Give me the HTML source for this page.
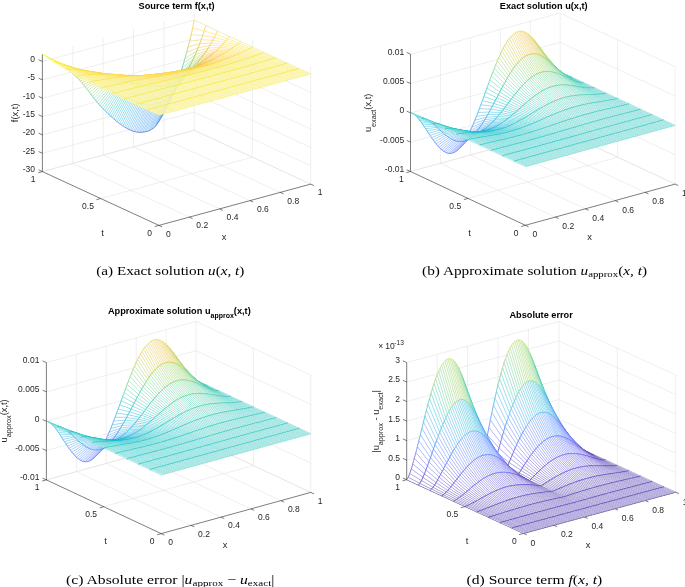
<!DOCTYPE html>
<html><head><meta charset="utf-8"><style>
html,body{margin:0;padding:0;background:#fff;width:685px;height:587px;overflow:hidden}
svg{display:block;will-change:transform}
.g{stroke:#dfdfdf;stroke-width:.5;fill:none}
.a{stroke:#262626;stroke-width:.6;fill:none}
text{font-family:"Liberation Sans",sans-serif;fill:#262626}
.t{font-size:8.5px}
.ti{font-size:9.2px;font-weight:bold;fill:#000}
.sub{font-size:6.5px}
.tsub{font-size:7px}
.l{font-size:9.35px}
.lsub{font-size:7.2px}
.sup{font-size:6.6px}
.cap{font-family:"Liberation Serif",serif;font-size:13px;fill:#000}
.it{font-style:italic}
.csub{font-size:9.2px}
path[class^=c]{fill:#fff;stroke-width:3}
path[class^=e]{fill:none;stroke-width:4.5}
.c0,.e0{stroke:#3e26a8}
.c1,.e1{stroke:#402ab4}
.c2,.e2{stroke:#422ec0}
.c3,.e3{stroke:#4332cb}
.c4,.e4{stroke:#4537d5}
.c5,.e5{stroke:#463cde}
.c6,.e6{stroke:#4741e5}
.c7,.e7{stroke:#4747eb}
.c8,.e8{stroke:#484df0}
.c9,.e9{stroke:#4852f4}
.c10,.e10{stroke:#4758f8}
.c11,.e11{stroke:#465efb}
.c12,.e12{stroke:#4563fd}
.c13,.e13{stroke:#4269fe}
.c14,.e14{stroke:#3e6fff}
.c15,.e15{stroke:#3875fe}
.c16,.e16{stroke:#327cfc}
.c17,.e17{stroke:#2f81fa}
.c18,.e18{stroke:#2e87f7}
.c19,.e19{stroke:#2d8cf3}
.c20,.e20{stroke:#2b91ef}
.c21,.e21{stroke:#2797eb}
.c22,.e22{stroke:#259be8}
.c23,.e23{stroke:#23a0e5}
.c24,.e24{stroke:#20a5e3}
.c25,.e25{stroke:#1ca9df}
.c26,.e26{stroke:#18addb}
.c27,.e27{stroke:#12b1d6}
.c28,.e28{stroke:#08b5d0}
.c29,.e29{stroke:#01b8ca}
.c30,.e30{stroke:#02bac3}
.c31,.e31{stroke:#0bbdbd}
.c32,.e32{stroke:#19bfb6}
.c33,.e33{stroke:#24c1ae}
.c34,.e34{stroke:#2cc4a7}
.c35,.e35{stroke:#31c69f}
.c36,.e36{stroke:#37c897}
.c37,.e37{stroke:#3fca8e}
.c38,.e38{stroke:#4acb84}
.c39,.e39{stroke:#57cc7a}
.c40,.e40{stroke:#64cd6f}
.c41,.e41{stroke:#72cd64}
.c42,.e42{stroke:#81cc59}
.c43,.e43{stroke:#8fcb4e}
.c44,.e44{stroke:#9dc943}
.c45,.e45{stroke:#abc739}
.c46,.e46{stroke:#b9c431}
.c47,.e47{stroke:#c5c22a}
.c48,.e48{stroke:#d1bf27}
.c49,.e49{stroke:#dcbd29}
.c50,.e50{stroke:#e6bb2d}
.c51,.e51{stroke:#f0ba36}
.c52,.e52{stroke:#f8ba3d}
.c53,.e53{stroke:#febe3c}
.c54,.e54{stroke:#fec338}
.c55,.e55{stroke:#fec934}
.c56,.e56{stroke:#fccf30}
.c57,.e57{stroke:#fad62d}
.c58,.e58{stroke:#f7dc2a}
.c59,.e59{stroke:#f5e327}
.c60,.e60{stroke:#f5e924}
.c61,.e61{stroke:#f6ef20}
.c62,.e62{stroke:#f7f51b}
.c63,.e63{stroke:#f9fb15}
</style></head><body>
<svg width="685" height="587" viewBox="0 0 685 587">
<path class="g" d="M189.3 217.1L72.8 163.4"/>
<path class="g" d="M219.6 208.9L103.2 155.1"/>
<path class="g" d="M250 200.6L133.5 146.8"/>
<path class="g" d="M280.3 192.4L163.9 138.6"/>
<path class="g" d="M310.7 184.1L194.2 130.3"/>
<path class="g" d="M100.7 198.5L252.4 157.2"/>
<path class="g" d="M42.4 171.6L194.2 130.3"/>
<path class="g" d="M72.8 163.4L72.8 45.9"/>
<path class="g" d="M103.2 155.1L103.2 37.7"/>
<path class="g" d="M133.5 146.8L133.5 29.4"/>
<path class="g" d="M163.9 138.6L163.9 21.2"/>
<path class="g" d="M194.2 130.3L194.2 12.9"/>
<path class="g" d="M42.4 171.6L194.2 130.3"/>
<path class="g" d="M194.2 130.3L310.7 184.1"/>
<path class="g" d="M42.4 153.3L194.2 112"/>
<path class="g" d="M194.2 112L310.7 165.8"/>
<path class="g" d="M42.4 134.9L194.2 93.6"/>
<path class="g" d="M194.2 93.6L310.7 147.4"/>
<path class="g" d="M42.4 116.6L194.2 75.3"/>
<path class="g" d="M194.2 75.3L310.7 129.1"/>
<path class="g" d="M42.4 98.2L194.2 56.9"/>
<path class="g" d="M194.2 56.9L310.7 110.7"/>
<path class="g" d="M42.4 79.9L194.2 38.6"/>
<path class="g" d="M194.2 38.6L310.7 92.4"/>
<path class="g" d="M42.4 61.5L194.2 20.2"/>
<path class="g" d="M194.2 20.2L310.7 74"/>
<path class="g" d="M310.7 184.1L310.7 66.7"/>
<path class="g" d="M252.4 157.2L252.4 39.8"/>
<path class="a" d="M158.9 225.4L310.7 184.1"/>
<path class="a" d="M158.9 225.4L42.4 171.6"/>
<path class="a" d="M42.4 171.6L42.4 54.2"/>
<path class="a" d="M158.9 225.4L162.2 226.9"/>
<path class="a" d="M189.3 217.1L192.5 218.7"/>
<path class="a" d="M219.6 208.9L222.9 210.4"/>
<path class="a" d="M250 200.6L253.2 202.1"/>
<path class="a" d="M280.3 192.4L283.6 193.9"/>
<path class="a" d="M310.7 184.1L313.9 185.6"/>
<path class="a" d="M158.9 225.4L154.7 226.6"/>
<path class="a" d="M100.7 198.5L96.4 199.7"/>
<path class="a" d="M42.4 171.6L38.2 172.8"/>
<path class="a" d="M42.4 171.6L38.6 169.8"/>
<path class="a" d="M42.4 153.3L38.6 151.5"/>
<path class="a" d="M42.4 134.9L38.6 133.1"/>
<path class="a" d="M42.4 116.6L38.6 114.8"/>
<path class="a" d="M42.4 98.2L38.6 96.4"/>
<path class="a" d="M42.4 79.9L38.6 78.1"/>
<path class="a" d="M42.4 61.5L38.6 59.7"/>
<g transform="scale(.1)"><path class=c21 d="M1664 993l15-13l-116 271l-15 19z"/>
<path class=e1 d="M1548 1270l15-19"/>
<path class=c21 d="M1679 980l15-16l-116 266l-15 21z"/>
<path class=e2 d="M1563 1251l15-21"/>
<path class=c21 d="M1649 1003l15-10l-116 277l-16 13z"/>
<path class=e0 d="M1532 1283l16-13"/>
<path class=c22 d="M1694 964l16-17l-117 259l-15 24z"/>
<path class=e3 d="M1578 1230l15-24"/>
<path class=c23 d="M1710 947l15-17l-117 252l-15 24z"/>
<path class=e4 d="M1593 1206l15-24"/>
<path class=c20 d="M1634 1011l15-8l-117 280l-15 9z"/>
<path class=e0 d="M1517 1292l15-9"/>
<path class=c24 d="M1725 930l15-18l-117 244l-15 26z"/>
<path class=e5 d="M1608 1182l15-26"/>
<path class=c20 d="M1618 1018l16-7l-117 281l-15 9z"/>
<path class=e0 d="M1502 1301l15-9"/>
<path class=c25 d="M1740 912l15-20l-116 235l-16 29z"/>
<path class=e7 d="M1623 1156l16-29"/>
<path class=c20 d="M1603 1025l15-7l-116 283l-15 8z"/>
<path class=e0 d="M1487 1309l15-8"/>
<path class=c26 d="M1755 892l15-22l-116 227l-15 30z"/>
<path class=e8 d="M1639 1127l15-30"/>
<path class=c20 d="M1588 1029l15-4l-116 284l-15 5z"/>
<path class=e0 d="M1472 1314l15-5"/>
<path class=c27 d="M1770 870l15-23l-116 217l-15 33z"/>
<path class=e10 d="M1654 1097l15-33"/>
<path class=c20 d="M1573 1033l15-4l-116 285l-16 3z"/>
<path class=e0 d="M1456 1317l16-3"/>
<path class=c28 d="M1785 847l16-23l-117 207l-15 33z"/>
<path class=e11 d="M1669 1064l15-33"/>
<path class=c29 d="M1801 824l15-24l-117 196l-15 35z"/>
<path class=e13 d="M1684 1031l15-35"/>
<path class=c20 d="M1558 1036l15-3l-117 284l-15 3z"/>
<path class=e0 d="M1441 1320l15-3"/>
<path class=c30 d="M1816 800l15-24l-117 186l-15 34z"/>
<path class=e15 d="M1699 996l15-34"/>
<path class=c20 d="M1543 1039l15-3l-117 284l-15 2z"/>
<path class=e0 d="M1426 1322l15-2"/>
<path class=c31 d="M1831 776l15-25l-116 175l-16 36z"/>
<path class=e17 d="M1714 962l16-36"/>
<path class=c20 d="M1527 1041l16-2l-117 283l-15 1z"/>
<path class=e0 d="M1411 1323l15-1"/>
<path class=c33 d="M1846 751l15-26l-116 164l-15 37z"/>
<path class=e19 d="M1730 926l15-37"/>
<path class=c20 d="M1512 1043l15-2l-116 282l-15 0z"/>
<path class=e0 d="M1396 1323l15 0"/>
<path class=c34 d="M1861 725l15-26l-116 152l-15 38z"/>
<path class=e21 d="M1745 889l15-38"/>
<path class=c21 d="M1497 1043l15 0l-116 280l-15-1z"/>
<path class=e0 d="M1381 1322l15 1"/>
<path class=c35 d="M1876 699l16-28l-117 140l-15 40z"/>
<path class=e23 d="M1760 851l15-40"/>
<path class=c21 d="M1482 1043l15 0l-116 279l-16-2z"/>
<path class=e1 d="M1365 1320l16 2"/>
<path class=c37 d="M1892 671l15-28l-117 127l-15 41z"/>
<path class=e25 d="M1775 811l15-41"/>
<path class=c21 d="M1467 1043l15 0l-117 277l-15-3z"/>
<path class=e1 d="M1350 1317l15 3"/>
<path class=c38 d="M1907 643l15-30l-116 113l-16 44z"/>
<path class=e27 d="M1790 770l16-44"/>
<path class=c21 d="M1452 1042l15 1l-117 274l-15-4z"/>
<path class=e2 d="M1335 1313l15 4"/>
<path class=c40 d="M1922 613l15-31l-116 99l-15 45z"/>
<path class=e30 d="M1806 726l15-45"/>
<path class=c22 d="M1436 1039l16 3l-117 271l-15-5z"/>
<path class=e2 d="M1320 1308l15 5"/>
<path class=c41 d="M1937 582l15-34l-116 84l-15 49z"/>
<path class=e32 d="M1821 681l15-49"/>
<path class=c22 d="M1421 1037l15 2l-116 269l-15-7z"/>
<path class=e3 d="M1305 1301l15 7"/>
<path class=c23 d="M1406 1033l15 4l-116 264l-15-7z"/>
<path class=e4 d="M1290 1294l15 7"/>
<path class=c43 d="M1952 548l16-36l-117 68l-15 52z"/>
<path class=e35 d="M1836 632l15-52"/>
<path class=c23 d="M1391 1030l15 3l-116 261l-16-8z"/>
<path class=e4 d="M1274 1286l16 8"/>
<path class=c45 d="M1968 512l15-37l-117 50l-15 55z"/>
<path class=e38 d="M1851 580l15-55"/>
<path class=c24 d="M1376 1025l15 5l-117 256l-15-9z"/>
<path class=e5 d="M1259 1277l15 9"/>
<path class=c47 d="M1983 475l15-39l-117 32l-15 57z"/>
<path class=e41 d="M1866 525l15-57"/>
<path class=c24 d="M1360 1021l16 4l-117 252l-15-8z"/>
<path class=e6 d="M1244 1269l15 8"/>
<path class=c25 d="M1345 1016l15 5l-116 248l-15-10z"/>
<path class=e7 d="M1229 1259l15 10"/>
<path class=c49 d="M1998 436l15-40l-116 14l-16 58z"/>
<path class=e44 d="M1881 468l16-58"/>
<path class=c25 d="M1330 1011l15 5l-116 243l-15-10z"/>
<path class=e8 d="M1214 1249l15 10"/>
<path class=c51 d="M2013 396l15-42l-116-7l-15 63z"/>
<path class=e47 d="M1897 410l15-63"/>
<path class=c26 d="M1315 1006l15 5l-116 238l-16-10z"/>
<path class=e9 d="M1198 1239l16 10"/>
<path class=c27 d="M1300 999l15 7l-117 233l-15-12z"/>
<path class=e10 d="M1183 1227l15 12"/>
<path class=c54 d="M2028 354l15-46l-116-28l-15 67z"/>
<path class=e51 d="M1912 347l15-67"/>
<path class=c27 d="M1285 993l15 6l-117 228l-15-12z"/>
<path class=e11 d="M1168 1215l15 12"/>
<path class=c37 d="M1841 765l15-13l-116 160l-15 18z"/>
<path class=e24 d="M1725 930l15-18"/>
<path class=c38 d="M1856 752l15-14l-116 154l-15 20z"/>
<path class=e25 d="M1740 912l15-20"/>
<path class=c37 d="M1826 777l15-12l-116 165l-15 17z"/>
<path class=e23 d="M1710 947l15-17"/>
<path class=c38 d="M1871 738l16-15l-117 147l-15 22z"/>
<path class=e26 d="M1755 892l15-22"/>
<path class=c36 d="M1811 789l15-12l-116 170l-16 17z"/>
<path class=e22 d="M1694 964l16-17"/>
<path class=c39 d="M1887 723l15-16l-117 140l-15 23z"/>
<path class=e27 d="M1770 870l15-23"/>
<path class=c36 d="M1796 801l15-12l-117 175l-15 16z"/>
<path class=e21 d="M1679 980l15-16"/>
<path class=c40 d="M1902 707l15-16l-116 133l-16 23z"/>
<path class=e28 d="M1785 847l16-23"/>
<path class=c35 d="M1780 810l16-9l-117 179l-15 13z"/>
<path class=e21 d="M1664 993l15-13"/>
<path class=c40 d="M1917 691l15-17l-116 126l-15 24z"/>
<path class=e29 d="M1801 824l15-24"/>
<path class=c41 d="M1932 674l15-16l-116 118l-15 24z"/>
<path class=e30 d="M1816 800l15-24"/>
<path class=c35 d="M1765 818l15-8l-116 183l-15 10z"/>
<path class=e21 d="M1649 1003l15-10"/>
<path class=c56 d="M2043 308l16-52l-117-54l-15 78z"/>
<path class=e55 d="M1927 280l15-78"/>
<path class=c42 d="M1947 658l16-17l-117 110l-15 25z"/>
<path class=e31 d="M1831 776l15-25"/>
<path class=c28 d="M1269 986l16 7l-117 222l-15-13z"/>
<path class=e12 d="M1153 1202l15 13"/>
<path class=c43 d="M1963 641l15-18l-117 102l-15 26z"/>
<path class=e33 d="M1846 751l15-26"/>
<path class=c35 d="M1750 825l15-7l-116 185l-15 8z"/>
<path class=e20 d="M1634 1011l15-8"/>
<path class=c43 d="M1978 623l15-18l-117 94l-15 26z"/>
<path class=e34 d="M1861 725l15-26"/>
<path class=c35 d="M1735 831l15-6l-116 186l-16 7z"/>
<path class=e20 d="M1618 1018l16-7"/>
<path class=c44 d="M1993 605l15-19l-116 85l-16 28z"/>
<path class=e35 d="M1876 699l16-28"/>
<path class=c45 d="M2008 586l15-19l-116 76l-15 28z"/>
<path class=e37 d="M1892 671l15-28"/>
<path class=c35 d="M1720 836l15-5l-117 187l-15 7z"/>
<path class=e20 d="M1603 1025l15-7"/>
<path class=c29 d="M1254 979l15 7l-116 216l-15-13z"/>
<path class=e13 d="M1138 1189l15 13"/>
<path class=c46 d="M2023 567l15-20l-116 66l-15 30z"/>
<path class=e38 d="M1907 643l15-30"/>
<path class=c35 d="M1705 841l15-5l-117 189l-15 4z"/>
<path class=e20 d="M1588 1029l15-4"/>
<path class=c47 d="M2038 547l16-21l-117 56l-15 31z"/>
<path class=e40 d="M1922 613l15-31"/>
<path class=c35 d="M1689 845l16-4l-117 188l-15 4z"/>
<path class=e20 d="M1573 1033l15-4"/>
<path class=c48 d="M2054 526l15-23l-117 45l-15 34z"/>
<path class=e41 d="M1937 582l15-34"/>
<path class=c29 d="M1239 971l15 8l-116 210l-15-14z"/>
<path class=e14 d="M1123 1175l15 14"/>
<path class=c35 d="M1674 848l15-3l-116 188l-15 3z"/>
<path class=e20 d="M1558 1036l15-3"/>
<path class=c49 d="M2069 503l15-24l-116 33l-16 36z"/>
<path class=e43 d="M1952 548l16-36"/>
<path class=c35 d="M1659 851l15-3l-116 188l-15 3z"/>
<path class=e20 d="M1543 1039l15-3"/>
<path class=c50 d="M2084 479l15-25l-116 21l-15 37z"/>
<path class=e45 d="M1968 512l15-37"/>
<path class=c30 d="M1224 964l15 7l-116 204l-16-13z"/>
<path class=e15 d="M1107 1162l16 13"/>
<path class=c35 d="M1644 854l15-3l-116 188l-16 2z"/>
<path class=e20 d="M1527 1041l16-2"/>
<path class=c52 d="M2099 454l15-25l-116 7l-15 39z"/>
<path class=e47 d="M1983 475l15-39"/>
<path class=c35 d="M1629 857l15-3l-117 187l-15 2z"/>
<path class=e20 d="M1512 1043l15-2"/>
<path class=c53 d="M2114 429l16-27l-117-6l-15 40z"/>
<path class=e49 d="M1998 436l15-40"/>
<path class=c31 d="M1209 956l15 8l-117 198l-15-14z"/>
<path class=e16 d="M1092 1148l15 14"/>
<path class=c35 d="M1613 859l16-2l-117 186l-15 0z"/>
<path class=e21 d="M1497 1043l15 0"/>
<path class=c54 d="M2130 402l15-28l-117-20l-15 42z"/>
<path class=e51 d="M2013 396l15-42"/>
<path class=c35 d="M1598 860l15-1l-116 184l-15 0z"/>
<path class=e21 d="M1482 1043l15 0"/>
<path class=c31 d="M1193 948l16 8l-117 192l-15-14z"/>
<path class=e17 d="M1077 1134l15 14"/>
<path class=c56 d="M2145 374l15-30l-117-36l-15 46z"/>
<path class=e54 d="M2028 354l15-46"/>
<path class=c35 d="M1583 861l15-1l-116 183l-15 0z"/>
<path class=e21 d="M1467 1043l15 0"/>
<path class=c32 d="M1178 940l15 8l-116 186l-15-15z"/>
<path class=e18 d="M1062 1119l15 15"/>
<path class=c36 d="M1568 862l15-1l-116 182l-15-1z"/>
<path class=e21 d="M1452 1042l15 1"/>
<path class=c57 d="M2160 344l15-34l-116-54l-16 52z"/>
<path class=e56 d="M2043 308l16-52"/>
<path class=c36 d="M1553 863l15-1l-116 180l-16-3z"/>
<path class=e22 d="M1436 1039l16 3"/>
<path class=c33 d="M1163 932l15 8l-116 179l-15-15z"/>
<path class=e19 d="M1047 1104l15 15"/>
<path class=c36 d="M1538 862l15 1l-117 176l-15-2z"/>
<path class=e22 d="M1421 1037l15 2"/>
<path class=c36 d="M1522 862l16 0l-117 175l-15-4z"/>
<path class=e23 d="M1406 1033l15 4"/>
<path class=c34 d="M1148 923l15 9l-116 172l-15-15z"/>
<path class=e20 d="M1032 1089l15 15"/>
<path class=c37 d="M1507 861l15 1l-116 171l-15-3z"/>
<path class=e23 d="M1391 1030l15 3"/>
<path class=c34 d="M1133 914l15 9l-116 166l-16-16z"/>
<path class=e22 d="M1016 1073l16 16"/>
<path class=c37 d="M1492 860l15 1l-116 169l-15-5z"/>
<path class=e24 d="M1376 1025l15 5"/>
<path class=c37 d="M1477 859l15 1l-116 165l-16-4z"/>
<path class=e24 d="M1360 1021l16 4"/>
<path class=c35 d="M1118 905l15 9l-117 159l-15-17z"/>
<path class=e23 d="M1001 1056l15 17"/>
<path class=c38 d="M1462 857l15 2l-117 162l-15-5z"/>
<path class=e25 d="M1345 1016l15 5"/>
<path class=c51 d="M2125 544l15-13l-117 36l-15 19z"/>
<path class=e45 d="M2008 586l15-19"/>
<path class=c51 d="M2140 531l15-13l-117 29l-15 20z"/>
<path class=e46 d="M2023 567l15-20"/>
<path class=c50 d="M2109 557l16-13l-117 42l-15 19z"/>
<path class=e44 d="M1993 605l15-19"/>
<path class=c52 d="M2155 518l15-14l-116 22l-16 21z"/>
<path class=e47 d="M2038 547l16-21"/>
<path class=c50 d="M2094 569l15-12l-116 48l-15 18z"/>
<path class=e43 d="M1978 623l15-18"/>
<path class=c53 d="M2170 504l15-15l-116 14l-15 23z"/>
<path class=e48 d="M2054 526l15-23"/>
<path class=c49 d="M2079 581l15-12l-116 54l-15 18z"/>
<path class=e43 d="M1963 641l15-18"/>
<path class=c53 d="M2185 489l15-16l-116 6l-15 24z"/>
<path class=e49 d="M2069 503l15-24"/>
<path class=c49 d="M2064 593l15-12l-116 60l-16 17z"/>
<path class=e42 d="M1947 658l16-17"/>
<path class=c48 d="M2049 605l15-12l-117 65l-15 16z"/>
<path class=e41 d="M1932 674l15-16"/>
<path class=c54 d="M2200 473l16-16l-117-3l-15 25z"/>
<path class=e50 d="M2084 479l15-25"/>
<path class=c48 d="M2033 616l16-11l-117 69l-15 17z"/>
<path class=e40 d="M1917 691l15-17"/>
<path class=c36 d="M1102 895l16 10l-117 151l-15-16z"/>
<path class=e24 d="M986 1040l15 16"/>
<path class=c48 d="M2018 627l15-11l-116 75l-15 16z"/>
<path class=e40 d="M1902 707l15-16"/>
<path class=c55 d="M2216 457l15-17l-117-11l-15 25z"/>
<path class=e52 d="M2099 454l15-25"/>
<path class=c47 d="M2003 638l15-11l-116 80l-15 16z"/>
<path class=e39 d="M1887 723l15-16"/>
<path class=c38 d="M1447 856l15 1l-117 159l-15-5z"/>
<path class=e25 d="M1330 1011l15 5"/>
<path class=c55 d="M2231 440l15-17l-116-21l-16 27z"/>
<path class=e53 d="M2114 429l16-27"/>
<path class=c47 d="M1988 649l15-11l-116 85l-16 15z"/>
<path class=e38 d="M1871 738l16-15"/>
<path class=c46 d="M1973 659l15-10l-117 89l-15 14z"/>
<path class=e38 d="M1856 752l15-14"/>
<path class=c56 d="M2246 423l15-18l-116-31l-15 28z"/>
<path class=e54 d="M2130 402l15-28"/>
<path class=c46 d="M1958 668l15-9l-117 93l-15 13z"/>
<path class=e37 d="M1841 765l15-13"/>
<path class=c57 d="M2261 405l15-19l-116-42l-15 30z"/>
<path class=e56 d="M2145 374l15-30"/>
<path class=c46 d="M1942 677l16-9l-117 97l-15 12z"/>
<path class=e37 d="M1826 777l15-12"/>
<path class=c38 d="M1431 854l16 2l-117 155l-15-5z"/>
<path class=e26 d="M1315 1006l15 5"/>
<path class=c46 d="M1927 686l15-9l-116 100l-15 12z"/>
<path class=e36 d="M1811 789l15-12"/>
<path class=c58 d="M2276 386l15-22l-116-54l-15 34z"/>
<path class=e57 d="M2160 344l15-34"/>
<path class=c37 d="M1087 885l15 10l-116 145l-15-18z"/>
<path class=e25 d="M971 1022l15 18"/>
<path class=c45 d="M1912 694l15-8l-116 103l-15 12z"/>
<path class=e36 d="M1796 801l15-12"/>
<path class=c45 d="M1897 702l15-8l-116 107l-16 9z"/>
<path class=e35 d="M1780 810l16-9"/>
<path class=c39 d="M1416 851l15 3l-116 152l-15-7z"/>
<path class=e27 d="M1300 999l15 7"/>
<path class=c45 d="M1882 708l15-6l-117 108l-15 8z"/>
<path class=e35 d="M1765 818l15-8"/>
<path class=c45 d="M1867 713l15-5l-117 110l-15 7z"/>
<path class=e35 d="M1750 825l15-7"/>
<path class=c38 d="M1072 874l15 11l-116 137l-15-19z"/>
<path class=e27 d="M956 1003l15 19"/>
<path class=c39 d="M1401 849l15 2l-116 148l-15-6z"/>
<path class=e27 d="M1285 993l15 6"/>
<path class=c45 d="M1851 719l16-6l-117 112l-15 6z"/>
<path class=e35 d="M1735 831l15-6"/>
<path class=c45 d="M1836 723l15-4l-116 112l-15 5z"/>
<path class=e35 d="M1720 836l15-5"/>
<path class=c40 d="M1386 846l15 3l-116 144l-16-7z"/>
<path class=e28 d="M1269 986l16 7"/>
<path class=c39 d="M1057 863l15 11l-116 129l-16-19z"/>
<path class=e28 d="M940 984l16 19"/>
<path class=c45 d="M1821 728l15-5l-116 113l-15 5z"/>
<path class=e35 d="M1705 841l15-5"/>
<path class=c45 d="M1806 732l15-4l-116 113l-16 4z"/>
<path class=e35 d="M1689 845l16-4"/>
<path class=c40 d="M1371 843l15 3l-117 140l-15-7z"/>
<path class=e29 d="M1254 979l15 7"/>
<path class=c45 d="M1791 736l15-4l-117 113l-15 3z"/>
<path class=e35 d="M1674 848l15-3"/>
<path class=c40 d="M1042 852l15 11l-117 121l-15-19z"/>
<path class=e30 d="M925 965l15 19"/>
<path class=c45 d="M1775 739l16-3l-117 112l-15 3z"/>
<path class=e35 d="M1659 851l15-3"/>
<path class=c40 d="M1355 840l16 3l-117 136l-15-8z"/>
<path class=e29 d="M1239 971l15 8"/>
<path class=c45 d="M1760 743l15-4l-116 112l-15 3z"/>
<path class=e35 d="M1644 854l15-3"/>
<path class=c41 d="M1340 837l15 3l-116 131l-15-7z"/>
<path class=e30 d="M1224 964l15 7"/>
<path class=c41 d="M1027 840l15 12l-117 113l-15-20z"/>
<path class=e31 d="M910 945l15 20"/>
<path class=c45 d="M1745 746l15-3l-116 111l-15 3z"/>
<path class=e35 d="M1629 857l15-3"/>
<path class=c45 d="M1730 749l15-3l-116 111l-16 2z"/>
<path class=e35 d="M1613 859l16-2"/>
<path class=c41 d="M1325 834l15 3l-116 127l-15-8z"/>
<path class=e31 d="M1209 956l15 8"/>
<path class=c45 d="M1715 751l15-2l-117 110l-15 1z"/>
<path class=e35 d="M1598 860l15-1"/>
<path class=c42 d="M1011 828l16 12l-117 105l-15-20z"/>
<path class=e33 d="M895 925l15 20"/>
<path class=c58 d="M2378 444l15-13l-117-45l-15 19z"/>
<path class=e57 d="M2261 405l15-19"/>
<path class=c58 d="M2393 431l15-13l-117-54l-15 22z"/>
<path class=e58 d="M2276 386l15-22"/>
<path class=c58 d="M2362 455l16-11l-117-39l-15 18z"/>
<path class=e56 d="M2246 423l15-18"/>
<path class=c42 d="M1310 830l15 4l-116 122l-16-8z"/>
<path class=e31 d="M1193 948l16 8"/>
<path class=c57 d="M2347 466l15-11l-116-32l-15 17z"/>
<path class=e55 d="M2231 440l15-17"/>
<path class=c45 d="M1700 754l15-3l-117 109l-15 1z"/>
<path class=e35 d="M1583 861l15-1"/>
<path class=c57 d="M2332 477l15-11l-116-26l-15 17z"/>
<path class=e55 d="M2216 457l15-17"/>
<path class=c56 d="M2317 488l15-11l-116-20l-16 16z"/>
<path class=e54 d="M2200 473l16-16"/>
<path class=c56 d="M2302 498l15-10l-117-15l-15 16z"/>
<path class=e53 d="M2185 489l15-16"/>
<path class=c56 d="M2287 508l15-10l-117-9l-15 15z"/>
<path class=e53 d="M2170 504l15-15"/>
<path class=c55 d="M2271 518l16-10l-117-4l-15 14z"/>
<path class=e52 d="M2155 518l15-14"/>
<path class=c45 d="M1684 756l16-2l-117 107l-15 1z"/>
<path class=e36 d="M1568 862l15-1"/>
<path class=c42 d="M1295 827l15 3l-117 118l-15-8z"/>
<path class=e32 d="M1178 940l15 8"/>
<path class=c55 d="M2256 527l15-9l-116 0l-15 13z"/>
<path class=e51 d="M2140 531l15-13"/>
<path class=c43 d="M996 816l15 12l-116 97l-15-20z"/>
<path class=e34 d="M880 905l15 20"/>
<path class=c55 d="M2241 536l15-9l-116 4l-15 13z"/>
<path class=e51 d="M2125 544l15-13"/>
<path class=c45 d="M1669 758l15-2l-116 106l-15 1z"/>
<path class=e36 d="M1553 863l15-1"/>
<path class=c54 d="M2226 545l15-9l-116 8l-16 13z"/>
<path class=e50 d="M2109 557l16-13"/>
<path class=c54 d="M2211 553l15-8l-117 12l-15 12z"/>
<path class=e50 d="M2094 569l15-12"/>
<path class=c43 d="M1280 823l15 4l-117 113l-15-8z"/>
<path class=e33 d="M1163 932l15 8"/>
<path class=c54 d="M2195 562l16-9l-117 16l-15 12z"/>
<path class=e49 d="M2079 581l15-12"/>
<path class=c46 d="M1654 759l15-1l-116 105l-15-1z"/>
<path class=e36 d="M1538 862l15 1"/>
<path class=c54 d="M2180 570l15-8l-116 19l-15 12z"/>
<path class=e49 d="M2064 593l15-12"/>
<path class=c44 d="M981 805l15 11l-116 89l-15-20z"/>
<path class=e35 d="M865 885l15 20"/>
<path class=c53 d="M2165 578l15-8l-116 23l-15 12z"/>
<path class=e48 d="M2049 605l15-12"/>
<path class=c46 d="M1639 761l15-2l-116 103l-16 0z"/>
<path class=e36 d="M1522 862l16 0"/>
<path class=c53 d="M2150 586l15-8l-116 27l-16 11z"/>
<path class=e48 d="M2033 616l16-11"/>
<path class=c43 d="M1264 819l16 4l-117 109l-15-9z"/>
<path class=e34 d="M1148 923l15 9"/>
<path class=c53 d="M2135 594l15-8l-117 30l-15 11z"/>
<path class=e48 d="M2018 627l15-11"/>
<path class=c53 d="M2120 602l15-8l-117 33l-15 11z"/>
<path class=e47 d="M2003 638l15-11"/>
<path class=c46 d="M1624 762l15-1l-117 101l-15-1z"/>
<path class=e37 d="M1507 861l15 1"/>
<path class=c52 d="M2104 609l16-7l-117 36l-15 11z"/>
<path class=e47 d="M1988 649l15-11"/>
<path class=c45 d="M966 793l15 12l-116 80l-16-20z"/>
<path class=e37 d="M849 865l16 20"/>
<path class=c44 d="M1249 815l15 4l-116 104l-15-9z"/>
<path class=e34 d="M1133 914l15 9"/>
<path class=c52 d="M2089 617l15-8l-116 40l-15 10z"/>
<path class=e46 d="M1973 659l15-10"/>
<path class=c46 d="M1609 763l15-1l-117 99l-15-1z"/>
<path class=e37 d="M1492 860l15 1"/>
<path class=c52 d="M2074 624l15-7l-116 42l-15 9z"/>
<path class=e46 d="M1958 668l15-9"/>
<path class=c52 d="M2059 630l15-6l-116 44l-16 9z"/>
<path class=e46 d="M1942 677l16-9"/>
<path class=c44 d="M1234 811l15 4l-116 99l-15-9z"/>
<path class=e35 d="M1118 905l15 9"/>
<path class=c46 d="M1593 764l16-1l-117 97l-15-1z"/>
<path class=e37 d="M1477 859l15 1"/>
<path class=c45 d="M951 782l15 11l-117 72l-15-19z"/>
<path class=e38 d="M834 846l15 19"/>
<path class=c52 d="M2044 637l15-7l-117 47l-15 9z"/>
<path class=e46 d="M1927 686l15-9"/>
<path class=c52 d="M2029 643l15-6l-117 49l-15 8z"/>
<path class=e45 d="M1912 694l15-8"/>
<path class=c47 d="M1578 765l15-1l-116 95l-15-2z"/>
<path class=e38 d="M1462 857l15 2"/>
<path class=c45 d="M1219 806l15 5l-116 94l-16-10z"/>
<path class=e36 d="M1102 895l16 10"/>
<path class=c52 d="M2013 649l16-6l-117 51l-15 8z"/>
<path class=e45 d="M1897 702l15-8"/>
<path class=c47 d="M1563 766l15-1l-116 92l-15-1z"/>
<path class=e38 d="M1447 856l15 1"/>
<path class=c51 d="M1998 655l15-6l-116 53l-15 6z"/>
<path class=e45 d="M1882 708l15-6"/>
<path class=c46 d="M935 772l16 10l-117 64l-15-18z"/>
<path class=e40 d="M819 828l15 18"/>
<path class=c51 d="M1983 659l15-4l-116 53l-15 5z"/>
<path class=e45 d="M1867 713l15-5"/>
<path class=c45 d="M1204 802l15 4l-117 89l-15-10z"/>
<path class=e37 d="M1087 885l15 10"/>
<path class=c59 d="M2509 480l15-9l-116-53l-15 13z"/>
<path class=e58 d="M2393 431l15-13"/>
<path class=c47 d="M1548 766l15 0l-116 90l-16-2z"/>
<path class=e38 d="M1431 854l16 2"/>
<path class=c59 d="M2494 488l15-8l-116-49l-15 13z"/>
<path class=e58 d="M2378 444l15-13"/>
<path class=c51 d="M1968 664l15-5l-116 54l-16 6z"/>
<path class=e45 d="M1851 719l16-6"/>
<path class=c58 d="M2479 496l15-8l-116-44l-16 11z"/>
<path class=e58 d="M2362 455l16-11"/>
<path class=c47 d="M920 761l15 11l-116 56l-15-18z"/>
<path class=e41 d="M804 810l15 18"/>
<path class=c47 d="M1533 767l15-1l-117 88l-15-3z"/>
<path class=e39 d="M1416 851l15 3"/>
<path class=c58 d="M2464 503l15-7l-117-41l-15 11z"/>
<path class=e57 d="M2347 466l15-11"/>
<path class=c51 d="M1953 669l15-5l-117 55l-15 4z"/>
<path class=e45 d="M1836 723l15-4"/>
<path class=c46 d="M1189 797l15 5l-117 83l-15-11z"/>
<path class=e38 d="M1072 874l15 11"/>
<path class=c58 d="M2449 511l15-8l-117-37l-15 11z"/>
<path class=e57 d="M2332 477l15-11"/>
<path class=c51 d="M1937 673l16-4l-117 54l-15 5z"/>
<path class=e45 d="M1821 728l15-5"/>
<path class=c58 d="M2433 518l16-7l-117-34l-15 11z"/>
<path class=e56 d="M2317 488l15-11"/>
<path class=c47 d="M1517 767l16 0l-117 84l-15-2z"/>
<path class=e39 d="M1401 849l15 2"/>
<path class=c58 d="M2418 525l15-7l-116-30l-15 10z"/>
<path class=e56 d="M2302 498l15-10"/>
<path class=c51 d="M1922 677l15-4l-116 55l-15 4z"/>
<path class=e45 d="M1806 732l15-4"/>
<path class=c46 d="M1173 791l16 6l-117 77l-15-11z"/>
<path class=e39 d="M1057 863l15 11"/>
<path class=c48 d="M905 752l15 9l-116 49l-15-17z"/>
<path class=e42 d="M789 793l15 17"/>
<path class=c57 d="M2403 532l15-7l-116-27l-15 10z"/>
<path class=e56 d="M2287 508l15-10"/>
<path class=c48 d="M1502 767l15 0l-116 82l-15-3z"/>
<path class=e40 d="M1386 846l15 3"/>
<path class=c51 d="M1907 681l15-4l-116 55l-15 4z"/>
<path class=e45 d="M1791 736l15-4"/>
<path class=c57 d="M2388 539l15-7l-116-24l-16 10z"/>
<path class=e55 d="M2271 518l16-10"/>
<path class=c57 d="M2373 546l15-7l-117-21l-15 9z"/>
<path class=e55 d="M2256 527l15-9"/>
<path class=c51 d="M1892 685l15-4l-116 55l-16 3z"/>
<path class=e45 d="M1775 739l16-3"/>
<path class=c47 d="M1158 786l15 5l-116 72l-15-11z"/>
<path class=e40 d="M1042 852l15 11"/>
<path class=c48 d="M1487 767l15 0l-116 79l-15-3z"/>
<path class=e40 d="M1371 843l15 3"/>
<path class=c57 d="M2357 552l16-6l-117-19l-15 9z"/>
<path class=e55 d="M2241 536l15-9"/>
<path class=c49 d="M890 743l15 9l-116 41l-15-16z"/>
<path class=e43 d="M774 777l15 16"/>
<path class=c51 d="M1877 689l15-4l-117 54l-15 4z"/>
<path class=e45 d="M1760 743l15-4"/>
<path class=c57 d="M2342 558l15-6l-116-16l-15 9z"/>
<path class=e54 d="M2226 545l15-9"/>
<path class=c48 d="M1472 767l15 0l-116 76l-16-3z"/>
<path class=e40 d="M1355 840l16 3"/>
<path class=c57 d="M2327 565l15-7l-116-13l-15 8z"/>
<path class=e54 d="M2211 553l15-8"/>
<path class=c51 d="M1862 692l15-3l-117 54l-15 3z"/>
<path class=e45 d="M1745 746l15-3"/>
<path class=c48 d="M1143 780l15 6l-116 66l-15-12z"/>
<path class=e41 d="M1027 840l15 12"/>
<path class=c57 d="M2312 571l15-6l-116-12l-16 9z"/>
<path class=e54 d="M2195 562l16-9"/>
<path class=c50 d="M875 735l15 8l-116 34l-16-14z"/>
<path class=e45 d="M758 763l16 14"/>
<path class=c48 d="M1457 767l15 0l-117 73l-15-3z"/>
<path class=e41 d="M1340 837l15 3"/>
<path class=c51 d="M1846 696l16-4l-117 54l-15 3z"/>
<path class=e45 d="M1730 749l15-3"/>
<path class=c56 d="M2297 577l15-6l-117-9l-15 8z"/>
<path class=e54 d="M2180 570l15-8"/>
<path class=c56 d="M2282 583l15-6l-117-7l-15 8z"/>
<path class=e53 d="M2165 578l15-8"/>
<path class=c48 d="M1128 774l15 6l-116 60l-16-12z"/>
<path class=e42 d="M1011 828l16 12"/>
<path class=c52 d="M1831 699l15-3l-116 53l-15 2z"/>
<path class=e45 d="M1715 751l15-2"/>
<path class=c49 d="M1442 767l15 0l-117 70l-15-3z"/>
<path class=e41 d="M1325 834l15 3"/>
<path class=c56 d="M2266 589l16-6l-117-5l-15 8z"/>
<path class=e53 d="M2150 586l15-8"/>
<path class=c50 d="M860 727l15 8l-117 28l-15-14z"/>
<path class=e46 d="M743 749l15 14"/>
<path class=c52 d="M1816 702l15-3l-116 52l-15 3z"/>
<path class=e45 d="M1700 754l15-3"/>
<path class=c56 d="M2251 595l15-6l-116-3l-15 8z"/>
<path class=e53 d="M2135 594l15-8"/>
<path class=c49 d="M1426 766l16 1l-117 67l-15-4z"/>
<path class=e42 d="M1310 830l15 4"/>
<path class=c49 d="M1113 768l15 6l-117 54l-15-12z"/>
<path class=e43 d="M996 816l15 12"/>
<path class=c56 d="M2236 601l15-6l-116-1l-15 8z"/>
<path class=e53 d="M2120 602l15-8"/>
<path class=c52 d="M1801 705l15-3l-116 52l-16 2z"/>
<path class=e45 d="M1684 756l16-2"/>
<path class=c56 d="M2221 607l15-6l-116 1l-16 7z"/>
<path class=e52 d="M2104 609l16-7"/>
<path class=c51 d="M844 720l16 7l-117 22l-15-13z"/>
<path class=e47 d="M728 736l15 13"/>
<path class=c59 d="M2626 531l15-6l-117-54l-15 9z"/>
<path class=e59 d="M2509 480l15-9"/>
<path class=c49 d="M1411 766l15 0l-116 64l-15-3z"/>
<path class=e42 d="M1295 827l15 3"/>
<path class=c52 d="M1786 708l15-3l-117 51l-15 2z"/>
<path class=e45 d="M1669 758l15-2"/>
<path class=c56 d="M2206 612l15-5l-117 2l-15 8z"/>
<path class=e52 d="M2089 617l15-8"/>
<path class=c49 d="M1097 763l16 5l-117 48l-15-11z"/>
<path class=e44 d="M981 805l15 11"/>
<path class=c59 d="M2611 537l15-6l-117-51l-15 8z"/>
<path class=e59 d="M2494 488l15-8"/>
<path class=c52 d="M1771 711l15-3l-117 50l-15 1z"/>
<path class=e46 d="M1654 759l15-1"/>
<path class=c56 d="M2191 618l15-6l-117 5l-15 7z"/>
<path class=e52 d="M2074 624l15-7"/>
<path class=c49 d="M1396 765l15 1l-116 61l-15-4z"/>
<path class=e43 d="M1280 823l15 4"/>
<path class=c59 d="M2595 543l16-6l-117-49l-15 8z"/>
<path class=e58 d="M2479 496l15-8"/>
<path class=c52 d="M829 713l15 7l-116 16l-15-12z"/>
<path class=e48 d="M713 724l15 12"/>
<path class=c56 d="M2175 623l16-5l-117 6l-15 6z"/>
<path class=e52 d="M2059 630l15-6"/>
<path class=c52 d="M1755 714l16-3l-117 48l-15 2z"/>
<path class=e46 d="M1639 761l15-2"/>
<path class=c59 d="M2580 548l15-5l-116-47l-15 7z"/>
<path class=e58 d="M2464 503l15-7"/>
<path class=c50 d="M1082 757l15 6l-116 42l-15-12z"/>
<path class=e45 d="M966 793l15 12"/>
<path class=c56 d="M2160 628l15-5l-116 7l-15 7z"/>
<path class=e52 d="M2044 637l15-7"/>
<path class=c50 d="M1381 765l15 0l-116 58l-16-4z"/>
<path class=e43 d="M1264 819l16 4"/>
<path class=c59 d="M2565 554l15-6l-116-45l-15 8z"/>
<path class=e58 d="M2449 511l15-8"/>
<path class=c52 d="M1740 716l15-2l-116 47l-15 1z"/>
<path class=e46 d="M1624 762l15-1"/>
<path class=c55 d="M2145 634l15-6l-116 9l-15 6z"/>
<path class=e52 d="M2029 643l15-6"/>
<path class=c59 d="M2550 559l15-5l-116-43l-16 7z"/>
<path class=e58 d="M2433 518l16-7"/>
<path class=c52 d="M814 707l15 6l-116 11l-15-12z"/>
<path class=e49 d="M698 712l15 12"/>
<path class=c50 d="M1366 764l15 1l-117 54l-15-4z"/>
<path class=e44 d="M1249 815l15 4"/>
<path class=c52 d="M1725 719l15-3l-116 46l-15 1z"/>
<path class=e46 d="M1609 763l15-1"/>
<path class=c55 d="M2130 639l15-5l-116 9l-16 6z"/>
<path class=e52 d="M2013 649l16-6"/>
<path class=c51 d="M1067 752l15 5l-116 36l-15-11z"/>
<path class=e45 d="M951 782l15 11"/>
<path class=c58 d="M2535 564l15-5l-117-41l-15 7z"/>
<path class=e58 d="M2418 525l15-7"/>
<path class=c55 d="M2115 643l15-4l-117 10l-15 6z"/>
<path class=e51 d="M1998 655l15-6"/>
<path class=c58 d="M2519 570l16-6l-117-39l-15 7z"/>
<path class=e57 d="M2403 532l15-7"/>
<path class=c52 d="M1710 721l15-2l-116 44l-16 1z"/>
<path class=e46 d="M1593 764l16-1"/>
<path class=c53 d="M799 701l15 6l-116 5l-16-11z"/>
<path class=e50 d="M682 701l16 11"/>
<path class=c50 d="M1351 763l15 1l-117 51l-15-4z"/>
<path class=e44 d="M1234 811l15 4"/>
<path class=c58 d="M2504 575l15-5l-116-38l-15 7z"/>
<path class=e57 d="M2388 539l15-7"/>
<path class=c55 d="M2099 648l16-5l-117 12l-15 4z"/>
<path class=e51 d="M1983 659l15-4"/>
<path class=c51 d="M1052 746l15 6l-116 30l-16-10z"/>
<path class=e46 d="M935 772l16 10"/>
<path class=c52 d="M1695 723l15-2l-117 43l-15 1z"/>
<path class=e47 d="M1578 765l15-1"/>
<path class=c58 d="M2489 580l15-5l-116-36l-15 7z"/>
<path class=e57 d="M2373 546l15-7"/>
<path class=c55 d="M2084 652l15-4l-116 11l-15 5z"/>
<path class=e51 d="M1968 664l15-5"/>
<path class=c51 d="M1335 762l16 1l-117 48l-15-5z"/>
<path class=e45 d="M1219 806l15 5"/>
<path class=c53 d="M784 695l15 6l-117 0l-15-11z"/>
<path class=e51 d="M667 690l15 11"/>
<path class=c58 d="M2474 585l15-5l-116-34l-16 6z"/>
<path class=e57 d="M2357 552l16-6"/>
<path class=c52 d="M1679 726l16-3l-117 42l-15 1z"/>
<path class=e47 d="M1563 766l15-1"/>
<path class=c55 d="M2069 657l15-5l-116 12l-15 5z"/>
<path class=e51 d="M1953 669l15-5"/>
<path class=c52 d="M1037 742l15 4l-117 26l-15-11z"/>
<path class=e47 d="M920 761l15 11"/>
<path class=c58 d="M2459 590l15-5l-117-33l-15 6z"/>
<path class=e57 d="M2342 558l15-6"/>
<path class=c51 d="M1320 761l15 1l-116 44l-15-4z"/>
<path class=e45 d="M1204 802l15 4"/>
<path class=c55 d="M2054 661l15-4l-116 12l-16 4z"/>
<path class=e51 d="M1937 673l16-4"/>
<path class=c53 d="M1664 728l15-2l-116 40l-15 0z"/>
<path class=e47 d="M1548 766l15 0"/>
<path class=c58 d="M2444 595l15-5l-117-32l-15 7z"/>
<path class=e57 d="M2327 565l15-7"/>
<path class=c54 d="M769 690l15 5l-117-5l-15-11z"/>
<path class=e51 d="M652 679l15 11"/>
<path class=c55 d="M2039 665l15-4l-117 12l-15 4z"/>
<path class=e51 d="M1922 677l15-4"/>
<path class=c52 d="M1022 737l15 5l-117 19l-15-9z"/>
<path class=e48 d="M905 752l15 9"/>
<path class=c53 d="M1649 730l15-2l-116 38l-15 1z"/>
<path class=e47 d="M1533 767l15-1"/>
<path class=c51 d="M1305 760l15 1l-116 41l-15-5z"/>
<path class=e46 d="M1189 797l15 5"/>
<path class=c58 d="M2428 600l16-5l-117-30l-15 6z"/>
<path class=e57 d="M2312 571l15-6"/>
<path class=c55 d="M2024 669l15-4l-117 12l-15 4z"/>
<path class=e51 d="M1907 681l15-4"/>
<path class=c58 d="M2413 605l15-5l-116-29l-15 6z"/>
<path class=e56 d="M2297 577l15-6"/>
<path class=c53 d="M1634 732l15-2l-116 37l-16 0z"/>
<path class=e47 d="M1517 767l16 0"/>
<path class=c55 d="M753 684l16 6l-117-11l-15-10z"/>
<path class=e52 d="M637 669l15 10"/>
<path class=c52 d="M1290 759l15 1l-116 37l-16-6z"/>
<path class=e46 d="M1173 791l16 6"/>
<path class=c55 d="M2008 673l16-4l-117 12l-15 4z"/>
<path class=e51 d="M1892 685l15-4"/>
<path class=c53 d="M1006 733l16 4l-117 15l-15-9z"/>
<path class=e49 d="M890 743l15 9"/>
<path class=c58 d="M2398 610l15-5l-116-28l-15 6z"/>
<path class=e56 d="M2282 583l15-6"/>
<path class=c59 d="M2742 584l15-5l-116-54l-15 6z"/>
<path class=e59 d="M2626 531l15-6"/>
<path class=c53 d="M1619 734l15-2l-117 35l-15 0z"/>
<path class=e48 d="M1502 767l15 0"/>
<path class=c58 d="M2383 615l15-5l-116-27l-16 6z"/>
<path class=e56 d="M2266 589l16-6"/>
<path class=c55 d="M1993 677l15-4l-116 12l-15 4z"/>
<path class=e51 d="M1877 689l15-4"/>
<path class=c52 d="M1275 757l15 2l-117 32l-15-5z"/>
<path class=e47 d="M1158 786l15 5"/>
<path class=c55 d="M738 679l15 5l-116-15l-15-10z"/>
<path class=e53 d="M622 659l15 10"/>
<path class=c59 d="M2727 588l15-4l-116-53l-15 6z"/>
<path class=e59 d="M2611 537l15-6"/>
<path class=c53 d="M991 730l15 3l-116 10l-15-8z"/>
<path class=e50 d="M875 735l15 8"/>
<path class=c58 d="M2368 620l15-5l-117-26l-15 6z"/>
<path class=e56 d="M2251 595l15-6"/>
<path class=c53 d="M1604 736l15-2l-117 33l-15 0z"/>
<path class=e48 d="M1487 767l15 0"/>
<path class=c55 d="M1978 681l15-4l-116 12l-15 3z"/>
<path class=e51 d="M1862 692l15-3"/>
<path class=c59 d="M2712 593l15-5l-116-51l-16 6z"/>
<path class=e59 d="M2595 543l16-6"/>
<path class=c58 d="M2353 624l15-4l-117-25l-15 6z"/>
<path class=e56 d="M2236 601l15-6"/>
<path class=c55 d="M1963 685l15-4l-116 11l-16 4z"/>
<path class=e51 d="M1846 696l16-4"/>
<path class=c52 d="M1259 755l16 2l-117 29l-15-6z"/>
<path class=e48 d="M1143 780l15 6"/>
<path class=c53 d="M1588 738l16-2l-117 31l-15 0z"/>
<path class=e48 d="M1472 767l15 0"/>
<path class=c59 d="M2697 597l15-4l-117-50l-15 5z"/>
<path class=e59 d="M2580 548l15-5"/>
<path class=c56 d="M723 674l15 5l-116-20l-15-10z"/>
<path class=e54 d="M607 649l15 10"/>
<path class=c54 d="M976 727l15 3l-116 5l-15-8z"/>
<path class=e50 d="M860 727l15 8"/>
<path class=c58 d="M2337 629l16-5l-117-23l-15 6z"/>
<path class=e56 d="M2221 607l15-6"/>
<path class=c55 d="M1948 688l15-3l-117 11l-15 3z"/>
<path class=e52 d="M1831 699l15-3"/>
<path class=c59 d="M2681 602l16-5l-117-49l-15 6z"/>
<path class=e59 d="M2565 554l15-6"/>
<path class=c53 d="M1573 740l15-2l-116 29l-15 0z"/>
<path class=e48 d="M1457 767l15 0"/>
<path class=c58 d="M2322 634l15-5l-116-22l-15 5z"/>
<path class=e56 d="M2206 612l15-5"/>
<path class=c53 d="M1244 754l15 1l-116 25l-15-6z"/>
<path class=e48 d="M1128 774l15 6"/>
<path class=c55 d="M1933 692l15-4l-117 11l-15 3z"/>
<path class=e52 d="M1816 702l15-3"/>
<path class=c59 d="M2666 607l15-5l-116-48l-15 5z"/>
<path class=e59 d="M2550 559l15-5"/>
<path class=c54 d="M961 724l15 3l-116 0l-16-7z"/>
<path class=e51 d="M844 720l16 7"/>
<path class=c56 d="M708 669l15 5l-116-25l-16-10z"/>
<path class=e55 d="M591 639l16 10"/>
<path class=c58 d="M2307 639l15-5l-116-22l-15 6z"/>
<path class=e56 d="M2191 618l15-6"/>
<path class=c53 d="M1558 741l15-1l-116 27l-15 0z"/>
<path class=e49 d="M1442 767l15 0"/>
<path class=c59 d="M2651 611l15-4l-116-48l-15 5z"/>
<path class=e58 d="M2535 564l15-5"/>
<path class=c55 d="M1917 696l16-4l-117 10l-15 3z"/>
<path class=e52 d="M1801 705l15-3"/>
<path class=c53 d="M1229 752l15 2l-116 20l-15-6z"/>
<path class=e49 d="M1113 768l15 6"/>
<path class=c58 d="M2292 643l15-4l-116-21l-16 5z"/>
<path class=e56 d="M2175 623l16-5"/>
<path class=c54 d="M1543 743l15-2l-116 26l-16-1z"/>
<path class=e49 d="M1426 766l16 1"/>
<path class=c59 d="M2636 616l15-5l-116-47l-16 6z"/>
<path class=e58 d="M2519 570l16-6"/>
<path class=c54 d="M946 721l15 3l-117-4l-15-7z"/>
<path class=e52 d="M829 713l15 7"/>
<path class=c56 d="M1902 699l15-3l-116 9l-15 3z"/>
<path class=e52 d="M1786 708l15-3"/>
<path class=c57 d="M693 664l15 5l-117-30l-15-10z"/>
<path class=e56 d="M576 629l15 10"/>
<path class=c58 d="M2277 648l15-5l-117-20l-15 5z"/>
<path class=e56 d="M2160 628l15-5"/>
<path class=c53 d="M1214 750l15 2l-116 16l-16-5z"/>
<path class=e49 d="M1097 763l16 5"/>
<path class=c59 d="M2621 620l15-4l-117-46l-15 5z"/>
<path class=e58 d="M2504 575l15-5"/>
<path class=c58 d="M2261 653l16-5l-117-20l-15 6z"/>
<path class=e55 d="M2145 634l15-6"/>
<path class=c54 d="M1528 745l15-2l-117 23l-15 0z"/>
<path class=e49 d="M1411 766l15 0"/>
<path class=c56 d="M1887 703l15-4l-116 9l-15 3z"/>
<path class=e52 d="M1771 711l15-3"/>
<path class=c55 d="M931 719l15 2l-117-8l-15-6z"/>
<path class=e52 d="M814 707l15 6"/>
<path class=c59 d="M2606 624l15-4l-117-45l-15 5z"/>
<path class=e58 d="M2489 580l15-5"/>
<path class=c58 d="M2246 657l15-4l-116-19l-15 5z"/>
<path class=e55 d="M2130 639l15-5"/>
<path class=c57 d="M677 659l16 5l-117-35l-15-10z"/>
<path class=e57 d="M561 619l15 10"/>
<path class=c56 d="M1872 706l15-3l-116 8l-16 3z"/>
<path class=e52 d="M1755 714l16-3"/>
<path class=c54 d="M1513 746l15-1l-117 21l-15-1z"/>
<path class=e49 d="M1396 765l15 1"/>
<path class=c54 d="M1199 749l15 1l-117 13l-15-6z"/>
<path class=e50 d="M1082 757l15 6"/>
<path class=c59 d="M2590 629l16-5l-117-44l-15 5z"/>
<path class=e58 d="M2474 585l15-5"/>
<path class=c58 d="M2231 661l15-4l-116-18l-15 4z"/>
<path class=e55 d="M2115 643l15-4"/>
<path class=c55 d="M915 716l16 3l-117-12l-15-6z"/>
<path class=e53 d="M799 701l15 6"/>
<path class=c56 d="M1857 709l15-3l-117 8l-15 2z"/>
<path class=e52 d="M1740 716l15-2"/>
<path class=c59 d="M2575 633l15-4l-116-44l-15 5z"/>
<path class=e58 d="M2459 590l15-5"/>
<path class=c54 d="M1497 748l16-2l-117 19l-15 0z"/>
<path class=e50 d="M1381 765l15 0"/>
<path class=c58 d="M662 654l15 5l-116-40l-15-9z"/>
<path class=e57 d="M546 610l15 9"/>
<path class=c58 d="M2216 666l15-5l-116-18l-16 5z"/>
<path class=e55 d="M2099 648l16-5"/>
<path class=c54 d="M1184 747l15 2l-117 8l-15-5z"/>
<path class=e51 d="M1067 752l15 5"/>
<path class=c56 d="M1841 713l16-4l-117 7l-15 3z"/>
<path class=e52 d="M1725 719l15-3"/>
<path class=c59 d="M2560 638l15-5l-116-43l-15 5z"/>
<path class=e58 d="M2444 595l15-5"/>
<path class=c56 d="M900 714l15 2l-116-15l-15-6z"/>
<path class=e53 d="M784 695l15 6"/>
<path class=c58 d="M2201 670l15-4l-117-18l-15 4z"/>
<path class=e55 d="M2084 652l15-4"/>
<path class=c54 d="M1482 750l15-2l-116 17l-15-1z"/>
<path class=e50 d="M1366 764l15 1"/>
<path class=c56 d="M1826 716l15-3l-116 6l-15 2z"/>
<path class=e52 d="M1710 721l15-2"/>
<path class=c59 d="M2545 642l15-4l-116-43l-16 5z"/>
<path class=e58 d="M2428 600l16-5"/>
<path class=c54 d="M1168 746l16 1l-117 5l-15-6z"/>
<path class=e51 d="M1052 746l15 6"/>
<path class=c58 d="M647 649l15 5l-116-44l-15-10z"/>
<path class=e58 d="M531 600l15 10"/>
<path class=c58 d="M2186 674l15-4l-117-18l-15 5z"/>
<path class=e55 d="M2069 657l15-5"/>
<path class=c54 d="M1467 751l15-1l-116 14l-15-1z"/>
<path class=e50 d="M1351 763l15 1"/>
<path class=c59 d="M2859 637l15-4l-117-54l-15 5z"/>
<path class=e59 d="M2742 584l15-5"/>
<path class=c59 d="M2530 647l15-5l-117-42l-15 5z"/>
<path class=e58 d="M2413 605l15-5"/>
<path class=c56 d="M885 712l15 2l-116-19l-15-5z"/>
<path class=e54 d="M769 690l15 5"/>
<path class=c56 d="M1811 719l15-3l-116 5l-15 2z"/>
<path class=e52 d="M1695 723l15-2"/>
<path class=c58 d="M2170 678l16-4l-117-17l-15 4z"/>
<path class=e55 d="M2054 661l15-4"/>
<path class=c55 d="M1153 745l15 1l-116 0l-15-4z"/>
<path class=e52 d="M1037 742l15 4"/>
<path class=c59 d="M2843 641l16-4l-117-53l-15 4z"/>
<path class=e59 d="M2727 588l15-4"/>
<path class=c59 d="M2514 651l16-4l-117-42l-15 5z"/>
<path class=e58 d="M2398 610l15-5"/>
<path class=c55 d="M1452 752l15-1l-116 12l-16-1z"/>
<path class=e51 d="M1335 762l16 1"/>
<path class=c56 d="M1796 723l15-4l-116 4l-16 3z"/>
<path class=e52 d="M1679 726l16-3"/>
<path class=c59 d="M632 645l15 4l-116-49l-15-9z"/>
<path class=e59 d="M516 591l15 9"/>
<path class=c58 d="M2155 682l15-4l-116-17l-15 4z"/>
<path class=e55 d="M2039 665l15-4"/>
<path class=c56 d="M870 711l15 1l-116-22l-16-6z"/>
<path class=e55 d="M753 684l16 6"/>
<path class=c59 d="M2828 645l15-4l-116-53l-15 5z"/>
<path class=e59 d="M2712 593l15-5"/>
<path class=c59 d="M2499 655l15-4l-116-41l-15 5z"/>
<path class=e58 d="M2383 615l15-5"/>
<path class=c55 d="M1138 744l15 1l-116-3l-15-5z"/>
<path class=e52 d="M1022 737l15 5"/>
<path class=c56 d="M1781 726l15-3l-117 3l-15 2z"/>
<path class=e53 d="M1664 728l15-2"/>
<path class=c55 d="M1437 754l15-2l-117 10l-15-1z"/>
<path class=e51 d="M1320 761l15 1"/>
<path class=c58 d="M2140 686l15-4l-116-17l-15 4z"/>
<path class=e55 d="M2024 669l15-4"/>
<path class=c59 d="M2813 650l15-5l-116-52l-15 4z"/>
<path class=e59 d="M2697 597l15-4"/>
<path class=c59 d="M2484 660l15-5l-116-40l-15 5z"/>
<path class=e58 d="M2368 620l15-5"/>
<path class=c60 d="M617 640l15 5l-116-54l-16-8z"/>
<path class=e60 d="M500 583l16 8"/>
<path class=c57 d="M855 709l15 2l-117-27l-15-5z"/>
<path class=e55 d="M738 679l15 5"/>
<path class=c58 d="M2125 691l15-5l-116-17l-16 4z"/>
<path class=e55 d="M2008 673l16-4"/>
<path class=c56 d="M1766 729l15-3l-117 2l-15 2z"/>
<path class=e53 d="M1649 730l15-2"/>
<path class=c55 d="M1421 755l16-1l-117 7l-15-1z"/>
<path class=e51 d="M1305 760l15 1"/>
<path class=c55 d="M1123 743l15 1l-116-7l-16-4z"/>
<path class=e53 d="M1006 733l16 4"/>
<path class=c59 d="M2469 664l15-4l-116-40l-15 4z"/>
<path class=e58 d="M2353 624l15-4"/>
<path class=c59 d="M2798 654l15-4l-116-53l-16 5z"/>
<path class=e59 d="M2681 602l16-5"/>
<path class=c58 d="M2110 695l15-4l-117-18l-15 4z"/>
<path class=e55 d="M1993 677l15-4"/>
<path class=c56 d="M1750 732l16-3l-117 1l-15 2z"/>
<path class=e53 d="M1634 732l15-2"/>
<path class=c59 d="M2454 668l15-4l-116-40l-16 5z"/>
<path class=e58 d="M2337 629l16-5"/>
<path class=c59 d="M2783 658l15-4l-117-52l-15 5z"/>
<path class=e59 d="M2666 607l15-5"/>
<path class=c57 d="M839 707l16 2l-117-30l-15-5z"/>
<path class=e56 d="M723 674l15 5"/>
<path class=c60 d="M602 636l15 4l-117-57l-15-9z"/>
<path class=e61 d="M485 574l15 9"/>
<path class=c55 d="M1406 756l15-1l-116 5l-15-1z"/>
<path class=e52 d="M1290 759l15 1"/>
<path class=c56 d="M1108 743l15 0l-117-10l-15-3z"/>
<path class=e53 d="M991 730l15 3"/>
<path class=c58 d="M2094 699l16-4l-117-18l-15 4z"/>
<path class=e55 d="M1978 681l15-4"/>
<path class=c56 d="M1735 735l15-3l-116 0l-15 2z"/>
<path class=e53 d="M1619 734l15-2"/>
<path class=c59 d="M2439 673l15-5l-117-39l-15 5z"/>
<path class=e58 d="M2322 634l15-5"/>
<path class=c59 d="M2768 662l15-4l-117-51l-15 4z"/>
<path class=e59 d="M2651 611l15-4"/>
<path class=c55 d="M1391 757l15-1l-116 3l-15-2z"/>
<path class=e52 d="M1275 757l15 2"/>
<path class=c58 d="M2079 703l15-4l-116-18l-15 4z"/>
<path class=e55 d="M1963 685l15-4"/>
<path class=c57 d="M824 706l15 1l-116-33l-15-5z"/>
<path class=e56 d="M708 669l15 5"/>
<path class=c59 d="M2423 677l16-4l-117-39l-15 5z"/>
<path class=e58 d="M2307 639l15-5"/>
<path class=c56 d="M1093 743l15 0l-117-13l-15-3z"/>
<path class=e54 d="M976 727l15 3"/>
<path class=c59 d="M2752 666l16-4l-117-51l-15 5z"/>
<path class=e59 d="M2636 616l15-5"/>
<path class=c61 d="M586 632l16 4l-117-62l-15-8z"/>
<path class=e61 d="M470 566l15 8"/>
<path class=c56 d="M1720 738l15-3l-116-1l-15 2z"/>
<path class=e53 d="M1604 736l15-2"/>
<path class=c58 d="M2064 707l15-4l-116-18l-15 3z"/>
<path class=e55 d="M1948 688l15-3"/>
<path class=c59 d="M2408 681l15-4l-116-38l-15 4z"/>
<path class=e58 d="M2292 643l15-4"/>
<path class=c55 d="M1376 758l15-1l-116 0l-16-2z"/>
<path class=e52 d="M1259 755l16 2"/>
<path class=c59 d="M2737 671l15-5l-116-50l-15 4z"/>
<path class=e59 d="M2621 620l15-4"/>
<path class=c56 d="M1705 741l15-3l-116-2l-16 2z"/>
<path class=e53 d="M1588 738l16-2"/>
<path class=c58 d="M809 704l15 2l-116-37l-15-5z"/>
<path class=e57 d="M693 664l15 5"/>
<path class=c56 d="M1077 743l16 0l-117-16l-15-3z"/>
<path class=e54 d="M961 724l15 3"/>
<path class=c58 d="M2049 711l15-4l-116-19l-15 4z"/>
<path class=e55 d="M1933 692l15-4"/>
<path class=c61 d="M571 628l15 4l-116-66l-15-9z"/>
<path class=e62 d="M455 557l15 9"/>
<path class=c59 d="M2393 686l15-5l-116-38l-15 5z"/>
<path class=e58 d="M2277 648l15-5"/>
<path class=c59 d="M2722 675l15-4l-116-51l-15 4z"/>
<path class=e59 d="M2606 624l15-4"/>
<path class=c56 d="M1690 744l15-3l-117-3l-15 2z"/>
<path class=e53 d="M1573 740l15-2"/>
<path class=c56 d="M1361 759l15-1l-117-3l-15-1z"/>
<path class=e53 d="M1244 754l15 1"/>
<path class=c58 d="M2034 714l15-3l-116-19l-16 4z"/>
<path class=e55 d="M1917 696l16-4"/>
<path class=c59 d="M2378 690l15-4l-116-38l-16 5z"/>
<path class=e58 d="M2261 653l16-5"/>
<path class=c56 d="M1062 743l15 0l-116-19l-15-3z"/>
<path class=e54 d="M946 721l15 3"/>
<path class=c58 d="M794 702l15 2l-116-40l-16-5z"/>
<path class=e57 d="M677 659l16 5"/>
<path class=c59 d="M2707 679l15-4l-116-51l-16 5z"/>
<path class=e59 d="M2590 629l16-5"/>
<path class=c56 d="M1675 747l15-3l-117-4l-15 1z"/>
<path class=e53 d="M1558 741l15-1"/>
<path class=c62 d="M556 624l15 4l-116-71l-15-8z"/>
<path class=e63 d="M440 549l15 8"/>
<path class=c56 d="M1346 760l15-1l-117-5l-15-2z"/>
<path class=e53 d="M1229 752l15 2"/>
<path class=c58 d="M2019 718l15-4l-117-18l-15 3z"/>
<path class=e56 d="M1902 699l15-3"/>
<path class=c59 d="M2363 694l15-4l-117-37l-15 4z"/>
<path class=e58 d="M2246 657l15-4"/>
<path class=c59 d="M2692 683l15-4l-117-50l-15 4z"/>
<path class=e59 d="M2575 633l15-4"/>
<path class=c57 d="M1047 743l15 0l-116-22l-15-2z"/>
<path class=e55 d="M931 719l15 2"/>
<path class=c58 d="M779 701l15 1l-117-43l-15-5z"/>
<path class=e58 d="M662 654l15 5"/>
<path class=c56 d="M1659 750l16-3l-117-6l-15 2z"/>
<path class=e54 d="M1543 743l15-2"/>
<path class=c58 d="M2003 722l16-4l-117-19l-15 4z"/>
<path class=e56 d="M1887 703l15-4"/>
<path class=c59 d="M2348 698l15-4l-117-37l-15 4z"/>
<path class=e58 d="M2231 661l15-4"/>
<path class=c59 d="M2676 687l16-4l-117-50l-15 5z"/>
<path class=e59 d="M2560 638l15-5"/>
<path class=c56 d="M1330 761l16-1l-117-8l-15-2z"/>
<path class=e53 d="M1214 750l15 2"/>
<path class=c62 d="M541 621l15 3l-116-75l-16-7z"/>
<path class=e63 d="M424 542l16 7"/>
<path class=c57 d="M1032 744l15-1l-116-24l-16-3z"/>
<path class=e55 d="M915 716l16 3"/>
<path class=c56 d="M1644 753l15-3l-116-7l-15 2z"/>
<path class=e54 d="M1528 745l15-2"/>
<path class=c59 d="M2332 702l16-4l-117-37l-15 5z"/>
<path class=e58 d="M2216 666l15-5"/>
<path class=c58 d="M1988 726l15-4l-116-19l-15 3z"/>
<path class=e56 d="M1872 706l15-3"/>
<path class=c59 d="M2661 692l15-5l-116-49l-15 4z"/>
<path class=e59 d="M2545 642l15-4"/>
<path class=c59 d="M764 700l15 1l-117-47l-15-5z"/>
<path class=e58 d="M647 649l15 5"/>
<path class=c59 d="M2975 691l15-4l-116-54l-15 4z"/>
<path class=e59 d="M2859 637l15-4"/>
<path class=c56 d="M1315 762l15-1l-116-11l-15-1z"/>
<path class=e54 d="M1199 749l15 1"/>
<path class=c59 d="M2317 707l15-5l-116-36l-15 4z"/>
<path class=e58 d="M2201 670l15-4"/>
<path class=c58 d="M1973 730l15-4l-116-20l-15 3z"/>
<path class=e56 d="M1857 709l15-3"/>
<path class=c57 d="M1629 756l15-3l-116-8l-15 1z"/>
<path class=e54 d="M1513 746l15-1"/>
<path class=c59 d="M2646 696l15-4l-116-50l-15 5z"/>
<path class=e59 d="M2530 647l15-5"/>
<path class=c57 d="M1017 744l15 0l-117-28l-15-2z"/>
<path class=e56 d="M900 714l15 2"/>
<path class=c59 d="M2960 695l15-4l-116-54l-16 4z"/>
<path class=e59 d="M2843 641l16-4"/>
<path class=c59 d="M748 698l16 2l-117-51l-15-4z"/>
<path class=e59 d="M632 645l15 4"/>
<path class=c56 d="M1300 763l15-1l-116-13l-15-2z"/>
<path class=e54 d="M1184 747l15 2"/>
<path class=c59 d="M2302 711l15-4l-116-37l-15 4z"/>
<path class=e58 d="M2186 674l15-4"/>
<path class=c59 d="M2631 700l15-4l-116-49l-16 4z"/>
<path class=e59 d="M2514 651l16-4"/>
<path class=c58 d="M1958 734l15-4l-116-21l-16 4z"/>
<path class=e56 d="M1841 713l16-4"/>
<path class=c57 d="M1614 759l15-3l-116-10l-16 2z"/>
<path class=e54 d="M1497 748l16-2"/>
<path class=c59 d="M2945 699l15-4l-117-54l-15 4z"/>
<path class=e59 d="M2828 645l15-4"/>
<path class=c57 d="M1001 745l16-1l-117-30l-15-2z"/>
<path class=e56 d="M885 712l15 2"/>
<path class=c59 d="M2287 715l15-4l-116-37l-16 4z"/>
<path class=e58 d="M2170 678l16-4"/>
<path class=c59 d="M2616 704l15-4l-117-49l-15 4z"/>
<path class=e59 d="M2499 655l15-4"/>
<path class=c58 d="M1943 737l15-3l-117-21l-15 3z"/>
<path class=e56 d="M1826 716l15-3"/>
<path class=c57 d="M1285 764l15-1l-116-16l-16-1z"/>
<path class=e54 d="M1168 746l16 1"/>
<path class=c59 d="M2930 703l15-4l-117-54l-15 5z"/>
<path class=e59 d="M2813 650l15-5"/>
<path class=c57 d="M1599 762l15-3l-117-11l-15 2z"/>
<path class=e54 d="M1482 750l15-2"/>
<path class=c59 d="M733 697l15 1l-116-53l-15-5z"/>
<path class=e60 d="M617 640l15 5"/>
<path class=c59 d="M2272 719l15-4l-117-37l-15 4z"/>
<path class=e58 d="M2155 682l15-4"/>
<path class=c59 d="M2601 708l15-4l-117-49l-15 5z"/>
<path class=e59 d="M2484 660l15-5"/>
<path class=c57 d="M986 745l15 0l-116-33l-15-1z"/>
<path class=e56 d="M870 711l15 1"/>
<path class=c58 d="M1928 741l15-4l-117-21l-15 3z"/>
<path class=e56 d="M1811 719l15-3"/>
<path class=c59 d="M2914 707l16-4l-117-53l-15 4z"/>
<path class=e59 d="M2798 654l15-4"/>
<path class=c57 d="M1583 765l16-3l-117-12l-15 1z"/>
<path class=e54 d="M1467 751l15-1"/>
<path class=c57 d="M1270 766l15-2l-117-18l-15-1z"/>
<path class=e55 d="M1153 745l15 1"/>
<path class=c60 d="M718 696l15 1l-116-57l-15-4z"/>
<path class=e60 d="M602 636l15 4"/>
<path class=c59 d="M2256 723l16-4l-117-37l-15 4z"/>
<path class=e58 d="M2140 686l15-4"/>
<path class=c59 d="M2585 712l16-4l-117-48l-15 4z"/>
<path class=e59 d="M2469 664l15-4"/>
<path class=c58 d="M1912 745l16-4l-117-22l-15 4z"/>
<path class=e56 d="M1796 723l15-4"/>
<path class=c59 d="M2899 711l15-4l-116-53l-15 4z"/>
<path class=e59 d="M2783 658l15-4"/>
<path class=c58 d="M971 746l15-1l-116-34l-15-2z"/>
<path class=e57 d="M855 709l15 2"/>
<path class=c57 d="M1568 767l15-2l-116-14l-15 1z"/>
<path class=e55 d="M1452 752l15-1"/>
<path class=c57 d="M1255 767l15-1l-117-21l-15-1z"/>
<path class=e55 d="M1138 744l15 1"/>
<path class=c59 d="M2241 727l15-4l-116-37l-15 5z"/>
<path class=e58 d="M2125 691l15-5"/>
<path class=c59 d="M2570 717l15-5l-116-48l-15 4z"/>
<path class=e59 d="M2454 668l15-4"/>
<path class=c58 d="M1897 749l15-4l-116-22l-15 3z"/>
<path class=e56 d="M1781 726l15-3"/>
<path class=c59 d="M2884 715l15-4l-116-53l-15 4z"/>
<path class=e59 d="M2768 662l15-4"/>
<path class=c60 d="M703 695l15 1l-116-60l-16-4z"/>
<path class=e61 d="M586 632l16 4"/>
<path class=c58 d="M956 747l15-1l-116-37l-16-2z"/>
<path class=e57 d="M839 707l16 2"/>
<path class=c57 d="M1553 770l15-3l-116-15l-15 2z"/>
<path class=e55 d="M1437 754l15-2"/>
<path class=c59 d="M2226 731l15-4l-116-36l-15 4z"/>
<path class=e58 d="M2110 695l15-4"/>
<path class=c59 d="M2555 721l15-4l-116-49l-15 5z"/>
<path class=e59 d="M2439 673l15-5"/>
<path class=c57 d="M1239 769l16-2l-117-23l-15-1z"/>
<path class=e55 d="M1123 743l15 1"/>
<path class=c58 d="M1882 752l15-3l-116-23l-15 3z"/>
<path class=e56 d="M1766 729l15-3"/>
<path class=c59 d="M2869 720l15-5l-116-53l-16 4z"/>
<path class=e59 d="M2752 666l16-4"/>
<path class=c59 d="M2211 735l15-4l-116-36l-16 4z"/>
<path class=e58 d="M2094 699l16-4"/>
<path class=c59 d="M2540 725l15-4l-116-48l-16 4z"/>
<path class=e59 d="M2423 677l16-4"/>
<path class=c60 d="M688 694l15 1l-117-63l-15-4z"/>
<path class=e61 d="M571 628l15 4"/>
<path class=c57 d="M1538 773l15-3l-116-16l-16 1z"/>
<path class=e55 d="M1421 755l16-1"/>
<path class=c58 d="M941 748l15-1l-117-40l-15-1z"/>
<path class=e57 d="M824 706l15 1"/>
<path class=c59 d="M2854 724l15-4l-117-54l-15 5z"/>
<path class=e59 d="M2737 671l15-5"/>
<path class=c58 d="M1867 756l15-4l-116-23l-16 3z"/>
<path class=e56 d="M1750 732l16-3"/>
<path class=c57 d="M1224 770l15-1l-116-26l-15 0z"/>
<path class=e56 d="M1108 743l15 0"/>
<path class=c59 d="M2525 729l15-4l-117-48l-15 4z"/>
<path class=e59 d="M2408 681l15-4"/>
<path class=c59 d="M2196 739l15-4l-117-36l-15 4z"/>
<path class=e58 d="M2079 703l15-4"/>
<path class=c57 d="M1523 776l15-3l-117-18l-15 1z"/>
<path class=e55 d="M1406 756l15-1"/>
<path class=c59 d="M2838 728l16-4l-117-53l-15 4z"/>
<path class=e59 d="M2722 675l15-4"/>
<path class=c58 d="M1852 760l15-4l-117-24l-15 3z"/>
<path class=e56 d="M1735 735l15-3"/>
<path class=c61 d="M673 693l15 1l-117-66l-15-4z"/>
<path class=e62 d="M556 624l15 4"/>
<path class=c58 d="M926 748l15 0l-117-42l-15-2z"/>
<path class=e58 d="M809 704l15 2"/>
<path class=c57 d="M1209 772l15-2l-116-27l-15 0z"/>
<path class=e56 d="M1093 743l15 0"/>
<path class=c59 d="M2510 733l15-4l-117-48l-15 5z"/>
<path class=e59 d="M2393 686l15-5"/>
<path class=c59 d="M2181 744l15-5l-117-36l-15 4z"/>
<path class=e58 d="M2064 707l15-4"/>
<path class=c59 d="M2823 732l15-4l-116-53l-15 4z"/>
<path class=e59 d="M2707 679l15-4"/>
<path class=c57 d="M1508 778l15-2l-117-20l-15 1z"/>
<path class=e55 d="M1391 757l15-1"/>
<path class=c58 d="M1836 764l16-4l-117-25l-15 3z"/>
<path class=e56 d="M1720 738l15-3"/>
<path class=c58 d="M910 749l16-1l-117-44l-15-2z"/>
<path class=e58 d="M794 702l15 2"/>
<path class=c59 d="M2494 737l16-4l-117-47l-15 4z"/>
<path class=e59 d="M2378 690l15-4"/>
<path class=c59 d="M2165 748l16-4l-117-37l-15 4z"/>
<path class=e58 d="M2049 711l15-4"/>
<path class=c57 d="M1194 774l15-2l-116-29l-16 0z"/>
<path class=e56 d="M1077 743l16 0"/>
<path class=c61 d="M657 693l16 0l-117-69l-15-3z"/>
<path class=e62 d="M541 621l15 3"/>
<path class=c59 d="M2808 736l15-4l-116-53l-15 4z"/>
<path class=e59 d="M2692 683l15-4"/>
<path class=c57 d="M1492 781l16-3l-117-21l-15 1z"/>
<path class=e55 d="M1376 758l15-1"/>
<path class=c58 d="M1821 767l15-3l-116-26l-15 3z"/>
<path class=e56 d="M1705 741l15-3"/>
<path class=c59 d="M2479 742l15-5l-116-47l-15 4z"/>
<path class=e59 d="M2363 694l15-4"/>
<path class=c59 d="M2150 752l15-4l-116-37l-15 3z"/>
<path class=e58 d="M2034 714l15-3"/>
<path class=c59 d="M895 750l15-1l-116-47l-15-1z"/>
<path class=e58 d="M779 701l15 1"/>
<path class=c58 d="M1179 776l15-2l-117-31l-15 0z"/>
<path class=e56 d="M1062 743l15 0"/>
<path class=c59 d="M2793 740l15-4l-116-53l-16 4z"/>
<path class=e59 d="M2676 687l16-4"/>
<path class=c58 d="M1806 771l15-4l-116-26l-15 3z"/>
<path class=e56 d="M1690 744l15-3"/>
<path class=c57 d="M1477 784l15-3l-116-23l-15 1z"/>
<path class=e56 d="M1361 759l15-1"/>
<path class=c59 d="M2464 746l15-4l-116-48l-15 4z"/>
<path class=e59 d="M2348 698l15-4"/>
<path class=c59 d="M2135 756l15-4l-116-38l-15 4z"/>
<path class=e58 d="M2019 718l15-4"/>
<path class=c59 d="M2778 744l15-4l-117-53l-15 5z"/>
<path class=e59 d="M2661 692l15-5"/>
<path class=c59 d="M3092 744l15-4l-117-53l-15 4z"/>
<path class=e59 d="M2975 691l15-4"/>
<path class=c58 d="M1163 778l16-2l-117-33l-15 0z"/>
<path class=e57 d="M1047 743l15 0"/>
<path class=c59 d="M880 751l15-1l-116-49l-15-1z"/>
<path class=e59 d="M764 700l15 1"/>
<path class=c58 d="M1791 775l15-4l-116-27l-15 3z"/>
<path class=e56 d="M1675 747l15-3"/>
<path class=c57 d="M1462 786l15-2l-116-25l-15 1z"/>
<path class=e56 d="M1346 760l15-1"/>
<path class=c59 d="M2449 750l15-4l-116-48l-16 4z"/>
<path class=e59 d="M2332 702l16-4"/>
<path class=c59 d="M2120 760l15-4l-116-38l-16 4z"/>
<path class=e58 d="M2003 722l16-4"/>
<path class=c59 d="M2763 749l15-5l-117-52l-15 4z"/>
<path class=e59 d="M2646 696l15-4"/>
<path class=c59 d="M3076 749l16-5l-117-53l-15 4z"/>
<path class=e59 d="M2960 695l15-4"/>
<path class=c58 d="M1776 778l15-3l-116-28l-16 3z"/>
<path class=e56 d="M1659 750l16-3"/>
<path class=c58 d="M1148 780l15-2l-116-35l-15 1z"/>
<path class=e57 d="M1032 744l15-1"/>
<path class=c59 d="M2434 754l15-4l-117-48l-15 5z"/>
<path class=e59 d="M2317 707l15-5"/>
<path class=c59 d="M865 752l15-1l-116-51l-16-2z"/>
<path class=e59 d="M748 698l16 2"/>
<path class=c59 d="M2105 764l15-4l-117-38l-15 4z"/>
<path class=e58 d="M1988 726l15-4"/>
<path class=c58 d="M1447 789l15-3l-116-26l-16 1z"/>
<path class=e56 d="M1330 761l16-1"/>
<path class=c59 d="M2747 753l16-4l-117-53l-15 4z"/>
<path class=e59 d="M2631 700l15-4"/>
<path class=c59 d="M3061 753l15-4l-116-54l-15 4z"/>
<path class=e59 d="M2945 699l15-4"/>
<path class=c58 d="M1761 782l15-4l-117-28l-15 3z"/>
<path class=e56 d="M1644 753l15-3"/>
<path class=c59 d="M2418 758l16-4l-117-47l-15 4z"/>
<path class=e59 d="M2302 711l15-4"/>
<path class=c58 d="M1133 783l15-3l-116-36l-15 0z"/>
<path class=e57 d="M1017 744l15 0"/>
<path class=c59 d="M2090 768l15-4l-117-38l-15 4z"/>
<path class=e58 d="M1973 730l15-4"/>
<path class=c58 d="M1432 791l15-2l-117-28l-15 1z"/>
<path class=e56 d="M1315 762l15-1"/>
<path class=c59 d="M2732 757l15-4l-116-53l-15 4z"/>
<path class=e59 d="M2616 704l15-4"/>
<path class=c59 d="M850 753l15-1l-117-54l-15-1z"/>
<path class=e59 d="M733 697l15 1"/>
<path class=c59 d="M3046 757l15-4l-116-54l-15 4z"/>
<path class=e59 d="M2930 703l15-4"/>
<path class=c58 d="M1745 786l16-4l-117-29l-15 3z"/>
<path class=e57 d="M1629 756l15-3"/>
<path class=c59 d="M2403 762l15-4l-116-47l-15 4z"/>
<path class=e59 d="M2287 715l15-4"/>
<path class=c59 d="M2074 772l16-4l-117-38l-15 4z"/>
<path class=e58 d="M1958 734l15-4"/>
<path class=c58 d="M1118 785l15-2l-116-39l-16 1z"/>
<path class=e57 d="M1001 745l16-1"/>
<path class=c59 d="M2717 761l15-4l-116-53l-15 4z"/>
<path class=e59 d="M2601 708l15-4"/>
<path class=c59 d="M3031 761l15-4l-116-54l-16 4z"/>
<path class=e59 d="M2914 707l16-4"/>
<path class=c58 d="M1416 794l16-3l-117-29l-15 1z"/>
<path class=e56 d="M1300 763l15-1"/>
<path class=c59 d="M835 754l15-1l-117-56l-15-1z"/>
<path class=e60 d="M718 696l15 1"/>
<path class=c59 d="M2388 766l15-4l-116-47l-15 4z"/>
<path class=e59 d="M2272 719l15-4"/>
<path class=c58 d="M1730 789l15-3l-116-30l-15 3z"/>
<path class=e57 d="M1614 759l15-3"/>
<path class=c59 d="M2059 776l15-4l-116-38l-15 3z"/>
<path class=e58 d="M1943 737l15-3"/>
<path class=c59 d="M2702 765l15-4l-116-53l-16 4z"/>
<path class=e59 d="M2585 712l16-4"/>
<path class=c59 d="M3016 765l15-4l-117-54l-15 4z"/>
<path class=e59 d="M2899 711l15-4"/>
<path class=c58 d="M1103 787l15-2l-117-40l-15 0z"/>
<path class=e57 d="M986 745l15 0"/>
<path class=c58 d="M1401 797l15-3l-116-31l-15 1z"/>
<path class=e57 d="M1285 764l15-1"/>
<path class=c59 d="M2373 771l15-5l-116-47l-16 4z"/>
<path class=e59 d="M2256 723l16-4"/>
<path class=c60 d="M819 755l16-1l-117-58l-15-1z"/>
<path class=e60 d="M703 695l15 1"/>
<path class=c58 d="M1715 793l15-4l-116-30l-15 3z"/>
<path class=e57 d="M1599 762l15-3"/>
<path class=c59 d="M2044 780l15-4l-116-39l-15 4z"/>
<path class=e58 d="M1928 741l15-4"/>
<path class=c59 d="M2687 769l15-4l-117-53l-15 5z"/>
<path class=e59 d="M2570 717l15-5"/>
<path class=c59 d="M3000 769l16-4l-117-54l-15 4z"/>
<path class=e59 d="M2884 715l15-4"/>
<path class=c58 d="M1088 789l15-2l-117-42l-15 1z"/>
<path class=e58 d="M971 746l15-1"/>
<path class=c58 d="M1386 800l15-3l-116-33l-15 2z"/>
<path class=e57 d="M1270 766l15-2"/>
<path class=c59 d="M2358 775l15-4l-117-48l-15 4z"/>
<path class=e59 d="M2241 727l15-4"/>
<path class=c58 d="M1700 796l15-3l-116-31l-16 3z"/>
<path class=e57 d="M1583 765l16-3"/>
<path class=c59 d="M2029 784l15-4l-116-39l-16 4z"/>
<path class=e58 d="M1912 745l16-4"/>
<path class=c59 d="M2672 773l15-4l-117-52l-15 4z"/>
<path class=e59 d="M2555 721l15-4"/>
<path class=c60 d="M804 756l15-1l-116-60l-15-1z"/>
<path class=e60 d="M688 694l15 1"/>
<path class=c59 d="M2985 773l15-4l-116-54l-15 5z"/>
<path class=e59 d="M2869 720l15-5"/>
<path class=c58 d="M1072 792l16-3l-117-43l-15 1z"/>
<path class=e58 d="M956 747l15-1"/>
<path class=c59 d="M2343 779l15-4l-117-48l-15 4z"/>
<path class=e59 d="M2226 731l15-4"/>
<path class=c58 d="M1371 802l15-2l-116-34l-15 1z"/>
<path class=e57 d="M1255 767l15-1"/>
<path class=c59 d="M2014 788l15-4l-117-39l-15 4z"/>
<path class=e58 d="M1897 749l15-4"/>
<path class=c58 d="M1685 800l15-4l-117-31l-15 2z"/>
<path class=e57 d="M1568 767l15-2"/>
<path class=c59 d="M2656 777l16-4l-117-52l-15 4z"/>
<path class=e59 d="M2540 725l15-4"/>
<path class=c59 d="M2970 777l15-4l-116-53l-15 4z"/>
<path class=e59 d="M2854 724l15-4"/>
<path class=c60 d="M789 758l15-2l-116-62l-15-1z"/>
<path class=e61 d="M673 693l15 1"/>
<path class=c59 d="M2327 783l16-4l-117-48l-15 4z"/>
<path class=e59 d="M2211 735l15-4"/>
<path class=c59 d="M1057 794l15-2l-116-45l-15 1z"/>
<path class=e58 d="M941 748l15-1"/>
<path class=c58 d="M1356 805l15-3l-116-35l-16 2z"/>
<path class=e57 d="M1239 769l16-2"/>
<path class=c59 d="M1998 792l16-4l-117-39l-15 3z"/>
<path class=e58 d="M1882 752l15-3"/>
<path class=c58 d="M1670 804l15-4l-117-33l-15 3z"/>
<path class=e57 d="M1553 770l15-3"/>
<path class=c59 d="M2641 782l15-5l-116-52l-15 4z"/>
<path class=e59 d="M2525 729l15-4"/>
<path class=c59 d="M2955 782l15-5l-116-53l-16 4z"/>
<path class=e59 d="M2838 728l16-4"/>
<path class=c60 d="M774 759l15-1l-116-65l-16 0z"/>
<path class=e61 d="M657 693l16 0"/>
<path class=c59 d="M2312 787l15-4l-116-48l-15 4z"/>
<path class=e59 d="M2196 739l15-4"/>
<path class=c59 d="M1983 796l15-4l-116-40l-15 4z"/>
<path class=e58 d="M1867 756l15-4"/>
<path class=c59 d="M1042 796l15-2l-116-46l-15 0z"/>
<path class=e58 d="M926 748l15 0"/>
<path class=c59 d="M2626 786l15-4l-116-53l-15 4z"/>
<path class=e59 d="M2510 733l15-4"/>
<path class=c58 d="M1341 808l15-3l-117-36l-15 1z"/>
<path class=e57 d="M1224 770l15-1"/>
<path class=c58 d="M1654 807l16-3l-117-34l-15 3z"/>
<path class=e57 d="M1538 773l15-3"/>
<path class=c59 d="M2940 786l15-4l-117-54l-15 4z"/>
<path class=e59 d="M2823 732l15-4"/>
<path class=c59 d="M2297 791l15-4l-116-48l-15 5z"/>
<path class=e59 d="M2181 744l15-5"/>
<path class=c59 d="M1968 800l15-4l-116-40l-15 4z"/>
<path class=e58 d="M1852 760l15-4"/>
<path class=c59 d="M2611 790l15-4l-116-53l-16 4z"/>
<path class=e59 d="M2494 737l16-4"/>
<path class=c59 d="M2925 790l15-4l-117-54l-15 4z"/>
<path class=e59 d="M2808 736l15-4"/>
<path class=c58 d="M1639 811l15-4l-116-34l-15 3z"/>
<path class=e57 d="M1523 776l15-3"/>
<path class=c58 d="M1325 811l16-3l-117-38l-15 2z"/>
<path class=e57 d="M1209 772l15-2"/>
<path class=c59 d="M1027 799l15-3l-116-48l-16 1z"/>
<path class=e58 d="M910 749l16-1"/>
<path class=c59 d="M2282 795l15-4l-116-47l-16 4z"/>
<path class=e59 d="M2165 748l16-4"/>
<path class=c59 d="M1953 804l15-4l-116-40l-16 4z"/>
<path class=e58 d="M1836 764l16-4"/>
<path class=c59 d="M2596 794l15-4l-117-53l-15 5z"/>
<path class=e59 d="M2479 742l15-5"/>
<path class=c59 d="M2909 794l16-4l-117-54l-15 4z"/>
<path class=e59 d="M2793 740l15-4"/>
<path class=c58 d="M1624 814l15-3l-116-35l-15 2z"/>
<path class=e57 d="M1508 778l15-2"/>
<path class=c58 d="M1310 814l15-3l-116-39l-15 2z"/>
<path class=e57 d="M1194 774l15-2"/>
<path class=c59 d="M1012 801l15-2l-117-50l-15 1z"/>
<path class=e59 d="M895 750l15-1"/>
<path class=c59 d="M2267 799l15-4l-117-47l-15 4z"/>
<path class=e59 d="M2150 752l15-4"/>
<path class=c59 d="M1938 808l15-4l-117-40l-15 3z"/>
<path class=e58 d="M1821 767l15-3"/>
<path class=c59 d="M2580 798l16-4l-117-52l-15 4z"/>
<path class=e59 d="M2464 746l15-4"/>
<path class=c59 d="M2894 798l15-4l-116-54l-15 4z"/>
<path class=e59 d="M2778 744l15-4"/>
<path class=c58 d="M1609 818l15-4l-116-36l-16 3z"/>
<path class=e57 d="M1492 781l16-3"/>
<path class=c58 d="M1295 817l15-3l-116-40l-15 2z"/>
<path class=e58 d="M1179 776l15-2"/>
<path class=c59 d="M997 803l15-2l-117-51l-15 1z"/>
<path class=e59 d="M880 751l15-1"/>
<path class=c59 d="M2252 803l15-4l-117-47l-15 4z"/>
<path class=e59 d="M2135 756l15-4"/>
<path class=c59 d="M1923 812l15-4l-117-41l-15 4z"/>
<path class=e58 d="M1806 771l15-4"/>
<path class=c59 d="M2565 802l15-4l-116-52l-15 4z"/>
<path class=e59 d="M2449 750l15-4"/>
<path class=c59 d="M2879 802l15-4l-116-54l-15 5z"/>
<path class=e59 d="M2763 749l15-5"/>
<path class=c58 d="M1594 821l15-3l-117-37l-15 3z"/>
<path class=e57 d="M1477 784l15-3"/>
<path class=c58 d="M1280 821l15-4l-116-41l-16 2z"/>
<path class=e58 d="M1163 778l16-2"/>
<path class=c59 d="M2236 808l16-5l-117-47l-15 4z"/>
<path class=e59 d="M2120 760l15-4"/>
<path class=c59 d="M981 806l16-3l-117-52l-15 1z"/>
<path class=e59 d="M865 752l15-1"/>
<path class=c59 d="M2550 806l15-4l-116-52l-15 4z"/>
<path class=e59 d="M2434 754l15-4"/>
<path class=c59 d="M1907 816l16-4l-117-41l-15 4z"/>
<path class=e58 d="M1791 775l15-4"/>
<path class=c59 d="M2864 806l15-4l-116-53l-16 4z"/>
<path class=e59 d="M2747 753l16-4"/>
<path class=c58 d="M1578 825l16-4l-117-37l-15 2z"/>
<path class=e57 d="M1462 786l15-2"/>
<path class=c58 d="M1265 824l15-3l-117-43l-15 2z"/>
<path class=e58 d="M1148 780l15-2"/>
<path class=c59 d="M2221 812l15-4l-116-48l-15 4z"/>
<path class=e59 d="M2105 764l15-4"/>
<path class=c59 d="M966 808l15-2l-116-54l-15 1z"/>
<path class=e59 d="M850 753l15-1"/>
<path class=c59 d="M2535 810l15-4l-116-52l-16 4z"/>
<path class=e59 d="M2418 758l16-4"/>
<path class=c59 d="M1892 820l15-4l-116-41l-15 3z"/>
<path class=e58 d="M1776 778l15-3"/>
<path class=c59 d="M2849 810l15-4l-117-53l-15 4z"/>
<path class=e59 d="M2732 757l15-4"/>
<path class=c58 d="M1563 828l15-3l-116-39l-15 3z"/>
<path class=e58 d="M1447 789l15-3"/>
<path class=c59 d="M2206 816l15-4l-116-48l-15 4z"/>
<path class=e59 d="M2090 768l15-4"/>
<path class=c59 d="M1250 827l15-3l-117-44l-15 3z"/>
<path class=e58 d="M1133 783l15-3"/>
<path class=c59 d="M2520 815l15-5l-117-52l-15 4z"/>
<path class=e59 d="M2403 762l15-4"/>
<path class=c59 d="M1877 824l15-4l-116-42l-15 4z"/>
<path class=e58 d="M1761 782l15-4"/>
<path class=c59 d="M2834 815l15-5l-117-53l-15 4z"/>
<path class=e59 d="M2717 761l15-4"/>
<path class=c59 d="M951 811l15-3l-116-55l-15 1z"/>
<path class=e59 d="M835 754l15-1"/>
<path class=c58 d="M1548 832l15-4l-116-39l-15 2z"/>
<path class=e58 d="M1432 791l15-2"/>
<path class=c59 d="M2191 820l15-4l-116-48l-16 4z"/>
<path class=e59 d="M2074 772l16-4"/>
<path class=c59 d="M1234 830l16-3l-117-44l-15 2z"/>
<path class=e58 d="M1118 785l15-2"/>
<path class=c59 d="M2505 819l15-4l-117-53l-15 4z"/>
<path class=e59 d="M2388 766l15-4"/>
<path class=c59 d="M1862 828l15-4l-116-42l-16 4z"/>
<path class=e58 d="M1745 786l16-4"/>
<path class=c59 d="M2818 819l16-4l-117-54l-15 4z"/>
<path class=e59 d="M2702 765l15-4"/>
<path class=c59 d="M936 813l15-2l-116-57l-16 1z"/>
<path class=e60 d="M819 755l16-1"/>
<path class=c59 d="M2176 824l15-4l-117-48l-15 4z"/>
<path class=e59 d="M2059 776l15-4"/>
<path class=c59 d="M1533 835l15-3l-116-41l-16 3z"/>
<path class=e58 d="M1416 794l16-3"/>
<path class=c59 d="M2489 823l16-4l-117-53l-15 5z"/>
<path class=e59 d="M2373 771l15-5"/>
<path class=c59 d="M1219 833l15-3l-116-45l-15 2z"/>
<path class=e58 d="M1103 787l15-2"/>
<path class=c59 d="M2803 823l15-4l-116-54l-15 4z"/>
<path class=e59 d="M2687 769l15-4"/>
<path class=c59 d="M1847 832l15-4l-117-42l-15 3z"/>
<path class=e58 d="M1730 789l15-3"/>
<path class=c59 d="M921 816l15-3l-117-58l-15 1z"/>
<path class=e60 d="M804 756l15-1"/>
<path class=c59 d="M2160 828l16-4l-117-48l-15 4z"/>
<path class=e59 d="M2044 780l15-4"/>
<path class=c59 d="M1518 839l15-4l-117-41l-15 3z"/>
<path class=e58 d="M1401 797l15-3"/>
<path class=c59 d="M2474 827l15-4l-116-52l-15 4z"/>
<path class=e59 d="M2358 775l15-4"/>
<path class=c59 d="M2788 827l15-4l-116-54l-15 4z"/>
<path class=e59 d="M2672 773l15-4"/>
<path class=c59 d="M1204 837l15-4l-116-46l-15 2z"/>
<path class=e58 d="M1088 789l15-2"/>
<path class=c59 d="M1832 836l15-4l-117-43l-15 4z"/>
<path class=e58 d="M1715 793l15-4"/>
<path class=c59 d="M2145 832l15-4l-116-48l-15 4z"/>
<path class=e59 d="M2029 784l15-4"/>
<path class=c60 d="M905 818l16-2l-117-60l-15 2z"/>
<path class=e60 d="M789 758l15-2"/>
<path class=c59 d="M1503 842l15-3l-117-42l-15 3z"/>
<path class=e58 d="M1386 800l15-3"/>
<path class=c59 d="M2459 831l15-4l-116-52l-15 4z"/>
<path class=e59 d="M2343 779l15-4"/>
<path class=c59 d="M2773 831l15-4l-116-54l-16 4z"/>
<path class=e59 d="M2656 777l16-4"/>
<path class=c59 d="M1816 840l16-4l-117-43l-15 3z"/>
<path class=e58 d="M1700 796l15-3"/>
<path class=c59 d="M1189 840l15-3l-116-48l-16 3z"/>
<path class=e58 d="M1072 792l16-3"/>
<path class=c59 d="M2130 836l15-4l-116-48l-15 4z"/>
<path class=e59 d="M2014 788l15-4"/>
<path class=c60 d="M890 821l15-3l-116-60l-15 1z"/>
<path class=e60 d="M774 759l15-1"/>
<path class=c59 d="M1487 846l16-4l-117-42l-15 2z"/>
<path class=e58 d="M1371 802l15-2"/>
<path class=c59 d="M2444 835l15-4l-116-52l-16 4z"/>
<path class=e59 d="M2327 783l16-4"/>
<path class=c59 d="M2758 835l15-4l-117-54l-15 5z"/>
<path class=e59 d="M2641 782l15-5"/>
<path class=c59 d="M1801 844l15-4l-116-44l-15 4z"/>
<path class=e58 d="M1685 800l15-4"/>
<path class=c59 d="M1174 843l15-3l-117-48l-15 2z"/>
<path class=e59 d="M1057 794l15-2"/>
<path class=c59 d="M2115 840l15-4l-116-48l-16 4z"/>
<path class=e59 d="M1998 792l16-4"/>
<path class=c59 d="M2429 839l15-4l-117-52l-15 4z"/>
<path class=e59 d="M2312 787l15-4"/>
<path class=c59 d="M1472 850l15-4l-116-44l-15 3z"/>
<path class=e58 d="M1356 805l15-3"/>
<path class=c59 d="M2742 839l16-4l-117-53l-15 4z"/>
<path class=e59 d="M2626 786l15-4"/>
<path class=c59 d="M1786 848l15-4l-116-44l-15 4z"/>
<path class=e58 d="M1670 804l15-4"/>
<path class=c59 d="M1158 846l16-3l-117-49l-15 2z"/>
<path class=e59 d="M1042 796l15-2"/>
<path class=c59 d="M2100 845l15-5l-117-48l-15 4z"/>
<path class=e59 d="M1983 796l15-4"/>
<path class=c59 d="M2414 843l15-4l-117-52l-15 4z"/>
<path class=e59 d="M2297 791l15-4"/>
<path class=c59 d="M1457 853l15-3l-116-45l-15 3z"/>
<path class=e58 d="M1341 808l15-3"/>
<path class=c59 d="M2727 844l15-5l-116-53l-15 4z"/>
<path class=e59 d="M2611 790l15-4"/>
<path class=c59 d="M1771 852l15-4l-116-44l-16 3z"/>
<path class=e58 d="M1654 807l16-3"/>
<path class=c59 d="M1143 850l15-4l-116-50l-15 3z"/>
<path class=e59 d="M1027 799l15-3"/>
<path class=c59 d="M2085 849l15-4l-117-49l-15 4z"/>
<path class=e59 d="M1968 800l15-4"/>
<path class=c59 d="M2398 848l16-5l-117-52l-15 4z"/>
<path class=e59 d="M2282 795l15-4"/>
<path class=c59 d="M2712 848l15-4l-116-54l-15 4z"/>
<path class=e59 d="M2596 794l15-4"/>
<path class=c59 d="M1442 857l15-4l-116-45l-16 3z"/>
<path class=e58 d="M1325 811l16-3"/>
<path class=c59 d="M1756 855l15-3l-117-45l-15 4z"/>
<path class=e58 d="M1639 811l15-4"/>
<path class=c59 d="M1128 853l15-3l-116-51l-15 2z"/>
<path class=e59 d="M1012 801l15-2"/>
<path class=c59 d="M2069 853l16-4l-117-49l-15 4z"/>
<path class=e59 d="M1953 804l15-4"/>
<path class=c59 d="M2383 852l15-4l-116-53l-15 4z"/>
<path class=e59 d="M2267 799l15-4"/>
<path class=c59 d="M2697 852l15-4l-116-54l-16 4z"/>
<path class=e59 d="M2580 798l16-4"/>
<path class=c59 d="M1427 861l15-4l-117-46l-15 3z"/>
<path class=e58 d="M1310 814l15-3"/>
<path class=c59 d="M1740 859l16-4l-117-44l-15 3z"/>
<path class=e58 d="M1624 814l15-3"/>
<path class=c59 d="M2054 857l15-4l-116-49l-15 4z"/>
<path class=e59 d="M1938 808l15-4"/>
<path class=c59 d="M1113 856l15-3l-116-52l-15 2z"/>
<path class=e59 d="M997 803l15-2"/>
<path class=c59 d="M2368 856l15-4l-116-53l-15 4z"/>
<path class=e59 d="M2252 803l15-4"/>
<path class=c59 d="M2682 856l15-4l-117-54l-15 4z"/>
<path class=e59 d="M2565 802l15-4"/>
<path class=c59 d="M1412 864l15-3l-117-47l-15 3z"/>
<path class=e58 d="M1295 817l15-3"/>
<path class=c59 d="M1725 863l15-4l-116-45l-15 4z"/>
<path class=e58 d="M1609 818l15-4"/>
<path class=c59 d="M2039 861l15-4l-116-49l-15 4z"/>
<path class=e59 d="M1923 812l15-4"/>
<path class=c59 d="M1098 859l15-3l-116-53l-16 3z"/>
<path class=e59 d="M981 806l16-3"/>
<path class=c59 d="M2353 860l15-4l-116-53l-16 5z"/>
<path class=e59 d="M2236 808l16-5"/>
<path class=c59 d="M2667 860l15-4l-117-54l-15 4z"/>
<path class=e59 d="M2550 806l15-4"/>
<path class=c59 d="M1396 868l16-4l-117-47l-15 4z"/>
<path class=e58 d="M1280 821l15-4"/>
<path class=c59 d="M1710 867l15-4l-116-45l-15 3z"/>
<path class=e58 d="M1594 821l15-3"/>
<path class=c59 d="M2024 865l15-4l-116-49l-16 4z"/>
<path class=e59 d="M1907 816l16-4"/>
<path class=c59 d="M1083 863l15-4l-117-53l-15 2z"/>
<path class=e59 d="M966 808l15-2"/>
<path class=c59 d="M2338 864l15-4l-117-52l-15 4z"/>
<path class=e59 d="M2221 812l15-4"/>
<path class=c59 d="M2651 864l16-4l-117-54l-15 4z"/>
<path class=e59 d="M2535 810l15-4"/>
<path class=c59 d="M1381 872l15-4l-116-47l-15 3z"/>
<path class=e58 d="M1265 824l15-3"/>
<path class=c59 d="M1695 871l15-4l-116-46l-16 4z"/>
<path class=e58 d="M1578 825l16-4"/>
<path class=c59 d="M2009 869l15-4l-117-49l-15 4z"/>
<path class=e59 d="M1892 820l15-4"/>
<path class=c59 d="M2322 868l16-4l-117-52l-15 4z"/>
<path class=e59 d="M2206 816l15-4"/>
<path class=c59 d="M1067 866l16-3l-117-55l-15 3z"/>
<path class=e59 d="M951 811l15-3"/>
<path class=c59 d="M2636 868l15-4l-116-54l-15 5z"/>
<path class=e59 d="M2520 815l15-5"/>
<path class=c59 d="M1366 875l15-3l-116-48l-15 3z"/>
<path class=e59 d="M1250 827l15-3"/>
<path class=c59 d="M1680 875l15-4l-117-46l-15 3z"/>
<path class=e58 d="M1563 828l15-3"/>
<path class=c59 d="M1994 873l15-4l-117-49l-15 4z"/>
<path class=e59 d="M1877 824l15-4"/>
<path class=c59 d="M2307 872l15-4l-116-52l-15 4z"/>
<path class=e59 d="M2191 820l15-4"/>
<path class=c59 d="M2621 872l15-4l-116-53l-15 4z"/>
<path class=e59 d="M2505 819l15-4"/>
<path class=c59 d="M1052 869l15-3l-116-55l-15 2z"/>
<path class=e59 d="M936 813l15-2"/>
<path class=c59 d="M1665 879l15-4l-117-47l-15 4z"/>
<path class=e58 d="M1548 832l15-4"/>
<path class=c59 d="M1351 879l15-4l-116-48l-16 3z"/>
<path class=e59 d="M1234 830l16-3"/>
<path class=c59 d="M1978 877l16-4l-117-49l-15 4z"/>
<path class=e59 d="M1862 828l15-4"/>
<path class=c59 d="M2292 876l15-4l-116-52l-15 4z"/>
<path class=e59 d="M2176 824l15-4"/>
<path class=c59 d="M2606 877l15-5l-116-53l-16 4z"/>
<path class=e59 d="M2489 823l16-4"/>
<path class=c59 d="M1037 873l15-4l-116-56l-15 3z"/>
<path class=e59 d="M921 816l15-3"/>
<path class=c59 d="M1649 883l16-4l-117-47l-15 3z"/>
<path class=e59 d="M1533 835l15-3"/>
<path class=c59 d="M1336 883l15-4l-117-49l-15 3z"/>
<path class=e59 d="M1219 833l15-3"/>
<path class=c59 d="M1963 881l15-4l-116-49l-15 4z"/>
<path class=e59 d="M1847 832l15-4"/>
<path class=c59 d="M2277 881l15-5l-116-52l-16 4z"/>
<path class=e59 d="M2160 828l16-4"/>
<path class=c59 d="M2591 881l15-4l-117-54l-15 4z"/>
<path class=e59 d="M2474 827l15-4"/>
<path class=c59 d="M1022 876l15-3l-116-57l-16 2z"/>
<path class=e60 d="M905 818l16-2"/>
<path class=c59 d="M1634 887l15-4l-116-48l-15 4z"/>
<path class=e59 d="M1518 839l15-4"/>
<path class=c59 d="M1320 887l16-4l-117-50l-15 4z"/>
<path class=e59 d="M1204 837l15-4"/>
<path class=c59 d="M1948 886l15-5l-116-49l-15 4z"/>
<path class=e59 d="M1832 836l15-4"/>
<path class=c59 d="M2262 885l15-4l-117-53l-15 4z"/>
<path class=e59 d="M2145 832l15-4"/>
<path class=c59 d="M2575 885l16-4l-117-54l-15 4z"/>
<path class=e59 d="M2459 831l15-4"/>
<path class=c59 d="M1007 880l15-4l-117-58l-15 3z"/>
<path class=e60 d="M890 821l15-3"/>
<path class=c59 d="M1619 891l15-4l-116-48l-15 3z"/>
<path class=e59 d="M1503 842l15-3"/>
<path class=c59 d="M1305 890l15-3l-116-50l-15 3z"/>
<path class=e59 d="M1189 840l15-3"/>
<path class=c59 d="M1933 890l15-4l-116-50l-16 4z"/>
<path class=e59 d="M1816 840l16-4"/>
<path class=c59 d="M2247 889l15-4l-117-53l-15 4z"/>
<path class=e59 d="M2130 836l15-4"/>
<path class=c59 d="M2560 889l15-4l-116-54l-15 4z"/>
<path class=e59 d="M2444 835l15-4"/>
<path class=c59 d="M1604 895l15-4l-116-49l-16 4z"/>
<path class=e59 d="M1487 846l16-4"/>
<path class=c59 d="M1290 894l15-4l-116-50l-15 3z"/>
<path class=e59 d="M1174 843l15-3"/>
<path class=c59 d="M1918 894l15-4l-117-50l-15 4z"/>
<path class=e59 d="M1801 844l15-4"/>
<path class=c59 d="M2231 893l16-4l-117-53l-15 4z"/>
<path class=e59 d="M2115 840l15-4"/>
<path class=c59 d="M2545 893l15-4l-116-54l-15 4z"/>
<path class=e59 d="M2429 839l15-4"/>
<path class=c59 d="M1589 899l15-4l-117-49l-15 4z"/>
<path class=e59 d="M1472 850l15-4"/>
<path class=c59 d="M1275 898l15-4l-116-51l-16 3z"/>
<path class=e59 d="M1158 846l16-3"/>
<path class=c59 d="M1902 898l16-4l-117-50l-15 4z"/>
<path class=e59 d="M1786 848l15-4"/>
<path class=c59 d="M2216 897l15-4l-116-53l-15 5z"/>
<path class=e59 d="M2100 845l15-5"/>
<path class=c59 d="M2530 897l15-4l-116-54l-15 4z"/>
<path class=e59 d="M2414 843l15-4"/>
<path class=c59 d="M1574 903l15-4l-117-49l-15 3z"/>
<path class=e59 d="M1457 853l15-3"/>
<path class=c59 d="M1260 902l15-4l-117-52l-15 4z"/>
<path class=e59 d="M1143 850l15-4"/>
<path class=c59 d="M1887 902l15-4l-116-50l-15 4z"/>
<path class=e59 d="M1771 852l15-4"/>
<path class=c59 d="M2201 901l15-4l-116-52l-15 4z"/>
<path class=e59 d="M2085 849l15-4"/>
<path class=c59 d="M2515 901l15-4l-116-54l-16 5z"/>
<path class=e59 d="M2398 848l16-5"/>
<path class=c59 d="M1558 907l16-4l-117-50l-15 4z"/>
<path class=e59 d="M1442 857l15-4"/>
<path class=c59 d="M1872 906l15-4l-116-50l-15 3z"/>
<path class=e59 d="M1756 855l15-3"/>
<path class=c59 d="M1245 906l15-4l-117-52l-15 3z"/>
<path class=e59 d="M1128 853l15-3"/>
<path class=c59 d="M2186 905l15-4l-116-52l-16 4z"/>
<path class=e59 d="M2069 853l16-4"/>
<path class=c59 d="M2500 905l15-4l-117-53l-15 4z"/>
<path class=e59 d="M2383 852l15-4"/>
<path class=c59 d="M1543 911l15-4l-116-50l-15 4z"/>
<path class=e59 d="M1427 861l15-4"/>
<path class=c59 d="M1857 910l15-4l-116-51l-16 4z"/>
<path class=e59 d="M1740 859l16-4"/>
<path class=c59 d="M1229 909l16-3l-117-53l-15 3z"/>
<path class=e59 d="M1113 856l15-3"/>
<path class=c59 d="M2171 909l15-4l-117-52l-15 4z"/>
<path class=e59 d="M2054 857l15-4"/>
<path class=c59 d="M2484 910l16-5l-117-53l-15 4z"/>
<path class=e59 d="M2368 856l15-4"/>
<path class=c59 d="M1528 915l15-4l-116-50l-15 3z"/>
<path class=e59 d="M1412 864l15-3"/>
<path class=c59 d="M1842 914l15-4l-117-51l-15 4z"/>
<path class=e59 d="M1725 863l15-4"/>
<path class=c59 d="M1214 913l15-4l-116-53l-15 3z"/>
<path class=e59 d="M1098 859l15-3"/>
<path class=c59 d="M2156 914l15-5l-117-52l-15 4z"/>
<path class=e59 d="M2039 861l15-4"/>
<path class=c59 d="M2469 914l15-4l-116-54l-15 4z"/>
<path class=e59 d="M2353 860l15-4"/>
<path class=c59 d="M1513 919l15-4l-116-51l-16 4z"/>
<path class=e59 d="M1396 868l16-4"/>
<path class=c59 d="M1827 918l15-4l-117-51l-15 4z"/>
<path class=e59 d="M1710 867l15-4"/>
<path class=c59 d="M1199 917l15-4l-116-54l-15 4z"/>
<path class=e59 d="M1083 863l15-4"/>
<path class=c59 d="M2140 918l16-4l-117-53l-15 4z"/>
<path class=e59 d="M2024 865l15-4"/>
<path class=c59 d="M2454 918l15-4l-116-54l-15 4z"/>
<path class=e59 d="M2338 864l15-4"/>
<path class=c59 d="M1498 923l15-4l-117-51l-15 4z"/>
<path class=e59 d="M1381 872l15-4"/>
<path class=c59 d="M1811 922l16-4l-117-51l-15 4z"/>
<path class=e59 d="M1695 871l15-4"/>
<path class=c59 d="M2125 922l15-4l-116-53l-15 4z"/>
<path class=e59 d="M2009 869l15-4"/>
<path class=c59 d="M1184 921l15-4l-116-54l-16 3z"/>
<path class=e59 d="M1067 866l16-3"/>
<path class=c59 d="M2439 922l15-4l-116-54l-16 4z"/>
<path class=e59 d="M2322 868l16-4"/>
<path class=c59 d="M1482 927l16-4l-117-51l-15 3z"/>
<path class=e59 d="M1366 875l15-3"/>
<path class=c59 d="M1796 926l15-4l-116-51l-15 4z"/>
<path class=e59 d="M1680 875l15-4"/>
<path class=c59 d="M2110 926l15-4l-116-53l-15 4z"/>
<path class=e59 d="M1994 873l15-4"/>
<path class=c59 d="M1169 925l15-4l-117-55l-15 3z"/>
<path class=e59 d="M1052 869l15-3"/>
<path class=c59 d="M2424 926l15-4l-117-54l-15 4z"/>
<path class=e59 d="M2307 872l15-4"/>
<path class=c59 d="M1467 931l15-4l-116-52l-15 4z"/>
<path class=e59 d="M1351 879l15-4"/>
<path class=c59 d="M1781 930l15-4l-116-51l-15 4z"/>
<path class=e59 d="M1665 879l15-4"/>
<path class=c59 d="M2095 930l15-4l-116-53l-16 4z"/>
<path class=e59 d="M1978 877l16-4"/>
<path class=c59 d="M2409 930l15-4l-117-54l-15 4z"/>
<path class=e59 d="M2292 876l15-4"/>
<path class=c59 d="M1154 928l15-3l-117-56l-15 4z"/>
<path class=e59 d="M1037 873l15-4"/>
<path class=c59 d="M1452 935l15-4l-116-52l-15 4z"/>
<path class=e59 d="M1336 883l15-4"/>
<path class=c59 d="M1766 935l15-5l-116-51l-16 4z"/>
<path class=e59 d="M1649 883l16-4"/>
<path class=c59 d="M2080 934l15-4l-117-53l-15 4z"/>
<path class=e59 d="M1963 881l15-4"/>
<path class=c59 d="M2393 934l16-4l-117-54l-15 5z"/>
<path class=e59 d="M2277 881l15-5"/>
<path class=c59 d="M1138 932l16-4l-117-55l-15 3z"/>
<path class=e59 d="M1022 876l15-3"/>
<path class=c59 d="M1437 939l15-4l-116-52l-16 4z"/>
<path class=e59 d="M1320 887l16-4"/>
<path class=c59 d="M1751 939l15-4l-117-52l-15 4z"/>
<path class=e59 d="M1634 887l15-4"/>
<path class=c59 d="M2064 938l16-4l-117-53l-15 5z"/>
<path class=e59 d="M1948 886l15-5"/>
<path class=c59 d="M2378 938l15-4l-116-53l-15 4z"/>
<path class=e59 d="M2262 885l15-4"/>
<path class=c59 d="M1123 936l15-4l-116-56l-15 4z"/>
<path class=e59 d="M1007 880l15-4"/>
<path class=c59 d="M1422 943l15-4l-117-52l-15 3z"/>
<path class=e59 d="M1305 890l15-3"/>
<path class=c59 d="M1736 943l15-4l-117-52l-15 4z"/>
<path class=e59 d="M1619 891l15-4"/>
<path class=c59 d="M2049 942l15-4l-116-52l-15 4z"/>
<path class=e59 d="M1933 890l15-4"/>
<path class=c59 d="M2363 943l15-5l-116-53l-15 4z"/>
<path class=e59 d="M2247 889l15-4"/>
<path class=c59 d="M1407 947l15-4l-117-53l-15 4z"/>
<path class=e59 d="M1290 894l15-4"/>
<path class=c59 d="M1720 947l16-4l-117-52l-15 4z"/>
<path class=e59 d="M1604 895l15-4"/>
<path class=c59 d="M2034 947l15-5l-116-52l-15 4z"/>
<path class=e59 d="M1918 894l15-4"/>
<path class=c59 d="M2348 947l15-4l-116-54l-16 4z"/>
<path class=e59 d="M2231 893l16-4"/>
<path class=c59 d="M1391 951l16-4l-117-53l-15 4z"/>
<path class=e59 d="M1275 898l15-4"/>
<path class=c59 d="M1705 951l15-4l-116-52l-15 4z"/>
<path class=e59 d="M1589 899l15-4"/>
<path class=c59 d="M2019 951l15-4l-116-53l-16 4z"/>
<path class=e59 d="M1902 898l16-4"/>
<path class=c59 d="M2333 951l15-4l-117-54l-15 4z"/>
<path class=e59 d="M2216 897l15-4"/>
<path class=c59 d="M1376 955l15-4l-116-53l-15 4z"/>
<path class=e59 d="M1260 902l15-4"/>
<path class=c59 d="M1690 955l15-4l-116-52l-15 4z"/>
<path class=e59 d="M1574 903l15-4"/>
<path class=c59 d="M2004 955l15-4l-117-53l-15 4z"/>
<path class=e59 d="M1887 902l15-4"/>
<path class=c59 d="M2317 955l16-4l-117-54l-15 4z"/>
<path class=e59 d="M2201 901l15-4"/>
<path class=c59 d="M1675 959l15-4l-116-52l-16 4z"/>
<path class=e59 d="M1558 907l16-4"/>
<path class=c59 d="M1361 959l15-4l-116-53l-15 4z"/>
<path class=e59 d="M1245 906l15-4"/>
<path class=c59 d="M1989 959l15-4l-117-53l-15 4z"/>
<path class=e59 d="M1872 906l15-4"/>
<path class=c59 d="M2302 959l15-4l-116-54l-15 4z"/>
<path class=e59 d="M2186 905l15-4"/>
<path class=c59 d="M1660 963l15-4l-117-52l-15 4z"/>
<path class=e59 d="M1543 911l15-4"/>
<path class=c59 d="M1346 963l15-4l-116-53l-16 3z"/>
<path class=e59 d="M1229 909l16-3"/>
<path class=c59 d="M1973 963l16-4l-117-53l-15 4z"/>
<path class=e59 d="M1857 910l15-4"/>
<path class=c59 d="M2287 963l15-4l-116-54l-15 4z"/>
<path class=e59 d="M2171 909l15-4"/>
<path class=c59 d="M1644 967l16-4l-117-52l-15 4z"/>
<path class=e59 d="M1528 915l15-4"/>
<path class=c59 d="M1331 967l15-4l-117-54l-15 4z"/>
<path class=e59 d="M1214 913l15-4"/>
<path class=c59 d="M1958 967l15-4l-116-53l-15 4z"/>
<path class=e59 d="M1842 914l15-4"/>
<path class=c59 d="M2272 967l15-4l-116-54l-15 5z"/>
<path class=e59 d="M2156 914l15-5"/>
<path class=c59 d="M1629 971l15-4l-116-52l-15 4z"/>
<path class=e59 d="M1513 919l15-4"/>
<path class=c59 d="M1316 971l15-4l-117-54l-15 4z"/>
<path class=e59 d="M1199 917l15-4"/>
<path class=c59 d="M1943 971l15-4l-116-53l-15 4z"/>
<path class=e59 d="M1827 918l15-4"/>
<path class=c59 d="M2257 971l15-4l-116-53l-16 4z"/>
<path class=e59 d="M2140 918l16-4"/>
<path class=c59 d="M1614 976l15-5l-116-52l-15 4z"/>
<path class=e59 d="M1498 923l15-4"/>
<path class=c59 d="M1300 975l16-4l-117-54l-15 4z"/>
<path class=e59 d="M1184 921l15-4"/>
<path class=c59 d="M1928 975l15-4l-116-53l-16 4z"/>
<path class=e59 d="M1811 922l16-4"/>
<path class=c59 d="M2242 976l15-5l-117-53l-15 4z"/>
<path class=e59 d="M2125 922l15-4"/>
<path class=c59 d="M1599 980l15-4l-116-53l-16 4z"/>
<path class=e59 d="M1482 927l16-4"/>
<path class=c59 d="M1913 980l15-5l-117-53l-15 4z"/>
<path class=e59 d="M1796 926l15-4"/>
<path class=c59 d="M1285 979l15-4l-116-54l-15 4z"/>
<path class=e59 d="M1169 925l15-4"/>
<path class=c59 d="M2226 980l16-4l-117-54l-15 4z"/>
<path class=e59 d="M2110 926l15-4"/>
<path class=c59 d="M1584 984l15-4l-117-53l-15 4z"/>
<path class=e59 d="M1467 931l15-4"/>
<path class=c59 d="M1897 984l16-4l-117-54l-15 4z"/>
<path class=e59 d="M1781 930l15-4"/>
<path class=c59 d="M1270 983l15-4l-116-54l-15 3z"/>
<path class=e59 d="M1154 928l15-3"/>
<path class=c59 d="M2211 984l15-4l-116-54l-15 4z"/>
<path class=e59 d="M2095 930l15-4"/>
<path class=c59 d="M1569 988l15-4l-117-53l-15 4z"/>
<path class=e59 d="M1452 935l15-4"/>
<path class=c59 d="M1882 988l15-4l-116-54l-15 5z"/>
<path class=e59 d="M1766 935l15-5"/>
<path class=c59 d="M1255 987l15-4l-116-55l-16 4z"/>
<path class=e59 d="M1138 932l16-4"/>
<path class=c59 d="M2196 988l15-4l-116-54l-15 4z"/>
<path class=e59 d="M2080 934l15-4"/>
<path class=c59 d="M1553 992l16-4l-117-53l-15 4z"/>
<path class=e59 d="M1437 939l15-4"/>
<path class=c59 d="M1867 992l15-4l-116-53l-15 4z"/>
<path class=e59 d="M1751 939l15-4"/>
<path class=c59 d="M1240 991l15-4l-117-55l-15 4z"/>
<path class=e59 d="M1123 936l15-4"/>
<path class=c59 d="M2181 992l15-4l-116-54l-16 4z"/>
<path class=e59 d="M2064 938l16-4"/>
<path class=c59 d="M1538 996l15-4l-116-53l-15 4z"/>
<path class=e59 d="M1422 943l15-4"/>
<path class=c59 d="M1852 996l15-4l-116-53l-15 4z"/>
<path class=e59 d="M1736 943l15-4"/>
<path class=c59 d="M2166 996l15-4l-117-54l-15 4z"/>
<path class=e59 d="M2049 942l15-4"/>
<path class=c59 d="M1523 1000l15-4l-116-53l-15 4z"/>
<path class=e59 d="M1407 947l15-4"/>
<path class=c59 d="M1837 1000l15-4l-116-53l-16 4z"/>
<path class=e59 d="M1720 947l16-4"/>
<path class=c59 d="M2151 1000l15-4l-117-54l-15 5z"/>
<path class=e59 d="M2034 947l15-5"/>
<path class=c59 d="M1508 1004l15-4l-116-53l-16 4z"/>
<path class=e59 d="M1391 951l16-4"/>
<path class=c59 d="M1822 1004l15-4l-117-53l-15 4z"/>
<path class=e59 d="M1705 951l15-4"/>
<path class=c59 d="M2135 1004l16-4l-117-53l-15 4z"/>
<path class=e59 d="M2019 951l15-4"/>
<path class=c59 d="M1493 1008l15-4l-117-53l-15 4z"/>
<path class=e59 d="M1376 955l15-4"/>
<path class=c59 d="M1806 1008l16-4l-117-53l-15 4z"/>
<path class=e59 d="M1690 955l15-4"/>
<path class=c59 d="M2120 1009l15-5l-116-53l-15 4z"/>
<path class=e59 d="M2004 955l15-4"/>
<path class=c59 d="M1478 1013l15-5l-117-53l-15 4z"/>
<path class=e59 d="M1361 959l15-4"/>
<path class=c59 d="M1791 1013l15-5l-116-53l-15 4z"/>
<path class=e59 d="M1675 959l15-4"/>
<path class=c59 d="M2105 1013l15-4l-116-54l-15 4z"/>
<path class=e59 d="M1989 959l15-4"/>
<path class=c59 d="M1462 1017l16-4l-117-54l-15 4z"/>
<path class=e59 d="M1346 963l15-4"/>
<path class=c59 d="M1776 1017l15-4l-116-54l-15 4z"/>
<path class=e59 d="M1660 963l15-4"/>
<path class=c59 d="M2090 1017l15-4l-116-54l-16 4z"/>
<path class=e59 d="M1973 963l16-4"/>
<path class=c59 d="M1447 1021l15-4l-116-54l-15 4z"/>
<path class=e59 d="M1331 967l15-4"/>
<path class=c59 d="M1761 1021l15-4l-116-54l-16 4z"/>
<path class=e59 d="M1644 967l16-4"/>
<path class=c59 d="M2075 1021l15-4l-117-54l-15 4z"/>
<path class=e59 d="M1958 967l15-4"/>
<path class=c59 d="M1432 1025l15-4l-116-54l-15 4z"/>
<path class=e59 d="M1316 971l15-4"/>
<path class=c59 d="M1746 1025l15-4l-117-54l-15 4z"/>
<path class=e59 d="M1629 971l15-4"/>
<path class=c59 d="M2059 1025l16-4l-117-54l-15 4z"/>
<path class=e59 d="M1943 971l15-4"/>
<path class=c59 d="M1417 1029l15-4l-116-54l-16 4z"/>
<path class=e59 d="M1300 975l16-4"/>
<path class=c59 d="M1731 1029l15-4l-117-54l-15 5z"/>
<path class=e59 d="M1614 976l15-5"/>
<path class=c59 d="M2044 1029l15-4l-116-54l-15 4z"/>
<path class=e59 d="M1928 975l15-4"/>
<path class=c59 d="M1402 1033l15-4l-117-54l-15 4z"/>
<path class=e59 d="M1285 979l15-4"/>
<path class=c59 d="M1715 1033l16-4l-117-53l-15 4z"/>
<path class=e59 d="M1599 980l15-4"/>
<path class=c59 d="M2029 1033l15-4l-116-54l-15 5z"/>
<path class=e59 d="M1913 980l15-5"/>
<path class=c59 d="M1386 1037l16-4l-117-54l-15 4z"/>
<path class=e59 d="M1270 983l15-4"/>
<path class=c59 d="M1700 1037l15-4l-116-53l-15 4z"/>
<path class=e59 d="M1584 984l15-4"/>
<path class=c59 d="M2014 1037l15-4l-116-53l-16 4z"/>
<path class=e59 d="M1897 984l16-4"/>
<path class=c59 d="M1371 1041l15-4l-116-54l-15 4z"/>
<path class=e59 d="M1255 987l15-4"/>
<path class=c59 d="M1685 1041l15-4l-116-53l-15 4z"/>
<path class=e59 d="M1569 988l15-4"/>
<path class=c59 d="M1999 1042l15-5l-117-53l-15 4z"/>
<path class=e59 d="M1882 988l15-4"/>
<path class=c59 d="M1670 1046l15-5l-116-53l-16 4z"/>
<path class=e59 d="M1553 992l16-4"/>
<path class=c59 d="M1356 1045l15-4l-116-54l-15 4z"/>
<path class=e59 d="M1240 991l15-4"/>
<path class=c59 d="M1984 1046l15-4l-117-54l-15 4z"/>
<path class=e59 d="M1867 992l15-4"/>
<path class=c59 d="M1655 1050l15-4l-117-54l-15 4z"/>
<path class=e59 d="M1538 996l15-4"/>
<path class=c59 d="M1968 1050l16-4l-117-54l-15 4z"/>
<path class=e59 d="M1852 996l15-4"/>
<path class=c59 d="M1639 1054l16-4l-117-54l-15 4z"/>
<path class=e59 d="M1523 1000l15-4"/>
<path class=c59 d="M1953 1054l15-4l-116-54l-15 4z"/>
<path class=e59 d="M1837 1000l15-4"/>
<path class=c59 d="M1624 1058l15-4l-116-54l-15 4z"/>
<path class=e59 d="M1508 1004l15-4"/>
<path class=c59 d="M1938 1058l15-4l-116-54l-15 4z"/>
<path class=e59 d="M1822 1004l15-4"/>
<path class=c59 d="M1609 1062l15-4l-116-54l-15 4z"/>
<path class=e59 d="M1493 1008l15-4"/>
<path class=c59 d="M1923 1062l15-4l-116-54l-16 4z"/>
<path class=e59 d="M1806 1008l16-4"/>
<path class=c59 d="M1594 1066l15-4l-116-54l-15 5z"/>
<path class=e59 d="M1478 1013l15-5"/>
<path class=c59 d="M1908 1066l15-4l-117-54l-15 5z"/>
<path class=e59 d="M1791 1013l15-5"/>
<path class=c59 d="M1579 1070l15-4l-116-53l-16 4z"/>
<path class=e59 d="M1462 1017l16-4"/>
<path class=c59 d="M1893 1071l15-5l-117-53l-15 4z"/>
<path class=e59 d="M1776 1017l15-4"/>
<path class=c59 d="M1564 1075l15-5l-117-53l-15 4z"/>
<path class=e59 d="M1447 1021l15-4"/>
<path class=c59 d="M1877 1075l16-4l-117-54l-15 4z"/>
<path class=e59 d="M1761 1021l15-4"/>
<path class=c59 d="M1548 1079l16-4l-117-54l-15 4z"/>
<path class=e59 d="M1432 1025l15-4"/>
<path class=c59 d="M1862 1079l15-4l-116-54l-15 4z"/>
<path class=e59 d="M1746 1025l15-4"/>
<path class=c59 d="M1533 1083l15-4l-116-54l-15 4z"/>
<path class=e59 d="M1417 1029l15-4"/>
<path class=c59 d="M1847 1083l15-4l-116-54l-15 4z"/>
<path class=e59 d="M1731 1029l15-4"/>
<path class=c59 d="M1518 1087l15-4l-116-54l-15 4z"/>
<path class=e59 d="M1402 1033l15-4"/>
<path class=c59 d="M1832 1087l15-4l-116-54l-16 4z"/>
<path class=e59 d="M1715 1033l16-4"/>
<path class=c59 d="M1503 1091l15-4l-116-54l-16 4z"/>
<path class=e59 d="M1386 1037l16-4"/>
<path class=c59 d="M1817 1091l15-4l-117-54l-15 4z"/>
<path class=e59 d="M1700 1037l15-4"/>
<path class=c59 d="M1488 1095l15-4l-117-54l-15 4z"/>
<path class=e59 d="M1371 1041l15-4"/>
<path class=c59 d="M1801 1095l16-4l-117-54l-15 4z"/>
<path class=e59 d="M1685 1041l15-4"/>
<path class=c59 d="M1473 1099l15-4l-117-54l-15 4z"/>
<path class=e59 d="M1356 1045l15-4"/>
<path class=c59 d="M1786 1099l15-4l-116-54l-15 5z"/>
<path class=e59 d="M1670 1046l15-5"/>
<path class=c59 d="M1771 1104l15-5l-116-53l-15 4z"/>
<path class=e59 d="M1655 1050l15-4"/>
<path class=c59 d="M1756 1108l15-4l-116-54l-16 4z"/>
<path class=e59 d="M1639 1054l16-4"/>
<path class=c59 d="M1741 1112l15-4l-117-54l-15 4z"/>
<path class=e59 d="M1624 1058l15-4"/>
<path class=c59 d="M1726 1116l15-4l-117-54l-15 4z"/>
<path class=e59 d="M1609 1062l15-4"/>
<path class=c59 d="M1710 1120l16-4l-117-54l-15 4z"/>
<path class=e59 d="M1594 1066l15-4"/>
<path class=c59 d="M1695 1124l15-4l-116-54l-15 4z"/>
<path class=e59 d="M1579 1070l15-4"/>
<path class=c59 d="M1680 1128l15-4l-116-54l-15 5z"/>
<path class=e59 d="M1564 1075l15-5"/>
<path class=c59 d="M1665 1132l15-4l-116-53l-16 4z"/>
<path class=e59 d="M1548 1079l16-4"/>
<path class=c59 d="M1650 1137l15-5l-117-53l-15 4z"/>
<path class=e59 d="M1533 1083l15-4"/>
<path class=c59 d="M1635 1141l15-4l-117-54l-15 4z"/>
<path class=e59 d="M1518 1087l15-4"/>
<path class=c59 d="M1619 1145l16-4l-117-54l-15 4z"/>
<path class=e59 d="M1503 1091l15-4"/>
<path class=c59 d="M1604 1149l15-4l-116-54l-15 4z"/>
<path class=e59 d="M1488 1095l15-4"/>
<path class=c59 d="M1589 1153l15-4l-116-54l-15 4z"/>
<path class=e59 d="M1473 1099l15-4"/></g>
<text x="35" y="172" class="t" text-anchor="end">-30</text>
<text x="35" y="153.6" class="t" text-anchor="end">-25</text>
<text x="35" y="135.3" class="t" text-anchor="end">-20</text>
<text x="35" y="116.9" class="t" text-anchor="end">-15</text>
<text x="35" y="98.6" class="t" text-anchor="end">-10</text>
<text x="35" y="80.2" class="t" text-anchor="end">-5</text>
<text x="35" y="61.9" class="t" text-anchor="end">0</text>
<text x="165.9" y="236.7" class="t" text-anchor="start">0</text>
<text x="196.3" y="228.4" class="t" text-anchor="start">0.2</text>
<text x="226.6" y="220.2" class="t" text-anchor="start">0.4</text>
<text x="257" y="211.9" class="t" text-anchor="start">0.6</text>
<text x="287.3" y="203.6" class="t" text-anchor="start">0.8</text>
<text x="317.7" y="195.4" class="t" text-anchor="start">1</text>
<text x="152.1" y="236" class="t" text-anchor="end">0</text>
<text x="93.9" y="209.1" class="t" text-anchor="end">0.5</text>
<text x="35.6" y="182.2" class="t" text-anchor="end">1</text>
<path class="g" d="M555.3 217.1L440.5 163.3"/>
<path class="g" d="M585.3 208.8L470.4 155.1"/>
<path class="g" d="M615.2 200.6L500.4 146.8"/>
<path class="g" d="M645.2 192.3L530.3 138.6"/>
<path class="g" d="M675.1 184.1L560.2 130.3"/>
<path class="g" d="M468 198.4L617.7 157.2"/>
<path class="g" d="M410.5 171.5L560.2 130.3"/>
<path class="g" d="M440.5 163.3L440.5 46"/>
<path class="g" d="M470.4 155.1L470.4 37.7"/>
<path class="g" d="M500.4 146.8L500.4 29.5"/>
<path class="g" d="M530.3 138.6L530.3 21.2"/>
<path class="g" d="M560.2 130.3L560.2 13"/>
<path class="g" d="M410.5 171.5L560.2 130.3"/>
<path class="g" d="M560.2 130.3L675.1 184.1"/>
<path class="g" d="M410.5 142.2L560.2 101"/>
<path class="g" d="M560.2 101L675.1 154.7"/>
<path class="g" d="M410.5 112.9L560.2 71.6"/>
<path class="g" d="M560.2 71.6L675.1 125.4"/>
<path class="g" d="M410.5 83.5L560.2 42.3"/>
<path class="g" d="M560.2 42.3L675.1 96"/>
<path class="g" d="M410.5 54.2L560.2 13"/>
<path class="g" d="M560.2 13L675.1 66.7"/>
<path class="g" d="M675.1 184.1L675.1 66.7"/>
<path class="g" d="M617.7 157.2L617.7 39.8"/>
<path class="a" d="M525.4 225.3L675.1 184.1"/>
<path class="a" d="M525.4 225.3L410.5 171.5"/>
<path class="a" d="M410.5 171.5L410.5 54.2"/>
<path class="a" d="M525.4 225.3L528.6 226.8"/>
<path class="a" d="M555.3 217.1L558.6 218.6"/>
<path class="a" d="M585.3 208.8L588.5 210.3"/>
<path class="a" d="M615.2 200.6L618.4 202.1"/>
<path class="a" d="M645.2 192.3L648.4 193.8"/>
<path class="a" d="M675.1 184.1L678.3 185.6"/>
<path class="a" d="M525.4 225.3L521.2 226.5"/>
<path class="a" d="M468 198.4L463.8 199.6"/>
<path class="a" d="M410.5 171.5L406.3 172.7"/>
<path class="a" d="M410.5 171.5L406.7 169.8"/>
<path class="a" d="M410.5 142.2L406.7 140.4"/>
<path class="a" d="M410.5 112.9L406.7 111.1"/>
<path class="a" d="M410.5 83.5L406.7 81.8"/>
<path class="a" d="M410.5 54.2L406.7 52.4"/>
<g transform="scale(.1)"><path class=c32 d="M5702 770l15 0l-115-54l-15-2z"/>
<path class=e32 d="M5587 714l15 2"/>
<path class=c32 d="M5687 766l15 4l-115-56l-15-8z"/>
<path class=e32 d="M5572 706l15 8"/>
<path class=c33 d="M5672 760l15 6l-115-60l-15-11z"/>
<path class=e33 d="M5557 695l15 11"/>
<path class=c33 d="M5657 752l15 8l-115-65l-15-15z"/>
<path class=e34 d="M5542 680l15 15"/>
<path class=c34 d="M5642 742l15 10l-115-72l-15-17z"/>
<path class=e36 d="M5527 663l15 17"/>
<path class=c35 d="M5627 731l15 11l-115-79l-14-18z"/>
<path class=e37 d="M5513 645l14 18"/>
<path class=c32 d="M5817 825l15-1l-115-54l-15 0z"/>
<path class=e32 d="M5702 770l15 0"/>
<path class=c36 d="M5612 719l15 12l-114-86l-15-20z"/>
<path class=e38 d="M5498 625l15 20"/>
<path class=c32 d="M5802 824l15 1l-115-55l-15-4z"/>
<path class=e32 d="M5687 766l15 4"/>
<path class=c37 d="M5597 706l15 13l-114-94l-15-21z"/>
<path class=e39 d="M5483 604l15 21"/>
<path class=c32 d="M5787 822l15 2l-115-58l-15-6z"/>
<path class=e33 d="M5672 760l15 6"/>
<path class=c33 d="M5772 818l15 4l-115-62l-15-8z"/>
<path class=e33 d="M5657 752l15 8"/>
<path class=c38 d="M5582 693l15 13l-114-102l-15-22z"/>
<path class=e41 d="M5468 582l15 22"/>
<path class=c33 d="M5757 814l15 4l-115-66l-15-10z"/>
<path class=e34 d="M5642 742l15 10"/>
<path class=c39 d="M5567 680l15 13l-114-111l-15-23z"/>
<path class=e42 d="M5453 559l15 23"/>
<path class=c34 d="M5742 808l15 6l-115-72l-15-11z"/>
<path class=e35 d="M5627 731l15 11"/>
<path class=c34 d="M5727 802l15 6l-115-77l-15-12z"/>
<path class=e36 d="M5612 719l15 12"/>
<path class=c40 d="M5553 666l14 14l-114-121l-15-23z"/>
<path class=e44 d="M5438 536l15 23"/>
<path class=c35 d="M5712 796l15 6l-115-83l-15-13z"/>
<path class=e37 d="M5597 706l15 13"/>
<path class=c32 d="M5932 880l15-2l-115-54l-15 1z"/>
<path class=e32 d="M5817 825l15-1"/>
<path class=c41 d="M5538 652l15 14l-115-130l-15-23z"/>
<path class=e45 d="M5423 513l15 23"/>
<path class=c32 d="M5917 881l15-1l-115-55l-15-1z"/>
<path class=e32 d="M5802 824l15 1"/>
<path class=c35 d="M5697 789l15 7l-115-90l-15-13z"/>
<path class=e38 d="M5582 693l15 13"/>
<path class=c32 d="M5902 881l15 0l-115-57l-15-2z"/>
<path class=e32 d="M5787 822l15 2"/>
<path class=c42 d="M5523 639l15 13l-115-139l-15-22z"/>
<path class=e47 d="M5408 491l15 22"/>
<path class=c36 d="M5682 782l15 7l-115-96l-15-13z"/>
<path class=e39 d="M5567 680l15 13"/>
<path class=c32 d="M5887 881l15 0l-115-59l-15-4z"/>
<path class=e33 d="M5772 818l15 4"/>
<path class=c32 d="M5872 880l15 1l-115-63l-15-4z"/>
<path class=e33 d="M5757 814l15 4"/>
<path class=c37 d="M5667 775l15 7l-115-102l-14-14z"/>
<path class=e40 d="M5553 666l14 14"/>
<path class=c43 d="M5508 625l15 14l-115-148l-15-22z"/>
<path class=e48 d="M5393 469l15 22"/>
<path class=c33 d="M5857 878l15 2l-115-66l-15-6z"/>
<path class=e34 d="M5742 808l15 6"/>
<path class=c14 d="M4714 1368l15-13l-115 105l-15 18z"/>
<path class=e5 d="M4599 1478l15-18"/>
<path class=c14 d="M4729 1355l15-15l-115 100l-15 20z"/>
<path class=e6 d="M4614 1460l15-20"/>
<path class=c14 d="M4699 1380l15-12l-115 110l-15 16z"/>
<path class=e4 d="M4584 1494l15-16"/>
<path class=c15 d="M4744 1340l15-17l-115 94l-15 23z"/>
<path class=e7 d="M4629 1440l15-23"/>
<path class=c13 d="M4684 1390l15-10l-115 114l-15 13z"/>
<path class=e4 d="M4569 1507l15-13"/>
<path class=c16 d="M4759 1323l15-17l-115 86l-15 25z"/>
<path class=e8 d="M4644 1417l15-25"/>
<path class=c37 d="M5652 768l15 7l-114-109l-15-14z"/>
<path class=e41 d="M5538 652l15 14"/>
<path class=c13 d="M4669 1398l15-8l-115 117l-15 10z"/>
<path class=e4 d="M4554 1517l15-10"/>
<path class=c16 d="M4774 1306l15-20l-115 79l-15 27z"/>
<path class=e9 d="M4659 1392l15-27"/>
<path class=c33 d="M5842 876l15 2l-115-70l-15-6z"/>
<path class=e34 d="M5727 802l15 6"/>
<path class=c43 d="M5493 612l15 13l-115-156l-15-22z"/>
<path class=e50 d="M5378 447l15 22"/>
<path class=c17 d="M4789 1286l15-21l-115 70l-15 30z"/>
<path class=e10 d="M4674 1365l15-30"/>
<path class=c13 d="M4654 1405l15-7l-115 119l-15 8z"/>
<path class=e3 d="M4539 1525l15-8"/>
<path class=c18 d="M4804 1265l15-22l-115 61l-15 31z"/>
<path class=e11 d="M4689 1335l15-31"/>
<path class=c13 d="M4639 1410l15-5l-115 120l-15 5z"/>
<path class=e3 d="M4524 1530l15-5"/>
<path class=c33 d="M5827 874l15 2l-115-74l-15-6z"/>
<path class=e35 d="M5712 796l15 6"/>
<path class=c38 d="M5637 760l15 8l-114-116l-15-13z"/>
<path class=e42 d="M5523 639l15 13"/>
<path class=c19 d="M4819 1243l15-23l-115 51l-15 33z"/>
<path class=e13 d="M4704 1304l15-33"/>
<path class=c13 d="M4624 1413l15-3l-115 120l-15 3z"/>
<path class=e3 d="M4509 1533l15-3"/>
<path class=c20 d="M4834 1220l15-24l-115 41l-15 34z"/>
<path class=e14 d="M4719 1271l15-34"/>
<path class=c44 d="M5478 600l15 12l-115-165l-15-20z"/>
<path class=e51 d="M5363 427l15 20"/>
<path class=c34 d="M5812 872l15 2l-115-78l-15-7z"/>
<path class=e35 d="M5697 789l15 7"/>
<path class=c13 d="M4609 1415l15-2l-115 120l-14 1z"/>
<path class=e4 d="M4495 1534l14-1"/>
<path class=c38 d="M5622 754l15 6l-114-121l-15-14z"/>
<path class=e43 d="M5508 625l15 14"/>
<path class=c32 d="M6047 935l15-4l-115-53l-15 2z"/>
<path class=e32 d="M5932 880l15-2"/>
<path class=c21 d="M4849 1196l15-25l-115 30l-15 36z"/>
<path class=e16 d="M4734 1237l15-36"/>
<path class=c13 d="M4594 1415l15 0l-114 119l-15-2z"/>
<path class=e4 d="M4480 1532l15 2"/>
<path class=c34 d="M5797 869l15 3l-115-83l-15-7z"/>
<path class=e36 d="M5682 782l15 7"/>
<path class=c32 d="M6032 937l15-2l-115-55l-15 1z"/>
<path class=e32 d="M5917 881l15-1"/>
<path class=c22 d="M4864 1171l15-26l-115 19l-15 37z"/>
<path class=e18 d="M4749 1201l15-37"/>
<path class=c45 d="M5463 589l15 11l-115-173l-15-20z"/>
<path class=e52 d="M5348 407l15 20"/>
<path class=c39 d="M5608 747l14 7l-114-129l-15-13z"/>
<path class=e43 d="M5493 612l15 13"/>
<path class=c14 d="M4579 1413l15 2l-114 117l-15-5z"/>
<path class=e4 d="M4465 1527l15 5"/>
<path class=c32 d="M6017 939l15-2l-115-56l-15 0z"/>
<path class=e32 d="M5902 881l15 0"/>
<path class=c24 d="M4879 1145l15-27l-115 7l-15 39z"/>
<path class=e20 d="M4764 1164l15-39"/>
<path class=c35 d="M5782 867l15 2l-115-87l-15-7z"/>
<path class=e37 d="M5667 775l15 7"/>
<path class=c32 d="M6002 941l15-2l-115-58l-15 0z"/>
<path class=e32 d="M5887 881l15 0"/>
<path class=c25 d="M4894 1118l15-28l-115-4l-15 39z"/>
<path class=e22 d="M4779 1125l15-39"/>
<path class=c14 d="M4564 1410l15 3l-114 114l-15-7z"/>
<path class=e5 d="M4450 1520l15 7"/>
<path class=c40 d="M5593 741l15 6l-115-135l-15-12z"/>
<path class=e44 d="M5478 600l15 12"/>
<path class=c46 d="M5448 578l15 11l-115-182l-15-18z"/>
<path class=e53 d="M5333 389l15 18"/>
<path class=c35 d="M5767 864l15 3l-115-92l-15-7z"/>
<path class=e37 d="M5652 768l15 7"/>
<path class=c32 d="M5987 942l15-1l-115-60l-15-1z"/>
<path class=e32 d="M5872 880l15 1"/>
<path class=c26 d="M4909 1090l15-28l-115-16l-15 40z"/>
<path class=e23 d="M4794 1086l15-40"/>
<path class=c14 d="M4549 1406l15 4l-114 110l-15-9z"/>
<path class=e6 d="M4435 1511l15 9"/>
<path class=c40 d="M5578 735l15 6l-115-141l-15-11z"/>
<path class=e45 d="M5463 589l15 11"/>
<path class=c35 d="M5752 862l15 2l-115-96l-15-8z"/>
<path class=e38 d="M5637 760l15 8"/>
<path class=c32 d="M5972 943l15-1l-115-62l-15-2z"/>
<path class=e33 d="M5857 878l15 2"/>
<path class=c47 d="M5433 569l15 9l-115-189l-15-16z"/>
<path class=e55 d="M5318 373l15 16"/>
<path class=c27 d="M4924 1062l15-28l-115-29l-15 41z"/>
<path class=e25 d="M4809 1046l15-41"/>
<path class=c15 d="M4535 1400l14 6l-114 105l-15-11z"/>
<path class=e7 d="M4420 1500l15 11"/>
<path class=c32 d="M5957 944l15-1l-115-65l-15-2z"/>
<path class=e33 d="M5842 876l15 2"/>
<path class=c36 d="M5737 859l15 3l-115-102l-15-6z"/>
<path class=e38 d="M5622 754l15 6"/>
<path class=c41 d="M5563 730l15 5l-115-146l-15-11z"/>
<path class=e46 d="M5448 578l15 11"/>
<path class=c29 d="M4939 1034l15-29l-115-41l-15 41z"/>
<path class=e27 d="M4824 1005l15-41"/>
<path class=c47 d="M5418 560l15 9l-115-196l-15-15z"/>
<path class=e56 d="M5303 358l15 15"/>
<path class=c33 d="M5942 944l15 0l-115-68l-15-2z"/>
<path class=e33 d="M5827 874l15 2"/>
<path class=c36 d="M5722 857l15 2l-115-105l-14-7z"/>
<path class=e39 d="M5608 747l14 7"/>
<path class=c30 d="M4954 1005l15-29l-115-53l-15 41z"/>
<path class=e29 d="M4839 964l15-41"/>
<path class=c16 d="M4520 1392l15 8l-115 100l-15-13z"/>
<path class=e7 d="M4405 1487l15 13"/>
<path class=c41 d="M5548 725l15 5l-115-152l-15-9z"/>
<path class=e47 d="M5433 569l15 9"/>
<path class=c33 d="M5927 945l15-1l-115-70l-15-2z"/>
<path class=e34 d="M5812 872l15 2"/>
<path class=c48 d="M5403 553l15 7l-115-202l-15-13z"/>
<path class=e56 d="M5288 345l15 13"/>
<path class=c32 d="M4969 976l15-28l-115-67l-15 42z"/>
<path class=e31 d="M4854 923l15-42"/>
<path class=c36 d="M5707 855l15 2l-114-110l-15-6z"/>
<path class=e40 d="M5593 741l15 6"/>
<path class=c42 d="M5533 722l15 3l-115-156l-15-9z"/>
<path class=e47 d="M5418 560l15 9"/>
<path class=c33 d="M5912 945l15 0l-115-73l-15-3z"/>
<path class=e34 d="M5797 869l15 3"/>
<path class=c16 d="M4505 1384l15 8l-115 95l-15-15z"/>
<path class=e8 d="M4390 1472l15 15"/>
<path class=c33 d="M4984 948l15-29l-115-79l-15 41z"/>
<path class=e34 d="M4869 881l15-41"/>
<path class=c37 d="M5692 853l15 2l-114-114l-15-6z"/>
<path class=e40 d="M5578 735l15 6"/>
<path class=c32 d="M6162 989l15-4l-115-54l-15 4z"/>
<path class=e32 d="M6047 935l15-4"/>
<path class=c49 d="M5388 547l15 6l-115-208l-15-11z"/>
<path class=e57 d="M5273 334l15 11"/>
<path class=c33 d="M5897 946l15-1l-115-76l-15-2z"/>
<path class=e35 d="M5782 867l15 2"/>
<path class=c42 d="M5518 719l15 3l-115-162l-15-7z"/>
<path class=e48 d="M5403 553l15 7"/>
<path class=c34 d="M4999 919l15-29l-115-91l-15 41z"/>
<path class=e36 d="M4884 840l15-41"/>
<path class=c32 d="M6147 992l15-3l-115-54l-15 2z"/>
<path class=e32 d="M6032 937l15-2"/>
<path class=c17 d="M4490 1374l15 10l-115 88l-15-16z"/>
<path class=e10 d="M4375 1456l15 16"/>
<path class=c37 d="M5677 852l15 1l-114-118l-15-5z"/>
<path class=e41 d="M5563 730l15 5"/>
<path class=c33 d="M5882 946l15 0l-115-79l-15-3z"/>
<path class=e35 d="M5767 864l15 3"/>
<path class=c49 d="M5373 542l15 5l-115-213l-15-9z"/>
<path class=e58 d="M5258 325l15 9"/>
<path class=c32 d="M6132 995l15-3l-115-55l-15 2z"/>
<path class=e32 d="M6017 939l15-2"/>
<path class=c42 d="M5503 716l15 3l-115-166l-15-6z"/>
<path class=e49 d="M5388 547l15 6"/>
<path class=c36 d="M5014 890l15-28l-115-103l-15 40z"/>
<path class=e38 d="M4899 799l15-40"/>
<path class=c37 d="M5663 851l14 1l-114-122l-15-5z"/>
<path class=e41 d="M5548 725l15 5"/>
<path class=c34 d="M5867 947l15-1l-115-82l-15-2z"/>
<path class=e35 d="M5752 862l15 2"/>
<path class=c32 d="M6117 998l15-3l-115-56l-15 2z"/>
<path class=e32 d="M6002 941l15-2"/>
<path class=c18 d="M4475 1364l15 10l-115 82l-15-18z"/>
<path class=e11 d="M4360 1438l15 18"/>
<path class=c43 d="M5488 715l15 1l-115-169l-15-5z"/>
<path class=e49 d="M5373 542l15 5"/>
<path class=c49 d="M5358 539l15 3l-115-217l-15-7z"/>
<path class=e59 d="M5243 318l15 7"/>
<path class=c37 d="M5029 862l15-27l-115-115l-15 39z"/>
<path class=e40 d="M4914 759l15-39"/>
<path class=c32 d="M6102 1001l15-3l-115-57l-15 1z"/>
<path class=e32 d="M5987 942l15-1"/>
<path class=c34 d="M5852 947l15 0l-115-85l-15-3z"/>
<path class=e36 d="M5737 859l15 3"/>
<path class=c37 d="M5648 850l15 1l-115-126l-15-3z"/>
<path class=e42 d="M5533 722l15 3"/>
<path class=c22 d="M4889 1258l15-14l-115 42l-15 20z"/>
<path class=e16 d="M4774 1306l15-20"/>
<path class=c38 d="M5044 835l14-27l-114-127l-15 39z"/>
<path class=e41 d="M4929 720l15-39"/>
<path class=c22 d="M4874 1271l15-13l-115 48l-15 17z"/>
<path class=e16 d="M4759 1323l15-17"/>
<path class=c23 d="M4904 1244l15-15l-115 36l-15 21z"/>
<path class=e17 d="M4789 1286l15-21"/>
<path class=c43 d="M5473 715l15 0l-115-173l-15-3z"/>
<path class=e49 d="M5358 539l15 3"/>
<path class=c21 d="M4859 1283l15-12l-115 52l-15 17z"/>
<path class=e15 d="M4744 1340l15-17"/>
<path class=c23 d="M4919 1229l15-15l-115 29l-15 22z"/>
<path class=e18 d="M4804 1265l15-22"/>
<path class=c50 d="M5343 538l15 1l-115-221l-15-4z"/>
<path class=e59 d="M5228 314l15 4"/>
<path class=c24 d="M4934 1214l15-16l-115 22l-15 23z"/>
<path class=e19 d="M4819 1243l15-23"/>
<path class=c21 d="M4844 1294l15-11l-115 57l-15 15z"/>
<path class=e14 d="M4729 1355l15-15"/>
<path class=c32 d="M6087 1003l15-2l-115-59l-15 1z"/>
<path class=e32 d="M5972 943l15-1"/>
<path class=c34 d="M5837 948l15-1l-115-88l-15-2z"/>
<path class=e36 d="M5722 857l15 2"/>
<path class=c24 d="M4949 1198l15-17l-115 15l-15 24z"/>
<path class=e20 d="M4834 1220l15-24"/>
<path class=c20 d="M4829 1303l15-9l-115 61l-15 13z"/>
<path class=e14 d="M4714 1368l15-13"/>
<path class=c38 d="M5633 850l15 0l-115-128l-15-3z"/>
<path class=e42 d="M5518 719l15 3"/>
<path class=c19 d="M4460 1352l15 12l-115 74l-15-20z"/>
<path class=e12 d="M4345 1418l15 20"/>
<path class=c25 d="M4964 1181l15-18l-115 8l-15 25z"/>
<path class=e21 d="M4849 1196l15-25"/>
<path class=c20 d="M4814 1312l15-9l-115 65l-15 12z"/>
<path class=e14 d="M4699 1380l15-12"/>
<path class=c39 d="M5058 808l15-26l-114-138l-15 37z"/>
<path class=e43 d="M4944 681l15-37"/>
<path class=c26 d="M4979 1163l15-18l-115 0l-15 26z"/>
<path class=e22 d="M4864 1171l15-26"/>
<path class=c43 d="M5458 715l15 0l-115-176l-15-1z"/>
<path class=e50 d="M5343 538l15 1"/>
<path class=c32 d="M6072 1006l15-3l-115-60l-15 1z"/>
<path class=e32 d="M5957 944l15-1"/>
<path class=c20 d="M4799 1320l15-8l-115 68l-15 10z"/>
<path class=e13 d="M4684 1390l15-10"/>
<path class=c50 d="M5328 538l15 0l-115-224l-15-3z"/>
<path class=e59 d="M5213 311l15 3"/>
<path class=c27 d="M4994 1145l15-18l-115-9l-15 27z"/>
<path class=e24 d="M4879 1145l15-27"/>
<path class=c34 d="M5822 949l15-1l-115-91l-15-2z"/>
<path class=e36 d="M5707 855l15 2"/>
<path class=c38 d="M5618 851l15-1l-115-131l-15-3z"/>
<path class=e42 d="M5503 716l15 3"/>
<path class=c20 d="M4784 1327l15-7l-115 70l-15 8z"/>
<path class=e13 d="M4669 1398l15-8"/>
<path class=c27 d="M5009 1127l15-19l-115-18l-15 28z"/>
<path class=e25 d="M4894 1118l15-28"/>
<path class=c41 d="M5073 782l15-25l-114-149l-15 36z"/>
<path class=e45 d="M4959 644l15-36"/>
<path class=c32 d="M6057 1008l15-2l-115-62l-15 0z"/>
<path class=e33 d="M5942 944l15 0"/>
<path class=c43 d="M5443 717l15-2l-115-177l-15 0z"/>
<path class=e50 d="M5328 538l15 0"/>
<path class=c28 d="M5024 1108l15-19l-115-27l-15 28z"/>
<path class=e26 d="M4909 1090l15-28"/>
<path class=c50 d="M5313 539l15-1l-115-227l-15 1z"/>
<path class=e60 d="M5198 312l15-1"/>
<path class=c20 d="M4769 1333l15-6l-115 71l-15 7z"/>
<path class=e13 d="M4654 1405l15-7"/>
<path class=c34 d="M5807 950l15-1l-115-94l-15-2z"/>
<path class=e37 d="M5692 853l15 2"/>
<path class=c20 d="M4445 1340l15 12l-115 66l-15-20z"/>
<path class=e13 d="M4330 1398l15 20"/>
<path class=c42 d="M5088 757l15-25l-114-158l-15 34z"/>
<path class=e47 d="M4974 608l15-34"/>
<path class=c29 d="M5039 1089l15-20l-115-35l-15 28z"/>
<path class=e27 d="M4924 1062l15-28"/>
<path class=c38 d="M5603 851l15 0l-115-135l-15-1z"/>
<path class=e43 d="M5488 715l15 1"/>
<path class=c32 d="M6042 1011l15-3l-115-64l-15 1z"/>
<path class=e33 d="M5927 945l15-1"/>
<path class=c20 d="M4754 1337l15-4l-115 72l-15 5z"/>
<path class=e13 d="M4639 1410l15-5"/>
<path class=c43 d="M5428 719l15-2l-115-179l-15 1z"/>
<path class=e50 d="M5313 539l15-1"/>
<path class=c30 d="M5054 1069l15-19l-115-45l-15 29z"/>
<path class=e29 d="M4939 1034l15-29"/>
<path class=c50 d="M5298 543l15-4l-115-227l-15 3z"/>
<path class=e60 d="M5183 315l15-3"/>
<path class=c43 d="M5103 732l15-23l-114-168l-15 33z"/>
<path class=e49 d="M4989 574l15-33"/>
<path class=c34 d="M5792 951l15-1l-115-97l-15-1z"/>
<path class=e37 d="M5677 852l15 1"/>
<path class=c31 d="M5069 1050l15-20l-115-54l-15 29z"/>
<path class=e30 d="M4954 1005l15-29"/>
<path class=c38 d="M5588 853l15-2l-115-136l-15 0z"/>
<path class=e43 d="M5473 715l15 0"/>
<path class=c20 d="M4739 1341l15-4l-115 73l-15 3z"/>
<path class=e13 d="M4624 1413l15-3"/>
<path class=c43 d="M5413 723l15-4l-115-180l-15 4z"/>
<path class=e50 d="M5298 543l15-4"/>
<path class=c32 d="M6027 1013l15-2l-115-66l-15 0z"/>
<path class=e33 d="M5912 945l15 0"/>
<path class=c50 d="M5283 548l15-5l-115-228l-15 5z"/>
<path class=e60 d="M5168 320l15-5"/>
<path class=c44 d="M5118 709l15-22l-115-177l-14 31z"/>
<path class=e50 d="M5004 541l14-31"/>
<path class=c32 d="M5084 1030l15-20l-115-62l-15 28z"/>
<path class=e32 d="M4969 976l15-28"/>
<path class=c32 d="M5099 1010l14-19l-114-72l-15 29z"/>
<path class=e33 d="M4984 948l15-29"/>
<path class=c35 d="M5777 952l15-1l-115-99l-14-1z"/>
<path class=e37 d="M5663 851l14 1"/>
<path class=c50 d="M5268 554l15-6l-115-228l-15 8z"/>
<path class=e59 d="M5153 328l15-8"/>
<path class=c45 d="M5133 687l15-21l-115-186l-15 30z"/>
<path class=e52 d="M5018 510l15-30"/>
<path class=c20 d="M4724 1344l15-3l-115 72l-15 2z"/>
<path class=e13 d="M4609 1415l15-2"/>
<path class=c38 d="M5573 855l15-2l-115-138l-15 0z"/>
<path class=e43 d="M5458 715l15 0"/>
<path class=c20 d="M4430 1327l15 13l-115 58l-15-21z"/>
<path class=e15 d="M4315 1377l15 21"/>
<path class=c43 d="M5398 727l15-4l-115-180l-15 5z"/>
<path class=e50 d="M5283 548l15-5"/>
<path class=c32 d="M6012 1015l15-2l-115-68l-15 1z"/>
<path class=e33 d="M5897 946l15-1"/>
<path class=c33 d="M5113 991l15-20l-114-81l-15 29z"/>
<path class=e34 d="M4999 919l15-29"/>
<path class=c46 d="M5148 666l15-19l-115-194l-15 27z"/>
<path class=e53 d="M5033 480l15-27"/>
<path class=c50 d="M5253 563l15-9l-115-226l-15 10z"/>
<path class=e59 d="M5138 338l15-10"/>
<path class=c43 d="M5383 733l15-6l-115-179l-15 6z"/>
<path class=e50 d="M5268 554l15-6"/>
<path class=c47 d="M5163 647l15-18l-115-201l-15 25z"/>
<path class=e54 d="M5048 453l15-25"/>
<path class=c34 d="M5128 971l15-19l-114-90l-15 28z"/>
<path class=e36 d="M5014 890l15-28"/>
<path class=c49 d="M5238 573l15-10l-115-225l-15 14z"/>
<path class=e59 d="M5123 352l15-14"/>
<path class=c20 d="M4709 1345l15-1l-115 71l-15 0z"/>
<path class=e13 d="M4594 1415l15 0"/>
<path class=c38 d="M5558 857l15-2l-115-140l-15 2z"/>
<path class=e43 d="M5443 717l15-2"/>
<path class=c35 d="M5762 954l15-2l-114-101l-15-1z"/>
<path class=e37 d="M5648 850l15 1"/>
<path class=c47 d="M5178 629l15-16l-115-208l-15 23z"/>
<path class=e55 d="M5063 428l15-23"/>
<path class=c49 d="M5223 584l15-11l-115-221l-15 15z"/>
<path class=e58 d="M5108 367l15-15"/>
<path class=c32 d="M5997 1018l15-3l-115-69l-15 0z"/>
<path class=e33 d="M5882 946l15 0"/>
<path class=c48 d="M5193 613l15-15l-115-213l-15 20z"/>
<path class=e56 d="M5078 405l15-20"/>
<path class=c49 d="M5208 598l15-14l-115-217l-15 18z"/>
<path class=e57 d="M5093 385l15-18"/>
<path class=c32 d="M6277 1043l15-4l-115-54l-15 4z"/>
<path class=e32 d="M6162 989l15-4"/>
<path class=c35 d="M5143 952l15-19l-114-98l-15 27z"/>
<path class=e37 d="M5029 862l15-27"/>
<path class=c43 d="M5368 740l15-7l-115-179l-15 9z"/>
<path class=e50 d="M5253 563l15-9"/>
<path class=c36 d="M5158 933l15-18l-115-107l-14 27z"/>
<path class=e38 d="M5044 835l14-27"/>
<path class=c39 d="M5543 861l15-4l-115-140l-15 2z"/>
<path class=e43 d="M5428 719l15-2"/>
<path class=c43 d="M5353 748l15-8l-115-177l-15 10z"/>
<path class=e49 d="M5238 573l15-10"/>
<path class=c35 d="M5747 955l15-1l-114-104l-15 0z"/>
<path class=e38 d="M5633 850l15 0"/>
<path class=c20 d="M4694 1346l15-1l-115 70l-15-2z"/>
<path class=e14 d="M4579 1413l15 2"/>
<path class=c32 d="M6262 1047l15-4l-115-54l-15 3z"/>
<path class=e32 d="M6147 992l15-3"/>
<path class=c36 d="M5173 915l15-18l-115-115l-15 26z"/>
<path class=e39 d="M5058 808l15-26"/>
<path class=c33 d="M5982 1020l15-2l-115-72l-15 1z"/>
<path class=e34 d="M5867 947l15-1"/>
<path class=c21 d="M4415 1314l15 13l-115 50l-15-23z"/>
<path class=e16 d="M4300 1354l15 23"/>
<path class=c43 d="M5338 757l15-9l-115-175l-15 11z"/>
<path class=e49 d="M5223 584l15-11"/>
<path class=c37 d="M5188 897l15-18l-115-122l-15 25z"/>
<path class=e41 d="M5073 782l15-25"/>
<path class=c42 d="M5323 767l15-10l-115-173l-15 14z"/>
<path class=e49 d="M5208 598l15-14"/>
<path class=c39 d="M5528 864l15-3l-115-142l-15 4z"/>
<path class=e43 d="M5413 723l15-4"/>
<path class=c38 d="M5203 879l15-17l-115-130l-15 25z"/>
<path class=e42 d="M5088 757l15-25"/>
<path class=c32 d="M6247 1050l15-3l-115-55l-15 3z"/>
<path class=e32 d="M6132 995l15-3"/>
<path class=c42 d="M5308 778l15-11l-115-169l-15 15z"/>
<path class=e48 d="M5193 613l15-15"/>
<path class=c39 d="M5218 862l15-16l-115-137l-15 23z"/>
<path class=e43 d="M5103 732l15-23"/>
<path class=c35 d="M5732 958l15-3l-114-105l-15 1z"/>
<path class=e38 d="M5618 851l15-1"/>
<path class=c39 d="M5233 846l15-15l-115-144l-15 22z"/>
<path class=e44 d="M5118 709l15-22"/>
<path class=c41 d="M5293 789l15-11l-115-165l-15 16z"/>
<path class=e47 d="M5178 629l15-16"/>
<path class=c20 d="M4679 1345l15 1l-115 67l-15-3z"/>
<path class=e14 d="M4564 1410l15 3"/>
<path class=c33 d="M5967 1022l15-2l-115-73l-15 0z"/>
<path class=e34 d="M5852 947l15 0"/>
<path class=c40 d="M5248 831l15-15l-115-150l-15 21z"/>
<path class=e45 d="M5133 687l15-21"/>
<path class=c41 d="M5278 802l15-13l-115-160l-15 18z"/>
<path class=e47 d="M5163 647l15-18"/>
<path class=c40 d="M5263 816l15-14l-115-155l-15 19z"/>
<path class=e46 d="M5148 666l15-19"/>
<path class=c39 d="M5513 869l15-5l-115-141l-15 4z"/>
<path class=e43 d="M5398 727l15-4"/>
<path class=c32 d="M6232 1054l15-4l-115-55l-15 3z"/>
<path class=e32 d="M6117 998l15-3"/>
<path class=c35 d="M5717 960l15-2l-114-107l-15 0z"/>
<path class=e38 d="M5603 851l15 0"/>
<path class=c33 d="M5952 1025l15-3l-115-75l-15 1z"/>
<path class=e34 d="M5837 948l15-1"/>
<path class=c38 d="M5498 874l15-5l-115-142l-15 6z"/>
<path class=e43 d="M5383 733l15-6"/>
<path class=c21 d="M4664 1344l15 1l-115 65l-15-4z"/>
<path class=e14 d="M4549 1406l15 4"/>
<path class=c22 d="M4400 1300l15 14l-115 40l-15-22z"/>
<path class=e18 d="M4285 1332l15 22"/>
<path class=c32 d="M6217 1057l15-3l-115-56l-15 3z"/>
<path class=e32 d="M6102 1001l15-3"/>
<path class=c35 d="M5703 962l14-2l-114-109l-15 2z"/>
<path class=e38 d="M5588 853l15-2"/>
<path class=c38 d="M5483 880l15-6l-115-141l-15 7z"/>
<path class=e43 d="M5368 740l15-7"/>
<path class=c33 d="M5937 1027l15-2l-115-77l-15 1z"/>
<path class=e34 d="M5822 949l15-1"/>
<path class=c32 d="M6202 1061l15-4l-115-56l-15 2z"/>
<path class=e32 d="M6087 1003l15-2"/>
<path class=c38 d="M5468 886l15-6l-115-140l-15 8z"/>
<path class=e43 d="M5353 748l15-8"/>
<path class=c21 d="M4649 1342l15 2l-115 62l-14-6z"/>
<path class=e15 d="M4535 1400l14 6"/>
<path class=c35 d="M5688 965l15-3l-115-109l-15 2z"/>
<path class=e38 d="M5573 855l15-2"/>
<path class=c33 d="M5922 1030l15-3l-115-78l-15 1z"/>
<path class=e34 d="M5807 950l15-1"/>
<path class=c38 d="M5453 893l15-7l-115-138l-15 9z"/>
<path class=e43 d="M5338 757l15-9"/>
<path class=c32 d="M6187 1064l15-3l-115-58l-15 3z"/>
<path class=e32 d="M6072 1006l15-3"/>
<path class=c23 d="M4385 1287l15 13l-115 32l-15-23z"/>
<path class=e19 d="M4270 1309l15 23"/>
<path class=c38 d="M5438 900l15-7l-115-136l-15 10z"/>
<path class=e42 d="M5323 767l15-10"/>
<path class=c35 d="M5673 969l15-4l-115-110l-15 2z"/>
<path class=e38 d="M5558 857l15-2"/>
<path class=c33 d="M5907 1032l15-2l-115-80l-15 1z"/>
<path class=e34 d="M5792 951l15-1"/>
<path class=c21 d="M4634 1338l15 4l-114 58l-15-8z"/>
<path class=e16 d="M4520 1392l15 8"/>
<path class=c38 d="M5423 909l15-9l-115-133l-15 11z"/>
<path class=e42 d="M5308 778l15-11"/>
<path class=c32 d="M6172 1068l15-4l-115-58l-15 2z"/>
<path class=e32 d="M6057 1008l15-2"/>
<path class=c37 d="M5408 917l15-8l-115-131l-15 11z"/>
<path class=e41 d="M5293 789l15-11"/>
<path class=c35 d="M5658 972l15-3l-115-112l-15 4z"/>
<path class=e39 d="M5543 861l15-4"/>
<path class=c33 d="M5892 1035l15-3l-115-81l-15 1z"/>
<path class=e35 d="M5777 952l15-1"/>
<path class=c37 d="M5393 927l15-10l-115-128l-15 13z"/>
<path class=e41 d="M5278 802l15-13"/>
<path class=c32 d="M6157 1071l15-3l-115-60l-15 3z"/>
<path class=e32 d="M6042 1011l15-3"/>
<path class=c37 d="M5378 937l15-10l-115-125l-15 14z"/>
<path class=e40 d="M5263 816l15-14"/>
<path class=c35 d="M5643 976l15-4l-115-111l-15 3z"/>
<path class=e39 d="M5528 864l15-3"/>
<path class=c22 d="M4619 1335l15 3l-114 54l-15-8z"/>
<path class=e16 d="M4505 1384l15 8"/>
<path class=c36 d="M5363 947l15-10l-115-121l-15 15z"/>
<path class=e40 d="M5248 831l15-15"/>
<path class=c36 d="M5348 958l15-11l-115-116l-15 15z"/>
<path class=e39 d="M5233 846l15-15"/>
<path class=c33 d="M5877 1038l15-3l-115-83l-15 2z"/>
<path class=e35 d="M5762 954l15-2"/>
<path class=c24 d="M4370 1273l15 14l-115 22l-15-23z"/>
<path class=e21 d="M4255 1286l15 23"/>
<path class=c36 d="M5333 969l15-11l-115-112l-15 16z"/>
<path class=e39 d="M5218 862l15-16"/>
<path class=c32 d="M6142 1075l15-4l-115-60l-15 2z"/>
<path class=e32 d="M6027 1013l15-2"/>
<path class=c35 d="M5318 981l15-12l-115-107l-15 17z"/>
<path class=e38 d="M5203 879l15-17"/>
<path class=c35 d="M5628 981l15-5l-115-112l-15 5z"/>
<path class=e39 d="M5513 869l15-5"/>
<path class=c35 d="M5303 993l15-12l-115-102l-15 18z"/>
<path class=e37 d="M5188 897l15-18"/>
<path class=c34 d="M5288 1005l15-12l-115-96l-15 18z"/>
<path class=e36 d="M5173 915l15-18"/>
<path class=c34 d="M5273 1018l15-13l-115-90l-15 18z"/>
<path class=e36 d="M5158 933l15-18"/>
<path class=c33 d="M5258 1031l15-13l-115-85l-15 19z"/>
<path class=e35 d="M5143 952l15-19"/>
<path class=c33 d="M5243 1044l15-13l-115-79l-15 19z"/>
<path class=e34 d="M5128 971l15-19"/>
<path class=c33 d="M5228 1057l15-13l-115-73l-15 20z"/>
<path class=e33 d="M5113 991l15-20"/>
<path class=c30 d="M5168 1111l15-14l-114-47l-15 19z"/>
<path class=e30 d="M5054 1069l15-19"/>
<path class=c31 d="M5183 1097l15-13l-114-54l-15 20z"/>
<path class=e31 d="M5069 1050l15-20"/>
<path class=c32 d="M5198 1084l15-14l-114-60l-15 20z"/>
<path class=e32 d="M5084 1030l15-20"/>
<path class=c32 d="M5213 1070l15-13l-115-66l-14 19z"/>
<path class=e32 d="M5099 1010l14-19"/>
<path class=c30 d="M5154 1124l14-13l-114-42l-15 20z"/>
<path class=e29 d="M5039 1089l15-20"/>
<path class=c30 d="M5139 1137l15-13l-115-35l-15 19z"/>
<path class=e28 d="M5024 1108l15-19"/>
<path class=c29 d="M5124 1150l15-13l-115-29l-15 19z"/>
<path class=e27 d="M5009 1127l15-19"/>
<path class=c29 d="M5109 1162l15-12l-115-23l-15 18z"/>
<path class=e27 d="M4994 1145l15-18"/>
<path class=c28 d="M5094 1175l15-13l-115-17l-15 18z"/>
<path class=e26 d="M4979 1163l15-18"/>
<path class=c33 d="M5862 1041l15-3l-115-84l-15 1z"/>
<path class=e35 d="M5747 955l15-1"/>
<path class=c28 d="M5079 1187l15-12l-115-12l-15 18z"/>
<path class=e25 d="M4964 1181l15-18"/>
<path class=c32 d="M6127 1078l15-3l-115-62l-15 2z"/>
<path class=e32 d="M6012 1015l15-2"/>
<path class=c22 d="M4604 1330l15 5l-114 49l-15-10z"/>
<path class=e17 d="M4490 1374l15 10"/>
<path class=c27 d="M5064 1199l15-12l-115-6l-15 17z"/>
<path class=e24 d="M4949 1198l15-17"/>
<path class=c35 d="M5613 985l15-4l-115-112l-15 5z"/>
<path class=e38 d="M5498 874l15-5"/>
<path class=c27 d="M5049 1210l15-11l-115-1l-15 16z"/>
<path class=e24 d="M4934 1214l15-16"/>
<path class=c27 d="M5034 1221l15-11l-115 4l-15 15z"/>
<path class=e23 d="M4919 1229l15-15"/>
<path class=c26 d="M5019 1231l15-10l-115 8l-15 15z"/>
<path class=e23 d="M4904 1244l15-15"/>
<path class=c33 d="M5847 1044l15-3l-115-86l-15 3z"/>
<path class=e35 d="M5732 958l15-3"/>
<path class=c35 d="M5598 990l15-5l-115-111l-15 6z"/>
<path class=e38 d="M5483 880l15-6"/>
<path class=c32 d="M6112 1081l15-3l-115-63l-15 3z"/>
<path class=e32 d="M5997 1018l15-3"/>
<path class=c26 d="M5004 1241l15-10l-115 13l-15 14z"/>
<path class=e22 d="M4889 1258l15-14"/>
<path class=c25 d="M4355 1259l15 14l-115 13l-15-22z"/>
<path class=e22 d="M4240 1264l15 22"/>
<path class=c26 d="M4989 1250l15-9l-115 17l-15 13z"/>
<path class=e22 d="M4874 1271l15-13"/>
<path class=c35 d="M5583 996l15-6l-115-110l-15 6z"/>
<path class=e38 d="M5468 886l15-6"/>
<path class=c23 d="M4590 1325l14 5l-114 44l-15-10z"/>
<path class=e18 d="M4475 1364l15 10"/>
<path class=c25 d="M4974 1259l15-9l-115 21l-15 12z"/>
<path class=e21 d="M4859 1283l15-12"/>
<path class=c33 d="M5832 1047l15-3l-115-86l-15 2z"/>
<path class=e35 d="M5717 960l15-2"/>
<path class=c32 d="M6097 1085l15-4l-115-63l-15 2z"/>
<path class=e33 d="M5982 1020l15-2"/>
<path class=c32 d="M6391 1097l15-4l-114-54l-15 4z"/>
<path class=e32 d="M6277 1043l15-4"/>
<path class=c25 d="M4959 1267l15-8l-115 24l-15 11z"/>
<path class=e21 d="M4844 1294l15-11"/>
<path class=c35 d="M5568 1001l15-5l-115-110l-15 7z"/>
<path class=e38 d="M5453 893l15-7"/>
<path class=c25 d="M4944 1275l15-8l-115 27l-15 9z"/>
<path class=e20 d="M4829 1303l15-9"/>
<path class=c33 d="M5817 1051l15-4l-115-87l-14 2z"/>
<path class=e35 d="M5703 962l14-2"/>
<path class=c32 d="M6376 1101l15-4l-114-54l-15 4z"/>
<path class=e32 d="M6262 1047l15-4"/>
<path class=c32 d="M6082 1088l15-3l-115-65l-15 2z"/>
<path class=e33 d="M5967 1022l15-2"/>
<path class=c35 d="M5553 1007l15-6l-115-108l-15 7z"/>
<path class=e38 d="M5438 900l15-7"/>
<path class=c25 d="M4929 1282l15-7l-115 28l-15 9z"/>
<path class=e20 d="M4814 1312l15-9"/>
<path class=c23 d="M4575 1319l15 6l-115 39l-15-12z"/>
<path class=e19 d="M4460 1352l15 12"/>
<path class=c32 d="M6362 1105l14-4l-114-54l-15 3z"/>
<path class=e32 d="M6247 1050l15-3"/>
<path class=c33 d="M5802 1054l15-3l-114-89l-15 3z"/>
<path class=e35 d="M5688 965l15-3"/>
<path class=c35 d="M5538 1014l15-7l-115-107l-15 9z"/>
<path class=e38 d="M5423 909l15-9"/>
<path class=c26 d="M4340 1246l15 13l-115 5l-15-23z"/>
<path class=e24 d="M4225 1241l15 23"/>
<path class=c32 d="M6067 1091l15-3l-115-66l-15 3z"/>
<path class=e33 d="M5952 1025l15-3"/>
<path class=c25 d="M4914 1288l15-6l-115 30l-15 8z"/>
<path class=e20 d="M4799 1320l15-8"/>
<path class=c35 d="M5523 1020l15-6l-115-105l-15 8z"/>
<path class=e37 d="M5408 917l15-8"/>
<path class=c32 d="M6347 1109l15-4l-115-55l-15 4z"/>
<path class=e32 d="M6232 1054l15-4"/>
<path class=c33 d="M5787 1058l15-4l-114-89l-15 4z"/>
<path class=e35 d="M5673 969l15-4"/>
<path class=c25 d="M4899 1294l15-6l-115 32l-15 7z"/>
<path class=e20 d="M4784 1327l15-7"/>
<path class=c32 d="M6052 1095l15-4l-115-66l-15 2z"/>
<path class=e33 d="M5937 1027l15-2"/>
<path class=c35 d="M5508 1027l15-7l-115-103l-15 10z"/>
<path class=e37 d="M5393 927l15-10"/>
<path class=c24 d="M4560 1313l15 6l-115 33l-15-12z"/>
<path class=e20 d="M4445 1340l15 12"/>
<path class=c24 d="M4884 1299l15-5l-115 33l-15 6z"/>
<path class=e20 d="M4769 1333l15-6"/>
<path class=c32 d="M6332 1113l15-4l-115-55l-15 3z"/>
<path class=e32 d="M6217 1057l15-3"/>
<path class=c33 d="M5772 1062l15-4l-114-89l-15 3z"/>
<path class=e35 d="M5658 972l15-3"/>
<path class=c34 d="M5493 1035l15-8l-115-100l-15 10z"/>
<path class=e37 d="M5378 937l15-10"/>
<path class=c32 d="M6037 1098l15-3l-115-68l-15 3z"/>
<path class=e33 d="M5922 1030l15-3"/>
<path class=c34 d="M5478 1042l15-7l-115-98l-15 10z"/>
<path class=e36 d="M5363 947l15-10"/>
<path class=c27 d="M4325 1233l15 13l-115-5l-15-21z"/>
<path class=e25 d="M4210 1220l15 21"/>
<path class=c24 d="M4869 1303l15-4l-115 34l-15 4z"/>
<path class=e20 d="M4754 1337l15-4"/>
<path class=c32 d="M6317 1116l15-3l-115-56l-15 4z"/>
<path class=e32 d="M6202 1061l15-4"/>
<path class=c33 d="M5758 1066l14-4l-114-90l-15 4z"/>
<path class=e35 d="M5643 976l15-4"/>
<path class=c34 d="M5463 1050l15-8l-115-95l-15 11z"/>
<path class=e36 d="M5348 958l15-11"/>
<path class=c32 d="M6022 1102l15-4l-115-68l-15 2z"/>
<path class=e33 d="M5907 1032l15-2"/>
<path class=c25 d="M4545 1306l15 7l-115 27l-15-13z"/>
<path class=e20 d="M4430 1327l15 13"/>
<path class=c24 d="M4854 1307l15-4l-115 34l-15 4z"/>
<path class=e20 d="M4739 1341l15-4"/>
<path class=c34 d="M5448 1058l15-8l-115-92l-15 11z"/>
<path class=e36 d="M5333 969l15-11"/>
<path class=c32 d="M6302 1120l15-4l-115-55l-15 3z"/>
<path class=e32 d="M6187 1064l15-3"/>
<path class=c33 d="M5743 1070l15-4l-115-90l-15 5z"/>
<path class=e35 d="M5628 981l15-5"/>
<path class=c34 d="M5433 1066l15-8l-115-89l-15 12z"/>
<path class=e35 d="M5318 981l15-12"/>
<path class=c32 d="M6007 1105l15-3l-115-70l-15 3z"/>
<path class=e33 d="M5892 1035l15-3"/>
<path class=c25 d="M4839 1310l15-3l-115 34l-15 3z"/>
<path class=e20 d="M4724 1344l15-3"/>
<path class=c33 d="M5418 1075l15-9l-115-85l-15 12z"/>
<path class=e35 d="M5303 993l15-12"/>
<path class=c33 d="M5728 1075l15-5l-115-89l-15 4z"/>
<path class=e35 d="M5613 985l15-4"/>
<path class=c32 d="M6287 1124l15-4l-115-56l-15 4z"/>
<path class=e32 d="M6172 1068l15-4"/>
<path class=c28 d="M4310 1222l15 11l-115-13l-15-20z"/>
<path class=e26 d="M4195 1200l15 20"/>
<path class=c33 d="M5403 1083l15-8l-115-82l-15 12z"/>
<path class=e34 d="M5288 1005l15-12"/>
<path class=c32 d="M5992 1109l15-4l-115-70l-15 3z"/>
<path class=e33 d="M5877 1038l15-3"/>
<path class=c33 d="M5388 1092l15-9l-115-78l-15 13z"/>
<path class=e34 d="M5273 1018l15-13"/>
<path class=c25 d="M4530 1300l15 6l-115 21l-15-13z"/>
<path class=e21 d="M4415 1314l15 13"/>
<path class=c33 d="M5713 1079l15-4l-115-90l-15 5z"/>
<path class=e35 d="M5598 990l15-5"/>
<path class=c25 d="M4824 1313l15-3l-115 34l-15 1z"/>
<path class=e20 d="M4709 1345l15-1"/>
<path class=c32 d="M6272 1128l15-4l-115-56l-15 3z"/>
<path class=e32 d="M6157 1071l15-3"/>
<path class=c33 d="M5373 1101l15-9l-115-74l-15 13z"/>
<path class=e33 d="M5258 1031l15-13"/>
<path class=c32 d="M5977 1113l15-4l-115-71l-15 3z"/>
<path class=e33 d="M5862 1041l15-3"/>
<path class=c32 d="M5358 1110l15-9l-115-70l-15 13z"/>
<path class=e33 d="M5243 1044l15-13"/>
<path class=c33 d="M5698 1084l15-5l-115-89l-15 6z"/>
<path class=e35 d="M5583 996l15-6"/>
<path class=c32 d="M6257 1132l15-4l-115-57l-15 4z"/>
<path class=e32 d="M6142 1075l15-4"/>
<path class=c25 d="M4809 1315l15-2l-115 32l-15 1z"/>
<path class=e20 d="M4694 1346l15-1"/>
<path class=c32 d="M5343 1119l15-9l-115-66l-15 13z"/>
<path class=e33 d="M5228 1057l15-13"/>
<path class=c32 d="M5962 1116l15-3l-115-72l-15 3z"/>
<path class=e33 d="M5847 1044l15-3"/>
<path class=c32 d="M5328 1128l15-9l-115-62l-15 13z"/>
<path class=e32 d="M5213 1070l15-13"/>
<path class=c33 d="M5683 1089l15-5l-115-88l-15 5z"/>
<path class=e35 d="M5568 1001l15-5"/>
<path class=c29 d="M4295 1211l15 11l-115-22l-15-18z"/>
<path class=e27 d="M4180 1182l15 18"/>
<path class=c32 d="M5313 1138l15-10l-115-58l-15 14z"/>
<path class=e32 d="M5198 1084l15-14"/>
<path class=c26 d="M4515 1293l15 7l-115 14l-15-14z"/>
<path class=e22 d="M4400 1300l15 14"/>
<path class=c32 d="M6242 1136l15-4l-115-57l-15 3z"/>
<path class=e32 d="M6127 1078l15-3"/>
<path class=c25 d="M4794 1316l15-1l-115 31l-15-1z"/>
<path class=e20 d="M4679 1345l15 1"/>
<path class=c31 d="M5298 1147l15-9l-115-54l-15 13z"/>
<path class=e31 d="M5183 1097l15-13"/>
<path class=c32 d="M5947 1120l15-4l-115-72l-15 3z"/>
<path class=e33 d="M5832 1047l15-3"/>
<path class=c33 d="M5668 1094l15-5l-115-88l-15 6z"/>
<path class=e35 d="M5553 1007l15-6"/>
<path class=c31 d="M5283 1156l15-9l-115-50l-15 14z"/>
<path class=e30 d="M5168 1111l15-14"/>
<path class=c32 d="M6227 1140l15-4l-115-58l-15 3z"/>
<path class=e32 d="M6112 1081l15-3"/>
<path class=c31 d="M5268 1165l15-9l-115-45l-14 13z"/>
<path class=e30 d="M5154 1124l14-13"/>
<path class=c33 d="M5653 1099l15-5l-115-87l-15 7z"/>
<path class=e35 d="M5538 1014l15-7"/>
<path class=c32 d="M5932 1124l15-4l-115-73l-15 4z"/>
<path class=e33 d="M5817 1051l15-4"/>
<path class=c30 d="M5253 1174l15-9l-114-41l-15 13z"/>
<path class=e30 d="M5139 1137l15-13"/>
<path class=c25 d="M4779 1317l15-1l-115 29l-15-1z"/>
<path class=e21 d="M4664 1344l15 1"/>
<path class=c30 d="M5238 1183l15-9l-114-37l-15 13z"/>
<path class=e29 d="M5124 1150l15-13"/>
<path class=c26 d="M4500 1285l15 8l-115 7l-15-13z"/>
<path class=e23 d="M4385 1287l15 13"/>
<path class=c32 d="M6212 1144l15-4l-115-59l-15 4z"/>
<path class=e32 d="M6097 1085l15-4"/>
<path class=c30 d="M4280 1201l15 10l-115-29l-15-17z"/>
<path class=e29 d="M4165 1165l15 17"/>
<path class=c33 d="M5638 1104l15-5l-115-85l-15 6z"/>
<path class=e35 d="M5523 1020l15-6"/>
<path class=c30 d="M5223 1192l15-9l-114-33l-15 12z"/>
<path class=e29 d="M5109 1162l15-12"/>
<path class=c32 d="M5917 1128l15-4l-115-73l-15 3z"/>
<path class=e33 d="M5802 1054l15-3"/>
<path class=c32 d="M6506 1150l15-4l-115-53l-15 4z"/>
<path class=e32 d="M6391 1097l15-4"/>
<path class=c30 d="M5208 1200l15-8l-114-30l-15 13z"/>
<path class=e28 d="M5094 1175l15-13"/>
<path class=c25 d="M4764 1317l15 0l-115 27l-15-2z"/>
<path class=e21 d="M4649 1342l15 2"/>
<path class=c33 d="M5623 1110l15-6l-115-84l-15 7z"/>
<path class=e35 d="M5508 1027l15-7"/>
<path class=c32 d="M6197 1148l15-4l-115-59l-15 3z"/>
<path class=e32 d="M6082 1088l15-3"/>
<path class=c29 d="M5194 1209l14-9l-114-25l-15 12z"/>
<path class=e28 d="M5079 1187l15-12"/>
<path class=c32 d="M5902 1132l15-4l-115-74l-15 4z"/>
<path class=e33 d="M5787 1058l15-4"/>
<path class=c32 d="M6491 1155l15-5l-115-53l-15 4z"/>
<path class=e32 d="M6376 1101l15-4"/>
<path class=c33 d="M5608 1116l15-6l-115-83l-15 8z"/>
<path class=e34 d="M5493 1035l15-8"/>
<path class=c29 d="M5179 1217l15-8l-115-22l-15 12z"/>
<path class=e27 d="M5064 1199l15-12"/>
<path class=c32 d="M6182 1151l15-3l-115-60l-15 3z"/>
<path class=e32 d="M6067 1091l15-3"/>
<path class=c27 d="M4485 1278l15 7l-115 2l-15-14z"/>
<path class=e24 d="M4370 1273l15 14"/>
<path class=c26 d="M4749 1317l15 0l-115 25l-15-4z"/>
<path class=e21 d="M4634 1338l15 4"/>
<path class=c29 d="M5164 1225l15-8l-115-18l-15 11z"/>
<path class=e27 d="M5049 1210l15-11"/>
<path class=c30 d="M4265 1193l15 8l-115-36l-15-15z"/>
<path class=e30 d="M4150 1150l15 15"/>
<path class=c32 d="M5887 1136l15-4l-115-74l-15 4z"/>
<path class=e33 d="M5772 1062l15-4"/>
<path class=c32 d="M6476 1159l15-4l-115-54l-14 4z"/>
<path class=e32 d="M6362 1105l14-4"/>
<path class=c33 d="M5593 1121l15-5l-115-81l-15 7z"/>
<path class=e34 d="M5478 1042l15-7"/>
<path class=c29 d="M5149 1233l15-8l-115-15l-15 11z"/>
<path class=e27 d="M5034 1221l15-11"/>
<path class=c32 d="M6167 1155l15-4l-115-60l-15 4z"/>
<path class=e32 d="M6052 1095l15-4"/>
<path class=c33 d="M5578 1127l15-6l-115-79l-15 8z"/>
<path class=e34 d="M5463 1050l15-8"/>
<path class=c32 d="M5872 1140l15-4l-115-74l-14 4z"/>
<path class=e33 d="M5758 1066l14-4"/>
<path class=c29 d="M5134 1241l15-8l-115-12l-15 10z"/>
<path class=e26 d="M5019 1231l15-10"/>
<path class=c32 d="M6461 1163l15-4l-114-54l-15 4z"/>
<path class=e32 d="M6347 1109l15-4"/>
<path class=c26 d="M4734 1317l15 0l-115 21l-15-3z"/>
<path class=e22 d="M4619 1335l15 3"/>
<path class=c32 d="M6152 1159l15-4l-115-60l-15 3z"/>
<path class=e32 d="M6037 1098l15-3"/>
<path class=c28 d="M5119 1248l15-7l-115-10l-15 10z"/>
<path class=e26 d="M5004 1241l15-10"/>
<path class=c33 d="M5563 1133l15-6l-115-77l-15 8z"/>
<path class=e34 d="M5448 1058l15-8"/>
<path class=c28 d="M4470 1271l15 7l-115-5l-15-14z"/>
<path class=e25 d="M4355 1259l15 14"/>
<path class=c32 d="M5857 1144l15-4l-114-74l-15 4z"/>
<path class=e33 d="M5743 1070l15-4"/>
<path class=c31 d="M4250 1186l15 7l-115-43l-15-11z"/>
<path class=e31 d="M4135 1139l15 11"/>
<path class=c32 d="M6446 1167l15-4l-114-54l-15 4z"/>
<path class=e32 d="M6332 1113l15-4"/>
<path class=c28 d="M5104 1255l15-7l-115-7l-15 9z"/>
<path class=e26 d="M4989 1250l15-9"/>
<path class=c33 d="M5548 1139l15-6l-115-75l-15 8z"/>
<path class=e34 d="M5433 1066l15-8"/>
<path class=c32 d="M6137 1163l15-4l-115-61l-15 4z"/>
<path class=e32 d="M6022 1102l15-4"/>
<path class=c26 d="M4719 1316l15 1l-115 18l-15-5z"/>
<path class=e22 d="M4604 1330l15 5"/>
<path class=c32 d="M5842 1148l15-4l-114-74l-15 5z"/>
<path class=e33 d="M5728 1075l15-5"/>
<path class=c28 d="M5089 1261l15-6l-115-5l-15 9z"/>
<path class=e25 d="M4974 1259l15-9"/>
<path class=c32 d="M6431 1171l15-4l-114-54l-15 3z"/>
<path class=e32 d="M6317 1116l15-3"/>
<path class=c32 d="M5533 1146l15-7l-115-73l-15 9z"/>
<path class=e33 d="M5418 1075l15-9"/>
<path class=c32 d="M6122 1167l15-4l-115-61l-15 3z"/>
<path class=e32 d="M6007 1105l15-3"/>
<path class=c28 d="M5074 1268l15-7l-115-2l-15 8z"/>
<path class=e25 d="M4959 1267l15-8"/>
<path class=c32 d="M5518 1152l15-6l-115-71l-15 8z"/>
<path class=e33 d="M5403 1083l15-8"/>
<path class=c28 d="M4455 1264l15 7l-115-12l-15-13z"/>
<path class=e26 d="M4340 1246l15 13"/>
<path class=c32 d="M5827 1152l15-4l-114-73l-15 4z"/>
<path class=e33 d="M5713 1079l15-4"/>
<path class=c31 d="M4235 1183l15 3l-115-47l-15-8z"/>
<path class=e31 d="M4120 1131l15 8"/>
<path class=c32 d="M6417 1175l14-4l-114-55l-15 4z"/>
<path class=e32 d="M6302 1120l15-4"/>
<path class=c26 d="M4704 1314l15 2l-115 14l-14-5z"/>
<path class=e23 d="M4590 1325l14 5"/>
<path class=c28 d="M5059 1274l15-6l-115-1l-15 8z"/>
<path class=e25 d="M4944 1275l15-8"/>
<path class=c32 d="M5503 1158l15-6l-115-69l-15 9z"/>
<path class=e33 d="M5388 1092l15-9"/>
<path class=c32 d="M6107 1171l15-4l-115-62l-15 4z"/>
<path class=e32 d="M5992 1109l15-4"/>
<path class=c32 d="M5813 1157l14-5l-114-73l-15 5z"/>
<path class=e33 d="M5698 1084l15-5"/>
<path class=c32 d="M6402 1179l15-4l-115-55l-15 4z"/>
<path class=e32 d="M6287 1124l15-4"/>
<path class=c28 d="M5044 1280l15-6l-115 1l-15 7z"/>
<path class=e25 d="M4929 1282l15-7"/>
<path class=c32 d="M5488 1165l15-7l-115-66l-15 9z"/>
<path class=e33 d="M5373 1101l15-9"/>
<path class=c32 d="M4220 1183l15 0l-115-52l-15-2z"/>
<path class=e32 d="M4105 1129l15 2"/>
<path class=c32 d="M6092 1175l15-4l-115-62l-15 4z"/>
<path class=e32 d="M5977 1113l15-4"/>
<path class=c32 d="M5798 1161l15-4l-115-73l-15 5z"/>
<path class=e33 d="M5683 1089l15-5"/>
<path class=c27 d="M4689 1313l15 1l-114 11l-15-6z"/>
<path class=e23 d="M4575 1319l15 6"/>
<path class=c32 d="M5473 1171l15-6l-115-64l-15 9z"/>
<path class=e32 d="M5358 1110l15-9"/>
<path class=c29 d="M4440 1258l15 6l-115-18l-15-13z"/>
<path class=e27 d="M4325 1233l15 13"/>
<path class=c28 d="M5029 1285l15-5l-115 2l-15 6z"/>
<path class=e25 d="M4914 1288l15-6"/>
<path class=c32 d="M6387 1183l15-4l-115-55l-15 4z"/>
<path class=e32 d="M6272 1128l15-4"/>
<path class=c32 d="M5458 1178l15-7l-115-61l-15 9z"/>
<path class=e32 d="M5343 1119l15-9"/>
<path class=c32 d="M6077 1179l15-4l-115-62l-15 3z"/>
<path class=e32 d="M5962 1116l15-3"/>
<path class=c32 d="M5783 1166l15-5l-115-72l-15 5z"/>
<path class=e33 d="M5668 1094l15-5"/>
<path class=c28 d="M5014 1290l15-5l-115 3l-15 6z"/>
<path class=e25 d="M4899 1294l15-6"/>
<path class=c32 d="M6372 1187l15-4l-115-55l-15 4z"/>
<path class=e32 d="M6257 1132l15-4"/>
<path class=c32 d="M5443 1185l15-7l-115-59l-15 9z"/>
<path class=e32 d="M5328 1128l15-9"/>
<path class=c27 d="M4674 1311l15 2l-114 6l-15-6z"/>
<path class=e24 d="M4560 1313l15 6"/>
<path class=c32 d="M6062 1183l15-4l-115-63l-15 4z"/>
<path class=e32 d="M5947 1120l15-4"/>
<path class=c32 d="M5768 1170l15-4l-115-72l-15 5z"/>
<path class=e33 d="M5653 1099l15-5"/>
<path class=c28 d="M4999 1295l15-5l-115 4l-15 5z"/>
<path class=e24 d="M4884 1299l15-5"/>
<path class=c32 d="M5428 1191l15-6l-115-57l-15 10z"/>
<path class=e32 d="M5313 1138l15-10"/>
<path class=c29 d="M4425 1252l15 6l-115-25l-15-11z"/>
<path class=e28 d="M4310 1222l15 11"/>
<path class=c32 d="M6357 1191l15-4l-115-55l-15 4z"/>
<path class=e32 d="M6242 1136l15-4"/>
<path class=c32 d="M5753 1175l15-5l-115-71l-15 5z"/>
<path class=e33 d="M5638 1104l15-5"/>
<path class=c32 d="M6047 1187l15-4l-115-63l-15 4z"/>
<path class=e32 d="M5932 1124l15-4"/>
<path class=c31 d="M5413 1198l15-7l-115-53l-15 9z"/>
<path class=e31 d="M5298 1147l15-9"/>
<path class=c28 d="M4984 1299l15-4l-115 4l-15 4z"/>
<path class=e24 d="M4869 1303l15-4"/>
<path class=c32 d="M6342 1195l15-4l-115-55l-15 4z"/>
<path class=e32 d="M6227 1140l15-4"/>
<path class=c27 d="M4659 1308l15 3l-114 2l-15-7z"/>
<path class=e25 d="M4545 1306l15 7"/>
<path class=c31 d="M5398 1205l15-7l-115-51l-15 9z"/>
<path class=e31 d="M5283 1156l15-9"/>
<path class=c32 d="M5738 1180l15-5l-115-71l-15 6z"/>
<path class=e33 d="M5623 1110l15-6"/>
<path class=c32 d="M6032 1191l15-4l-115-63l-15 4z"/>
<path class=e32 d="M5917 1128l15-4"/>
<path class=c28 d="M4969 1303l15-4l-115 4l-15 4z"/>
<path class=e24 d="M4854 1307l15-4"/>
<path class=c30 d="M4410 1246l15 6l-115-30l-15-11z"/>
<path class=e29 d="M4295 1211l15 11"/>
<path class=c32 d="M6327 1199l15-4l-115-55l-15 4z"/>
<path class=e32 d="M6212 1144l15-4"/>
<path class=c31 d="M5383 1211l15-6l-115-49l-15 9z"/>
<path class=e31 d="M5268 1165l15-9"/>
<path class=c32 d="M5723 1185l15-5l-115-70l-15 6z"/>
<path class=e33 d="M5608 1116l15-6"/>
<path class=c32 d="M6017 1195l15-4l-115-63l-15 4z"/>
<path class=e32 d="M5902 1132l15-4"/>
<path class=c31 d="M5368 1218l15-7l-115-46l-15 9z"/>
<path class=e30 d="M5253 1174l15-9"/>
<path class=c28 d="M4954 1306l15-3l-115 4l-15 3z"/>
<path class=e25 d="M4839 1310l15-3"/>
<path class=c28 d="M4645 1306l14 2l-114-2l-15-6z"/>
<path class=e25 d="M4530 1300l15 6"/>
<path class=c32 d="M6621 1204l15-4l-115-54l-15 4z"/>
<path class=e32 d="M6506 1150l15-4"/>
<path class=c32 d="M6312 1203l15-4l-115-55l-15 4z"/>
<path class=e32 d="M6197 1148l15-4"/>
<path class=c32 d="M5708 1189l15-4l-115-69l-15 5z"/>
<path class=e33 d="M5593 1121l15-5"/>
<path class=c31 d="M5353 1224l15-6l-115-44l-15 9z"/>
<path class=e30 d="M5238 1183l15-9"/>
<path class=c32 d="M6002 1199l15-4l-115-63l-15 4z"/>
<path class=e32 d="M5887 1136l15-4"/>
<path class=c28 d="M4939 1310l15-4l-115 4l-15 3z"/>
<path class=e25 d="M4824 1313l15-3"/>
<path class=c32 d="M6606 1208l15-4l-115-54l-15 5z"/>
<path class=e32 d="M6491 1155l15-5"/>
<path class=c30 d="M4395 1242l15 4l-115-35l-15-10z"/>
<path class=e30 d="M4280 1201l15 10"/>
<path class=c32 d="M6297 1208l15-5l-115-55l-15 3z"/>
<path class=e32 d="M6182 1151l15-3"/>
<path class=c31 d="M5338 1231l15-7l-115-41l-15 9z"/>
<path class=e30 d="M5223 1192l15-9"/>
<path class=c32 d="M5693 1194l15-5l-115-68l-15 6z"/>
<path class=e33 d="M5578 1127l15-6"/>
<path class=c28 d="M4630 1303l15 3l-115-6l-15-7z"/>
<path class=e26 d="M4515 1293l15 7"/>
<path class=c32 d="M5987 1203l15-4l-115-63l-15 4z"/>
<path class=e32 d="M5872 1140l15-4"/>
<path class=c31 d="M5323 1237l15-6l-115-39l-15 8z"/>
<path class=e30 d="M5208 1200l15-8"/>
<path class=c32 d="M6591 1212l15-4l-115-53l-15 4z"/>
<path class=e32 d="M6476 1159l15-4"/>
<path class=c28 d="M4924 1313l15-3l-115 3l-15 2z"/>
<path class=e25 d="M4809 1315l15-2"/>
<path class=c32 d="M6282 1212l15-4l-115-57l-15 4z"/>
<path class=e32 d="M6167 1155l15-4"/>
<path class=c32 d="M5678 1199l15-5l-115-67l-15 6z"/>
<path class=e33 d="M5563 1133l15-6"/>
<path class=c30 d="M5308 1243l15-6l-115-37l-14 9z"/>
<path class=e29 d="M5194 1209l14-9"/>
<path class=c32 d="M5972 1207l15-4l-115-63l-15 4z"/>
<path class=e32 d="M5857 1144l15-4"/>
<path class=c31 d="M4380 1238l15 4l-115-41l-15-8z"/>
<path class=e30 d="M4265 1193l15 8"/>
<path class=c32 d="M6576 1217l15-5l-115-53l-15 4z"/>
<path class=e32 d="M6461 1163l15-4"/>
<path class=c32 d="M5663 1204l15-5l-115-66l-15 6z"/>
<path class=e33 d="M5548 1139l15-6"/>
<path class=c32 d="M6267 1216l15-4l-115-57l-15 4z"/>
<path class=e32 d="M6152 1159l15-4"/>
<path class=c28 d="M4909 1315l15-2l-115 2l-15 1z"/>
<path class=e25 d="M4794 1316l15-1"/>
<path class=c28 d="M4615 1301l15 2l-115-10l-15-8z"/>
<path class=e26 d="M4500 1285l15 8"/>
<path class=c30 d="M5293 1249l15-6l-114-34l-15 8z"/>
<path class=e29 d="M5179 1217l15-8"/>
<path class=c32 d="M5957 1212l15-5l-115-63l-15 4z"/>
<path class=e32 d="M5842 1148l15-4"/>
<path class=c32 d="M5648 1209l15-5l-115-65l-15 7z"/>
<path class=e32 d="M5533 1146l15-7"/>
<path class=c32 d="M6561 1221l15-4l-115-54l-15 4z"/>
<path class=e32 d="M6446 1167l15-4"/>
<path class=c32 d="M6252 1220l15-4l-115-57l-15 4z"/>
<path class=e32 d="M6137 1163l15-4"/>
<path class=c30 d="M5278 1255l15-6l-114-32l-15 8z"/>
<path class=e29 d="M5164 1225l15-8"/>
<path class=c28 d="M4894 1318l15-3l-115 1l-15 1z"/>
<path class=e25 d="M4779 1317l15-1"/>
<path class=c31 d="M4365 1236l15 2l-115-45l-15-7z"/>
<path class=e31 d="M4250 1186l15 7"/>
<path class=c32 d="M5942 1216l15-4l-115-64l-15 4z"/>
<path class=e32 d="M5827 1152l15-4"/>
<path class=c32 d="M5633 1214l15-5l-115-63l-15 6z"/>
<path class=e32 d="M5518 1152l15-6"/>
<path class=c30 d="M5263 1261l15-6l-114-30l-15 8z"/>
<path class=e29 d="M5149 1233l15-8"/>
<path class=c32 d="M6546 1225l15-4l-115-54l-15 4z"/>
<path class=e32 d="M6431 1171l15-4"/>
<path class=c29 d="M4600 1298l15 3l-115-16l-15-7z"/>
<path class=e27 d="M4485 1278l15 7"/>
<path class=c32 d="M6237 1224l15-4l-115-57l-15 4z"/>
<path class=e32 d="M6122 1167l15-4"/>
<path class=c28 d="M4879 1320l15-2l-115-1l-15 0z"/>
<path class=e25 d="M4764 1317l15 0"/>
<path class=c32 d="M5618 1219l15-5l-115-62l-15 6z"/>
<path class=e32 d="M5503 1158l15-6"/>
<path class=c32 d="M5927 1220l15-4l-115-64l-14 5z"/>
<path class=e32 d="M5813 1157l14-5"/>
<path class=c30 d="M5249 1267l14-6l-114-28l-15 8z"/>
<path class=e29 d="M5134 1241l15-8"/>
<path class=c32 d="M6531 1229l15-4l-115-54l-14 4z"/>
<path class=e32 d="M6417 1175l14-4"/>
<path class=c32 d="M6222 1228l15-4l-115-57l-15 4z"/>
<path class=e32 d="M6107 1171l15-4"/>
<path class=c31 d="M4350 1235l15 1l-115-50l-15-3z"/>
<path class=e31 d="M4235 1183l15 3"/>
<path class=c32 d="M5603 1224l15-5l-115-61l-15 7z"/>
<path class=e32 d="M5488 1165l15-7"/>
<path class=c30 d="M5234 1273l15-6l-115-26l-15 7z"/>
<path class=e28 d="M5119 1248l15-7"/>
<path class=c32 d="M5912 1224l15-4l-114-63l-15 4z"/>
<path class=e32 d="M5798 1161l15-4"/>
<path class=c29 d="M4585 1296l15 2l-115-20l-15-7z"/>
<path class=e28 d="M4470 1271l15 7"/>
<path class=c28 d="M4864 1321l15-1l-115-3l-15 0z"/>
<path class=e26 d="M4749 1317l15 0"/>
<path class=c32 d="M6516 1233l15-4l-114-54l-15 4z"/>
<path class=e32 d="M6402 1179l15-4"/>
<path class=c32 d="M6207 1232l15-4l-115-57l-15 4z"/>
<path class=e32 d="M6092 1175l15-4"/>
<path class=c30 d="M5219 1278l15-5l-115-25l-15 7z"/>
<path class=e28 d="M5104 1255l15-7"/>
<path class=c32 d="M5588 1230l15-6l-115-59l-15 6z"/>
<path class=e32 d="M5473 1171l15-6"/>
<path class=c32 d="M4335 1236l15-1l-115-52l-15 0z"/>
<path class=e32 d="M4220 1183l15 0"/>
<path class=c32 d="M5897 1228l15-4l-114-63l-15 5z"/>
<path class=e32 d="M5783 1166l15-5"/>
<path class=c32 d="M6501 1237l15-4l-114-54l-15 4z"/>
<path class=e32 d="M6387 1183l15-4"/>
<path class=c28 d="M4849 1323l15-2l-115-4l-15 0z"/>
<path class=e26 d="M4734 1317l15 0"/>
<path class=c32 d="M6192 1236l15-4l-115-57l-15 4z"/>
<path class=e32 d="M6077 1179l15-4"/>
<path class=c30 d="M5204 1284l15-6l-115-23l-15 6z"/>
<path class=e28 d="M5089 1261l15-6"/>
<path class=c32 d="M5573 1235l15-5l-115-59l-15 7z"/>
<path class=e32 d="M5458 1178l15-7"/>
<path class=c30 d="M4570 1293l15 3l-115-25l-15-7z"/>
<path class=e28 d="M4455 1264l15 7"/>
<path class=c32 d="M5882 1233l15-5l-114-62l-15 4z"/>
<path class=e32 d="M5768 1170l15-4"/>
<path class=c32 d="M6486 1241l15-4l-114-54l-15 4z"/>
<path class=e32 d="M6372 1187l15-4"/>
<path class=c30 d="M5189 1289l15-5l-115-23l-15 7z"/>
<path class=e28 d="M5074 1268l15-7"/>
<path class=c32 d="M5558 1240l15-5l-115-57l-15 7z"/>
<path class=e32 d="M5443 1185l15-7"/>
<path class=c32 d="M6177 1240l15-4l-115-57l-15 4z"/>
<path class=e32 d="M6062 1183l15-4"/>
<path class=c29 d="M4834 1324l15-1l-115-6l-15-1z"/>
<path class=e26 d="M4719 1316l15 1"/>
<path class=c32 d="M5867 1237l15-4l-114-63l-15 5z"/>
<path class=e32 d="M5753 1175l15-5"/>
<path class=c30 d="M5174 1294l15-5l-115-21l-15 6z"/>
<path class=e28 d="M5059 1274l15-6"/>
<path class=c32 d="M5543 1245l15-5l-115-55l-15 6z"/>
<path class=e32 d="M5428 1191l15-6"/>
<path class=c32 d="M6472 1245l14-4l-114-54l-15 4z"/>
<path class=e32 d="M6357 1191l15-4"/>
<path class=c32 d="M6162 1244l15-4l-115-57l-15 4z"/>
<path class=e32 d="M6047 1187l15-4"/>
<path class=c30 d="M4555 1291l15 2l-115-29l-15-6z"/>
<path class=e29 d="M4440 1258l15 6"/>
<path class=c32 d="M5853 1241l14-4l-114-62l-15 5z"/>
<path class=e32 d="M5738 1180l15-5"/>
<path class=c29 d="M4819 1325l15-1l-115-8l-15-2z"/>
<path class=e26 d="M4704 1314l15 2"/>
<path class=c31 d="M5528 1250l15-5l-115-54l-15 7z"/>
<path class=e31 d="M5413 1198l15-7"/>
<path class=c30 d="M5159 1299l15-5l-115-20l-15 6z"/>
<path class=e28 d="M5044 1280l15-6"/>
<path class=c32 d="M6457 1250l15-5l-115-54l-15 4z"/>
<path class=e32 d="M6342 1195l15-4"/>
<path class=c32 d="M6147 1248l15-4l-115-57l-15 4z"/>
<path class=e32 d="M6032 1191l15-4"/>
<path class=c32 d="M5838 1246l15-5l-115-61l-15 5z"/>
<path class=e32 d="M5723 1185l15-5"/>
<path class=c31 d="M5513 1255l15-5l-115-52l-15 7z"/>
<path class=e31 d="M5398 1205l15-7"/>
<path class=c30 d="M5144 1304l15-5l-115-19l-15 5z"/>
<path class=e28 d="M5029 1285l15-5"/>
<path class=c30 d="M4540 1289l15 2l-115-33l-15-6z"/>
<path class=e29 d="M4425 1252l15 6"/>
<path class=c32 d="M6442 1254l15-4l-115-55l-15 4z"/>
<path class=e32 d="M6327 1199l15-4"/>
<path class=c29 d="M4804 1326l15-1l-115-11l-15-1z"/>
<path class=e27 d="M4689 1313l15 1"/>
<path class=c32 d="M6132 1253l15-5l-115-57l-15 4z"/>
<path class=e32 d="M6017 1195l15-4"/>
<path class=c32 d="M5823 1250l15-4l-115-61l-15 4z"/>
<path class=e32 d="M5708 1189l15-4"/>
<path class=c31 d="M5498 1261l15-6l-115-50l-15 6z"/>
<path class=e31 d="M5383 1211l15-6"/>
<path class=c30 d="M5129 1308l15-4l-115-19l-15 5z"/>
<path class=e28 d="M5014 1290l15-5"/>
<path class=c32 d="M6427 1258l15-4l-115-55l-15 4z"/>
<path class=e32 d="M6312 1203l15-4"/>
<path class=c32 d="M6736 1258l15-4l-115-54l-15 4z"/>
<path class=e32 d="M6621 1204l15-4"/>
<path class=c32 d="M6117 1257l15-4l-115-58l-15 4z"/>
<path class=e32 d="M6002 1199l15-4"/>
<path class=c31 d="M5483 1266l15-5l-115-50l-15 7z"/>
<path class=e31 d="M5368 1218l15-7"/>
<path class=c32 d="M5808 1254l15-4l-115-61l-15 5z"/>
<path class=e32 d="M5693 1194l15-5"/>
<path class=c29 d="M4789 1327l15-1l-115-13l-15-2z"/>
<path class=e27 d="M4674 1311l15 2"/>
<path class=c31 d="M4525 1288l15 1l-115-37l-15-6z"/>
<path class=e30 d="M4410 1246l15 6"/>
<path class=c30 d="M5114 1312l15-4l-115-18l-15 5z"/>
<path class=e28 d="M4999 1295l15-5"/>
<path class=c32 d="M6412 1262l15-4l-115-55l-15 5z"/>
<path class=e32 d="M6297 1208l15-5"/>
<path class=c32 d="M6721 1262l15-4l-115-54l-15 4z"/>
<path class=e32 d="M6606 1208l15-4"/>
<path class=c32 d="M6102 1261l15-4l-115-58l-15 4z"/>
<path class=e32 d="M5987 1203l15-4"/>
<path class=c31 d="M5468 1271l15-5l-115-48l-15 6z"/>
<path class=e31 d="M5353 1224l15-6"/>
<path class=c32 d="M5793 1259l15-5l-115-60l-15 5z"/>
<path class=e32 d="M5678 1199l15-5"/>
<path class=c30 d="M5099 1317l15-5l-115-17l-15 4z"/>
<path class=e28 d="M4984 1299l15-4"/>
<path class=c29 d="M4774 1328l15-1l-115-16l-15-3z"/>
<path class=e27 d="M4659 1308l15 3"/>
<path class=c32 d="M6397 1266l15-4l-115-54l-15 4z"/>
<path class=e32 d="M6282 1212l15-4"/>
<path class=c32 d="M6706 1266l15-4l-115-54l-15 4z"/>
<path class=e32 d="M6591 1212l15-4"/>
<path class=c31 d="M4510 1287l15 1l-115-42l-15-4z"/>
<path class=e30 d="M4395 1242l15 4"/>
<path class=c31 d="M5453 1276l15-5l-115-47l-15 7z"/>
<path class=e31 d="M5338 1231l15-7"/>
<path class=c32 d="M6087 1265l15-4l-115-58l-15 4z"/>
<path class=e32 d="M5972 1207l15-4"/>
<path class=c32 d="M5778 1263l15-4l-115-60l-15 5z"/>
<path class=e32 d="M5663 1204l15-5"/>
<path class=c30 d="M5084 1321l15-4l-115-18l-15 4z"/>
<path class=e28 d="M4969 1303l15-4"/>
<path class=c31 d="M5438 1281l15-5l-115-45l-15 6z"/>
<path class=e31 d="M5323 1237l15-6"/>
<path class=c32 d="M6382 1270l15-4l-115-54l-15 4z"/>
<path class=e32 d="M6267 1216l15-4"/>
<path class=c32 d="M6691 1270l15-4l-115-54l-15 5z"/>
<path class=e32 d="M6576 1217l15-5"/>
<path class=c32 d="M6072 1269l15-4l-115-58l-15 5z"/>
<path class=e32 d="M5957 1212l15-5"/>
<path class=c29 d="M4759 1328l15 0l-115-20l-14-2z"/>
<path class=e28 d="M4645 1306l14 2"/>
<path class=c32 d="M5763 1268l15-5l-115-59l-15 5z"/>
<path class=e32 d="M5648 1209l15-5"/>
<path class=c31 d="M4495 1286l15 1l-115-45l-15-4z"/>
<path class=e31 d="M4380 1238l15 4"/>
<path class=c30 d="M5069 1325l15-4l-115-18l-15 3z"/>
<path class=e28 d="M4954 1306l15-3"/>
<path class=c31 d="M5423 1286l15-5l-115-44l-15 6z"/>
<path class=e30 d="M5308 1243l15-6"/>
<path class=c32 d="M6367 1274l15-4l-115-54l-15 4z"/>
<path class=e32 d="M6252 1220l15-4"/>
<path class=c32 d="M6676 1274l15-4l-115-53l-15 4z"/>
<path class=e32 d="M6561 1221l15-4"/>
<path class=c32 d="M6057 1273l15-4l-115-57l-15 4z"/>
<path class=e32 d="M5942 1216l15-4"/>
<path class=c32 d="M5748 1272l15-4l-115-59l-15 5z"/>
<path class=e32 d="M5633 1214l15-5"/>
<path class=c30 d="M5054 1328l15-3l-115-19l-15 4z"/>
<path class=e28 d="M4939 1310l15-4"/>
<path class=c30 d="M4744 1329l15-1l-114-22l-15-3z"/>
<path class=e28 d="M4630 1303l15 3"/>
<path class=c31 d="M5408 1291l15-5l-115-43l-15 6z"/>
<path class=e30 d="M5293 1249l15-6"/>
<path class=c32 d="M6661 1279l15-5l-115-53l-15 4z"/>
<path class=e32 d="M6546 1225l15-4"/>
<path class=c32 d="M6352 1278l15-4l-115-54l-15 4z"/>
<path class=e32 d="M6237 1224l15-4"/>
<path class=c31 d="M4480 1286l15 0l-115-48l-15-2z"/>
<path class=e31 d="M4365 1236l15 2"/>
<path class=c32 d="M6042 1277l15-4l-115-57l-15 4z"/>
<path class=e32 d="M5927 1220l15-4"/>
<path class=c32 d="M5733 1277l15-5l-115-58l-15 5z"/>
<path class=e32 d="M5618 1219l15-5"/>
<path class=c31 d="M5393 1296l15-5l-115-42l-15 6z"/>
<path class=e30 d="M5278 1255l15-6"/>
<path class=c30 d="M5039 1332l15-4l-115-18l-15 3z"/>
<path class=e28 d="M4924 1313l15-3"/>
<path class=c32 d="M6646 1283l15-4l-115-54l-15 4z"/>
<path class=e32 d="M6531 1229l15-4"/>
<path class=c32 d="M6337 1283l15-5l-115-54l-15 4z"/>
<path class=e32 d="M6222 1228l15-4"/>
<path class=c30 d="M4729 1329l15 0l-114-26l-15-2z"/>
<path class=e28 d="M4615 1301l15 2"/>
<path class=c32 d="M5718 1281l15-4l-115-58l-15 5z"/>
<path class=e32 d="M5603 1224l15-5"/>
<path class=c32 d="M6027 1282l15-5l-115-57l-15 4z"/>
<path class=e32 d="M5912 1224l15-4"/>
<path class=c31 d="M4465 1287l15-1l-115-50l-15-1z"/>
<path class=e31 d="M4350 1235l15 1"/>
<path class=c31 d="M5378 1301l15-5l-115-41l-15 6z"/>
<path class=e30 d="M5263 1261l15-6"/>
<path class=c30 d="M5024 1335l15-3l-115-19l-15 2z"/>
<path class=e28 d="M4909 1315l15-2"/>
<path class=c32 d="M6631 1287l15-4l-115-54l-15 4z"/>
<path class=e32 d="M6516 1233l15-4"/>
<path class=c32 d="M6322 1287l15-4l-115-55l-15 4z"/>
<path class=e32 d="M6207 1232l15-4"/>
<path class=c32 d="M5703 1285l15-4l-115-57l-15 6z"/>
<path class=e32 d="M5588 1230l15-6"/>
<path class=c32 d="M6012 1286l15-4l-115-58l-15 4z"/>
<path class=e32 d="M5897 1228l15-4"/>
<path class=c31 d="M5363 1306l15-5l-115-40l-14 6z"/>
<path class=e30 d="M5249 1267l14-6"/>
<path class=c30 d="M4714 1330l15-1l-114-28l-15-3z"/>
<path class=e29 d="M4600 1298l15 3"/>
<path class=c32 d="M4450 1290l15-3l-115-52l-15 1z"/>
<path class=e32 d="M4335 1236l15-1"/>
<path class=c30 d="M5009 1338l15-3l-115-20l-15 3z"/>
<path class=e28 d="M4894 1318l15-3"/>
<path class=c32 d="M6616 1291l15-4l-115-54l-15 4z"/>
<path class=e32 d="M6501 1237l15-4"/>
<path class=c32 d="M6307 1291l15-4l-115-55l-15 4z"/>
<path class=e32 d="M6192 1236l15-4"/>
<path class=c32 d="M5688 1290l15-5l-115-55l-15 5z"/>
<path class=e32 d="M5573 1235l15-5"/>
<path class=c32 d="M5997 1290l15-4l-115-58l-15 5z"/>
<path class=e32 d="M5882 1233l15-5"/>
<path class=c31 d="M5348 1310l15-4l-114-39l-15 6z"/>
<path class=e30 d="M5234 1273l15-6"/>
<path class=c30 d="M4699 1330l15 0l-114-32l-15-2z"/>
<path class=e29 d="M4585 1296l15 2"/>
<path class=c32 d="M5673 1294l15-4l-115-55l-15 5z"/>
<path class=e32 d="M5558 1240l15-5"/>
<path class=c32 d="M6601 1295l15-4l-115-54l-15 4z"/>
<path class=e32 d="M6486 1241l15-4"/>
<path class=c32 d="M6292 1295l15-4l-115-55l-15 4z"/>
<path class=e32 d="M6177 1240l15-4"/>
<path class=c30 d="M4994 1342l15-4l-115-20l-15 2z"/>
<path class=e28 d="M4879 1320l15-2"/>
<path class=c32 d="M5982 1294l15-4l-115-57l-15 4z"/>
<path class=e32 d="M5867 1237l15-4"/>
<path class=c31 d="M5333 1315l15-5l-114-37l-15 5z"/>
<path class=e30 d="M5219 1278l15-5"/>
<path class=c32 d="M5658 1299l15-5l-115-54l-15 5z"/>
<path class=e32 d="M5543 1245l15-5"/>
<path class=c32 d="M6586 1299l15-4l-115-54l-14 4z"/>
<path class=e32 d="M6472 1245l14-4"/>
<path class=c32 d="M6277 1299l15-4l-115-55l-15 4z"/>
<path class=e32 d="M6162 1244l15-4"/>
<path class=c32 d="M5967 1298l15-4l-115-57l-14 4z"/>
<path class=e32 d="M5853 1241l14-4"/>
<path class=c30 d="M4979 1345l15-3l-115-22l-15 1z"/>
<path class=e28 d="M4864 1321l15-1"/>
<path class=c31 d="M5318 1320l15-5l-114-37l-15 6z"/>
<path class=e30 d="M5204 1284l15-6"/>
<path class=c30 d="M4685 1331l14-1l-114-34l-15-3z"/>
<path class=e30 d="M4570 1293l15 3"/>
<path class=c31 d="M5643 1303l15-4l-115-54l-15 5z"/>
<path class=e31 d="M5528 1250l15-5"/>
<path class=c32 d="M6571 1303l15-4l-114-54l-15 5z"/>
<path class=e32 d="M6457 1250l15-5"/>
<path class=c32 d="M6262 1303l15-4l-115-55l-15 4z"/>
<path class=e32 d="M6147 1248l15-4"/>
<path class=c31 d="M5304 1324l14-4l-114-36l-15 5z"/>
<path class=e30 d="M5189 1289l15-5"/>
<path class=c32 d="M5952 1302l15-4l-114-57l-15 5z"/>
<path class=e32 d="M5838 1246l15-5"/>
<path class=c30 d="M4964 1347l15-2l-115-24l-15 2z"/>
<path class=e28 d="M4849 1323l15-2"/>
<path class=c31 d="M4670 1331l15 0l-115-38l-15-2z"/>
<path class=e30 d="M4555 1291l15 2"/>
<path class=c31 d="M5628 1308l15-5l-115-53l-15 5z"/>
<path class=e31 d="M5513 1255l15-5"/>
<path class=c32 d="M6556 1307l15-4l-114-53l-15 4z"/>
<path class=e32 d="M6442 1254l15-4"/>
<path class=c32 d="M6247 1307l15-4l-115-55l-15 5z"/>
<path class=e32 d="M6132 1253l15-5"/>
<path class=c31 d="M5289 1329l15-5l-115-35l-15 5z"/>
<path class=e30 d="M5174 1294l15-5"/>
<path class=c32 d="M5937 1306l15-4l-114-56l-15 4z"/>
<path class=e32 d="M5823 1250l15-4"/>
<path class=c30 d="M4949 1350l15-3l-115-24l-15 1z"/>
<path class=e29 d="M4834 1324l15-1"/>
<path class=c31 d="M5613 1312l15-4l-115-53l-15 6z"/>
<path class=e31 d="M5498 1261l15-6"/>
<path class=c31 d="M5274 1333l15-4l-115-35l-15 5z"/>
<path class=e30 d="M5159 1299l15-5"/>
<path class=c32 d="M6541 1312l15-5l-114-53l-15 4z"/>
<path class=e32 d="M6427 1258l15-4"/>
<path class=c32 d="M6232 1311l15-4l-115-54l-15 4z"/>
<path class=e32 d="M6117 1257l15-4"/>
<path class=c32 d="M5922 1311l15-5l-114-56l-15 4z"/>
<path class=e32 d="M5808 1254l15-4"/>
<path class=c31 d="M4655 1332l15-1l-115-40l-15-2z"/>
<path class=e30 d="M4540 1289l15 2"/>
<path class=c30 d="M4934 1353l15-3l-115-26l-15 1z"/>
<path class=e29 d="M4819 1325l15-1"/>
<path class=c31 d="M5598 1317l15-5l-115-51l-15 5z"/>
<path class=e31 d="M5483 1266l15-5"/>
<path class=c31 d="M5259 1338l15-5l-115-34l-15 5z"/>
<path class=e30 d="M5144 1304l15-5"/>
<path class=c32 d="M6526 1316l15-4l-114-54l-15 4z"/>
<path class=e32 d="M6412 1262l15-4"/>
<path class=c32 d="M6217 1315l15-4l-115-54l-15 4z"/>
<path class=e32 d="M6102 1261l15-4"/>
<path class=c32 d="M5908 1315l14-4l-114-57l-15 5z"/>
<path class=e32 d="M5793 1259l15-5"/>
<path class=c31 d="M4640 1333l15-1l-115-43l-15-1z"/>
<path class=e31 d="M4525 1288l15 1"/>
<path class=c31 d="M5583 1321l15-4l-115-51l-15 5z"/>
<path class=e31 d="M5468 1271l15-5"/>
<path class=c30 d="M4919 1355l15-2l-115-28l-15 1z"/>
<path class=e29 d="M4804 1326l15-1"/>
<path class=c31 d="M5244 1342l15-4l-115-34l-15 4z"/>
<path class=e30 d="M5129 1308l15-4"/>
<path class=c32 d="M6512 1320l14-4l-114-54l-15 4z"/>
<path class=e32 d="M6397 1266l15-4"/>
<path class=c32 d="M6202 1320l15-5l-115-54l-15 4z"/>
<path class=e32 d="M6087 1265l15-4"/>
<path class=c32 d="M5893 1319l15-4l-115-56l-15 4z"/>
<path class=e32 d="M5778 1263l15-4"/>
<path class=c31 d="M5568 1326l15-5l-115-50l-15 5z"/>
<path class=e31 d="M5453 1276l15-5"/>
<path class=c31 d="M4625 1334l15-1l-115-45l-15-1z"/>
<path class=e31 d="M4510 1287l15 1"/>
<path class=c31 d="M5229 1346l15-4l-115-34l-15 4z"/>
<path class=e30 d="M5114 1312l15-4"/>
<path class=c32 d="M6497 1324l15-4l-115-54l-15 4z"/>
<path class=e32 d="M6382 1270l15-4"/>
<path class=c32 d="M6187 1324l15-4l-115-55l-15 4z"/>
<path class=e32 d="M6072 1269l15-4"/>
<path class=c30 d="M4904 1358l15-3l-115-29l-15 1z"/>
<path class=e29 d="M4789 1327l15-1"/>
<path class=c32 d="M5878 1323l15-4l-115-56l-15 5z"/>
<path class=e32 d="M5763 1268l15-5"/>
<path class=c31 d="M5553 1330l15-4l-115-50l-15 5z"/>
<path class=e31 d="M5438 1281l15-5"/>
<path class=c31 d="M5214 1350l15-4l-115-34l-15 5z"/>
<path class=e30 d="M5099 1317l15-5"/>
<path class=c32 d="M6482 1328l15-4l-115-54l-15 4z"/>
<path class=e32 d="M6367 1274l15-4"/>
<path class=c32 d="M6172 1328l15-4l-115-55l-15 4z"/>
<path class=e32 d="M6057 1273l15-4"/>
<path class=c32 d="M5863 1327l15-4l-115-55l-15 4z"/>
<path class=e32 d="M5748 1272l15-4"/>
<path class=c31 d="M4610 1336l15-2l-115-47l-15-1z"/>
<path class=e31 d="M4495 1286l15 1"/>
<path class=c30 d="M4889 1360l15-2l-115-31l-15 1z"/>
<path class=e29 d="M4774 1328l15-1"/>
<path class=c31 d="M5538 1334l15-4l-115-49l-15 5z"/>
<path class=e31 d="M5423 1286l15-5"/>
<path class=c31 d="M5199 1354l15-4l-115-33l-15 4z"/>
<path class=e30 d="M5084 1321l15-4"/>
<path class=c32 d="M6467 1332l15-4l-115-54l-15 4z"/>
<path class=e32 d="M6352 1278l15-4"/>
<path class=c32 d="M6157 1332l15-4l-115-55l-15 4z"/>
<path class=e32 d="M6042 1277l15-4"/>
<path class=c32 d="M5848 1332l15-5l-115-55l-15 5z"/>
<path class=e32 d="M5733 1277l15-5"/>
<path class=c31 d="M4595 1338l15-2l-115-50l-15 0z"/>
<path class=e31 d="M4480 1286l15 0"/>
<path class=c30 d="M4874 1363l15-3l-115-32l-15 0z"/>
<path class=e29 d="M4759 1328l15 0"/>
<path class=c31 d="M5523 1339l15-5l-115-48l-15 5z"/>
<path class=e31 d="M5408 1291l15-5"/>
<path class=c31 d="M5184 1358l15-4l-115-33l-15 4z"/>
<path class=e30 d="M5069 1325l15-4"/>
<path class=c32 d="M6452 1336l15-4l-115-54l-15 5z"/>
<path class=e32 d="M6337 1283l15-5"/>
<path class=c32 d="M6142 1336l15-4l-115-55l-15 5z"/>
<path class=e32 d="M6027 1282l15-5"/>
<path class=c32 d="M5833 1336l15-4l-115-55l-15 4z"/>
<path class=e32 d="M5718 1281l15-4"/>
<path class=c31 d="M5508 1343l15-4l-115-48l-15 5z"/>
<path class=e31 d="M5393 1296l15-5"/>
<path class=c31 d="M4580 1340l15-2l-115-52l-15 1z"/>
<path class=e31 d="M4465 1287l15-1"/>
<path class=c31 d="M4859 1365l15-2l-115-35l-15 1z"/>
<path class=e30 d="M4744 1329l15-1"/>
<path class=c31 d="M5169 1362l15-4l-115-33l-15 3z"/>
<path class=e30 d="M5054 1328l15-3"/>
<path class=c32 d="M5818 1340l15-4l-115-55l-15 4z"/>
<path class=e32 d="M5703 1285l15-4"/>
<path class=c32 d="M6437 1340l15-4l-115-53l-15 4z"/>
<path class=e32 d="M6322 1287l15-4"/>
<path class=c32 d="M6127 1340l15-4l-115-54l-15 4z"/>
<path class=e32 d="M6012 1286l15-4"/>
<path class=c31 d="M5493 1348l15-5l-115-47l-15 5z"/>
<path class=e31 d="M5378 1301l15-5"/>
<path class=c32 d="M4565 1344l15-4l-115-53l-15 3z"/>
<path class=e32 d="M4450 1290l15-3"/>
<path class=c31 d="M4844 1367l15-2l-115-36l-15 0z"/>
<path class=e30 d="M4729 1329l15 0"/>
<path class=c31 d="M5154 1366l15-4l-115-34l-15 4z"/>
<path class=e30 d="M5039 1332l15-4"/>
<path class=c32 d="M5803 1344l15-4l-115-55l-15 5z"/>
<path class=e32 d="M5688 1290l15-5"/>
<path class=c32 d="M6422 1345l15-5l-115-53l-15 4z"/>
<path class=e32 d="M6307 1291l15-4"/>
<path class=c32 d="M6112 1344l15-4l-115-54l-15 4z"/>
<path class=e32 d="M5997 1290l15-4"/>
<path class=c31 d="M5478 1352l15-4l-115-47l-15 5z"/>
<path class=e31 d="M5363 1306l15-5"/>
<path class=c32 d="M5788 1348l15-4l-115-54l-15 4z"/>
<path class=e32 d="M5673 1294l15-4"/>
<path class=c31 d="M5139 1370l15-4l-115-34l-15 3z"/>
<path class=e30 d="M5024 1335l15-3"/>
<path class=c32 d="M6407 1349l15-4l-115-54l-15 4z"/>
<path class=e32 d="M6292 1295l15-4"/>
<path class=c32 d="M6097 1349l15-5l-115-54l-15 4z"/>
<path class=e32 d="M5982 1294l15-4"/>
<path class=c31 d="M4829 1370l15-3l-115-38l-15 1z"/>
<path class=e30 d="M4714 1330l15-1"/>
<path class=c31 d="M5463 1356l15-4l-115-46l-15 4z"/>
<path class=e31 d="M5348 1310l15-4"/>
<path class=c32 d="M5773 1353l15-5l-115-54l-15 5z"/>
<path class=e32 d="M5658 1299l15-5"/>
<path class=c32 d="M6082 1353l15-4l-115-55l-15 4z"/>
<path class=e32 d="M5967 1298l15-4"/>
<path class=c32 d="M6392 1353l15-4l-115-54l-15 4z"/>
<path class=e32 d="M6277 1299l15-4"/>
<path class=c31 d="M5124 1374l15-4l-115-35l-15 3z"/>
<path class=e30 d="M5009 1338l15-3"/>
<path class=c31 d="M5448 1361l15-5l-115-46l-15 5z"/>
<path class=e31 d="M5333 1315l15-5"/>
<path class=c31 d="M4814 1372l15-2l-115-40l-15 0z"/>
<path class=e30 d="M4699 1330l15 0"/>
<path class=c31 d="M5758 1357l15-4l-115-54l-15 4z"/>
<path class=e31 d="M5643 1303l15-4"/>
<path class=c32 d="M6067 1357l15-4l-115-55l-15 4z"/>
<path class=e32 d="M5952 1302l15-4"/>
<path class=c32 d="M6377 1357l15-4l-115-54l-15 4z"/>
<path class=e32 d="M6262 1303l15-4"/>
<path class=c31 d="M5109 1378l15-4l-115-36l-15 4z"/>
<path class=e30 d="M4994 1342l15-4"/>
<path class=c31 d="M5433 1365l15-4l-115-46l-15 5z"/>
<path class=e31 d="M5318 1320l15-5"/>
<path class=c31 d="M4799 1374l15-2l-115-42l-14 1z"/>
<path class=e30 d="M4685 1331l14-1"/>
<path class=c31 d="M5743 1361l15-4l-115-54l-15 5z"/>
<path class=e31 d="M5628 1308l15-5"/>
<path class=c32 d="M6052 1361l15-4l-115-55l-15 4z"/>
<path class=e32 d="M5937 1306l15-4"/>
<path class=c32 d="M6362 1361l15-4l-115-54l-15 4z"/>
<path class=e32 d="M6247 1307l15-4"/>
<path class=c31 d="M5094 1381l15-3l-115-36l-15 3z"/>
<path class=e30 d="M4979 1345l15-3"/>
<path class=c31 d="M5418 1369l15-4l-115-45l-14 4z"/>
<path class=e31 d="M5304 1324l14-4"/>
<path class=c31 d="M4784 1377l15-3l-114-43l-15 0z"/>
<path class=e31 d="M4670 1331l15 0"/>
<path class=c31 d="M5728 1365l15-4l-115-53l-15 4z"/>
<path class=e31 d="M5613 1312l15-4"/>
<path class=c32 d="M6037 1365l15-4l-115-55l-15 5z"/>
<path class=e32 d="M5922 1311l15-5"/>
<path class=c32 d="M6347 1365l15-4l-115-54l-15 4z"/>
<path class=e32 d="M6232 1311l15-4"/>
<path class=c31 d="M5403 1373l15-4l-114-45l-15 5z"/>
<path class=e31 d="M5289 1329l15-5"/>
<path class=c31 d="M5079 1385l15-4l-115-36l-15 2z"/>
<path class=e30 d="M4964 1347l15-2"/>
<path class=c31 d="M5713 1369l15-4l-115-53l-15 5z"/>
<path class=e31 d="M5598 1317l15-5"/>
<path class=c31 d="M4769 1379l15-2l-114-46l-15 1z"/>
<path class=e31 d="M4655 1332l15-1"/>
<path class=c32 d="M6022 1369l15-4l-115-54l-14 4z"/>
<path class=e32 d="M5908 1315l14-4"/>
<path class=c32 d="M6332 1369l15-4l-115-54l-15 4z"/>
<path class=e32 d="M6217 1315l15-4"/>
<path class=c31 d="M5388 1378l15-5l-114-44l-15 4z"/>
<path class=e31 d="M5274 1333l15-4"/>
<path class=c31 d="M5064 1388l15-3l-115-38l-15 3z"/>
<path class=e30 d="M4949 1350l15-3"/>
<path class=c31 d="M5698 1374l15-5l-115-52l-15 4z"/>
<path class=e31 d="M5583 1321l15-4"/>
<path class=c32 d="M6007 1373l15-4l-114-54l-15 4z"/>
<path class=e32 d="M5893 1319l15-4"/>
<path class=c32 d="M6317 1373l15-4l-115-54l-15 5z"/>
<path class=e32 d="M6202 1320l15-5"/>
<path class=c31 d="M4754 1382l15-3l-114-47l-15 1z"/>
<path class=e31 d="M4640 1333l15-1"/>
<path class=c31 d="M5373 1382l15-4l-114-45l-15 5z"/>
<path class=e31 d="M5259 1338l15-5"/>
<path class=c31 d="M5049 1392l15-4l-115-38l-15 3z"/>
<path class=e30 d="M4934 1353l15-3"/>
<path class=c31 d="M5683 1378l15-4l-115-53l-15 5z"/>
<path class=e31 d="M5568 1326l15-5"/>
<path class=c32 d="M5992 1377l15-4l-114-54l-15 4z"/>
<path class=e32 d="M5878 1323l15-4"/>
<path class=c32 d="M6302 1378l15-5l-115-53l-15 4z"/>
<path class=e32 d="M6187 1324l15-4"/>
<path class=c31 d="M5358 1386l15-4l-114-44l-15 4z"/>
<path class=e31 d="M5244 1342l15-4"/>
<path class=c31 d="M4740 1385l14-3l-114-49l-15 1z"/>
<path class=e31 d="M4625 1334l15-1"/>
<path class=c31 d="M5034 1395l15-3l-115-39l-15 2z"/>
<path class=e30 d="M4919 1355l15-2"/>
<path class=c31 d="M5668 1382l15-4l-115-52l-15 4z"/>
<path class=e31 d="M5553 1330l15-4"/>
<path class=c32 d="M5977 1382l15-5l-114-54l-15 4z"/>
<path class=e32 d="M5863 1327l15-4"/>
<path class=c32 d="M6287 1382l15-4l-115-54l-15 4z"/>
<path class=e32 d="M6172 1328l15-4"/>
<path class=c31 d="M5344 1390l14-4l-114-44l-15 4z"/>
<path class=e31 d="M5229 1346l15-4"/>
<path class=c31 d="M4725 1387l15-2l-115-51l-15 2z"/>
<path class=e31 d="M4610 1336l15-2"/>
<path class=c31 d="M5019 1399l15-4l-115-40l-15 3z"/>
<path class=e30 d="M4904 1358l15-3"/>
<path class=c31 d="M5653 1386l15-4l-115-52l-15 4z"/>
<path class=e31 d="M5538 1334l15-4"/>
<path class=c32 d="M5963 1386l14-4l-114-55l-15 5z"/>
<path class=e32 d="M5848 1332l15-5"/>
<path class=c32 d="M6272 1386l15-4l-115-54l-15 4z"/>
<path class=e32 d="M6157 1332l15-4"/>
<path class=c31 d="M5329 1394l15-4l-115-44l-15 4z"/>
<path class=e31 d="M5214 1350l15-4"/>
<path class=c31 d="M4710 1390l15-3l-115-51l-15 2z"/>
<path class=e31 d="M4595 1338l15-2"/>
<path class=c31 d="M5004 1402l15-3l-115-41l-15 2z"/>
<path class=e30 d="M4889 1360l15-2"/>
<path class=c31 d="M5638 1390l15-4l-115-52l-15 5z"/>
<path class=e31 d="M5523 1339l15-5"/>
<path class=c32 d="M5948 1390l15-4l-115-54l-15 4z"/>
<path class=e32 d="M5833 1336l15-4"/>
<path class=c32 d="M6257 1390l15-4l-115-54l-15 4z"/>
<path class=e32 d="M6142 1336l15-4"/>
<path class=c31 d="M5314 1398l15-4l-115-44l-15 4z"/>
<path class=e31 d="M5199 1354l15-4"/>
<path class=c31 d="M4695 1394l15-4l-115-52l-15 2z"/>
<path class=e31 d="M4580 1340l15-2"/>
<path class=c31 d="M4989 1405l15-3l-115-42l-15 3z"/>
<path class=e30 d="M4874 1363l15-3"/>
<path class=c31 d="M5623 1394l15-4l-115-51l-15 4z"/>
<path class=e31 d="M5508 1343l15-4"/>
<path class=c32 d="M5933 1394l15-4l-115-54l-15 4z"/>
<path class=e32 d="M5818 1340l15-4"/>
<path class=c32 d="M6242 1394l15-4l-115-54l-15 4z"/>
<path class=e32 d="M6127 1340l15-4"/>
<path class=c31 d="M5299 1402l15-4l-115-44l-15 4z"/>
<path class=e31 d="M5184 1358l15-4"/>
<path class=c31 d="M5608 1399l15-5l-115-51l-15 5z"/>
<path class=e31 d="M5493 1348l15-5"/>
<path class=c32 d="M4680 1398l15-4l-115-54l-15 4z"/>
<path class=e32 d="M4565 1344l15-4"/>
<path class=c31 d="M4974 1409l15-4l-115-42l-15 2z"/>
<path class=e31 d="M4859 1365l15-2"/>
<path class=c32 d="M5918 1398l15-4l-115-54l-15 4z"/>
<path class=e32 d="M5803 1344l15-4"/>
<path class=c32 d="M6227 1398l15-4l-115-54l-15 4z"/>
<path class=e32 d="M6112 1344l15-4"/>
<path class=c31 d="M5284 1407l15-5l-115-44l-15 4z"/>
<path class=e31 d="M5169 1362l15-4"/>
<path class=c31 d="M5593 1403l15-4l-115-51l-15 4z"/>
<path class=e31 d="M5478 1352l15-4"/>
<path class=c31 d="M4959 1412l15-3l-115-44l-15 2z"/>
<path class=e31 d="M4844 1367l15-2"/>
<path class=c32 d="M5903 1402l15-4l-115-54l-15 4z"/>
<path class=e32 d="M5788 1348l15-4"/>
<path class=c32 d="M6212 1402l15-4l-115-54l-15 5z"/>
<path class=e32 d="M6097 1349l15-5"/>
<path class=c31 d="M5269 1411l15-4l-115-45l-15 4z"/>
<path class=e31 d="M5154 1366l15-4"/>
<path class=c31 d="M5578 1407l15-4l-115-51l-15 4z"/>
<path class=e31 d="M5463 1356l15-4"/>
<path class=c32 d="M5888 1406l15-4l-115-54l-15 5z"/>
<path class=e32 d="M5773 1353l15-5"/>
<path class=c32 d="M6197 1406l15-4l-115-53l-15 4z"/>
<path class=e32 d="M6082 1353l15-4"/>
<path class=c31 d="M4944 1416l15-4l-115-45l-15 3z"/>
<path class=e31 d="M4829 1370l15-3"/>
<path class=c31 d="M5254 1415l15-4l-115-45l-15 4z"/>
<path class=e31 d="M5139 1370l15-4"/>
<path class=c31 d="M5563 1411l15-4l-115-51l-15 5z"/>
<path class=e31 d="M5448 1361l15-5"/>
<path class=c31 d="M5873 1410l15-4l-115-53l-15 4z"/>
<path class=e31 d="M5758 1357l15-4"/>
<path class=c32 d="M6182 1411l15-5l-115-53l-15 4z"/>
<path class=e32 d="M6067 1357l15-4"/>
<path class=c31 d="M4929 1419l15-3l-115-46l-15 2z"/>
<path class=e31 d="M4814 1372l15-2"/>
<path class=c31 d="M5239 1419l15-4l-115-45l-15 4z"/>
<path class=e31 d="M5124 1374l15-4"/>
<path class=c31 d="M5548 1415l15-4l-115-50l-15 4z"/>
<path class=e31 d="M5433 1365l15-4"/>
<path class=c31 d="M5858 1415l15-5l-115-53l-15 4z"/>
<path class=e31 d="M5743 1361l15-4"/>
<path class=c32 d="M6167 1415l15-4l-115-54l-15 4z"/>
<path class=e32 d="M6052 1361l15-4"/>
<path class=c31 d="M5224 1423l15-4l-115-45l-15 4z"/>
<path class=e31 d="M5109 1378l15-4"/>
<path class=c31 d="M4914 1422l15-3l-115-47l-15 2z"/>
<path class=e31 d="M4799 1374l15-2"/>
<path class=c31 d="M5533 1419l15-4l-115-50l-15 4z"/>
<path class=e31 d="M5418 1369l15-4"/>
<path class=c31 d="M5843 1419l15-4l-115-54l-15 4z"/>
<path class=e31 d="M5728 1365l15-4"/>
<path class=c32 d="M6152 1419l15-4l-115-54l-15 4z"/>
<path class=e32 d="M6037 1365l15-4"/>
<path class=c31 d="M5209 1427l15-4l-115-45l-15 3z"/>
<path class=e31 d="M5094 1381l15-3"/>
<path class=c31 d="M4899 1426l15-4l-115-48l-15 3z"/>
<path class=e31 d="M4784 1377l15-3"/>
<path class=c31 d="M5518 1424l15-5l-115-50l-15 4z"/>
<path class=e31 d="M5403 1373l15-4"/>
<path class=c31 d="M5828 1423l15-4l-115-54l-15 4z"/>
<path class=e31 d="M5713 1369l15-4"/>
<path class=c32 d="M6137 1423l15-4l-115-54l-15 4z"/>
<path class=e32 d="M6022 1369l15-4"/>
<path class=c31 d="M5194 1431l15-4l-115-46l-15 4z"/>
<path class=e31 d="M5079 1385l15-4"/>
<path class=c31 d="M4884 1429l15-3l-115-49l-15 2z"/>
<path class=e31 d="M4769 1379l15-2"/>
<path class=c31 d="M5503 1428l15-4l-115-51l-15 5z"/>
<path class=e31 d="M5388 1378l15-5"/>
<path class=c31 d="M5813 1427l15-4l-115-54l-15 5z"/>
<path class=e31 d="M5698 1374l15-5"/>
<path class=c32 d="M6122 1427l15-4l-115-54l-15 4z"/>
<path class=e32 d="M6007 1373l15-4"/>
<path class=c31 d="M5179 1434l15-3l-115-46l-15 3z"/>
<path class=e31 d="M5064 1388l15-3"/>
<path class=c31 d="M4869 1433l15-4l-115-50l-15 3z"/>
<path class=e31 d="M4754 1382l15-3"/>
<path class=c31 d="M5488 1432l15-4l-115-50l-15 4z"/>
<path class=e31 d="M5373 1382l15-4"/>
<path class=c31 d="M5798 1431l15-4l-115-53l-15 4z"/>
<path class=e31 d="M5683 1378l15-4"/>
<path class=c32 d="M6107 1431l15-4l-115-54l-15 4z"/>
<path class=e32 d="M5992 1377l15-4"/>
<path class=c31 d="M5164 1438l15-4l-115-46l-15 4z"/>
<path class=e31 d="M5049 1392l15-4"/>
<path class=c31 d="M4854 1436l15-3l-115-51l-14 3z"/>
<path class=e31 d="M4740 1385l14-3"/>
<path class=c31 d="M5473 1436l15-4l-115-50l-15 4z"/>
<path class=e31 d="M5358 1386l15-4"/>
<path class=c31 d="M5783 1435l15-4l-115-53l-15 4z"/>
<path class=e31 d="M5668 1382l15-4"/>
<path class=c32 d="M6092 1435l15-4l-115-54l-15 5z"/>
<path class=e32 d="M5977 1382l15-5"/>
<path class=c31 d="M5149 1442l15-4l-115-46l-15 3z"/>
<path class=e31 d="M5034 1395l15-3"/>
<path class=c31 d="M4839 1440l15-4l-114-51l-15 2z"/>
<path class=e31 d="M4725 1387l15-2"/>
<path class=c31 d="M5458 1440l15-4l-115-50l-14 4z"/>
<path class=e31 d="M5344 1390l14-4"/>
<path class=c31 d="M5768 1439l15-4l-115-53l-15 4z"/>
<path class=e31 d="M5653 1386l15-4"/>
<path class=c32 d="M6077 1439l15-4l-115-53l-14 4z"/>
<path class=e32 d="M5963 1386l14-4"/>
<path class=c31 d="M5134 1446l15-4l-115-47l-15 4z"/>
<path class=e31 d="M5019 1399l15-4"/>
<path class=c31 d="M5443 1444l15-4l-114-50l-15 4z"/>
<path class=e31 d="M5329 1394l15-4"/>
<path class=c31 d="M4824 1444l15-4l-114-53l-15 3z"/>
<path class=e31 d="M4710 1390l15-3"/>
<path class=c31 d="M5753 1443l15-4l-115-53l-15 4z"/>
<path class=e31 d="M5638 1390l15-4"/>
<path class=c32 d="M6062 1444l15-5l-114-53l-15 4z"/>
<path class=e32 d="M5948 1390l15-4"/>
<path class=c31 d="M5119 1450l15-4l-115-47l-15 3z"/>
<path class=e31 d="M5004 1402l15-3"/>
<path class=c31 d="M5428 1448l15-4l-114-50l-15 4z"/>
<path class=e31 d="M5314 1398l15-4"/>
<path class=c31 d="M4809 1447l15-3l-114-54l-15 4z"/>
<path class=e31 d="M4695 1394l15-4"/>
<path class=c31 d="M5738 1448l15-5l-115-53l-15 4z"/>
<path class=e31 d="M5623 1394l15-4"/>
<path class=c32 d="M6047 1448l15-4l-114-54l-15 4z"/>
<path class=e32 d="M5933 1394l15-4"/>
<path class=c31 d="M5104 1454l15-4l-115-48l-15 3z"/>
<path class=e31 d="M4989 1405l15-3"/>
<path class=c31 d="M5413 1452l15-4l-114-50l-15 4z"/>
<path class=e31 d="M5299 1402l15-4"/>
<path class=c32 d="M4795 1451l14-4l-114-53l-15 4z"/>
<path class=e32 d="M4680 1398l15-4"/>
<path class=c31 d="M5723 1452l15-4l-115-54l-15 5z"/>
<path class=e31 d="M5608 1399l15-5"/>
<path class=c32 d="M6032 1452l15-4l-114-54l-15 4z"/>
<path class=e32 d="M5918 1398l15-4"/>
<path class=c31 d="M5089 1458l15-4l-115-49l-15 4z"/>
<path class=e31 d="M4974 1409l15-4"/>
<path class=c31 d="M5399 1457l14-5l-114-50l-15 5z"/>
<path class=e31 d="M5284 1407l15-5"/>
<path class=c31 d="M5708 1456l15-4l-115-53l-15 4z"/>
<path class=e31 d="M5593 1403l15-4"/>
<path class=c32 d="M6017 1456l15-4l-114-54l-15 4z"/>
<path class=e32 d="M5903 1402l15-4"/>
<path class=c31 d="M5074 1462l15-4l-115-49l-15 3z"/>
<path class=e31 d="M4959 1412l15-3"/>
<path class=c31 d="M5384 1461l15-4l-115-50l-15 4z"/>
<path class=e31 d="M5269 1411l15-4"/>
<path class=c31 d="M5693 1460l15-4l-115-53l-15 4z"/>
<path class=e31 d="M5578 1407l15-4"/>
<path class=c32 d="M6003 1460l14-4l-114-54l-15 4z"/>
<path class=e32 d="M5888 1406l15-4"/>
<path class=c31 d="M5059 1466l15-4l-115-50l-15 4z"/>
<path class=e31 d="M4944 1416l15-4"/>
<path class=c31 d="M5369 1465l15-4l-115-50l-15 4z"/>
<path class=e31 d="M5254 1415l15-4"/>
<path class=c31 d="M5678 1464l15-4l-115-53l-15 4z"/>
<path class=e31 d="M5563 1411l15-4"/>
<path class=c32 d="M5988 1464l15-4l-115-54l-15 4z"/>
<path class=e31 d="M5873 1410l15-4"/>
<path class=c31 d="M5044 1469l15-3l-115-50l-15 3z"/>
<path class=e31 d="M4929 1419l15-3"/>
<path class=c31 d="M5354 1469l15-4l-115-50l-15 4z"/>
<path class=e31 d="M5239 1419l15-4"/>
<path class=c31 d="M5663 1468l15-4l-115-53l-15 4z"/>
<path class=e31 d="M5548 1415l15-4"/>
<path class=c32 d="M5973 1468l15-4l-115-54l-15 5z"/>
<path class=e31 d="M5858 1415l15-5"/>
<path class=c31 d="M5029 1473l15-4l-115-50l-15 3z"/>
<path class=e31 d="M4914 1422l15-3"/>
<path class=c31 d="M5339 1473l15-4l-115-50l-15 4z"/>
<path class=e31 d="M5224 1423l15-4"/>
<path class=c31 d="M5648 1472l15-4l-115-53l-15 4z"/>
<path class=e31 d="M5533 1419l15-4"/>
<path class=c32 d="M5958 1472l15-4l-115-53l-15 4z"/>
<path class=e31 d="M5843 1419l15-4"/>
<path class=c31 d="M5014 1477l15-4l-115-51l-15 4z"/>
<path class=e31 d="M4899 1426l15-4"/>
<path class=c31 d="M5324 1477l15-4l-115-50l-15 4z"/>
<path class=e31 d="M5209 1427l15-4"/>
<path class=c31 d="M5633 1476l15-4l-115-53l-15 5z"/>
<path class=e31 d="M5518 1424l15-5"/>
<path class=c32 d="M5943 1477l15-5l-115-53l-15 4z"/>
<path class=e31 d="M5828 1423l15-4"/>
<path class=c31 d="M4999 1481l15-4l-115-51l-15 3z"/>
<path class=e31 d="M4884 1429l15-3"/>
<path class=c31 d="M5309 1481l15-4l-115-50l-15 4z"/>
<path class=e31 d="M5194 1431l15-4"/>
<path class=c31 d="M5618 1481l15-5l-115-52l-15 4z"/>
<path class=e31 d="M5503 1428l15-4"/>
<path class=c32 d="M5928 1481l15-4l-115-54l-15 4z"/>
<path class=e31 d="M5813 1427l15-4"/>
<path class=c31 d="M5294 1485l15-4l-115-50l-15 3z"/>
<path class=e31 d="M5179 1434l15-3"/>
<path class=c31 d="M4984 1485l15-4l-115-52l-15 4z"/>
<path class=e31 d="M4869 1433l15-4"/>
<path class=c31 d="M5603 1485l15-4l-115-53l-15 4z"/>
<path class=e31 d="M5488 1432l15-4"/>
<path class=c32 d="M5913 1485l15-4l-115-54l-15 4z"/>
<path class=e31 d="M5798 1431l15-4"/>
<path class=c31 d="M5279 1489l15-4l-115-51l-15 4z"/>
<path class=e31 d="M5164 1438l15-4"/>
<path class=c31 d="M4969 1489l15-4l-115-52l-15 3z"/>
<path class=e31 d="M4854 1436l15-3"/>
<path class=c31 d="M5588 1489l15-4l-115-53l-15 4z"/>
<path class=e31 d="M5473 1436l15-4"/>
<path class=c32 d="M5898 1489l15-4l-115-54l-15 4z"/>
<path class=e31 d="M5783 1435l15-4"/>
<path class=c31 d="M5264 1493l15-4l-115-51l-15 4z"/>
<path class=e31 d="M5149 1442l15-4"/>
<path class=c31 d="M4954 1493l15-4l-115-53l-15 4z"/>
<path class=e31 d="M4839 1440l15-4"/>
<path class=c31 d="M5573 1493l15-4l-115-53l-15 4z"/>
<path class=e31 d="M5458 1440l15-4"/>
<path class=c32 d="M5883 1493l15-4l-115-54l-15 4z"/>
<path class=e31 d="M5768 1439l15-4"/>
<path class=c31 d="M5249 1498l15-5l-115-51l-15 4z"/>
<path class=e31 d="M5134 1446l15-4"/>
<path class=c31 d="M4939 1497l15-4l-115-53l-15 4z"/>
<path class=e31 d="M4824 1444l15-4"/>
<path class=c31 d="M5558 1497l15-4l-115-53l-15 4z"/>
<path class=e31 d="M5443 1444l15-4"/>
<path class=c32 d="M5868 1497l15-4l-115-54l-15 4z"/>
<path class=e31 d="M5753 1443l15-4"/>
<path class=c31 d="M5234 1502l15-4l-115-52l-15 4z"/>
<path class=e31 d="M5119 1450l15-4"/>
<path class=c31 d="M4924 1501l15-4l-115-53l-15 3z"/>
<path class=e31 d="M4809 1447l15-3"/>
<path class=c31 d="M5543 1501l15-4l-115-53l-15 4z"/>
<path class=e31 d="M5428 1448l15-4"/>
<path class=c32 d="M5853 1501l15-4l-115-54l-15 5z"/>
<path class=e31 d="M5738 1448l15-5"/>
<path class=c31 d="M5219 1506l15-4l-115-52l-15 4z"/>
<path class=e31 d="M5104 1454l15-4"/>
<path class=c32 d="M4909 1505l15-4l-115-54l-14 4z"/>
<path class=e32 d="M4795 1451l14-4"/>
<path class=c31 d="M5528 1505l15-4l-115-53l-15 4z"/>
<path class=e31 d="M5413 1452l15-4"/>
<path class=c32 d="M5838 1505l15-4l-115-53l-15 4z"/>
<path class=e31 d="M5723 1452l15-4"/>
<path class=c31 d="M5204 1510l15-4l-115-52l-15 4z"/>
<path class=e31 d="M5089 1458l15-4"/>
<path class=c31 d="M5513 1509l15-4l-115-53l-14 5z"/>
<path class=e31 d="M5399 1457l14-5"/>
<path class=c32 d="M5823 1510l15-5l-115-53l-15 4z"/>
<path class=e31 d="M5708 1456l15-4"/>
<path class=c31 d="M5189 1514l15-4l-115-52l-15 4z"/>
<path class=e31 d="M5074 1462l15-4"/>
<path class=c31 d="M5498 1514l15-5l-114-52l-15 4z"/>
<path class=e31 d="M5384 1461l15-4"/>
<path class=c32 d="M5808 1514l15-4l-115-54l-15 4z"/>
<path class=e31 d="M5693 1460l15-4"/>
<path class=c31 d="M5174 1518l15-4l-115-52l-15 4z"/>
<path class=e31 d="M5059 1466l15-4"/>
<path class=c31 d="M5483 1518l15-4l-114-53l-15 4z"/>
<path class=e31 d="M5369 1465l15-4"/>
<path class=c32 d="M5793 1518l15-4l-115-54l-15 4z"/>
<path class=e31 d="M5678 1464l15-4"/>
<path class=c31 d="M5159 1522l15-4l-115-52l-15 3z"/>
<path class=e31 d="M5044 1469l15-3"/>
<path class=c31 d="M5468 1522l15-4l-114-53l-15 4z"/>
<path class=e31 d="M5354 1469l15-4"/>
<path class=c32 d="M5778 1522l15-4l-115-54l-15 4z"/>
<path class=e31 d="M5663 1468l15-4"/>
<path class=c31 d="M5144 1526l15-4l-115-53l-15 4z"/>
<path class=e31 d="M5029 1473l15-4"/>
<path class=c31 d="M5454 1526l14-4l-114-53l-15 4z"/>
<path class=e31 d="M5339 1473l15-4"/>
<path class=c32 d="M5763 1526l15-4l-115-54l-15 4z"/>
<path class=e31 d="M5648 1472l15-4"/>
<path class=c31 d="M5129 1530l15-4l-115-53l-15 4z"/>
<path class=e31 d="M5014 1477l15-4"/>
<path class=c31 d="M5439 1530l15-4l-115-53l-15 4z"/>
<path class=e31 d="M5324 1477l15-4"/>
<path class=c32 d="M5748 1530l15-4l-115-54l-15 4z"/>
<path class=e31 d="M5633 1476l15-4"/>
<path class=c31 d="M5114 1534l15-4l-115-53l-15 4z"/>
<path class=e31 d="M4999 1481l15-4"/>
<path class=c31 d="M5424 1534l15-4l-115-53l-15 4z"/>
<path class=e31 d="M5309 1481l15-4"/>
<path class=c32 d="M5733 1534l15-4l-115-54l-15 5z"/>
<path class=e31 d="M5618 1481l15-5"/>
<path class=c31 d="M5099 1538l15-4l-115-53l-15 4z"/>
<path class=e31 d="M4984 1485l15-4"/>
<path class=c31 d="M5409 1538l15-4l-115-53l-15 4z"/>
<path class=e31 d="M5294 1485l15-4"/>
<path class=c32 d="M5718 1538l15-4l-115-53l-15 4z"/>
<path class=e31 d="M5603 1485l15-4"/>
<path class=c31 d="M5084 1542l15-4l-115-53l-15 4z"/>
<path class=e31 d="M4969 1489l15-4"/>
<path class=c31 d="M5394 1542l15-4l-115-53l-15 4z"/>
<path class=e31 d="M5279 1489l15-4"/>
<path class=c32 d="M5703 1543l15-5l-115-53l-15 4z"/>
<path class=e31 d="M5588 1489l15-4"/>
<path class=c31 d="M5069 1546l15-4l-115-53l-15 4z"/>
<path class=e31 d="M4954 1493l15-4"/>
<path class=c31 d="M5379 1547l15-5l-115-53l-15 4z"/>
<path class=e31 d="M5264 1493l15-4"/>
<path class=c32 d="M5688 1547l15-4l-115-54l-15 4z"/>
<path class=e31 d="M5573 1493l15-4"/>
<path class=c31 d="M5054 1551l15-5l-115-53l-15 4z"/>
<path class=e31 d="M4939 1497l15-4"/>
<path class=c31 d="M5364 1551l15-4l-115-54l-15 5z"/>
<path class=e31 d="M5249 1498l15-5"/>
<path class=c32 d="M5673 1551l15-4l-115-54l-15 4z"/>
<path class=e31 d="M5558 1497l15-4"/>
<path class=c31 d="M5039 1555l15-4l-115-54l-15 4z"/>
<path class=e31 d="M4924 1501l15-4"/>
<path class=c31 d="M5349 1555l15-4l-115-53l-15 4z"/>
<path class=e31 d="M5234 1502l15-4"/>
<path class=c32 d="M5658 1555l15-4l-115-54l-15 4z"/>
<path class=e31 d="M5543 1501l15-4"/>
<path class=c32 d="M5024 1559l15-4l-115-54l-15 4z"/>
<path class=e32 d="M4909 1505l15-4"/>
<path class=c31 d="M5334 1559l15-4l-115-53l-15 4z"/>
<path class=e31 d="M5219 1506l15-4"/>
<path class=c32 d="M5643 1559l15-4l-115-54l-15 4z"/>
<path class=e31 d="M5528 1505l15-4"/>
<path class=c31 d="M5319 1563l15-4l-115-53l-15 4z"/>
<path class=e31 d="M5204 1510l15-4"/>
<path class=c32 d="M5628 1563l15-4l-115-54l-15 4z"/>
<path class=e31 d="M5513 1509l15-4"/>
<path class=c31 d="M5304 1567l15-4l-115-53l-15 4z"/>
<path class=e31 d="M5189 1514l15-4"/>
<path class=c32 d="M5613 1567l15-4l-115-54l-15 5z"/>
<path class=e31 d="M5498 1514l15-5"/>
<path class=c31 d="M5289 1571l15-4l-115-53l-15 4z"/>
<path class=e31 d="M5174 1518l15-4"/>
<path class=c32 d="M5598 1571l15-4l-115-53l-15 4z"/>
<path class=e31 d="M5483 1518l15-4"/>
<path class=c31 d="M5274 1575l15-4l-115-53l-15 4z"/>
<path class=e31 d="M5159 1522l15-4"/>
<path class=c32 d="M5583 1576l15-5l-115-53l-15 4z"/>
<path class=e31 d="M5468 1522l15-4"/>
<path class=c31 d="M5259 1580l15-5l-115-53l-15 4z"/>
<path class=e31 d="M5144 1526l15-4"/>
<path class=c32 d="M5568 1580l15-4l-115-54l-14 4z"/>
<path class=e31 d="M5454 1526l14-4"/>
<path class=c31 d="M5244 1584l15-4l-115-54l-15 4z"/>
<path class=e31 d="M5129 1530l15-4"/>
<path class=c32 d="M5553 1584l15-4l-114-54l-15 4z"/>
<path class=e31 d="M5439 1530l15-4"/>
<path class=c31 d="M5229 1588l15-4l-115-54l-15 4z"/>
<path class=e31 d="M5114 1534l15-4"/>
<path class=c32 d="M5538 1588l15-4l-114-54l-15 4z"/>
<path class=e31 d="M5424 1534l15-4"/>
<path class=c31 d="M5214 1592l15-4l-115-54l-15 4z"/>
<path class=e31 d="M5099 1538l15-4"/>
<path class=c32 d="M5523 1592l15-4l-114-54l-15 4z"/>
<path class=e31 d="M5409 1538l15-4"/>
<path class=c31 d="M5199 1596l15-4l-115-54l-15 4z"/>
<path class=e31 d="M5084 1542l15-4"/>
<path class=c32 d="M5508 1596l15-4l-114-54l-15 4z"/>
<path class=e31 d="M5394 1542l15-4"/>
<path class=c31 d="M5184 1600l15-4l-115-54l-15 4z"/>
<path class=e31 d="M5069 1546l15-4"/>
<path class=c32 d="M5494 1600l14-4l-114-54l-15 5z"/>
<path class=e31 d="M5379 1547l15-5"/>
<path class=c31 d="M5169 1604l15-4l-115-54l-15 5z"/>
<path class=e31 d="M5054 1551l15-5"/>
<path class=c32 d="M5479 1604l15-4l-115-53l-15 4z"/>
<path class=e31 d="M5364 1551l15-4"/>
<path class=c31 d="M5154 1608l15-4l-115-53l-15 4z"/>
<path class=e31 d="M5039 1555l15-4"/>
<path class=c32 d="M5464 1609l15-5l-115-53l-15 4z"/>
<path class=e31 d="M5349 1555l15-4"/>
<path class=c32 d="M5139 1613l15-5l-115-53l-15 4z"/>
<path class=e32 d="M5024 1559l15-4"/>
<path class=c32 d="M5449 1613l15-4l-115-54l-15 4z"/>
<path class=e31 d="M5334 1559l15-4"/>
<path class=c32 d="M5434 1617l15-4l-115-54l-15 4z"/>
<path class=e31 d="M5319 1563l15-4"/>
<path class=c32 d="M5419 1621l15-4l-115-54l-15 4z"/>
<path class=e31 d="M5304 1567l15-4"/>
<path class=c32 d="M5404 1625l15-4l-115-54l-15 4z"/>
<path class=e31 d="M5289 1571l15-4"/>
<path class=c32 d="M5389 1629l15-4l-115-54l-15 4z"/>
<path class=e31 d="M5274 1575l15-4"/>
<path class=c32 d="M5374 1633l15-4l-115-54l-15 5z"/>
<path class=e31 d="M5259 1580l15-5"/>
<path class=c32 d="M5359 1637l15-4l-115-53l-15 4z"/>
<path class=e31 d="M5244 1584l15-4"/>
<path class=c32 d="M5344 1642l15-5l-115-53l-15 4z"/>
<path class=e31 d="M5229 1588l15-4"/>
<path class=c32 d="M5329 1646l15-4l-115-54l-15 4z"/>
<path class=e31 d="M5214 1592l15-4"/>
<path class=c32 d="M5314 1650l15-4l-115-54l-15 4z"/>
<path class=e31 d="M5199 1596l15-4"/>
<path class=c32 d="M5299 1654l15-4l-115-54l-15 4z"/>
<path class=e31 d="M5184 1600l15-4"/>
<path class=c32 d="M5284 1658l15-4l-115-54l-15 4z"/>
<path class=e31 d="M5169 1604l15-4"/>
<path class=c32 d="M5269 1662l15-4l-115-54l-15 4z"/>
<path class=e31 d="M5154 1608l15-4"/>
<path class=c32 d="M5254 1666l15-4l-115-54l-15 5z"/>
<path class=e32 d="M5139 1613l15-5"/></g>
<text x="404.2" y="171.9" class="t" text-anchor="end">-0.01</text>
<text x="404.2" y="142.6" class="t" text-anchor="end">-0.005</text>
<text x="404.2" y="113.2" class="t" text-anchor="end">0</text>
<text x="404.2" y="83.9" class="t" text-anchor="end">0.005</text>
<text x="404.2" y="54.6" class="t" text-anchor="end">0.01</text>
<text x="532.4" y="237.3" class="t" text-anchor="start">0</text>
<text x="562.3" y="229" class="t" text-anchor="start">0.2</text>
<text x="592.3" y="220.8" class="t" text-anchor="start">0.4</text>
<text x="622.2" y="212.5" class="t" text-anchor="start">0.6</text>
<text x="652.2" y="204.3" class="t" text-anchor="start">0.8</text>
<text x="682.1" y="196" class="t" text-anchor="start">1</text>
<text x="518.6" y="235.9" class="t" text-anchor="end">0</text>
<text x="461.2" y="209" class="t" text-anchor="end">0.5</text>
<text x="403.7" y="182.1" class="t" text-anchor="end">1</text>
<path class="g" d="M191.1 525.4L76.3 471.6"/>
<path class="g" d="M221.1 517.1L106.2 463.4"/>
<path class="g" d="M251 508.9L136.2 455.2"/>
<path class="g" d="M280.9 500.6L166.1 446.9"/>
<path class="g" d="M310.8 492.4L196 438.7"/>
<path class="g" d="M103.8 506.7L253.4 465.5"/>
<path class="g" d="M46.4 479.9L196 438.7"/>
<path class="g" d="M76.3 471.6L76.3 354.4"/>
<path class="g" d="M106.2 463.4L106.2 346.1"/>
<path class="g" d="M136.2 455.2L136.2 337.9"/>
<path class="g" d="M166.1 446.9L166.1 329.7"/>
<path class="g" d="M196 438.7L196 321.4"/>
<path class="g" d="M46.4 479.9L196 438.7"/>
<path class="g" d="M196 438.7L310.8 492.4"/>
<path class="g" d="M46.4 450.6L196 409.4"/>
<path class="g" d="M196 409.4L310.8 463.1"/>
<path class="g" d="M46.4 421.3L196 380"/>
<path class="g" d="M196 380L310.8 433.8"/>
<path class="g" d="M46.4 391.9L196 350.7"/>
<path class="g" d="M196 350.7L310.8 404.4"/>
<path class="g" d="M46.4 362.6L196 321.4"/>
<path class="g" d="M196 321.4L310.8 375.1"/>
<path class="g" d="M310.8 492.4L310.8 375.1"/>
<path class="g" d="M253.4 465.5L253.4 348.3"/>
<path class="a" d="M161.2 533.6L310.8 492.4"/>
<path class="a" d="M161.2 533.6L46.4 479.9"/>
<path class="a" d="M46.4 479.9L46.4 362.6"/>
<path class="a" d="M161.2 533.6L164.4 535.1"/>
<path class="a" d="M191.1 525.4L194.3 526.9"/>
<path class="a" d="M221.1 517.1L224.3 518.6"/>
<path class="a" d="M251 508.9L254.2 510.4"/>
<path class="a" d="M280.9 500.6L284.1 502.1"/>
<path class="a" d="M310.8 492.4L314 493.9"/>
<path class="a" d="M161.2 533.6L157 534.8"/>
<path class="a" d="M103.8 506.7L99.6 507.9"/>
<path class="a" d="M46.4 479.9L42.2 481"/>
<path class="a" d="M46.4 479.9L42.6 478.1"/>
<path class="a" d="M46.4 450.6L42.6 448.8"/>
<path class="a" d="M46.4 421.3L42.6 419.5"/>
<path class="a" d="M46.4 391.9L42.6 390.2"/>
<path class="a" d="M46.4 362.6L42.6 360.9"/>
<g transform="scale(.1)"><path class=c32 d="M2060 3854l15 0l-115-54l-15-2z"/>
<path class=e32 d="M1945 3798l15 2"/>
<path class=c32 d="M2045 3850l15 4l-115-56l-15-8z"/>
<path class=e32 d="M1930 3790l15 8"/>
<path class=c33 d="M2030 3844l15 6l-115-60l-15-11z"/>
<path class=e33 d="M1915 3779l15 11"/>
<path class=c33 d="M2015 3836l15 8l-115-65l-15-15z"/>
<path class=e34 d="M1900 3764l15 15"/>
<path class=c34 d="M2000 3826l15 10l-115-72l-15-16z"/>
<path class=e36 d="M1885 3748l15 16"/>
<path class=c35 d="M1985 3815l15 11l-115-78l-15-19z"/>
<path class=e37 d="M1870 3729l15 19"/>
<path class=c32 d="M2175 3909l15-1l-115-54l-15 0z"/>
<path class=e32 d="M2060 3854l15 0"/>
<path class=c36 d="M1970 3803l15 12l-115-86l-15-20z"/>
<path class=e38 d="M1855 3709l15 20"/>
<path class=c32 d="M2160 3908l15 1l-115-55l-15-4z"/>
<path class=e32 d="M2045 3850l15 4"/>
<path class=c37 d="M1955 3791l15 12l-115-94l-15-21z"/>
<path class=e39 d="M1840 3688l15 21"/>
<path class=c32 d="M2145 3906l15 2l-115-58l-15-6z"/>
<path class=e33 d="M2030 3844l15 6"/>
<path class=c33 d="M2130 3902l15 4l-115-62l-15-8z"/>
<path class=e33 d="M2015 3836l15 8"/>
<path class=c38 d="M1940 3777l15 14l-115-103l-15-22z"/>
<path class=e41 d="M1825 3666l15 22"/>
<path class=c33 d="M2115 3898l15 4l-115-66l-15-10z"/>
<path class=e34 d="M2000 3826l15 10"/>
<path class=c39 d="M1925 3764l15 13l-115-111l-14-23z"/>
<path class=e42 d="M1811 3643l14 23"/>
<path class=c34 d="M2100 3892l15 6l-115-72l-15-11z"/>
<path class=e35 d="M1985 3815l15 11"/>
<path class=c34 d="M2085 3886l15 6l-115-77l-15-12z"/>
<path class=e36 d="M1970 3803l15 12"/>
<path class=c40 d="M1910 3750l15 14l-114-121l-15-23z"/>
<path class=e44 d="M1796 3620l15 23"/>
<path class=c35 d="M2070 3880l15 6l-115-83l-15-12z"/>
<path class=e37 d="M1955 3791l15 12"/>
<path class=c32 d="M2290 3964l15-2l-115-54l-15 1z"/>
<path class=e32 d="M2175 3909l15-1"/>
<path class=c41 d="M1895 3736l15 14l-114-130l-15-22z"/>
<path class=e45 d="M1781 3598l15 22"/>
<path class=c32 d="M2275 3965l15-1l-115-55l-15-1z"/>
<path class=e32 d="M2160 3908l15 1"/>
<path class=c35 d="M2055 3873l15 7l-115-89l-15-14z"/>
<path class=e38 d="M1940 3777l15 14"/>
<path class=c32 d="M2260 3965l15 0l-115-57l-15-2z"/>
<path class=e32 d="M2145 3906l15 2"/>
<path class=c42 d="M1880 3723l15 13l-114-138l-15-23z"/>
<path class=e47 d="M1766 3575l15 23"/>
<path class=c36 d="M2040 3866l15 7l-115-96l-15-13z"/>
<path class=e39 d="M1925 3764l15 13"/>
<path class=c32 d="M2245 3965l15 0l-115-59l-15-4z"/>
<path class=e33 d="M2130 3902l15 4"/>
<path class=c32 d="M2230 3964l15 1l-115-63l-15-4z"/>
<path class=e33 d="M2115 3898l15 4"/>
<path class=c37 d="M2025 3859l15 7l-115-102l-15-14z"/>
<path class=e40 d="M1910 3750l15 14"/>
<path class=c43 d="M1865 3709l15 14l-114-148l-15-22z"/>
<path class=e48 d="M1751 3553l15 22"/>
<path class=c33 d="M2215 3962l15 2l-115-66l-15-6z"/>
<path class=e34 d="M2100 3892l15 6"/>
<path class=c14 d="M1072 4452l15-13l-114 105l-15 18z"/>
<path class=e5 d="M958 4562l15-18"/>
<path class=c14 d="M1087 4439l15-15l-114 99l-15 21z"/>
<path class=e6 d="M973 4544l15-21"/>
<path class=c14 d="M1057 4464l15-12l-114 110l-15 15z"/>
<path class=e4 d="M943 4577l15-15"/>
<path class=c15 d="M1102 4424l15-17l-114 93l-15 23z"/>
<path class=e7 d="M988 4523l15-23"/>
<path class=c13 d="M1043 4474l14-10l-114 113l-15 13z"/>
<path class=e4 d="M928 4590l15-13"/>
<path class=c16 d="M1117 4407l15-18l-115 86l-14 25z"/>
<path class=e8 d="M1003 4500l14-25"/>
<path class=c37 d="M2010 3852l15 7l-115-109l-15-14z"/>
<path class=e41 d="M1895 3736l15 14"/>
<path class=c13 d="M1028 4482l15-8l-115 116l-15 11z"/>
<path class=e4 d="M913 4601l15-11"/>
<path class=c16 d="M1132 4389l15-19l-115 78l-15 27z"/>
<path class=e9 d="M1017 4475l15-27"/>
<path class=c33 d="M2200 3961l15 1l-115-70l-15-6z"/>
<path class=e34 d="M2085 3886l15 6"/>
<path class=c43 d="M1851 3697l14 12l-114-156l-15-22z"/>
<path class=e50 d="M1736 3531l15 22"/>
<path class=c17 d="M1147 4370l15-21l-115 70l-15 29z"/>
<path class=e10 d="M1032 4448l15-29"/>
<path class=c13 d="M1013 4489l15-7l-115 119l-15 8z"/>
<path class=e3 d="M898 4609l15-8"/>
<path class=c18 d="M1162 4349l15-22l-115 61l-15 31z"/>
<path class=e11 d="M1047 4419l15-31"/>
<path class=c13 d="M998 4494l15-5l-115 120l-15 5z"/>
<path class=e3 d="M883 4614l15-5"/>
<path class=c33 d="M2185 3958l15 3l-115-75l-15-6z"/>
<path class=e35 d="M2070 3880l15 6"/>
<path class=c38 d="M1995 3845l15 7l-115-116l-15-13z"/>
<path class=e42 d="M1880 3723l15 13"/>
<path class=c19 d="M1177 4327l15-23l-115 51l-15 33z"/>
<path class=e13 d="M1062 4388l15-33"/>
<path class=c13 d="M983 4497l15-3l-115 120l-15 3z"/>
<path class=e3 d="M868 4617l15-3"/>
<path class=c20 d="M1192 4304l15-24l-115 41l-15 34z"/>
<path class=e14 d="M1077 4355l15-34"/>
<path class=c44 d="M1836 3684l15 13l-115-166l-15-20z"/>
<path class=e51 d="M1721 3511l15 20"/>
<path class=c34 d="M2170 3956l15 2l-115-78l-15-7z"/>
<path class=e35 d="M2055 3873l15 7"/>
<path class=c13 d="M968 4498l15-1l-115 120l-15 0z"/>
<path class=e4 d="M853 4617l15 0"/>
<path class=c38 d="M1980 3838l15 7l-115-122l-15-14z"/>
<path class=e43 d="M1865 3709l15 14"/>
<path class=c32 d="M2404 4019l15-4l-114-53l-15 2z"/>
<path class=e32 d="M2290 3964l15-2"/>
<path class=c21 d="M1207 4280l15-26l-115 31l-15 36z"/>
<path class=e16 d="M1092 4321l15-36"/>
<path class=c13 d="M953 4498l15 0l-115 119l-15-2z"/>
<path class=e4 d="M838 4615l15 2"/>
<path class=c34 d="M2155 3953l15 3l-115-83l-15-7z"/>
<path class=e36 d="M2040 3866l15 7"/>
<path class=c32 d="M2389 4021l15-2l-114-55l-15 1z"/>
<path class=e32 d="M2275 3965l15-1"/>
<path class=c22 d="M1222 4254l15-26l-115 20l-15 37z"/>
<path class=e18 d="M1107 4285l15-37"/>
<path class=c45 d="M1821 3673l15 11l-115-173l-15-19z"/>
<path class=e52 d="M1706 3492l15 19"/>
<path class=c39 d="M1965 3831l15 7l-115-129l-14-12z"/>
<path class=e43 d="M1851 3697l14 12"/>
<path class=c14 d="M938 4497l15 1l-115 117l-15-4z"/>
<path class=e4 d="M823 4611l15 4"/>
<path class=c32 d="M2375 4023l14-2l-114-56l-15 0z"/>
<path class=e32 d="M2260 3965l15 0"/>
<path class=c24 d="M1237 4228l15-26l-115 7l-15 39z"/>
<path class=e20 d="M1122 4248l15-39"/>
<path class=c35 d="M2140 3951l15 2l-115-87l-15-7z"/>
<path class=e37 d="M2025 3859l15 7"/>
<path class=c32 d="M2360 4025l15-2l-115-58l-15 0z"/>
<path class=e32 d="M2245 3965l15 0"/>
<path class=c25 d="M1252 4202l15-28l-115-4l-15 39z"/>
<path class=e22 d="M1137 4209l15-39"/>
<path class=c14 d="M923 4494l15 3l-115 114l-15-7z"/>
<path class=e5 d="M808 4604l15 7"/>
<path class=c40 d="M1950 3825l15 6l-114-134l-15-13z"/>
<path class=e44 d="M1836 3684l15 13"/>
<path class=c46 d="M1806 3662l15 11l-115-181l-15-18z"/>
<path class=e53 d="M1691 3474l15 18"/>
<path class=c35 d="M2125 3948l15 3l-115-92l-15-7z"/>
<path class=e37 d="M2010 3852l15 7"/>
<path class=c32 d="M2345 4026l15-1l-115-60l-15-1z"/>
<path class=e32 d="M2230 3964l15 1"/>
<path class=c26 d="M1267 4174l15-28l-115-16l-15 40z"/>
<path class=e23 d="M1152 4170l15-40"/>
<path class=c14 d="M908 4489l15 5l-115 110l-15-9z"/>
<path class=e6 d="M793 4595l15 9"/>
<path class=c40 d="M1935 3819l15 6l-114-141l-15-11z"/>
<path class=e45 d="M1821 3673l15 11"/>
<path class=c35 d="M2110 3946l15 2l-115-96l-15-7z"/>
<path class=e38 d="M1995 3845l15 7"/>
<path class=c32 d="M2330 4027l15-1l-115-62l-15-2z"/>
<path class=e33 d="M2215 3962l15 2"/>
<path class=c47 d="M1791 3653l15 9l-115-188l-15-17z"/>
<path class=e55 d="M1676 3457l15 17"/>
<path class=c27 d="M1282 4146l15-28l-115-29l-15 41z"/>
<path class=e25 d="M1167 4130l15-41"/>
<path class=c15 d="M893 4483l15 6l-115 106l-15-11z"/>
<path class=e7 d="M778 4584l15 11"/>
<path class=c32 d="M2315 4028l15-1l-115-65l-15-1z"/>
<path class=e33 d="M2200 3961l15 1"/>
<path class=c36 d="M2095 3943l15 3l-115-101l-15-7z"/>
<path class=e38 d="M1980 3838l15 7"/>
<path class=c41 d="M1920 3814l15 5l-114-146l-15-11z"/>
<path class=e46 d="M1806 3662l15 11"/>
<path class=c29 d="M1297 4118l15-29l-115-41l-15 41z"/>
<path class=e27 d="M1182 4089l15-41"/>
<path class=c47 d="M1776 3644l15 9l-115-196l-15-15z"/>
<path class=e56 d="M1661 3442l15 15"/>
<path class=c33 d="M2300 4028l15 0l-115-67l-15-3z"/>
<path class=e33 d="M2185 3958l15 3"/>
<path class=c36 d="M2080 3941l15 2l-115-105l-15-7z"/>
<path class=e39 d="M1965 3831l15 7"/>
<path class=c30 d="M1312 4089l15-29l-115-53l-15 41z"/>
<path class=e29 d="M1197 4048l15-41"/>
<path class=c16 d="M878 4476l15 7l-115 101l-15-13z"/>
<path class=e7 d="M763 4571l15 13"/>
<path class=c41 d="M1905 3810l15 4l-114-152l-15-9z"/>
<path class=e47 d="M1791 3653l15 9"/>
<path class=c33 d="M2285 4029l15-1l-115-70l-15-2z"/>
<path class=e34 d="M2170 3956l15 2"/>
<path class=c48 d="M1761 3637l15 7l-115-202l-15-13z"/>
<path class=e56 d="M1646 3429l15 13"/>
<path class=c32 d="M1327 4060l15-29l-115-66l-15 42z"/>
<path class=e31 d="M1212 4007l15-42"/>
<path class=c36 d="M2065 3939l15 2l-115-110l-15-6z"/>
<path class=e40 d="M1950 3825l15 6"/>
<path class=c42 d="M1891 3806l14 4l-114-157l-15-9z"/>
<path class=e47 d="M1776 3644l15 9"/>
<path class=c33 d="M2270 4029l15 0l-115-73l-15-3z"/>
<path class=e34 d="M2155 3953l15 3"/>
<path class=c16 d="M863 4468l15 8l-115 95l-15-15z"/>
<path class=e8 d="M748 4556l15 15"/>
<path class=c33 d="M1342 4031l15-28l-115-79l-15 41z"/>
<path class=e34 d="M1227 3965l15-41"/>
<path class=c37 d="M2050 3937l15 2l-115-114l-15-6z"/>
<path class=e40 d="M1935 3819l15 6"/>
<path class=c32 d="M2519 4073l15-4l-115-54l-15 4z"/>
<path class=e32 d="M2404 4019l15-4"/>
<path class=c49 d="M1746 3631l15 6l-115-208l-15-11z"/>
<path class=e57 d="M1631 3418l15 11"/>
<path class=c33 d="M2255 4030l15-1l-115-76l-15-2z"/>
<path class=e35 d="M2140 3951l15 2"/>
<path class=c42 d="M1876 3803l15 3l-115-162l-15-7z"/>
<path class=e48 d="M1761 3637l15 7"/>
<path class=c34 d="M1357 4003l15-29l-115-91l-15 41z"/>
<path class=e36 d="M1242 3924l15-41"/>
<path class=c32 d="M2504 4076l15-3l-115-54l-15 2z"/>
<path class=e32 d="M2389 4021l15-2"/>
<path class=c17 d="M848 4458l15 10l-115 88l-15-17z"/>
<path class=e10 d="M733 4539l15 17"/>
<path class=c37 d="M2035 3936l15 1l-115-118l-15-5z"/>
<path class=e41 d="M1920 3814l15 5"/>
<path class=c33 d="M2240 4030l15 0l-115-79l-15-3z"/>
<path class=e35 d="M2125 3948l15 3"/>
<path class=c49 d="M1731 3627l15 4l-115-213l-15-9z"/>
<path class=e58 d="M1616 3409l15 9"/>
<path class=c32 d="M2489 4079l15-3l-115-55l-14 2z"/>
<path class=e32 d="M2375 4023l14-2"/>
<path class=c42 d="M1861 3800l15 3l-115-166l-15-6z"/>
<path class=e49 d="M1746 3631l15 6"/>
<path class=c36 d="M1372 3974l15-28l-115-103l-15 40z"/>
<path class=e38 d="M1257 3883l15-40"/>
<path class=c37 d="M2020 3935l15 1l-115-122l-15-4z"/>
<path class=e41 d="M1905 3810l15 4"/>
<path class=c34 d="M2225 4031l15-1l-115-82l-15-2z"/>
<path class=e35 d="M2110 3946l15 2"/>
<path class=c32 d="M2474 4082l15-3l-114-56l-15 2z"/>
<path class=e32 d="M2360 4025l15-2"/>
<path class=c18 d="M833 4447l15 11l-115 81l-15-18z"/>
<path class=e11 d="M718 4521l15 18"/>
<path class=c43 d="M1846 3799l15 1l-115-169l-15-4z"/>
<path class=e49 d="M1731 3627l15 4"/>
<path class=c49 d="M1716 3624l15 3l-115-218l-15-7z"/>
<path class=e59 d="M1601 3402l15 7"/>
<path class=c37 d="M1387 3946l15-27l-115-115l-15 39z"/>
<path class=e40 d="M1272 3843l15-39"/>
<path class=c32 d="M2459 4085l15-3l-114-57l-15 1z"/>
<path class=e32 d="M2345 4026l15-1"/>
<path class=c34 d="M2210 4031l15 0l-115-85l-15-3z"/>
<path class=e36 d="M2095 3943l15 3"/>
<path class=c37 d="M2005 3934l15 1l-115-125l-14-4z"/>
<path class=e42 d="M1891 3806l14 4"/>
<path class=c22 d="M1247 4341l15-13l-115 42l-15 19z"/>
<path class=e16 d="M1132 4389l15-19"/>
<path class=c38 d="M1402 3919l15-27l-115-126l-15 38z"/>
<path class=e41 d="M1287 3804l15-38"/>
<path class=c22 d="M1232 4354l15-13l-115 48l-15 18z"/>
<path class=e16 d="M1117 4407l15-18"/>
<path class=c23 d="M1262 4328l15-15l-115 36l-15 21z"/>
<path class=e17 d="M1147 4370l15-21"/>
<path class=c43 d="M1831 3799l15 0l-115-172l-15-3z"/>
<path class=e49 d="M1716 3624l15 3"/>
<path class=c21 d="M1217 4366l15-12l-115 53l-15 17z"/>
<path class=e15 d="M1102 4424l15-17"/>
<path class=c23 d="M1277 4313l15-15l-115 29l-15 22z"/>
<path class=e18 d="M1162 4349l15-22"/>
<path class=c50 d="M1701 3622l15 2l-115-222l-15-4z"/>
<path class=e59 d="M1586 3398l15 4"/>
<path class=c24 d="M1292 4298l15-16l-115 22l-15 23z"/>
<path class=e19 d="M1177 4327l15-23"/>
<path class=c21 d="M1202 4377l15-11l-115 58l-15 15z"/>
<path class=e14 d="M1087 4439l15-15"/>
<path class=c32 d="M2444 4087l15-2l-114-59l-15 1z"/>
<path class=e32 d="M2330 4027l15-1"/>
<path class=c34 d="M2195 4032l15-1l-115-88l-15-2z"/>
<path class=e36 d="M2080 3941l15 2"/>
<path class=c24 d="M1307 4282l15-17l-115 15l-15 24z"/>
<path class=e20 d="M1192 4304l15-24"/>
<path class=c20 d="M1187 4387l15-10l-115 62l-15 13z"/>
<path class=e14 d="M1072 4452l15-13"/>
<path class=c38 d="M1990 3934l15 0l-114-128l-15-3z"/>
<path class=e42 d="M1876 3803l15 3"/>
<path class=c19 d="M818 4436l15 11l-115 74l-15-19z"/>
<path class=e12 d="M703 4502l15 19"/>
<path class=c25 d="M1322 4265l15-18l-115 7l-15 26z"/>
<path class=e21 d="M1207 4280l15-26"/>
<path class=c20 d="M1172 4396l15-9l-115 65l-15 12z"/>
<path class=e14 d="M1057 4464l15-12"/>
<path class=c39 d="M1417 3892l15-26l-115-138l-15 38z"/>
<path class=e43 d="M1302 3766l15-38"/>
<path class=c26 d="M1337 4247l15-18l-115-1l-15 26z"/>
<path class=e22 d="M1222 4254l15-26"/>
<path class=c43 d="M1816 3799l15 0l-115-175l-15-2z"/>
<path class=e50 d="M1701 3622l15 2"/>
<path class=c32 d="M2429 4090l15-3l-114-60l-15 1z"/>
<path class=e32 d="M2315 4028l15-1"/>
<path class=c20 d="M1157 4404l15-8l-115 68l-14 10z"/>
<path class=e13 d="M1043 4474l14-10"/>
<path class=c50 d="M1686 3622l15 0l-115-224l-15-2z"/>
<path class=e59 d="M1571 3396l15 2"/>
<path class=c27 d="M1352 4229l15-18l-115-9l-15 26z"/>
<path class=e24 d="M1237 4228l15-26"/>
<path class=c34 d="M2180 4033l15-1l-115-91l-15-2z"/>
<path class=e36 d="M2065 3939l15 2"/>
<path class=c38 d="M1975 3935l15-1l-114-131l-15-3z"/>
<path class=e42 d="M1861 3800l15 3"/>
<path class=c20 d="M1142 4411l15-7l-114 70l-15 8z"/>
<path class=e13 d="M1028 4482l15-8"/>
<path class=c27 d="M1367 4211l15-19l-115-18l-15 28z"/>
<path class=e25 d="M1252 4202l15-28"/>
<path class=c41 d="M1432 3866l15-25l-115-149l-15 36z"/>
<path class=e45 d="M1317 3728l15-36"/>
<path class=c32 d="M2415 4092l14-2l-114-62l-15 0z"/>
<path class=e33 d="M2300 4028l15 0"/>
<path class=c43 d="M1801 3801l15-2l-115-177l-15 0z"/>
<path class=e50 d="M1686 3622l15 0"/>
<path class=c28 d="M1382 4192l15-19l-115-27l-15 28z"/>
<path class=e26 d="M1267 4174l15-28"/>
<path class=c50 d="M1671 3624l15-2l-115-226l-15 0z"/>
<path class=e60 d="M1556 3396l15 0"/>
<path class=c20 d="M1127 4416l15-5l-114 71l-15 7z"/>
<path class=e13 d="M1013 4489l15-7"/>
<path class=c34 d="M2165 4034l15-1l-115-94l-15-2z"/>
<path class=e37 d="M2050 3937l15 2"/>
<path class=c20 d="M803 4424l15 12l-115 66l-15-20z"/>
<path class=e13 d="M688 4482l15 20"/>
<path class=c42 d="M1447 3841l14-24l-114-159l-15 34z"/>
<path class=e47 d="M1332 3692l15-34"/>
<path class=c29 d="M1397 4173l15-20l-115-35l-15 28z"/>
<path class=e27 d="M1282 4146l15-28"/>
<path class=c38 d="M1960 3935l15 0l-114-135l-15-1z"/>
<path class=e43 d="M1846 3799l15 1"/>
<path class=c32 d="M2400 4095l15-3l-115-64l-15 1z"/>
<path class=e33 d="M2285 4029l15-1"/>
<path class=c20 d="M1112 4421l15-5l-114 73l-15 5z"/>
<path class=e13 d="M998 4494l15-5"/>
<path class=c43 d="M1786 3803l15-2l-115-179l-15 2z"/>
<path class=e50 d="M1671 3624l15-2"/>
<path class=c30 d="M1412 4153l15-19l-115-45l-15 29z"/>
<path class=e29 d="M1297 4118l15-29"/>
<path class=c50 d="M1656 3627l15-3l-115-228l-15 3z"/>
<path class=e60 d="M1541 3399l15-3"/>
<path class=c43 d="M1461 3817l15-24l-114-168l-15 33z"/>
<path class=e49 d="M1347 3658l15-33"/>
<path class=c34 d="M2150 4035l15-1l-115-97l-15-1z"/>
<path class=e37 d="M2035 3936l15 1"/>
<path class=c31 d="M1427 4134l15-20l-115-54l-15 29z"/>
<path class=e30 d="M1312 4089l15-29"/>
<path class=c38 d="M1945 3937l15-2l-114-136l-15 0z"/>
<path class=e43 d="M1831 3799l15 0"/>
<path class=c20 d="M1097 4425l15-4l-114 73l-15 3z"/>
<path class=e13 d="M983 4497l15-3"/>
<path class=c43 d="M1771 3807l15-4l-115-179l-15 3z"/>
<path class=e50 d="M1656 3627l15-3"/>
<path class=c32 d="M2385 4097l15-2l-115-66l-15 0z"/>
<path class=e33 d="M2270 4029l15 0"/>
<path class=c50 d="M1641 3632l15-5l-115-228l-15 5z"/>
<path class=e60 d="M1526 3404l15-5"/>
<path class=c44 d="M1476 3793l15-22l-114-177l-15 31z"/>
<path class=e50 d="M1362 3625l15-31"/>
<path class=c32 d="M1442 4114l15-20l-115-63l-15 29z"/>
<path class=e32 d="M1327 4060l15-29"/>
<path class=c32 d="M1457 4094l15-19l-115-72l-15 28z"/>
<path class=e33 d="M1342 4031l15-28"/>
<path class=c35 d="M2135 4036l15-1l-115-99l-15-1z"/>
<path class=e37 d="M2020 3935l15 1"/>
<path class=c50 d="M1626 3639l15-7l-115-228l-15 8z"/>
<path class=e59 d="M1511 3412l15-8"/>
<path class=c45 d="M1491 3771l15-20l-114-186l-15 29z"/>
<path class=e52 d="M1377 3594l15-29"/>
<path class=c20 d="M1083 4427l14-2l-114 72l-15 1z"/>
<path class=e13 d="M968 4498l15-1"/>
<path class=c38 d="M1931 3939l14-2l-114-138l-15 0z"/>
<path class=e43 d="M1816 3799l15 0"/>
<path class=c20 d="M788 4411l15 13l-115 58l-15-22z"/>
<path class=e15 d="M673 4460l15 22"/>
<path class=c43 d="M1756 3811l15-4l-115-180l-15 5z"/>
<path class=e50 d="M1641 3632l15-5"/>
<path class=c32 d="M2370 4099l15-2l-115-68l-15 1z"/>
<path class=e33 d="M2255 4030l15-1"/>
<path class=c33 d="M1472 4075l15-20l-115-81l-15 29z"/>
<path class=e34 d="M1357 4003l15-29"/>
<path class=c46 d="M1506 3751l15-20l-114-193l-15 27z"/>
<path class=e53 d="M1392 3565l15-27"/>
<path class=c50 d="M1611 3647l15-8l-115-227l-15 11z"/>
<path class=e59 d="M1496 3423l15-11"/>
<path class=c43 d="M1741 3817l15-6l-115-179l-15 7z"/>
<path class=e50 d="M1626 3639l15-7"/>
<path class=c47 d="M1521 3731l15-18l-115-200l-14 25z"/>
<path class=e54 d="M1407 3538l14-25"/>
<path class=c34 d="M1487 4055l14-19l-114-90l-15 28z"/>
<path class=e36 d="M1372 3974l15-28"/>
<path class=c49 d="M1596 3657l15-10l-115-224l-15 13z"/>
<path class=e59 d="M1481 3436l15-13"/>
<path class=c20 d="M1068 4429l15-2l-115 71l-15 0z"/>
<path class=e13 d="M953 4498l15 0"/>
<path class=c38 d="M1916 3941l15-2l-115-140l-15 2z"/>
<path class=e43 d="M1801 3801l15-2"/>
<path class=c35 d="M2120 4038l15-2l-115-101l-15-1z"/>
<path class=e37 d="M2005 3934l15 1"/>
<path class=c47 d="M1536 3713l15-16l-115-207l-15 23z"/>
<path class=e55 d="M1421 3513l15-23"/>
<path class=c49 d="M1581 3669l15-12l-115-221l-15 15z"/>
<path class=e58 d="M1466 3451l15-15"/>
<path class=c32 d="M2355 4102l15-3l-115-69l-15 0z"/>
<path class=e33 d="M2240 4030l15 0"/>
<path class=c48 d="M1551 3697l15-15l-115-213l-15 21z"/>
<path class=e56 d="M1436 3490l15-21"/>
<path class=c49 d="M1566 3682l15-13l-115-218l-15 18z"/>
<path class=e57 d="M1451 3469l15-18"/>
<path class=c32 d="M2634 4127l15-4l-115-54l-15 4z"/>
<path class=e32 d="M2519 4073l15-4"/>
<path class=c35 d="M1501 4036l15-19l-114-98l-15 27z"/>
<path class=e37 d="M1387 3946l15-27"/>
<path class=c43 d="M1726 3824l15-7l-115-178l-15 8z"/>
<path class=e50 d="M1611 3647l15-8"/>
<path class=c36 d="M1516 4017l15-18l-114-107l-15 27z"/>
<path class=e38 d="M1402 3919l15-27"/>
<path class=c39 d="M1901 3945l15-4l-115-140l-15 2z"/>
<path class=e43 d="M1786 3803l15-2"/>
<path class=c43 d="M1711 3832l15-8l-115-177l-15 10z"/>
<path class=e49 d="M1596 3657l15-10"/>
<path class=c35 d="M2105 4039l15-1l-115-104l-15 0z"/>
<path class=e38 d="M1990 3934l15 0"/>
<path class=c20 d="M1053 4429l15 0l-115 69l-15-1z"/>
<path class=e14 d="M938 4497l15 1"/>
<path class=c32 d="M2619 4130l15-3l-115-54l-15 3z"/>
<path class=e32 d="M2504 4076l15-3"/>
<path class=c36 d="M1531 3999l15-18l-114-115l-15 26z"/>
<path class=e39 d="M1417 3892l15-26"/>
<path class=c33 d="M2340 4104l15-2l-115-72l-15 1z"/>
<path class=e34 d="M2225 4031l15-1"/>
<path class=c21 d="M773 4398l15 13l-115 49l-15-22z"/>
<path class=e16 d="M658 4438l15 22"/>
<path class=c43 d="M1696 3841l15-9l-115-175l-15 12z"/>
<path class=e49 d="M1581 3669l15-12"/>
<path class=c37 d="M1546 3981l15-18l-114-122l-15 25z"/>
<path class=e41 d="M1432 3866l15-25"/>
<path class=c42 d="M1681 3851l15-10l-115-172l-15 13z"/>
<path class=e49 d="M1566 3682l15-13"/>
<path class=c39 d="M1886 3948l15-3l-115-142l-15 4z"/>
<path class=e43 d="M1771 3807l15-4"/>
<path class=c38 d="M1561 3963l15-17l-115-129l-14 24z"/>
<path class=e42 d="M1447 3841l14-24"/>
<path class=c32 d="M2604 4134l15-4l-115-54l-15 3z"/>
<path class=e32 d="M2489 4079l15-3"/>
<path class=c42 d="M1666 3862l15-11l-115-169l-15 15z"/>
<path class=e48 d="M1551 3697l15-15"/>
<path class=c39 d="M1576 3946l15-16l-115-137l-15 24z"/>
<path class=e43 d="M1461 3817l15-24"/>
<path class=c35 d="M2090 4041l15-2l-115-105l-15 1z"/>
<path class=e38 d="M1975 3935l15-1"/>
<path class=c39 d="M1591 3930l15-15l-115-144l-15 22z"/>
<path class=e44 d="M1476 3793l15-22"/>
<path class=c41 d="M1651 3874l15-12l-115-165l-15 16z"/>
<path class=e47 d="M1536 3713l15-16"/>
<path class=c20 d="M1038 4429l15 0l-115 68l-15-3z"/>
<path class=e14 d="M923 4494l15 3"/>
<path class=c33 d="M2325 4106l15-2l-115-73l-15 0z"/>
<path class=e34 d="M2210 4031l15 0"/>
<path class=c40 d="M1606 3915l15-15l-115-149l-15 20z"/>
<path class=e45 d="M1491 3771l15-20"/>
<path class=c41 d="M1636 3886l15-12l-115-161l-15 18z"/>
<path class=e47 d="M1521 3731l15-18"/>
<path class=c40 d="M1621 3900l15-14l-115-155l-15 20z"/>
<path class=e46 d="M1506 3751l15-20"/>
<path class=c39 d="M1871 3953l15-5l-115-141l-15 4z"/>
<path class=e43 d="M1756 3811l15-4"/>
<path class=c32 d="M2589 4138l15-4l-115-55l-15 3z"/>
<path class=e32 d="M2474 4082l15-3"/>
<path class=c35 d="M2075 4044l15-3l-115-106l-15 0z"/>
<path class=e38 d="M1960 3935l15 0"/>
<path class=c33 d="M2310 4109l15-3l-115-75l-15 1z"/>
<path class=e34 d="M2195 4032l15-1"/>
<path class=c38 d="M1856 3958l15-5l-115-142l-15 6z"/>
<path class=e43 d="M1741 3817l15-6"/>
<path class=c21 d="M1023 4427l15 2l-115 65l-15-5z"/>
<path class=e14 d="M908 4489l15 5"/>
<path class=c22 d="M758 4384l15 14l-115 40l-15-23z"/>
<path class=e18 d="M643 4415l15 23"/>
<path class=c32 d="M2574 4141l15-3l-115-56l-15 3z"/>
<path class=e32 d="M2459 4085l15-3"/>
<path class=c35 d="M2060 4046l15-2l-115-109l-15 2z"/>
<path class=e38 d="M1945 3937l15-2"/>
<path class=c38 d="M1841 3964l15-6l-115-141l-15 7z"/>
<path class=e43 d="M1726 3824l15-7"/>
<path class=c33 d="M2295 4111l15-2l-115-77l-15 1z"/>
<path class=e34 d="M2180 4033l15-1"/>
<path class=c32 d="M2559 4145l15-4l-115-56l-15 2z"/>
<path class=e32 d="M2444 4087l15-2"/>
<path class=c38 d="M1826 3970l15-6l-115-140l-15 8z"/>
<path class=e43 d="M1711 3832l15-8"/>
<path class=c21 d="M1008 4425l15 2l-115 62l-15-6z"/>
<path class=e15 d="M893 4483l15 6"/>
<path class=c35 d="M2045 4049l15-3l-115-109l-14 2z"/>
<path class=e38 d="M1931 3939l14-2"/>
<path class=c33 d="M2280 4114l15-3l-115-78l-15 1z"/>
<path class=e34 d="M2165 4034l15-1"/>
<path class=c38 d="M1811 3977l15-7l-115-138l-15 9z"/>
<path class=e43 d="M1696 3841l15-9"/>
<path class=c32 d="M2544 4148l15-3l-115-58l-15 3z"/>
<path class=e32 d="M2429 4090l15-3"/>
<path class=c23 d="M743 4370l15 14l-115 31l-15-22z"/>
<path class=e19 d="M628 4393l15 22"/>
<path class=c38 d="M1796 3984l15-7l-115-136l-15 10z"/>
<path class=e42 d="M1681 3851l15-10"/>
<path class=c35 d="M2030 4053l15-4l-114-110l-15 2z"/>
<path class=e38 d="M1916 3941l15-2"/>
<path class=c33 d="M2265 4116l15-2l-115-80l-15 1z"/>
<path class=e34 d="M2150 4035l15-1"/>
<path class=c21 d="M993 4422l15 3l-115 58l-15-7z"/>
<path class=e16 d="M878 4476l15 7"/>
<path class=c38 d="M1781 3993l15-9l-115-133l-15 11z"/>
<path class=e42 d="M1666 3862l15-11"/>
<path class=c32 d="M2529 4152l15-4l-115-58l-14 2z"/>
<path class=e32 d="M2415 4092l14-2"/>
<path class=c37 d="M1766 4001l15-8l-115-131l-15 12z"/>
<path class=e41 d="M1651 3874l15-12"/>
<path class=c35 d="M2015 4056l15-3l-114-112l-15 4z"/>
<path class=e39 d="M1901 3945l15-4"/>
<path class=c33 d="M2250 4119l15-3l-115-81l-15 1z"/>
<path class=e35 d="M2135 4036l15-1"/>
<path class=c37 d="M1751 4011l15-10l-115-127l-15 12z"/>
<path class=e41 d="M1636 3886l15-12"/>
<path class=c32 d="M2514 4155l15-3l-114-60l-15 3z"/>
<path class=e32 d="M2400 4095l15-3"/>
<path class=c37 d="M1736 4021l15-10l-115-125l-15 14z"/>
<path class=e40 d="M1621 3900l15-14"/>
<path class=c35 d="M2000 4060l15-4l-114-111l-15 3z"/>
<path class=e39 d="M1886 3948l15-3"/>
<path class=c22 d="M978 4418l15 4l-115 54l-15-8z"/>
<path class=e16 d="M863 4468l15 8"/>
<path class=c36 d="M1721 4031l15-10l-115-121l-15 15z"/>
<path class=e40 d="M1606 3915l15-15"/>
<path class=c36 d="M1706 4042l15-11l-115-116l-15 15z"/>
<path class=e39 d="M1591 3930l15-15"/>
<path class=c33 d="M2235 4122l15-3l-115-83l-15 2z"/>
<path class=e35 d="M2120 4038l15-2"/>
<path class=c24 d="M728 4357l15 13l-115 23l-14-23z"/>
<path class=e21 d="M614 4370l14 23"/>
<path class=c36 d="M1691 4053l15-11l-115-112l-15 16z"/>
<path class=e39 d="M1576 3946l15-16"/>
<path class=c32 d="M2499 4158l15-3l-114-60l-15 2z"/>
<path class=e32 d="M2385 4097l15-2"/>
<path class=c35 d="M1676 4065l15-12l-115-107l-15 17z"/>
<path class=e38 d="M1561 3963l15-17"/>
<path class=c35 d="M1985 4065l15-5l-114-112l-15 5z"/>
<path class=e39 d="M1871 3953l15-5"/>
<path class=c35 d="M1661 4077l15-12l-115-102l-15 18z"/>
<path class=e37 d="M1546 3981l15-18"/>
<path class=c34 d="M1646 4089l15-12l-115-96l-15 18z"/>
<path class=e36 d="M1531 3999l15-18"/>
<path class=c34 d="M1631 4102l15-13l-115-90l-15 18z"/>
<path class=e36 d="M1516 4017l15-18"/>
<path class=c33 d="M1616 4115l15-13l-115-85l-15 19z"/>
<path class=e35 d="M1501 4036l15-19"/>
<path class=c33 d="M1601 4128l15-13l-115-79l-14 19z"/>
<path class=e34 d="M1487 4055l14-19"/>
<path class=c33 d="M1586 4141l15-13l-114-73l-15 20z"/>
<path class=e33 d="M1472 4075l15-20"/>
<path class=c30 d="M1527 4194l14-13l-114-47l-15 19z"/>
<path class=e30 d="M1412 4153l15-19"/>
<path class=c31 d="M1541 4181l15-13l-114-54l-15 20z"/>
<path class=e31 d="M1427 4134l15-20"/>
<path class=c32 d="M1556 4168l15-14l-114-60l-15 20z"/>
<path class=e32 d="M1442 4114l15-20"/>
<path class=c32 d="M1571 4154l15-13l-114-66l-15 19z"/>
<path class=e32 d="M1457 4094l15-19"/>
<path class=c30 d="M1512 4208l15-14l-115-41l-15 20z"/>
<path class=e29 d="M1397 4173l15-20"/>
<path class=c30 d="M1497 4221l15-13l-115-35l-15 19z"/>
<path class=e28 d="M1382 4192l15-19"/>
<path class=c29 d="M1482 4234l15-13l-115-29l-15 19z"/>
<path class=e27 d="M1367 4211l15-19"/>
<path class=c29 d="M1467 4246l15-12l-115-23l-15 18z"/>
<path class=e27 d="M1352 4229l15-18"/>
<path class=c28 d="M1452 4259l15-13l-115-17l-15 18z"/>
<path class=e26 d="M1337 4247l15-18"/>
<path class=c33 d="M2220 4125l15-3l-115-84l-15 1z"/>
<path class=e35 d="M2105 4039l15-1"/>
<path class=c28 d="M1437 4271l15-12l-115-12l-15 18z"/>
<path class=e25 d="M1322 4265l15-18"/>
<path class=c32 d="M2484 4162l15-4l-114-61l-15 2z"/>
<path class=e32 d="M2370 4099l15-2"/>
<path class=c22 d="M963 4414l15 4l-115 50l-15-10z"/>
<path class=e17 d="M848 4458l15 10"/>
<path class=c27 d="M1422 4282l15-11l-115-6l-15 17z"/>
<path class=e24 d="M1307 4282l15-17"/>
<path class=c35 d="M1971 4069l14-4l-114-112l-15 5z"/>
<path class=e38 d="M1856 3958l15-5"/>
<path class=c27 d="M1407 4294l15-12l-115 0l-15 16z"/>
<path class=e24 d="M1292 4298l15-16"/>
<path class=c27 d="M1392 4304l15-10l-115 4l-15 15z"/>
<path class=e23 d="M1277 4313l15-15"/>
<path class=c26 d="M1377 4315l15-11l-115 9l-15 15z"/>
<path class=e23 d="M1262 4328l15-15"/>
<path class=c33 d="M2205 4128l15-3l-115-86l-15 2z"/>
<path class=e35 d="M2090 4041l15-2"/>
<path class=c35 d="M1956 4074l15-5l-115-111l-15 6z"/>
<path class=e38 d="M1841 3964l15-6"/>
<path class=c32 d="M2469 4165l15-3l-114-63l-15 3z"/>
<path class=e32 d="M2355 4102l15-3"/>
<path class=c26 d="M1362 4325l15-10l-115 13l-15 13z"/>
<path class=e22 d="M1247 4341l15-13"/>
<path class=c25 d="M713 4343l15 14l-114 13l-15-23z"/>
<path class=e22 d="M599 4347l15 23"/>
<path class=c26 d="M1347 4334l15-9l-115 16l-15 13z"/>
<path class=e22 d="M1232 4354l15-13"/>
<path class=c35 d="M1941 4079l15-5l-115-110l-15 6z"/>
<path class=e38 d="M1826 3970l15-6"/>
<path class=c23 d="M948 4409l15 5l-115 44l-15-11z"/>
<path class=e18 d="M833 4447l15 11"/>
<path class=c25 d="M1332 4343l15-9l-115 20l-15 12z"/>
<path class=e21 d="M1217 4366l15-12"/>
<path class=c33 d="M2190 4131l15-3l-115-87l-15 3z"/>
<path class=e35 d="M2075 4044l15-3"/>
<path class=c32 d="M2455 4168l14-3l-114-63l-15 2z"/>
<path class=e33 d="M2340 4104l15-2"/>
<path class=c32 d="M2749 4180l15-4l-115-53l-15 4z"/>
<path class=e32 d="M2634 4127l15-4"/>
<path class=c25 d="M1317 4351l15-8l-115 23l-15 11z"/>
<path class=e21 d="M1202 4377l15-11"/>
<path class=c35 d="M1926 4085l15-6l-115-109l-15 7z"/>
<path class=e38 d="M1811 3977l15-7"/>
<path class=c25 d="M1302 4358l15-7l-115 26l-15 10z"/>
<path class=e20 d="M1187 4387l15-10"/>
<path class=c33 d="M2175 4135l15-4l-115-87l-15 2z"/>
<path class=e35 d="M2060 4046l15-2"/>
<path class=c32 d="M2734 4185l15-5l-115-53l-15 3z"/>
<path class=e32 d="M2619 4130l15-3"/>
<path class=c32 d="M2440 4172l15-4l-115-64l-15 2z"/>
<path class=e33 d="M2325 4106l15-2"/>
<path class=c35 d="M1911 4091l15-6l-115-108l-15 7z"/>
<path class=e38 d="M1796 3984l15-7"/>
<path class=c25 d="M1287 4365l15-7l-115 29l-15 9z"/>
<path class=e20 d="M1172 4396l15-9"/>
<path class=c23 d="M933 4403l15 6l-115 38l-15-11z"/>
<path class=e19 d="M818 4436l15 11"/>
<path class=c32 d="M2719 4188l15-3l-115-55l-15 4z"/>
<path class=e32 d="M2604 4134l15-4"/>
<path class=c33 d="M2160 4138l15-3l-115-89l-15 3z"/>
<path class=e35 d="M2045 4049l15-3"/>
<path class=c35 d="M1896 4098l15-7l-115-107l-15 9z"/>
<path class=e38 d="M1781 3993l15-9"/>
<path class=c26 d="M698 4330l15 13l-114 4l-15-22z"/>
<path class=e24 d="M584 4325l15 22"/>
<path class=c32 d="M2425 4175l15-3l-115-66l-15 3z"/>
<path class=e33 d="M2310 4109l15-3"/>
<path class=c25 d="M1272 4372l15-7l-115 31l-15 8z"/>
<path class=e20 d="M1157 4404l15-8"/>
<path class=c35 d="M1881 4104l15-6l-115-105l-15 8z"/>
<path class=e37 d="M1766 4001l15-8"/>
<path class=c32 d="M2704 4192l15-4l-115-54l-15 4z"/>
<path class=e32 d="M2589 4138l15-4"/>
<path class=c33 d="M2145 4142l15-4l-115-89l-15 4z"/>
<path class=e35 d="M2030 4053l15-4"/>
<path class=c25 d="M1257 4377l15-5l-115 32l-15 7z"/>
<path class=e20 d="M1142 4411l15-7"/>
<path class=c32 d="M2410 4179l15-4l-115-66l-15 2z"/>
<path class=e33 d="M2295 4111l15-2"/>
<path class=c35 d="M1866 4111l15-7l-115-103l-15 10z"/>
<path class=e37 d="M1751 4011l15-10"/>
<path class=c24 d="M918 4397l15 6l-115 33l-15-12z"/>
<path class=e20 d="M803 4424l15 12"/>
<path class=c24 d="M1242 4382l15-5l-115 34l-15 5z"/>
<path class=e20 d="M1127 4416l15-5"/>
<path class=c32 d="M2689 4196l15-4l-115-54l-15 3z"/>
<path class=e32 d="M2574 4141l15-3"/>
<path class=c33 d="M2130 4146l15-4l-115-89l-15 3z"/>
<path class=e35 d="M2015 4056l15-3"/>
<path class=c34 d="M1851 4118l15-7l-115-100l-15 10z"/>
<path class=e37 d="M1736 4021l15-10"/>
<path class=c32 d="M2395 4182l15-3l-115-68l-15 3z"/>
<path class=e33 d="M2280 4114l15-3"/>
<path class=c34 d="M1836 4126l15-8l-115-97l-15 10z"/>
<path class=e36 d="M1721 4031l15-10"/>
<path class=c27 d="M683 4317l15 13l-114-5l-15-21z"/>
<path class=e25 d="M569 4304l15 21"/>
<path class=c24 d="M1227 4387l15-5l-115 34l-15 5z"/>
<path class=e20 d="M1112 4421l15-5"/>
<path class=c32 d="M2674 4200l15-4l-115-55l-15 4z"/>
<path class=e32 d="M2559 4145l15-4"/>
<path class=c33 d="M2115 4150l15-4l-115-90l-15 4z"/>
<path class=e35 d="M2000 4060l15-4"/>
<path class=c34 d="M1821 4134l15-8l-115-95l-15 11z"/>
<path class=e36 d="M1706 4042l15-11"/>
<path class=c32 d="M2380 4186l15-4l-115-68l-15 2z"/>
<path class=e33 d="M2265 4116l15-2"/>
<path class=c25 d="M903 4390l15 7l-115 27l-15-13z"/>
<path class=e20 d="M788 4411l15 13"/>
<path class=c24 d="M1212 4391l15-4l-115 34l-15 4z"/>
<path class=e20 d="M1097 4425l15-4"/>
<path class=c34 d="M1806 4142l15-8l-115-92l-15 11z"/>
<path class=e36 d="M1691 4053l15-11"/>
<path class=c32 d="M2659 4204l15-4l-115-55l-15 3z"/>
<path class=e32 d="M2544 4148l15-3"/>
<path class=c33 d="M2100 4154l15-4l-115-90l-15 5z"/>
<path class=e35 d="M1985 4065l15-5"/>
<path class=c34 d="M1791 4150l15-8l-115-89l-15 12z"/>
<path class=e35 d="M1676 4065l15-12"/>
<path class=c32 d="M2365 4189l15-3l-115-70l-15 3z"/>
<path class=e33 d="M2250 4119l15-3"/>
<path class=c25 d="M1197 4394l15-3l-115 34l-14 2z"/>
<path class=e20 d="M1083 4427l14-2"/>
<path class=c33 d="M1776 4159l15-9l-115-85l-15 12z"/>
<path class=e35 d="M1661 4077l15-12"/>
<path class=c33 d="M2085 4158l15-4l-115-89l-14 4z"/>
<path class=e35 d="M1971 4069l14-4"/>
<path class=c32 d="M2644 4208l15-4l-115-56l-15 4z"/>
<path class=e32 d="M2529 4152l15-4"/>
<path class=c28 d="M668 4305l15 12l-114-13l-15-20z"/>
<path class=e26 d="M554 4284l15 20"/>
<path class=c33 d="M1761 4167l15-8l-115-82l-15 12z"/>
<path class=e34 d="M1646 4089l15-12"/>
<path class=c32 d="M2350 4193l15-4l-115-70l-15 3z"/>
<path class=e33 d="M2235 4122l15-3"/>
<path class=c33 d="M1746 4176l15-9l-115-78l-15 13z"/>
<path class=e34 d="M1631 4102l15-13"/>
<path class=c25 d="M888 4383l15 7l-115 21l-15-13z"/>
<path class=e21 d="M773 4398l15 13"/>
<path class=c33 d="M2070 4163l15-5l-114-89l-15 5z"/>
<path class=e35 d="M1956 4074l15-5"/>
<path class=c25 d="M1182 4396l15-2l-114 33l-15 2z"/>
<path class=e20 d="M1068 4429l15-2"/>
<path class=c32 d="M2629 4212l15-4l-115-56l-15 3z"/>
<path class=e32 d="M2514 4155l15-3"/>
<path class=c33 d="M1731 4185l15-9l-115-74l-15 13z"/>
<path class=e33 d="M1616 4115l15-13"/>
<path class=c32 d="M2335 4196l15-3l-115-71l-15 3z"/>
<path class=e33 d="M2220 4125l15-3"/>
<path class=c32 d="M1716 4194l15-9l-115-70l-15 13z"/>
<path class=e33 d="M1601 4128l15-13"/>
<path class=c33 d="M2055 4168l15-5l-114-89l-15 5z"/>
<path class=e35 d="M1941 4079l15-5"/>
<path class=c32 d="M2614 4216l15-4l-115-57l-15 3z"/>
<path class=e32 d="M2499 4158l15-3"/>
<path class=c25 d="M1167 4398l15-2l-114 33l-15 0z"/>
<path class=e20 d="M1053 4429l15 0"/>
<path class=c32 d="M1701 4203l15-9l-115-66l-15 13z"/>
<path class=e33 d="M1586 4141l15-13"/>
<path class=c32 d="M2320 4200l15-4l-115-71l-15 3z"/>
<path class=e33 d="M2205 4128l15-3"/>
<path class=c32 d="M1686 4212l15-9l-115-62l-15 13z"/>
<path class=e32 d="M1571 4154l15-13"/>
<path class=c33 d="M2040 4173l15-5l-114-89l-15 6z"/>
<path class=e35 d="M1926 4085l15-6"/>
<path class=c29 d="M654 4294l14 11l-114-21l-15-19z"/>
<path class=e27 d="M539 4265l15 19"/>
<path class=c32 d="M1671 4221l15-9l-115-58l-15 14z"/>
<path class=e32 d="M1556 4168l15-14"/>
<path class=c26 d="M873 4376l15 7l-115 15l-15-14z"/>
<path class=e22 d="M758 4384l15 14"/>
<path class=c32 d="M2599 4220l15-4l-115-58l-15 4z"/>
<path class=e32 d="M2484 4162l15-4"/>
<path class=c25 d="M1152 4400l15-2l-114 31l-15 0z"/>
<path class=e20 d="M1038 4429l15 0"/>
<path class=c31 d="M1656 4231l15-10l-115-53l-15 13z"/>
<path class=e31 d="M1541 4181l15-13"/>
<path class=c32 d="M2305 4204l15-4l-115-72l-15 3z"/>
<path class=e33 d="M2190 4131l15-3"/>
<path class=c33 d="M2025 4178l15-5l-114-88l-15 6z"/>
<path class=e35 d="M1911 4091l15-6"/>
<path class=c31 d="M1641 4240l15-9l-115-50l-14 13z"/>
<path class=e30 d="M1527 4194l14-13"/>
<path class=c32 d="M2584 4224l15-4l-115-58l-15 3z"/>
<path class=e32 d="M2469 4165l15-3"/>
<path class=c31 d="M1626 4249l15-9l-114-46l-15 14z"/>
<path class=e30 d="M1512 4208l15-14"/>
<path class=c33 d="M2011 4183l14-5l-114-87l-15 7z"/>
<path class=e35 d="M1896 4098l15-7"/>
<path class=c32 d="M2290 4208l15-4l-115-73l-15 4z"/>
<path class=e33 d="M2175 4135l15-4"/>
<path class=c30 d="M1611 4258l15-9l-114-41l-15 13z"/>
<path class=e30 d="M1497 4221l15-13"/>
<path class=c25 d="M1137 4401l15-1l-114 29l-15-2z"/>
<path class=e21 d="M1023 4427l15 2"/>
<path class=c30 d="M1596 4267l15-9l-114-37l-15 13z"/>
<path class=e29 d="M1482 4234l15-13"/>
<path class=c26 d="M858 4369l15 7l-115 8l-15-14z"/>
<path class=e23 d="M743 4370l15 14"/>
<path class=c32 d="M2569 4227l15-3l-115-59l-14 3z"/>
<path class=e32 d="M2455 4168l14-3"/>
<path class=c30 d="M639 4285l15 9l-115-29l-15-16z"/>
<path class=e29 d="M524 4249l15 16"/>
<path class=c33 d="M1996 4188l15-5l-115-85l-15 6z"/>
<path class=e35 d="M1881 4104l15-6"/>
<path class=c30 d="M1581 4276l15-9l-114-33l-15 12z"/>
<path class=e29 d="M1467 4246l15-12"/>
<path class=c32 d="M2275 4212l15-4l-115-73l-15 3z"/>
<path class=e33 d="M2160 4138l15-3"/>
<path class=c32 d="M2864 4234l15-4l-115-54l-15 4z"/>
<path class=e32 d="M2749 4180l15-4"/>
<path class=c30 d="M1567 4284l14-8l-114-30l-15 13z"/>
<path class=e28 d="M1452 4259l15-13"/>
<path class=c25 d="M1123 4401l14 0l-114 26l-15-2z"/>
<path class=e21 d="M1008 4425l15 2"/>
<path class=c33 d="M1981 4194l15-6l-115-84l-15 7z"/>
<path class=e35 d="M1866 4111l15-7"/>
<path class=c32 d="M2554 4231l15-4l-114-59l-15 4z"/>
<path class=e32 d="M2440 4172l15-4"/>
<path class=c29 d="M1552 4293l15-9l-115-25l-15 12z"/>
<path class=e28 d="M1437 4271l15-12"/>
<path class=c32 d="M2260 4216l15-4l-115-74l-15 4z"/>
<path class=e33 d="M2145 4142l15-4"/>
<path class=c32 d="M2849 4238l15-4l-115-54l-15 5z"/>
<path class=e32 d="M2734 4185l15-5"/>
<path class=c33 d="M1966 4199l15-5l-115-83l-15 7z"/>
<path class=e34 d="M1851 4118l15-7"/>
<path class=c29 d="M1537 4301l15-8l-115-22l-15 11z"/>
<path class=e27 d="M1422 4282l15-11"/>
<path class=c32 d="M2539 4235l15-4l-114-59l-15 3z"/>
<path class=e32 d="M2425 4175l15-3"/>
<path class=c27 d="M843 4362l15 7l-115 1l-15-13z"/>
<path class=e24 d="M728 4357l15 13"/>
<path class=c26 d="M1108 4401l15 0l-115 24l-15-3z"/>
<path class=e21 d="M993 4422l15 3"/>
<path class=c29 d="M1522 4309l15-8l-115-19l-15 12z"/>
<path class=e27 d="M1407 4294l15-12"/>
<path class=c30 d="M624 4276l15 9l-115-36l-15-15z"/>
<path class=e30 d="M509 4234l15 15"/>
<path class=c32 d="M2245 4220l15-4l-115-74l-15 4z"/>
<path class=e33 d="M2130 4146l15-4"/>
<path class=c32 d="M2834 4242l15-4l-115-53l-15 3z"/>
<path class=e32 d="M2719 4188l15-3"/>
<path class=c33 d="M1951 4205l15-6l-115-81l-15 8z"/>
<path class=e34 d="M1836 4126l15-8"/>
<path class=c29 d="M1507 4317l15-8l-115-15l-15 10z"/>
<path class=e27 d="M1392 4304l15-10"/>
<path class=c32 d="M2524 4239l15-4l-114-60l-15 4z"/>
<path class=e32 d="M2410 4179l15-4"/>
<path class=c33 d="M1936 4211l15-6l-115-79l-15 8z"/>
<path class=e34 d="M1821 4134l15-8"/>
<path class=c32 d="M2230 4224l15-4l-115-74l-15 4z"/>
<path class=e33 d="M2115 4150l15-4"/>
<path class=c29 d="M1492 4324l15-7l-115-13l-15 11z"/>
<path class=e26 d="M1377 4315l15-11"/>
<path class=c32 d="M2819 4247l15-5l-115-54l-15 4z"/>
<path class=e32 d="M2704 4192l15-4"/>
<path class=c26 d="M1093 4400l15 1l-115 21l-15-4z"/>
<path class=e22 d="M978 4418l15 4"/>
<path class=c32 d="M2509 4243l15-4l-114-60l-15 3z"/>
<path class=e32 d="M2395 4182l15-3"/>
<path class=c28 d="M1477 4332l15-8l-115-9l-15 10z"/>
<path class=e26 d="M1362 4325l15-10"/>
<path class=c33 d="M1921 4217l15-6l-115-77l-15 8z"/>
<path class=e34 d="M1806 4142l15-8"/>
<path class=c28 d="M828 4355l15 7l-115-5l-15-14z"/>
<path class=e25 d="M713 4343l15 14"/>
<path class=c32 d="M2215 4228l15-4l-115-74l-15 4z"/>
<path class=e33 d="M2100 4154l15-4"/>
<path class=c31 d="M609 4270l15 6l-115-42l-15-11z"/>
<path class=e31 d="M494 4223l15 11"/>
<path class=c32 d="M2804 4251l15-4l-115-55l-15 4z"/>
<path class=e32 d="M2689 4196l15-4"/>
<path class=c28 d="M1462 4339l15-7l-115-7l-15 9z"/>
<path class=e26 d="M1347 4334l15-9"/>
<path class=c33 d="M1906 4223l15-6l-115-75l-15 8z"/>
<path class=e34 d="M1791 4150l15-8"/>
<path class=c32 d="M2494 4247l15-4l-114-61l-15 4z"/>
<path class=e32 d="M2380 4186l15-4"/>
<path class=c26 d="M1078 4399l15 1l-115 18l-15-4z"/>
<path class=e22 d="M963 4414l15 4"/>
<path class=c32 d="M2200 4232l15-4l-115-74l-15 4z"/>
<path class=e33 d="M2085 4158l15-4"/>
<path class=c28 d="M1447 4345l15-6l-115-5l-15 9z"/>
<path class=e25 d="M1332 4343l15-9"/>
<path class=c32 d="M2789 4255l15-4l-115-55l-15 4z"/>
<path class=e32 d="M2674 4200l15-4"/>
<path class=c32 d="M1891 4230l15-7l-115-73l-15 9z"/>
<path class=e33 d="M1776 4159l15-9"/>
<path class=c32 d="M2480 4251l14-4l-114-61l-15 3z"/>
<path class=e32 d="M2365 4189l15-3"/>
<path class=c28 d="M1432 4352l15-7l-115-2l-15 8z"/>
<path class=e25 d="M1317 4351l15-8"/>
<path class=c32 d="M1876 4236l15-6l-115-71l-15 8z"/>
<path class=e33 d="M1761 4167l15-8"/>
<path class=c28 d="M813 4348l15 7l-115-12l-15-13z"/>
<path class=e26 d="M698 4330l15 13"/>
<path class=c32 d="M2185 4236l15-4l-115-74l-15 5z"/>
<path class=e33 d="M2070 4163l15-5"/>
<path class=c31 d="M594 4266l15 4l-115-47l-15-8z"/>
<path class=e31 d="M479 4215l15 8"/>
<path class=c32 d="M2774 4259l15-4l-115-55l-15 4z"/>
<path class=e32 d="M2659 4204l15-4"/>
<path class=c26 d="M1063 4398l15 1l-115 15l-15-5z"/>
<path class=e23 d="M948 4409l15 5"/>
<path class=c28 d="M1417 4358l15-6l-115-1l-15 7z"/>
<path class=e25 d="M1302 4358l15-7"/>
<path class=c32 d="M1861 4242l15-6l-115-69l-15 9z"/>
<path class=e33 d="M1746 4176l15-9"/>
<path class=c32 d="M2465 4255l15-4l-115-62l-15 4z"/>
<path class=e32 d="M2350 4193l15-4"/>
<path class=c32 d="M2170 4241l15-5l-115-73l-15 5z"/>
<path class=e33 d="M2055 4168l15-5"/>
<path class=c32 d="M2759 4263l15-4l-115-55l-15 4z"/>
<path class=e32 d="M2644 4208l15-4"/>
<path class=c28 d="M1402 4363l15-5l-115 0l-15 7z"/>
<path class=e25 d="M1287 4365l15-7"/>
<path class=c32 d="M1846 4249l15-7l-115-66l-15 9z"/>
<path class=e33 d="M1731 4185l15-9"/>
<path class=c32 d="M579 4266l15 0l-115-51l-15-2z"/>
<path class=e32 d="M464 4213l15 2"/>
<path class=c32 d="M2450 4259l15-4l-115-62l-15 3z"/>
<path class=e32 d="M2335 4196l15-3"/>
<path class=c32 d="M2155 4245l15-4l-115-73l-15 5z"/>
<path class=e33 d="M2040 4173l15-5"/>
<path class=c27 d="M1048 4396l15 2l-115 11l-15-6z"/>
<path class=e23 d="M933 4403l15 6"/>
<path class=c32 d="M1831 4255l15-6l-115-64l-15 9z"/>
<path class=e32 d="M1716 4194l15-9"/>
<path class=c29 d="M798 4342l15 6l-115-18l-15-13z"/>
<path class=e27 d="M683 4317l15 13"/>
<path class=c28 d="M1387 4369l15-6l-115 2l-15 7z"/>
<path class=e25 d="M1272 4372l15-7"/>
<path class=c32 d="M2744 4267l15-4l-115-55l-15 4z"/>
<path class=e32 d="M2629 4212l15-4"/>
<path class=c32 d="M1816 4262l15-7l-115-61l-15 9z"/>
<path class=e32 d="M1701 4203l15-9"/>
<path class=c32 d="M2435 4263l15-4l-115-63l-15 4z"/>
<path class=e32 d="M2320 4200l15-4"/>
<path class=c32 d="M2140 4250l15-5l-115-72l-15 5z"/>
<path class=e33 d="M2025 4178l15-5"/>
<path class=c28 d="M1372 4374l15-5l-115 3l-15 5z"/>
<path class=e25 d="M1257 4377l15-5"/>
<path class=c32 d="M2729 4271l15-4l-115-55l-15 4z"/>
<path class=e32 d="M2614 4216l15-4"/>
<path class=c32 d="M1801 4268l15-6l-115-59l-15 9z"/>
<path class=e32 d="M1686 4212l15-9"/>
<path class=c27 d="M1033 4394l15 2l-115 7l-15-6z"/>
<path class=e24 d="M918 4397l15 6"/>
<path class=c32 d="M2420 4267l15-4l-115-63l-15 4z"/>
<path class=e32 d="M2305 4204l15-4"/>
<path class=c32 d="M2125 4254l15-4l-115-72l-14 5z"/>
<path class=e33 d="M2011 4183l14-5"/>
<path class=c28 d="M1357 4378l15-4l-115 3l-15 5z"/>
<path class=e24 d="M1242 4382l15-5"/>
<path class=c32 d="M1786 4275l15-7l-115-56l-15 9z"/>
<path class=e32 d="M1671 4221l15-9"/>
<path class=c29 d="M783 4336l15 6l-115-25l-15-12z"/>
<path class=e28 d="M668 4305l15 12"/>
<path class=c32 d="M2714 4275l15-4l-115-55l-15 4z"/>
<path class=e32 d="M2599 4220l15-4"/>
<path class=c32 d="M2110 4259l15-5l-114-71l-15 5z"/>
<path class=e33 d="M1996 4188l15-5"/>
<path class=c32 d="M2405 4271l15-4l-115-63l-15 4z"/>
<path class=e32 d="M2290 4208l15-4"/>
<path class=c31 d="M1771 4282l15-7l-115-54l-15 10z"/>
<path class=e31 d="M1656 4231l15-10"/>
<path class=c28 d="M1342 4383l15-5l-115 4l-15 5z"/>
<path class=e24 d="M1227 4387l15-5"/>
<path class=c32 d="M2699 4279l15-4l-115-55l-15 4z"/>
<path class=e32 d="M2584 4224l15-4"/>
<path class=c27 d="M1018 4392l15 2l-115 3l-15-7z"/>
<path class=e25 d="M903 4390l15 7"/>
<path class=c31 d="M1756 4288l15-6l-115-51l-15 9z"/>
<path class=e31 d="M1641 4240l15-9"/>
<path class=c32 d="M2095 4264l15-5l-114-71l-15 6z"/>
<path class=e33 d="M1981 4194l15-6"/>
<path class=c32 d="M2390 4275l15-4l-115-63l-15 4z"/>
<path class=e32 d="M2275 4212l15-4"/>
<path class=c28 d="M1327 4386l15-3l-115 4l-15 4z"/>
<path class=e24 d="M1212 4391l15-4"/>
<path class=c30 d="M768 4330l15 6l-115-31l-14-11z"/>
<path class=e29 d="M654 4294l14 11"/>
<path class=c32 d="M2684 4283l15-4l-115-55l-15 3z"/>
<path class=e32 d="M2569 4227l15-3"/>
<path class=c31 d="M1741 4295l15-7l-115-48l-15 9z"/>
<path class=e31 d="M1626 4249l15-9"/>
<path class=c32 d="M2080 4268l15-4l-114-70l-15 5z"/>
<path class=e33 d="M1966 4199l15-5"/>
<path class=c32 d="M2375 4279l15-4l-115-63l-15 4z"/>
<path class=e32 d="M2260 4216l15-4"/>
<path class=c31 d="M1726 4301l15-6l-115-46l-15 9z"/>
<path class=e30 d="M1611 4258l15-9"/>
<path class=c28 d="M1312 4390l15-4l-115 5l-15 3z"/>
<path class=e25 d="M1197 4394l15-3"/>
<path class=c28 d="M1003 4390l15 2l-115-2l-15-7z"/>
<path class=e25 d="M888 4383l15 7"/>
<path class=c32 d="M2978 4288l15-4l-114-54l-15 4z"/>
<path class=e32 d="M2864 4234l15-4"/>
<path class=c32 d="M2669 4287l15-4l-115-56l-15 4z"/>
<path class=e32 d="M2554 4231l15-4"/>
<path class=c32 d="M2065 4273l15-5l-114-69l-15 6z"/>
<path class=e33 d="M1951 4205l15-6"/>
<path class=c31 d="M1711 4308l15-7l-115-43l-15 9z"/>
<path class=e30 d="M1596 4267l15-9"/>
<path class=c32 d="M2360 4283l15-4l-115-63l-15 4z"/>
<path class=e32 d="M2245 4220l15-4"/>
<path class=c28 d="M1297 4393l15-3l-115 4l-15 2z"/>
<path class=e25 d="M1182 4396l15-2"/>
<path class=c32 d="M2964 4292l14-4l-114-54l-15 4z"/>
<path class=e32 d="M2849 4238l15-4"/>
<path class=c30 d="M753 4326l15 4l-114-36l-15-9z"/>
<path class=e30 d="M639 4285l15 9"/>
<path class=c32 d="M2654 4291l15-4l-115-56l-15 4z"/>
<path class=e32 d="M2539 4235l15-4"/>
<path class=c31 d="M1696 4314l15-6l-115-41l-15 9z"/>
<path class=e30 d="M1581 4276l15-9"/>
<path class=c32 d="M2051 4278l14-5l-114-68l-15 6z"/>
<path class=e33 d="M1936 4211l15-6"/>
<path class=c28 d="M988 4387l15 3l-115-7l-15-7z"/>
<path class=e26 d="M873 4376l15 7"/>
<path class=c32 d="M2345 4287l15-4l-115-63l-15 4z"/>
<path class=e32 d="M2230 4224l15-4"/>
<path class=c31 d="M1681 4321l15-7l-115-38l-14 8z"/>
<path class=e30 d="M1567 4284l14-8"/>
<path class=c32 d="M2949 4296l15-4l-115-54l-15 4z"/>
<path class=e32 d="M2834 4242l15-4"/>
<path class=c28 d="M1282 4396l15-3l-115 3l-15 2z"/>
<path class=e25 d="M1167 4398l15-2"/>
<path class=c32 d="M2639 4295l15-4l-115-56l-15 4z"/>
<path class=e32 d="M2524 4239l15-4"/>
<path class=c32 d="M2036 4283l15-5l-115-67l-15 6z"/>
<path class=e33 d="M1921 4217l15-6"/>
<path class=c30 d="M1666 4327l15-6l-114-37l-15 9z"/>
<path class=e29 d="M1552 4293l15-9"/>
<path class=c32 d="M2330 4291l15-4l-115-63l-15 4z"/>
<path class=e32 d="M2215 4228l15-4"/>
<path class=c31 d="M738 4322l15 4l-114-41l-15-9z"/>
<path class=e30 d="M624 4276l15 9"/>
<path class=c32 d="M2934 4300l15-4l-115-54l-15 5z"/>
<path class=e32 d="M2819 4247l15-5"/>
<path class=c32 d="M2021 4288l15-5l-115-66l-15 6z"/>
<path class=e33 d="M1906 4223l15-6"/>
<path class=c32 d="M2624 4299l15-4l-115-56l-15 4z"/>
<path class=e32 d="M2509 4243l15-4"/>
<path class=c28 d="M1267 4399l15-3l-115 2l-15 2z"/>
<path class=e25 d="M1152 4400l15-2"/>
<path class=c28 d="M973 4384l15 3l-115-11l-15-7z"/>
<path class=e26 d="M858 4369l15 7"/>
<path class=c30 d="M1651 4333l15-6l-114-34l-15 8z"/>
<path class=e29 d="M1537 4301l15-8"/>
<path class=c32 d="M2315 4295l15-4l-115-63l-15 4z"/>
<path class=e32 d="M2200 4232l15-4"/>
<path class=c32 d="M2006 4293l15-5l-115-65l-15 7z"/>
<path class=e32 d="M1891 4230l15-7"/>
<path class=c32 d="M2919 4304l15-4l-115-53l-15 4z"/>
<path class=e32 d="M2804 4251l15-4"/>
<path class=c32 d="M2609 4304l15-5l-115-56l-15 4z"/>
<path class=e32 d="M2494 4247l15-4"/>
<path class=c30 d="M1636 4339l15-6l-114-32l-15 8z"/>
<path class=e29 d="M1522 4309l15-8"/>
<path class=c28 d="M1252 4401l15-2l-115 1l-15 1z"/>
<path class=e25 d="M1137 4401l15-1"/>
<path class=c31 d="M723 4319l15 3l-114-46l-15-6z"/>
<path class=e31 d="M609 4270l15 6"/>
<path class=c32 d="M2300 4300l15-5l-115-63l-15 4z"/>
<path class=e32 d="M2185 4236l15-4"/>
<path class=c32 d="M1991 4298l15-5l-115-63l-15 6z"/>
<path class=e32 d="M1876 4236l15-6"/>
<path class=c30 d="M1621 4345l15-6l-114-30l-15 8z"/>
<path class=e29 d="M1507 4317l15-8"/>
<path class=c32 d="M2904 4309l15-5l-115-53l-15 4z"/>
<path class=e32 d="M2789 4255l15-4"/>
<path class=c29 d="M958 4382l15 2l-115-15l-15-7z"/>
<path class=e27 d="M843 4362l15 7"/>
<path class=c32 d="M2594 4308l15-4l-115-57l-14 4z"/>
<path class=e32 d="M2480 4251l14-4"/>
<path class=c28 d="M1237 4403l15-2l-115 0l-14 0z"/>
<path class=e25 d="M1123 4401l14 0"/>
<path class=c32 d="M1976 4303l15-5l-115-62l-15 6z"/>
<path class=e32 d="M1861 4242l15-6"/>
<path class=c32 d="M2285 4304l15-4l-115-64l-15 5z"/>
<path class=e32 d="M2170 4241l15-5"/>
<path class=c30 d="M1607 4351l14-6l-114-28l-15 7z"/>
<path class=e29 d="M1492 4324l15-7"/>
<path class=c32 d="M2889 4313l15-4l-115-54l-15 4z"/>
<path class=e32 d="M2774 4259l15-4"/>
<path class=c32 d="M2579 4312l15-4l-114-57l-15 4z"/>
<path class=e32 d="M2465 4255l15-4"/>
<path class=c31 d="M708 4319l15 0l-114-49l-15-4z"/>
<path class=e31 d="M594 4266l15 4"/>
<path class=c32 d="M1961 4308l15-5l-115-61l-15 7z"/>
<path class=e32 d="M1846 4249l15-7"/>
<path class=c30 d="M1592 4356l15-5l-115-27l-15 8z"/>
<path class=e28 d="M1477 4332l15-8"/>
<path class=c32 d="M2270 4308l15-4l-115-63l-15 4z"/>
<path class=e32 d="M2155 4245l15-4"/>
<path class=c29 d="M943 4379l15 3l-115-20l-15-7z"/>
<path class=e28 d="M828 4355l15 7"/>
<path class=c28 d="M1222 4405l15-2l-114-2l-15 0z"/>
<path class=e26 d="M1108 4401l15 0"/>
<path class=c32 d="M2874 4317l15-4l-115-54l-15 4z"/>
<path class=e32 d="M2759 4263l15-4"/>
<path class=c32 d="M2564 4316l15-4l-114-57l-15 4z"/>
<path class=e32 d="M2450 4259l15-4"/>
<path class=c30 d="M1577 4362l15-6l-115-24l-15 7z"/>
<path class=e28 d="M1462 4339l15-7"/>
<path class=c32 d="M1946 4313l15-5l-115-59l-15 6z"/>
<path class=e32 d="M1831 4255l15-6"/>
<path class=c32 d="M694 4320l14-1l-114-53l-15 0z"/>
<path class=e32 d="M579 4266l15 0"/>
<path class=c32 d="M2255 4312l15-4l-115-63l-15 5z"/>
<path class=e32 d="M2140 4250l15-5"/>
<path class=c32 d="M2859 4321l15-4l-115-54l-15 4z"/>
<path class=e32 d="M2744 4267l15-4"/>
<path class=c28 d="M1207 4407l15-2l-114-4l-15-1z"/>
<path class=e26 d="M1093 4400l15 1"/>
<path class=c32 d="M2549 4320l15-4l-114-57l-15 4z"/>
<path class=e32 d="M2435 4263l15-4"/>
<path class=c30 d="M1562 4367l15-5l-115-23l-15 6z"/>
<path class=e28 d="M1447 4345l15-6"/>
<path class=c32 d="M1931 4318l15-5l-115-58l-15 7z"/>
<path class=e32 d="M1816 4262l15-7"/>
<path class=c30 d="M928 4377l15 2l-115-24l-15-7z"/>
<path class=e28 d="M813 4348l15 7"/>
<path class=c32 d="M2240 4317l15-5l-115-62l-15 4z"/>
<path class=e32 d="M2125 4254l15-4"/>
<path class=c32 d="M2844 4325l15-4l-115-54l-15 4z"/>
<path class=e32 d="M2729 4271l15-4"/>
<path class=c30 d="M1547 4373l15-6l-115-22l-15 7z"/>
<path class=e28 d="M1432 4352l15-7"/>
<path class=c32 d="M1916 4324l15-6l-115-56l-15 6z"/>
<path class=e32 d="M1801 4268l15-6"/>
<path class=c32 d="M2534 4324l15-4l-114-57l-15 4z"/>
<path class=e32 d="M2420 4267l15-4"/>
<path class=c29 d="M1192 4408l15-1l-114-7l-15-1z"/>
<path class=e26 d="M1078 4399l15 1"/>
<path class=c32 d="M2225 4321l15-4l-115-63l-15 5z"/>
<path class=e32 d="M2110 4259l15-5"/>
<path class=c30 d="M1532 4378l15-5l-115-21l-15 6z"/>
<path class=e28 d="M1417 4358l15-6"/>
<path class=c32 d="M1901 4329l15-5l-115-56l-15 7z"/>
<path class=e32 d="M1786 4275l15-7"/>
<path class=c32 d="M2829 4329l15-4l-115-54l-15 4z"/>
<path class=e32 d="M2714 4275l15-4"/>
<path class=c32 d="M2520 4328l14-4l-114-57l-15 4z"/>
<path class=e32 d="M2405 4271l15-4"/>
<path class=c30 d="M913 4375l15 2l-115-29l-15-6z"/>
<path class=e29 d="M798 4342l15 6"/>
<path class=c32 d="M2210 4325l15-4l-115-62l-15 5z"/>
<path class=e32 d="M2095 4264l15-5"/>
<path class=c29 d="M1177 4409l15-1l-114-9l-15-1z"/>
<path class=e26 d="M1063 4398l15 1"/>
<path class=c31 d="M1886 4334l15-5l-115-54l-15 7z"/>
<path class=e31 d="M1771 4282l15-7"/>
<path class=c30 d="M1517 4383l15-5l-115-20l-15 5z"/>
<path class=e28 d="M1402 4363l15-5"/>
<path class=c32 d="M2814 4333l15-4l-115-54l-15 4z"/>
<path class=e32 d="M2699 4279l15-4"/>
<path class=c32 d="M2505 4332l15-4l-115-57l-15 4z"/>
<path class=e32 d="M2390 4275l15-4"/>
<path class=c32 d="M2195 4329l15-4l-115-61l-15 4z"/>
<path class=e32 d="M2080 4268l15-4"/>
<path class=c31 d="M1871 4339l15-5l-115-52l-15 6z"/>
<path class=e31 d="M1756 4288l15-6"/>
<path class=c30 d="M1502 4387l15-4l-115-20l-15 6z"/>
<path class=e28 d="M1387 4369l15-6"/>
<path class=c30 d="M898 4373l15 2l-115-33l-15-6z"/>
<path class=e29 d="M783 4336l15 6"/>
<path class=c32 d="M2799 4337l15-4l-115-54l-15 4z"/>
<path class=e32 d="M2684 4283l15-4"/>
<path class=c29 d="M1163 4410l14-1l-114-11l-15-2z"/>
<path class=e27 d="M1048 4396l15 2"/>
<path class=c32 d="M2490 4336l15-4l-115-57l-15 4z"/>
<path class=e32 d="M2375 4279l15-4"/>
<path class=c32 d="M2180 4334l15-5l-115-61l-15 5z"/>
<path class=e32 d="M2065 4273l15-5"/>
<path class=c31 d="M1856 4344l15-5l-115-51l-15 7z"/>
<path class=e31 d="M1741 4295l15-7"/>
<path class=c30 d="M1487 4392l15-5l-115-18l-15 5z"/>
<path class=e28 d="M1372 4374l15-5"/>
<path class=c32 d="M2784 4342l15-5l-115-54l-15 4z"/>
<path class=e32 d="M2669 4287l15-4"/>
<path class=c32 d="M3093 4342l15-4l-115-54l-15 4z"/>
<path class=e32 d="M2978 4288l15-4"/>
<path class=c32 d="M2475 4340l15-4l-115-57l-15 4z"/>
<path class=e32 d="M2360 4283l15-4"/>
<path class=c31 d="M1841 4349l15-5l-115-49l-15 6z"/>
<path class=e31 d="M1726 4301l15-6"/>
<path class=c32 d="M2165 4338l15-4l-115-61l-14 5z"/>
<path class=e32 d="M2051 4278l14-5"/>
<path class=c29 d="M1148 4411l15-1l-115-14l-15-2z"/>
<path class=e27 d="M1033 4394l15 2"/>
<path class=c31 d="M883 4371l15 2l-115-37l-15-6z"/>
<path class=e30 d="M768 4330l15 6"/>
<path class=c30 d="M1472 4396l15-4l-115-18l-15 4z"/>
<path class=e28 d="M1357 4378l15-4"/>
<path class=c32 d="M2769 4346l15-4l-115-55l-15 4z"/>
<path class=e32 d="M2654 4291l15-4"/>
<path class=c32 d="M3078 4346l15-4l-115-54l-14 4z"/>
<path class=e32 d="M2964 4292l14-4"/>
<path class=c32 d="M2460 4345l15-5l-115-57l-15 4z"/>
<path class=e32 d="M2345 4287l15-4"/>
<path class=c31 d="M1826 4355l15-6l-115-48l-15 7z"/>
<path class=e31 d="M1711 4308l15-7"/>
<path class=c32 d="M2150 4343l15-5l-114-60l-15 5z"/>
<path class=e32 d="M2036 4283l15-5"/>
<path class=c30 d="M1457 4400l15-4l-115-18l-15 5z"/>
<path class=e28 d="M1342 4383l15-5"/>
<path class=c29 d="M1133 4411l15 0l-115-17l-15-2z"/>
<path class=e27 d="M1018 4392l15 2"/>
<path class=c32 d="M2754 4350l15-4l-115-55l-15 4z"/>
<path class=e32 d="M2639 4295l15-4"/>
<path class=c32 d="M3063 4350l15-4l-114-54l-15 4z"/>
<path class=e32 d="M2949 4296l15-4"/>
<path class=c31 d="M868 4370l15 1l-115-41l-15-4z"/>
<path class=e30 d="M753 4326l15 4"/>
<path class=c31 d="M1811 4360l15-5l-115-47l-15 6z"/>
<path class=e31 d="M1696 4314l15-6"/>
<path class=c32 d="M2445 4349l15-4l-115-58l-15 4z"/>
<path class=e32 d="M2330 4291l15-4"/>
<path class=c32 d="M2135 4347l15-4l-114-60l-15 5z"/>
<path class=e32 d="M2021 4288l15-5"/>
<path class=c30 d="M1442 4404l15-4l-115-17l-15 3z"/>
<path class=e28 d="M1327 4386l15-3"/>
<path class=c31 d="M1796 4365l15-5l-115-46l-15 7z"/>
<path class=e31 d="M1681 4321l15-7"/>
<path class=c32 d="M2739 4354l15-4l-115-55l-15 4z"/>
<path class=e32 d="M2624 4299l15-4"/>
<path class=c32 d="M3048 4354l15-4l-114-54l-15 4z"/>
<path class=e32 d="M2934 4300l15-4"/>
<path class=c32 d="M2430 4353l15-4l-115-58l-15 4z"/>
<path class=e32 d="M2315 4295l15-4"/>
<path class=c29 d="M1118 4412l15-1l-115-19l-15-2z"/>
<path class=e28 d="M1003 4390l15 2"/>
<path class=c32 d="M2120 4351l15-4l-114-59l-15 5z"/>
<path class=e32 d="M2006 4293l15-5"/>
<path class=c31 d="M853 4370l15 0l-115-44l-15-4z"/>
<path class=e31 d="M738 4322l15 4"/>
<path class=c30 d="M1427 4408l15-4l-115-18l-15 4z"/>
<path class=e28 d="M1312 4390l15-4"/>
<path class=c31 d="M1781 4370l15-5l-115-44l-15 6z"/>
<path class=e30 d="M1666 4327l15-6"/>
<path class=c32 d="M2724 4358l15-4l-115-55l-15 5z"/>
<path class=e32 d="M2609 4304l15-5"/>
<path class=c32 d="M3033 4358l15-4l-114-54l-15 4z"/>
<path class=e32 d="M2919 4304l15-4"/>
<path class=c32 d="M2415 4357l15-4l-115-58l-15 5z"/>
<path class=e32 d="M2300 4300l15-5"/>
<path class=c32 d="M2105 4356l15-5l-114-58l-15 5z"/>
<path class=e32 d="M1991 4298l15-5"/>
<path class=c30 d="M1412 4412l15-4l-115-18l-15 3z"/>
<path class=e28 d="M1297 4393l15-3"/>
<path class=c30 d="M1103 4412l15 0l-115-22l-15-3z"/>
<path class=e28 d="M988 4387l15 3"/>
<path class=c31 d="M1766 4375l15-5l-115-43l-15 6z"/>
<path class=e30 d="M1651 4333l15-6"/>
<path class=c32 d="M3018 4362l15-4l-114-54l-15 5z"/>
<path class=e32 d="M2904 4309l15-5"/>
<path class=c32 d="M2709 4362l15-4l-115-54l-15 4z"/>
<path class=e32 d="M2594 4308l15-4"/>
<path class=c31 d="M838 4370l15 0l-115-48l-15-3z"/>
<path class=e31 d="M723 4319l15 3"/>
<path class=c32 d="M2400 4361l15-4l-115-57l-15 4z"/>
<path class=e32 d="M2285 4304l15-4"/>
<path class=c32 d="M2091 4360l14-4l-114-58l-15 5z"/>
<path class=e32 d="M1976 4303l15-5"/>
<path class=c31 d="M1751 4380l15-5l-115-42l-15 6z"/>
<path class=e30 d="M1636 4339l15-6"/>
<path class=c30 d="M1397 4416l15-4l-115-19l-15 3z"/>
<path class=e28 d="M1282 4396l15-3"/>
<path class=c32 d="M3004 4366l14-4l-114-53l-15 4z"/>
<path class=e32 d="M2889 4313l15-4"/>
<path class=c32 d="M2694 4366l15-4l-115-54l-15 4z"/>
<path class=e32 d="M2579 4312l15-4"/>
<path class=c30 d="M1088 4413l15-1l-115-25l-15-3z"/>
<path class=e28 d="M973 4384l15 3"/>
<path class=c32 d="M2076 4365l15-5l-115-57l-15 5z"/>
<path class=e32 d="M1961 4308l15-5"/>
<path class=c32 d="M2385 4365l15-4l-115-57l-15 4z"/>
<path class=e32 d="M2270 4308l15-4"/>
<path class=c31 d="M823 4371l15-1l-115-51l-15 0z"/>
<path class=e31 d="M708 4319l15 0"/>
<path class=c31 d="M1736 4384l15-4l-115-41l-15 6z"/>
<path class=e30 d="M1621 4345l15-6"/>
<path class=c30 d="M1382 4419l15-3l-115-20l-15 3z"/>
<path class=e28 d="M1267 4399l15-3"/>
<path class=c32 d="M2989 4371l15-5l-115-53l-15 4z"/>
<path class=e32 d="M2874 4317l15-4"/>
<path class=c32 d="M2679 4370l15-4l-115-54l-15 4z"/>
<path class=e32 d="M2564 4316l15-4"/>
<path class=c32 d="M2061 4369l15-4l-115-57l-15 5z"/>
<path class=e32 d="M1946 4313l15-5"/>
<path class=c32 d="M2370 4369l15-4l-115-57l-15 4z"/>
<path class=e32 d="M2255 4312l15-4"/>
<path class=c31 d="M1721 4389l15-5l-115-39l-14 6z"/>
<path class=e30 d="M1607 4351l14-6"/>
<path class=c30 d="M1073 4413l15 0l-115-29l-15-2z"/>
<path class=e29 d="M958 4382l15 2"/>
<path class=c32 d="M808 4374l15-3l-115-52l-14 1z"/>
<path class=e32 d="M694 4320l14-1"/>
<path class=c30 d="M1367 4422l15-3l-115-20l-15 2z"/>
<path class=e28 d="M1252 4401l15-2"/>
<path class=c32 d="M2974 4375l15-4l-115-54l-15 4z"/>
<path class=e32 d="M2859 4321l15-4"/>
<path class=c32 d="M2664 4374l15-4l-115-54l-15 4z"/>
<path class=e32 d="M2549 4320l15-4"/>
<path class=c32 d="M2046 4374l15-5l-115-56l-15 5z"/>
<path class=e32 d="M1931 4318l15-5"/>
<path class=c32 d="M2355 4374l15-5l-115-57l-15 5z"/>
<path class=e32 d="M2240 4317l15-5"/>
<path class=c31 d="M1706 4394l15-5l-114-38l-15 5z"/>
<path class=e30 d="M1592 4356l15-5"/>
<path class=c30 d="M1058 4414l15-1l-115-31l-15-3z"/>
<path class=e29 d="M943 4379l15 3"/>
<path class=c32 d="M2031 4378l15-4l-115-56l-15 6z"/>
<path class=e32 d="M1916 4324l15-6"/>
<path class=c32 d="M2959 4379l15-4l-115-54l-15 4z"/>
<path class=e32 d="M2844 4325l15-4"/>
<path class=c32 d="M2649 4379l15-5l-115-54l-15 4z"/>
<path class=e32 d="M2534 4324l15-4"/>
<path class=c30 d="M1352 4425l15-3l-115-21l-15 2z"/>
<path class=e28 d="M1237 4403l15-2"/>
<path class=c32 d="M2340 4378l15-4l-115-57l-15 4z"/>
<path class=e32 d="M2225 4321l15-4"/>
<path class=c31 d="M1691 4399l15-5l-114-38l-15 6z"/>
<path class=e30 d="M1577 4362l15-6"/>
<path class=c32 d="M2016 4383l15-5l-115-54l-15 5z"/>
<path class=e32 d="M1901 4329l15-5"/>
<path class=c32 d="M2944 4383l15-4l-115-54l-15 4z"/>
<path class=e32 d="M2829 4329l15-4"/>
<path class=c32 d="M2634 4383l15-4l-115-55l-14 4z"/>
<path class=e32 d="M2520 4328l14-4"/>
<path class=c32 d="M2325 4382l15-4l-115-57l-15 4z"/>
<path class=e32 d="M2210 4325l15-4"/>
<path class=c30 d="M1337 4428l15-3l-115-22l-15 2z"/>
<path class=e28 d="M1222 4405l15-2"/>
<path class=c31 d="M1676 4403l15-4l-114-37l-15 5z"/>
<path class=e30 d="M1562 4367l15-5"/>
<path class=c30 d="M1043 4414l15 0l-115-35l-15-2z"/>
<path class=e30 d="M928 4377l15 2"/>
<path class=c31 d="M2001 4387l15-4l-115-54l-15 5z"/>
<path class=e31 d="M1886 4334l15-5"/>
<path class=c32 d="M2929 4387l15-4l-115-54l-15 4z"/>
<path class=e32 d="M2814 4333l15-4"/>
<path class=c32 d="M2619 4387l15-4l-114-55l-15 4z"/>
<path class=e32 d="M2505 4332l15-4"/>
<path class=c31 d="M1661 4408l15-5l-114-36l-15 6z"/>
<path class=e30 d="M1547 4373l15-6"/>
<path class=c32 d="M2310 4386l15-4l-115-57l-15 4z"/>
<path class=e32 d="M2195 4329l15-4"/>
<path class=c30 d="M1322 4431l15-3l-115-23l-15 2z"/>
<path class=e28 d="M1207 4407l15-2"/>
<path class=c31 d="M1028 4415l15-1l-115-37l-15-2z"/>
<path class=e30 d="M913 4375l15 2"/>
<path class=c31 d="M1986 4391l15-4l-115-53l-15 5z"/>
<path class=e31 d="M1871 4339l15-5"/>
<path class=c32 d="M2914 4391l15-4l-115-54l-15 4z"/>
<path class=e32 d="M2799 4337l15-4"/>
<path class=c32 d="M2604 4391l15-4l-114-55l-15 4z"/>
<path class=e32 d="M2490 4336l15-4"/>
<path class=c31 d="M1647 4412l14-4l-114-35l-15 5z"/>
<path class=e30 d="M1532 4378l15-5"/>
<path class=c32 d="M2295 4390l15-4l-115-57l-15 5z"/>
<path class=e32 d="M2180 4334l15-5"/>
<path class=c30 d="M1307 4434l15-3l-115-24l-15 1z"/>
<path class=e29 d="M1192 4408l15-1"/>
<path class=c31 d="M1971 4396l15-5l-115-52l-15 5z"/>
<path class=e31 d="M1856 4344l15-5"/>
<path class=c31 d="M1632 4417l15-5l-115-34l-15 5z"/>
<path class=e30 d="M1517 4383l15-5"/>
<path class=c32 d="M2899 4395l15-4l-115-54l-15 5z"/>
<path class=e32 d="M2784 4342l15-5"/>
<path class=c32 d="M2589 4395l15-4l-114-55l-15 4z"/>
<path class=e32 d="M2475 4340l15-4"/>
<path class=c32 d="M2280 4394l15-4l-115-56l-15 4z"/>
<path class=e32 d="M2165 4338l15-4"/>
<path class=c31 d="M1013 4416l15-1l-115-40l-15-2z"/>
<path class=e30 d="M898 4373l15 2"/>
<path class=c30 d="M1292 4436l15-2l-115-26l-15 1z"/>
<path class=e29 d="M1177 4409l15-1"/>
<path class=c31 d="M1956 4400l15-4l-115-52l-15 5z"/>
<path class=e31 d="M1841 4349l15-5"/>
<path class=c31 d="M1617 4421l15-4l-115-34l-15 4z"/>
<path class=e30 d="M1502 4387l15-4"/>
<path class=c32 d="M2884 4399l15-4l-115-53l-15 4z"/>
<path class=e32 d="M2769 4346l15-4"/>
<path class=c32 d="M2574 4399l15-4l-114-55l-15 5z"/>
<path class=e32 d="M2460 4345l15-5"/>
<path class=c32 d="M2265 4399l15-5l-115-56l-15 5z"/>
<path class=e32 d="M2150 4343l15-5"/>
<path class=c31 d="M998 4417l15-1l-115-43l-15-2z"/>
<path class=e31 d="M883 4371l15 2"/>
<path class=c31 d="M1941 4405l15-5l-115-51l-15 6z"/>
<path class=e31 d="M1826 4355l15-6"/>
<path class=c30 d="M1277 4439l15-3l-115-27l-14 1z"/>
<path class=e29 d="M1163 4410l14-1"/>
<path class=c31 d="M1602 4426l15-5l-115-34l-15 5z"/>
<path class=e30 d="M1487 4392l15-5"/>
<path class=c32 d="M2869 4404l15-5l-115-53l-15 4z"/>
<path class=e32 d="M2754 4350l15-4"/>
<path class=c32 d="M2560 4403l14-4l-114-54l-15 4z"/>
<path class=e32 d="M2445 4349l15-4"/>
<path class=c32 d="M2250 4403l15-4l-115-56l-15 4z"/>
<path class=e32 d="M2135 4347l15-4"/>
<path class=c31 d="M1926 4409l15-4l-115-50l-15 5z"/>
<path class=e31 d="M1811 4360l15-5"/>
<path class=c31 d="M983 4418l15-1l-115-46l-15-1z"/>
<path class=e31 d="M868 4370l15 1"/>
<path class=c31 d="M1587 4430l15-4l-115-34l-15 4z"/>
<path class=e30 d="M1472 4396l15-4"/>
<path class=c32 d="M2854 4408l15-4l-115-54l-15 4z"/>
<path class=e32 d="M2739 4354l15-4"/>
<path class=c32 d="M2545 4407l15-4l-115-54l-15 4z"/>
<path class=e32 d="M2430 4353l15-4"/>
<path class=c30 d="M1262 4441l15-2l-114-29l-15 1z"/>
<path class=e29 d="M1148 4411l15-1"/>
<path class=c32 d="M2235 4407l15-4l-115-56l-15 4z"/>
<path class=e32 d="M2120 4351l15-4"/>
<path class=c31 d="M1911 4414l15-5l-115-49l-15 5z"/>
<path class=e31 d="M1796 4365l15-5"/>
<path class=c31 d="M1572 4434l15-4l-115-34l-15 4z"/>
<path class=e30 d="M1457 4400l15-4"/>
<path class=c32 d="M2839 4412l15-4l-115-54l-15 4z"/>
<path class=e32 d="M2724 4358l15-4"/>
<path class=c32 d="M2530 4412l15-5l-115-54l-15 4z"/>
<path class=e32 d="M2415 4357l15-4"/>
<path class=c32 d="M2220 4411l15-4l-115-56l-15 5z"/>
<path class=e32 d="M2105 4356l15-5"/>
<path class=c31 d="M968 4420l15-2l-115-48l-15 0z"/>
<path class=e31 d="M853 4370l15 0"/>
<path class=c30 d="M1247 4444l15-3l-114-30l-15 0z"/>
<path class=e29 d="M1133 4411l15 0"/>
<path class=c31 d="M1896 4418l15-4l-115-49l-15 5z"/>
<path class=e31 d="M1781 4370l15-5"/>
<path class=c31 d="M1557 4438l15-4l-115-34l-15 4z"/>
<path class=e30 d="M1442 4404l15-4"/>
<path class=c32 d="M2824 4416l15-4l-115-54l-15 4z"/>
<path class=e32 d="M2709 4362l15-4"/>
<path class=c32 d="M2515 4416l15-4l-115-55l-15 4z"/>
<path class=e32 d="M2400 4361l15-4"/>
<path class=c32 d="M2205 4415l15-4l-115-55l-14 4z"/>
<path class=e32 d="M2091 4360l14-4"/>
<path class=c31 d="M953 4422l15-2l-115-50l-15 0z"/>
<path class=e31 d="M838 4370l15 0"/>
<path class=c30 d="M1232 4446l15-2l-114-33l-15 1z"/>
<path class=e29 d="M1118 4412l15-1"/>
<path class=c31 d="M1881 4422l15-4l-115-48l-15 5z"/>
<path class=e31 d="M1766 4375l15-5"/>
<path class=c31 d="M1542 4442l15-4l-115-34l-15 4z"/>
<path class=e30 d="M1427 4408l15-4"/>
<path class=c32 d="M2809 4420l15-4l-115-54l-15 4z"/>
<path class=e32 d="M2694 4366l15-4"/>
<path class=c32 d="M2500 4420l15-4l-115-55l-15 4z"/>
<path class=e32 d="M2385 4365l15-4"/>
<path class=c32 d="M2190 4419l15-4l-114-55l-15 5z"/>
<path class=e32 d="M2076 4365l15-5"/>
<path class=c31 d="M1866 4427l15-5l-115-47l-15 5z"/>
<path class=e31 d="M1751 4380l15-5"/>
<path class=c31 d="M938 4424l15-2l-115-52l-15 1z"/>
<path class=e31 d="M823 4371l15-1"/>
<path class=c31 d="M1217 4449l15-3l-114-34l-15 0z"/>
<path class=e30 d="M1103 4412l15 0"/>
<path class=c31 d="M1527 4446l15-4l-115-34l-15 4z"/>
<path class=e30 d="M1412 4412l15-4"/>
<path class=c32 d="M2175 4424l15-5l-114-54l-15 4z"/>
<path class=e32 d="M2061 4369l15-4"/>
<path class=c32 d="M2794 4424l15-4l-115-54l-15 4z"/>
<path class=e32 d="M2679 4370l15-4"/>
<path class=c32 d="M2485 4424l15-4l-115-55l-15 4z"/>
<path class=e32 d="M2370 4369l15-4"/>
<path class=c31 d="M1851 4431l15-4l-115-47l-15 4z"/>
<path class=e31 d="M1736 4384l15-4"/>
<path class=c32 d="M923 4427l15-3l-115-53l-15 3z"/>
<path class=e32 d="M808 4374l15-3"/>
<path class=c31 d="M1203 4451l14-2l-114-37l-15 1z"/>
<path class=e30 d="M1088 4413l15-1"/>
<path class=c31 d="M1512 4450l15-4l-115-34l-15 4z"/>
<path class=e30 d="M1397 4416l15-4"/>
<path class=c32 d="M2160 4428l15-4l-114-55l-15 5z"/>
<path class=e32 d="M2046 4374l15-5"/>
<path class=c32 d="M2779 4428l15-4l-115-54l-15 4z"/>
<path class=e32 d="M2664 4374l15-4"/>
<path class=c32 d="M2470 4428l15-4l-115-55l-15 5z"/>
<path class=e32 d="M2355 4374l15-5"/>
<path class=c31 d="M1836 4436l15-5l-115-47l-15 5z"/>
<path class=e31 d="M1721 4389l15-5"/>
<path class=c32 d="M2145 4432l15-4l-114-54l-15 4z"/>
<path class=e32 d="M2031 4378l15-4"/>
<path class=c31 d="M1497 4454l15-4l-115-34l-15 3z"/>
<path class=e30 d="M1382 4419l15-3"/>
<path class=c32 d="M2764 4432l15-4l-115-54l-15 5z"/>
<path class=e32 d="M2649 4379l15-5"/>
<path class=c32 d="M2455 4432l15-4l-115-54l-15 4z"/>
<path class=e32 d="M2340 4378l15-4"/>
<path class=c31 d="M1188 4453l15-2l-115-38l-15 0z"/>
<path class=e30 d="M1073 4413l15 0"/>
<path class=c31 d="M1821 4440l15-4l-115-47l-15 5z"/>
<path class=e31 d="M1706 4394l15-5"/>
<path class=c32 d="M2131 4436l14-4l-114-54l-15 5z"/>
<path class=e32 d="M2016 4383l15-5"/>
<path class=c32 d="M2440 4436l15-4l-115-54l-15 4z"/>
<path class=e32 d="M2325 4382l15-4"/>
<path class=c32 d="M2749 4436l15-4l-115-53l-15 4z"/>
<path class=e32 d="M2634 4383l15-4"/>
<path class=c31 d="M1482 4457l15-3l-115-35l-15 3z"/>
<path class=e30 d="M1367 4422l15-3"/>
<path class=c31 d="M1806 4444l15-4l-115-46l-15 5z"/>
<path class=e31 d="M1691 4399l15-5"/>
<path class=c31 d="M1173 4456l15-3l-115-40l-15 1z"/>
<path class=e30 d="M1058 4414l15-1"/>
<path class=c31 d="M2116 4440l15-4l-115-53l-15 4z"/>
<path class=e31 d="M2001 4387l15-4"/>
<path class=c32 d="M2425 4440l15-4l-115-54l-15 4z"/>
<path class=e32 d="M2310 4386l15-4"/>
<path class=c32 d="M2734 4441l15-5l-115-53l-15 4z"/>
<path class=e32 d="M2619 4387l15-4"/>
<path class=c31 d="M1467 4461l15-4l-115-35l-15 3z"/>
<path class=e30 d="M1352 4425l15-3"/>
<path class=c31 d="M1791 4448l15-4l-115-45l-15 4z"/>
<path class=e31 d="M1676 4403l15-4"/>
<path class=c31 d="M1158 4458l15-2l-115-42l-15 0z"/>
<path class=e30 d="M1043 4414l15 0"/>
<path class=c31 d="M2101 4445l15-5l-115-53l-15 4z"/>
<path class=e31 d="M1986 4391l15-4"/>
<path class=c32 d="M2410 4445l15-5l-115-54l-15 4z"/>
<path class=e32 d="M2295 4390l15-4"/>
<path class=c32 d="M2719 4445l15-4l-115-54l-15 4z"/>
<path class=e32 d="M2604 4391l15-4"/>
<path class=c31 d="M1452 4465l15-4l-115-36l-15 3z"/>
<path class=e30 d="M1337 4428l15-3"/>
<path class=c31 d="M1776 4453l15-5l-115-45l-15 5z"/>
<path class=e31 d="M1661 4408l15-5"/>
<path class=c31 d="M1143 4460l15-2l-115-44l-15 1z"/>
<path class=e31 d="M1028 4415l15-1"/>
<path class=c31 d="M2086 4449l15-4l-115-54l-15 5z"/>
<path class=e31 d="M1971 4396l15-5"/>
<path class=c32 d="M2395 4449l15-4l-115-55l-15 4z"/>
<path class=e32 d="M2280 4394l15-4"/>
<path class=c32 d="M2704 4449l15-4l-115-54l-15 4z"/>
<path class=e32 d="M2589 4395l15-4"/>
<path class=c31 d="M1761 4457l15-4l-115-45l-14 4z"/>
<path class=e31 d="M1647 4412l14-4"/>
<path class=c31 d="M1437 4468l15-3l-115-37l-15 3z"/>
<path class=e30 d="M1322 4431l15-3"/>
<path class=c31 d="M2071 4453l15-4l-115-53l-15 4z"/>
<path class=e31 d="M1956 4400l15-4"/>
<path class=c31 d="M1128 4463l15-3l-115-45l-15 1z"/>
<path class=e31 d="M1013 4416l15-1"/>
<path class=c32 d="M2380 4453l15-4l-115-55l-15 5z"/>
<path class=e32 d="M2265 4399l15-5"/>
<path class=c32 d="M2689 4453l15-4l-115-54l-15 4z"/>
<path class=e32 d="M2574 4399l15-4"/>
<path class=c31 d="M1746 4461l15-4l-114-45l-15 5z"/>
<path class=e31 d="M1632 4417l15-5"/>
<path class=c31 d="M1422 4472l15-4l-115-37l-15 3z"/>
<path class=e30 d="M1307 4434l15-3"/>
<path class=c31 d="M2056 4457l15-4l-115-53l-15 5z"/>
<path class=e31 d="M1941 4405l15-5"/>
<path class=c32 d="M2365 4457l15-4l-115-54l-15 4z"/>
<path class=e32 d="M2250 4403l15-4"/>
<path class=c32 d="M2674 4457l15-4l-115-54l-14 4z"/>
<path class=e32 d="M2560 4403l14-4"/>
<path class=c31 d="M1113 4465l15-2l-115-47l-15 1z"/>
<path class=e31 d="M998 4417l15-1"/>
<path class=c31 d="M1731 4465l15-4l-114-44l-15 4z"/>
<path class=e31 d="M1617 4421l15-4"/>
<path class=c31 d="M1407 4475l15-3l-115-38l-15 2z"/>
<path class=e30 d="M1292 4436l15-2"/>
<path class=c31 d="M2041 4461l15-4l-115-52l-15 4z"/>
<path class=e31 d="M1926 4409l15-4"/>
<path class=c32 d="M2350 4461l15-4l-115-54l-15 4z"/>
<path class=e32 d="M2235 4407l15-4"/>
<path class=c32 d="M2659 4461l15-4l-114-54l-15 4z"/>
<path class=e32 d="M2545 4407l15-4"/>
<path class=c31 d="M1716 4470l15-5l-114-44l-15 5z"/>
<path class=e31 d="M1602 4426l15-5"/>
<path class=c31 d="M1098 4468l15-3l-115-48l-15 1z"/>
<path class=e31 d="M983 4418l15-1"/>
<path class=c31 d="M1392 4479l15-4l-115-39l-15 3z"/>
<path class=e30 d="M1277 4439l15-3"/>
<path class=c31 d="M2026 4466l15-5l-115-52l-15 5z"/>
<path class=e31 d="M1911 4414l15-5"/>
<path class=c32 d="M2335 4465l15-4l-115-54l-15 4z"/>
<path class=e32 d="M2220 4411l15-4"/>
<path class=c32 d="M2644 4465l15-4l-114-54l-15 5z"/>
<path class=e32 d="M2530 4412l15-5"/>
<path class=c31 d="M1701 4474l15-4l-114-44l-15 4z"/>
<path class=e31 d="M1587 4430l15-4"/>
<path class=c31 d="M1083 4471l15-3l-115-50l-15 2z"/>
<path class=e31 d="M968 4420l15-2"/>
<path class=c31 d="M1377 4482l15-3l-115-40l-15 2z"/>
<path class=e30 d="M1262 4441l15-2"/>
<path class=c31 d="M2011 4470l15-4l-115-52l-15 4z"/>
<path class=e31 d="M1896 4418l15-4"/>
<path class=c32 d="M2320 4469l15-4l-115-54l-15 4z"/>
<path class=e32 d="M2205 4415l15-4"/>
<path class=c32 d="M2629 4469l15-4l-114-53l-15 4z"/>
<path class=e32 d="M2515 4416l15-4"/>
<path class=c31 d="M1687 4478l14-4l-114-44l-15 4z"/>
<path class=e31 d="M1572 4434l15-4"/>
<path class=c31 d="M1068 4474l15-3l-115-51l-15 2z"/>
<path class=e31 d="M953 4422l15-2"/>
<path class=c31 d="M1362 4486l15-4l-115-41l-15 3z"/>
<path class=e30 d="M1247 4444l15-3"/>
<path class=c31 d="M1996 4474l15-4l-115-52l-15 4z"/>
<path class=e31 d="M1881 4422l15-4"/>
<path class=c32 d="M2305 4473l15-4l-115-54l-15 4z"/>
<path class=e32 d="M2190 4419l15-4"/>
<path class=c32 d="M2614 4474l15-5l-114-53l-15 4z"/>
<path class=e32 d="M2500 4420l15-4"/>
<path class=c31 d="M1672 4482l15-4l-115-44l-15 4z"/>
<path class=e31 d="M1557 4438l15-4"/>
<path class=c31 d="M1053 4477l15-3l-115-52l-15 2z"/>
<path class=e31 d="M938 4424l15-2"/>
<path class=c31 d="M1347 4489l15-3l-115-42l-15 2z"/>
<path class=e30 d="M1232 4446l15-2"/>
<path class=c31 d="M1981 4478l15-4l-115-52l-15 5z"/>
<path class=e31 d="M1866 4427l15-5"/>
<path class=c32 d="M2290 4478l15-5l-115-54l-15 5z"/>
<path class=e32 d="M2175 4424l15-5"/>
<path class=c32 d="M2600 4478l14-4l-114-54l-15 4z"/>
<path class=e32 d="M2485 4424l15-4"/>
<path class=c31 d="M1657 4486l15-4l-115-44l-15 4z"/>
<path class=e31 d="M1542 4442l15-4"/>
<path class=c31 d="M1966 4482l15-4l-115-51l-15 4z"/>
<path class=e31 d="M1851 4431l15-4"/>
<path class=c32 d="M1038 4481l15-4l-115-53l-15 3z"/>
<path class=e32 d="M923 4427l15-3"/>
<path class=c31 d="M1332 4492l15-3l-115-43l-15 3z"/>
<path class=e31 d="M1217 4449l15-3"/>
<path class=c32 d="M2275 4482l15-4l-115-54l-15 4z"/>
<path class=e32 d="M2160 4428l15-4"/>
<path class=c32 d="M2585 4482l15-4l-115-54l-15 4z"/>
<path class=e32 d="M2470 4428l15-4"/>
<path class=c31 d="M1642 4490l15-4l-115-44l-15 4z"/>
<path class=e31 d="M1527 4446l15-4"/>
<path class=c31 d="M1951 4486l15-4l-115-51l-15 5z"/>
<path class=e31 d="M1836 4436l15-5"/>
<path class=c31 d="M1317 4496l15-4l-115-43l-14 2z"/>
<path class=e31 d="M1203 4451l14-2"/>
<path class=c32 d="M2260 4486l15-4l-115-54l-15 4z"/>
<path class=e32 d="M2145 4432l15-4"/>
<path class=c32 d="M2570 4486l15-4l-115-54l-15 4z"/>
<path class=e32 d="M2455 4432l15-4"/>
<path class=c31 d="M1627 4494l15-4l-115-44l-15 4z"/>
<path class=e31 d="M1512 4450l15-4"/>
<path class=c31 d="M1936 4491l15-5l-115-50l-15 4z"/>
<path class=e31 d="M1821 4440l15-4"/>
<path class=c32 d="M2245 4490l15-4l-115-54l-14 4z"/>
<path class=e32 d="M2131 4436l14-4"/>
<path class=c32 d="M2555 4490l15-4l-115-54l-15 4z"/>
<path class=e32 d="M2440 4436l15-4"/>
<path class=c31 d="M1302 4499l15-3l-114-45l-15 2z"/>
<path class=e31 d="M1188 4453l15-2"/>
<path class=c31 d="M1612 4498l15-4l-115-44l-15 4z"/>
<path class=e31 d="M1497 4454l15-4"/>
<path class=c31 d="M1921 4495l15-4l-115-51l-15 4z"/>
<path class=e31 d="M1806 4444l15-4"/>
<path class=c31 d="M2230 4494l15-4l-114-54l-15 4z"/>
<path class=e31 d="M2116 4440l15-4"/>
<path class=c32 d="M2540 4494l15-4l-115-54l-15 4z"/>
<path class=e32 d="M2425 4440l15-4"/>
<path class=c31 d="M1287 4503l15-4l-114-46l-15 3z"/>
<path class=e31 d="M1173 4456l15-3"/>
<path class=c31 d="M1597 4502l15-4l-115-44l-15 3z"/>
<path class=e31 d="M1482 4457l15-3"/>
<path class=c31 d="M1906 4499l15-4l-115-51l-15 4z"/>
<path class=e31 d="M1791 4448l15-4"/>
<path class=c31 d="M2215 4498l15-4l-114-54l-15 5z"/>
<path class=e31 d="M2101 4445l15-5"/>
<path class=c32 d="M2525 4498l15-4l-115-54l-15 5z"/>
<path class=e32 d="M2410 4445l15-5"/>
<path class=c31 d="M1582 4506l15-4l-115-45l-15 4z"/>
<path class=e31 d="M1467 4461l15-4"/>
<path class=c31 d="M1272 4506l15-3l-114-47l-15 2z"/>
<path class=e31 d="M1158 4458l15-2"/>
<path class=c31 d="M1891 4503l15-4l-115-51l-15 5z"/>
<path class=e31 d="M1776 4453l15-5"/>
<path class=c31 d="M2200 4502l15-4l-114-53l-15 4z"/>
<path class=e31 d="M2086 4449l15-4"/>
<path class=c32 d="M2510 4502l15-4l-115-53l-15 4z"/>
<path class=e32 d="M2395 4449l15-4"/>
<path class=c31 d="M1567 4510l15-4l-115-45l-15 4z"/>
<path class=e31 d="M1452 4465l15-4"/>
<path class=c31 d="M1257 4509l15-3l-114-48l-15 2z"/>
<path class=e31 d="M1143 4460l15-2"/>
<path class=c31 d="M1876 4507l15-4l-115-50l-15 4z"/>
<path class=e31 d="M1761 4457l15-4"/>
<path class=c31 d="M2185 4506l15-4l-114-53l-15 4z"/>
<path class=e31 d="M2071 4453l15-4"/>
<path class=c32 d="M2495 4507l15-5l-115-53l-15 4z"/>
<path class=e32 d="M2380 4453l15-4"/>
<path class=c31 d="M1552 4514l15-4l-115-45l-15 3z"/>
<path class=e31 d="M1437 4468l15-3"/>
<path class=c31 d="M1243 4513l14-4l-114-49l-15 3z"/>
<path class=e31 d="M1128 4463l15-3"/>
<path class=c31 d="M1861 4511l15-4l-115-50l-15 4z"/>
<path class=e31 d="M1746 4461l15-4"/>
<path class=c31 d="M2171 4511l14-5l-114-53l-15 4z"/>
<path class=e31 d="M2056 4457l15-4"/>
<path class=c32 d="M2480 4511l15-4l-115-54l-15 4z"/>
<path class=e32 d="M2365 4457l15-4"/>
<path class=c31 d="M1537 4518l15-4l-115-46l-15 4z"/>
<path class=e31 d="M1422 4472l15-4"/>
<path class=c31 d="M1228 4516l15-3l-115-50l-15 2z"/>
<path class=e31 d="M1113 4465l15-2"/>
<path class=c31 d="M1846 4515l15-4l-115-50l-15 4z"/>
<path class=e31 d="M1731 4465l15-4"/>
<path class=c31 d="M2156 4515l15-4l-115-54l-15 4z"/>
<path class=e31 d="M2041 4461l15-4"/>
<path class=c32 d="M2465 4515l15-4l-115-54l-15 4z"/>
<path class=e32 d="M2350 4461l15-4"/>
<path class=c31 d="M1522 4522l15-4l-115-46l-15 3z"/>
<path class=e31 d="M1407 4475l15-3"/>
<path class=c31 d="M1213 4520l15-4l-115-51l-15 3z"/>
<path class=e31 d="M1098 4468l15-3"/>
<path class=c31 d="M1831 4520l15-5l-115-50l-15 5z"/>
<path class=e31 d="M1716 4470l15-5"/>
<path class=c31 d="M2141 4519l15-4l-115-54l-15 5z"/>
<path class=e31 d="M2026 4466l15-5"/>
<path class=c32 d="M2450 4519l15-4l-115-54l-15 4z"/>
<path class=e32 d="M2335 4465l15-4"/>
<path class=c31 d="M1507 4526l15-4l-115-47l-15 4z"/>
<path class=e31 d="M1392 4479l15-4"/>
<path class=c31 d="M1198 4523l15-3l-115-52l-15 3z"/>
<path class=e31 d="M1083 4471l15-3"/>
<path class=c31 d="M1816 4524l15-4l-115-50l-15 4z"/>
<path class=e31 d="M1701 4474l15-4"/>
<path class=c31 d="M2126 4523l15-4l-115-53l-15 4z"/>
<path class=e31 d="M2011 4470l15-4"/>
<path class=c32 d="M2435 4523l15-4l-115-54l-15 4z"/>
<path class=e32 d="M2320 4469l15-4"/>
<path class=c31 d="M1492 4530l15-4l-115-47l-15 3z"/>
<path class=e31 d="M1377 4482l15-3"/>
<path class=c31 d="M1801 4528l15-4l-115-50l-14 4z"/>
<path class=e31 d="M1687 4478l14-4"/>
<path class=c31 d="M1183 4527l15-4l-115-52l-15 3z"/>
<path class=e31 d="M1068 4474l15-3"/>
<path class=c31 d="M2111 4527l15-4l-115-53l-15 4z"/>
<path class=e31 d="M1996 4474l15-4"/>
<path class=c32 d="M2420 4527l15-4l-115-54l-15 4z"/>
<path class=e32 d="M2305 4473l15-4"/>
<path class=c31 d="M1477 4534l15-4l-115-48l-15 4z"/>
<path class=e31 d="M1362 4486l15-4"/>
<path class=c31 d="M1786 4532l15-4l-114-50l-15 4z"/>
<path class=e31 d="M1672 4482l15-4"/>
<path class=c31 d="M1168 4531l15-4l-115-53l-15 3z"/>
<path class=e31 d="M1053 4477l15-3"/>
<path class=c31 d="M2096 4531l15-4l-115-53l-15 4z"/>
<path class=e31 d="M1981 4478l15-4"/>
<path class=c32 d="M2405 4531l15-4l-115-54l-15 5z"/>
<path class=e32 d="M2290 4478l15-5"/>
<path class=c31 d="M1462 4538l15-4l-115-48l-15 3z"/>
<path class=e31 d="M1347 4489l15-3"/>
<path class=c31 d="M1771 4536l15-4l-114-50l-15 4z"/>
<path class=e31 d="M1657 4486l15-4"/>
<path class=c32 d="M1153 4535l15-4l-115-54l-15 4z"/>
<path class=e32 d="M1038 4481l15-4"/>
<path class=c31 d="M2081 4535l15-4l-115-53l-15 4z"/>
<path class=e31 d="M1966 4482l15-4"/>
<path class=c32 d="M2390 4535l15-4l-115-53l-15 4z"/>
<path class=e32 d="M2275 4482l15-4"/>
<path class=c31 d="M1447 4541l15-3l-115-49l-15 3z"/>
<path class=e31 d="M1332 4492l15-3"/>
<path class=c31 d="M1756 4540l15-4l-114-50l-15 4z"/>
<path class=e31 d="M1642 4490l15-4"/>
<path class=c31 d="M2066 4539l15-4l-115-53l-15 4z"/>
<path class=e31 d="M1951 4486l15-4"/>
<path class=c32 d="M2375 4540l15-5l-115-53l-15 4z"/>
<path class=e32 d="M2260 4486l15-4"/>
<path class=c31 d="M1432 4545l15-4l-115-49l-15 4z"/>
<path class=e31 d="M1317 4496l15-4"/>
<path class=c31 d="M1741 4544l15-4l-114-50l-15 4z"/>
<path class=e31 d="M1627 4494l15-4"/>
<path class=c31 d="M2051 4544l15-5l-115-53l-15 5z"/>
<path class=e31 d="M1936 4491l15-5"/>
<path class=c32 d="M2360 4544l15-4l-115-54l-15 4z"/>
<path class=e32 d="M2245 4490l15-4"/>
<path class=c31 d="M1417 4549l15-4l-115-49l-15 3z"/>
<path class=e31 d="M1302 4499l15-3"/>
<path class=c31 d="M1727 4548l14-4l-114-50l-15 4z"/>
<path class=e31 d="M1612 4498l15-4"/>
<path class=c31 d="M2036 4548l15-4l-115-53l-15 4z"/>
<path class=e31 d="M1921 4495l15-4"/>
<path class=c32 d="M2345 4548l15-4l-115-54l-15 4z"/>
<path class=e31 d="M2230 4494l15-4"/>
<path class=c31 d="M1402 4553l15-4l-115-50l-15 4z"/>
<path class=e31 d="M1287 4503l15-4"/>
<path class=c31 d="M1712 4552l15-4l-115-50l-15 4z"/>
<path class=e31 d="M1597 4502l15-4"/>
<path class=c31 d="M2021 4552l15-4l-115-53l-15 4z"/>
<path class=e31 d="M1906 4499l15-4"/>
<path class=c32 d="M2330 4552l15-4l-115-54l-15 4z"/>
<path class=e31 d="M2215 4498l15-4"/>
<path class=c31 d="M1387 4557l15-4l-115-50l-15 3z"/>
<path class=e31 d="M1272 4506l15-3"/>
<path class=c31 d="M1697 4557l15-5l-115-50l-15 4z"/>
<path class=e31 d="M1582 4506l15-4"/>
<path class=c31 d="M2006 4556l15-4l-115-53l-15 4z"/>
<path class=e31 d="M1891 4503l15-4"/>
<path class=c32 d="M2315 4556l15-4l-115-54l-15 4z"/>
<path class=e31 d="M2200 4502l15-4"/>
<path class=c31 d="M1372 4561l15-4l-115-51l-15 3z"/>
<path class=e31 d="M1257 4509l15-3"/>
<path class=c31 d="M1682 4561l15-4l-115-51l-15 4z"/>
<path class=e31 d="M1567 4510l15-4"/>
<path class=c31 d="M1991 4560l15-4l-115-53l-15 4z"/>
<path class=e31 d="M1876 4507l15-4"/>
<path class=c32 d="M2300 4560l15-4l-115-54l-15 4z"/>
<path class=e31 d="M2185 4506l15-4"/>
<path class=c31 d="M1357 4565l15-4l-115-52l-14 4z"/>
<path class=e31 d="M1243 4513l14-4"/>
<path class=c31 d="M1667 4565l15-4l-115-51l-15 4z"/>
<path class=e31 d="M1552 4514l15-4"/>
<path class=c31 d="M1976 4564l15-4l-115-53l-15 4z"/>
<path class=e31 d="M1861 4511l15-4"/>
<path class=c32 d="M2285 4564l15-4l-115-54l-14 5z"/>
<path class=e31 d="M2171 4511l14-5"/>
<path class=c31 d="M1652 4569l15-4l-115-51l-15 4z"/>
<path class=e31 d="M1537 4518l15-4"/>
<path class=c31 d="M1342 4569l15-4l-114-52l-15 3z"/>
<path class=e31 d="M1228 4516l15-3"/>
<path class=c31 d="M1961 4568l15-4l-115-53l-15 4z"/>
<path class=e31 d="M1846 4515l15-4"/>
<path class=c32 d="M2270 4568l15-4l-114-53l-15 4z"/>
<path class=e31 d="M2156 4515l15-4"/>
<path class=c31 d="M1637 4573l15-4l-115-51l-15 4z"/>
<path class=e31 d="M1522 4522l15-4"/>
<path class=c31 d="M1327 4573l15-4l-114-53l-15 4z"/>
<path class=e31 d="M1213 4520l15-4"/>
<path class=c31 d="M1946 4572l15-4l-115-53l-15 5z"/>
<path class=e31 d="M1831 4520l15-5"/>
<path class=c32 d="M2255 4572l15-4l-114-53l-15 4z"/>
<path class=e31 d="M2141 4519l15-4"/>
<path class=c31 d="M1622 4577l15-4l-115-51l-15 4z"/>
<path class=e31 d="M1507 4526l15-4"/>
<path class=c31 d="M1312 4577l15-4l-114-53l-15 3z"/>
<path class=e31 d="M1198 4523l15-3"/>
<path class=c31 d="M1931 4577l15-5l-115-52l-15 4z"/>
<path class=e31 d="M1816 4524l15-4"/>
<path class=c32 d="M2240 4577l15-5l-114-53l-15 4z"/>
<path class=e31 d="M2126 4523l15-4"/>
<path class=c31 d="M1607 4581l15-4l-115-51l-15 4z"/>
<path class=e31 d="M1492 4530l15-4"/>
<path class=c31 d="M1297 4580l15-3l-114-54l-15 4z"/>
<path class=e31 d="M1183 4527l15-4"/>
<path class=c31 d="M1916 4581l15-4l-115-53l-15 4z"/>
<path class=e31 d="M1801 4528l15-4"/>
<path class=c32 d="M2225 4581l15-4l-114-54l-15 4z"/>
<path class=e31 d="M2111 4527l15-4"/>
<path class=c31 d="M1592 4585l15-4l-115-51l-15 4z"/>
<path class=e31 d="M1477 4534l15-4"/>
<path class=c31 d="M1283 4585l14-5l-114-53l-15 4z"/>
<path class=e31 d="M1168 4531l15-4"/>
<path class=c31 d="M1901 4585l15-4l-115-53l-15 4z"/>
<path class=e31 d="M1786 4532l15-4"/>
<path class=c32 d="M2211 4585l14-4l-114-54l-15 4z"/>
<path class=e31 d="M2096 4531l15-4"/>
<path class=c31 d="M1577 4589l15-4l-115-51l-15 4z"/>
<path class=e31 d="M1462 4538l15-4"/>
<path class=c32 d="M1268 4589l15-4l-115-54l-15 4z"/>
<path class=e32 d="M1153 4535l15-4"/>
<path class=c31 d="M1886 4589l15-4l-115-53l-15 4z"/>
<path class=e31 d="M1771 4536l15-4"/>
<path class=c32 d="M2196 4589l15-4l-115-54l-15 4z"/>
<path class=e31 d="M2081 4535l15-4"/>
<path class=c31 d="M1562 4593l15-4l-115-51l-15 3z"/>
<path class=e31 d="M1447 4541l15-3"/>
<path class=c31 d="M1871 4593l15-4l-115-53l-15 4z"/>
<path class=e31 d="M1756 4540l15-4"/>
<path class=c32 d="M2181 4593l15-4l-115-54l-15 4z"/>
<path class=e31 d="M2066 4539l15-4"/>
<path class=c31 d="M1547 4597l15-4l-115-52l-15 4z"/>
<path class=e31 d="M1432 4545l15-4"/>
<path class=c31 d="M1856 4597l15-4l-115-53l-15 4z"/>
<path class=e31 d="M1741 4544l15-4"/>
<path class=c32 d="M2166 4597l15-4l-115-54l-15 5z"/>
<path class=e31 d="M2051 4544l15-5"/>
<path class=c31 d="M1532 4601l15-4l-115-52l-15 4z"/>
<path class=e31 d="M1417 4549l15-4"/>
<path class=c31 d="M1841 4601l15-4l-115-53l-14 4z"/>
<path class=e31 d="M1727 4548l14-4"/>
<path class=c32 d="M2151 4601l15-4l-115-53l-15 4z"/>
<path class=e31 d="M2036 4548l15-4"/>
<path class=c31 d="M1517 4606l15-5l-115-52l-15 4z"/>
<path class=e31 d="M1402 4553l15-4"/>
<path class=c31 d="M1826 4605l15-4l-114-53l-15 4z"/>
<path class=e31 d="M1712 4552l15-4"/>
<path class=c32 d="M2136 4605l15-4l-115-53l-15 4z"/>
<path class=e31 d="M2021 4552l15-4"/>
<path class=c31 d="M1502 4610l15-4l-115-53l-15 4z"/>
<path class=e31 d="M1387 4557l15-4"/>
<path class=c31 d="M1811 4609l15-4l-114-53l-15 5z"/>
<path class=e31 d="M1697 4557l15-5"/>
<path class=c32 d="M2121 4610l15-5l-115-53l-15 4z"/>
<path class=e31 d="M2006 4556l15-4"/>
<path class=c31 d="M1487 4614l15-4l-115-53l-15 4z"/>
<path class=e31 d="M1372 4561l15-4"/>
<path class=c31 d="M1796 4614l15-5l-114-52l-15 4z"/>
<path class=e31 d="M1682 4561l15-4"/>
<path class=c32 d="M2106 4614l15-4l-115-54l-15 4z"/>
<path class=e31 d="M1991 4560l15-4"/>
<path class=c31 d="M1472 4618l15-4l-115-53l-15 4z"/>
<path class=e31 d="M1357 4565l15-4"/>
<path class=c31 d="M1781 4618l15-4l-114-53l-15 4z"/>
<path class=e31 d="M1667 4565l15-4"/>
<path class=c32 d="M2091 4618l15-4l-115-54l-15 4z"/>
<path class=e31 d="M1976 4564l15-4"/>
<path class=c31 d="M1457 4622l15-4l-115-53l-15 4z"/>
<path class=e31 d="M1342 4569l15-4"/>
<path class=c31 d="M1767 4622l14-4l-114-53l-15 4z"/>
<path class=e31 d="M1652 4569l15-4"/>
<path class=c32 d="M2076 4622l15-4l-115-54l-15 4z"/>
<path class=e31 d="M1961 4568l15-4"/>
<path class=c31 d="M1442 4626l15-4l-115-53l-15 4z"/>
<path class=e31 d="M1327 4573l15-4"/>
<path class=c31 d="M1752 4626l15-4l-115-53l-15 4z"/>
<path class=e31 d="M1637 4573l15-4"/>
<path class=c32 d="M2061 4626l15-4l-115-54l-15 4z"/>
<path class=e31 d="M1946 4572l15-4"/>
<path class=c31 d="M1427 4630l15-4l-115-53l-15 4z"/>
<path class=e31 d="M1312 4577l15-4"/>
<path class=c31 d="M1737 4630l15-4l-115-53l-15 4z"/>
<path class=e31 d="M1622 4577l15-4"/>
<path class=c32 d="M2046 4630l15-4l-115-54l-15 5z"/>
<path class=e31 d="M1931 4577l15-5"/>
<path class=c31 d="M1412 4634l15-4l-115-53l-15 3z"/>
<path class=e31 d="M1297 4580l15-3"/>
<path class=c31 d="M1722 4634l15-4l-115-53l-15 4z"/>
<path class=e31 d="M1607 4581l15-4"/>
<path class=c32 d="M2031 4634l15-4l-115-53l-15 4z"/>
<path class=e31 d="M1916 4581l15-4"/>
<path class=c31 d="M1397 4638l15-4l-115-54l-14 5z"/>
<path class=e31 d="M1283 4585l14-5"/>
<path class=c31 d="M1707 4638l15-4l-115-53l-15 4z"/>
<path class=e31 d="M1592 4585l15-4"/>
<path class=c32 d="M2016 4638l15-4l-115-53l-15 4z"/>
<path class=e31 d="M1901 4585l15-4"/>
<path class=c32 d="M1382 4642l15-4l-114-53l-15 4z"/>
<path class=e32 d="M1268 4589l15-4"/>
<path class=c31 d="M1692 4642l15-4l-115-53l-15 4z"/>
<path class=e31 d="M1577 4589l15-4"/>
<path class=c32 d="M2001 4643l15-5l-115-53l-15 4z"/>
<path class=e31 d="M1886 4589l15-4"/>
<path class=c31 d="M1677 4647l15-5l-115-53l-15 4z"/>
<path class=e31 d="M1562 4593l15-4"/>
<path class=c32 d="M1986 4647l15-4l-115-54l-15 4z"/>
<path class=e31 d="M1871 4593l15-4"/>
<path class=c31 d="M1662 4651l15-4l-115-54l-15 4z"/>
<path class=e31 d="M1547 4597l15-4"/>
<path class=c32 d="M1971 4651l15-4l-115-54l-15 4z"/>
<path class=e31 d="M1856 4597l15-4"/>
<path class=c31 d="M1647 4655l15-4l-115-54l-15 4z"/>
<path class=e31 d="M1532 4601l15-4"/>
<path class=c32 d="M1956 4655l15-4l-115-54l-15 4z"/>
<path class=e31 d="M1841 4601l15-4"/>
<path class=c31 d="M1632 4659l15-4l-115-54l-15 5z"/>
<path class=e31 d="M1517 4606l15-5"/>
<path class=c32 d="M1941 4659l15-4l-115-54l-15 4z"/>
<path class=e31 d="M1826 4605l15-4"/>
<path class=c31 d="M1617 4663l15-4l-115-53l-15 4z"/>
<path class=e31 d="M1502 4610l15-4"/>
<path class=c32 d="M1926 4663l15-4l-115-54l-15 4z"/>
<path class=e31 d="M1811 4609l15-4"/>
<path class=c31 d="M1602 4667l15-4l-115-53l-15 4z"/>
<path class=e31 d="M1487 4614l15-4"/>
<path class=c32 d="M1911 4667l15-4l-115-54l-15 5z"/>
<path class=e31 d="M1796 4614l15-5"/>
<path class=c31 d="M1587 4671l15-4l-115-53l-15 4z"/>
<path class=e31 d="M1472 4618l15-4"/>
<path class=c32 d="M1896 4671l15-4l-115-53l-15 4z"/>
<path class=e31 d="M1781 4618l15-4"/>
<path class=c31 d="M1572 4675l15-4l-115-53l-15 4z"/>
<path class=e31 d="M1457 4622l15-4"/>
<path class=c32 d="M1881 4676l15-5l-115-53l-14 4z"/>
<path class=e31 d="M1767 4622l14-4"/>
<path class=c31 d="M1557 4680l15-5l-115-53l-15 4z"/>
<path class=e31 d="M1442 4626l15-4"/>
<path class=c32 d="M1866 4680l15-4l-114-54l-15 4z"/>
<path class=e31 d="M1752 4626l15-4"/>
<path class=c31 d="M1542 4684l15-4l-115-54l-15 4z"/>
<path class=e31 d="M1427 4630l15-4"/>
<path class=c32 d="M1851 4684l15-4l-114-54l-15 4z"/>
<path class=e31 d="M1737 4630l15-4"/>
<path class=c31 d="M1527 4688l15-4l-115-54l-15 4z"/>
<path class=e31 d="M1412 4634l15-4"/>
<path class=c32 d="M1836 4688l15-4l-114-54l-15 4z"/>
<path class=e31 d="M1722 4634l15-4"/>
<path class=c31 d="M1512 4692l15-4l-115-54l-15 4z"/>
<path class=e31 d="M1397 4638l15-4"/>
<path class=c32 d="M1821 4692l15-4l-114-54l-15 4z"/>
<path class=e31 d="M1707 4638l15-4"/>
<path class=c32 d="M1497 4696l15-4l-115-54l-15 4z"/>
<path class=e32 d="M1382 4642l15-4"/>
<path class=c32 d="M1807 4696l14-4l-114-54l-15 4z"/>
<path class=e31 d="M1692 4642l15-4"/>
<path class=c32 d="M1792 4700l15-4l-115-54l-15 5z"/>
<path class=e31 d="M1677 4647l15-5"/>
<path class=c32 d="M1777 4704l15-4l-115-53l-15 4z"/>
<path class=e31 d="M1662 4651l15-4"/>
<path class=c32 d="M1762 4708l15-4l-115-53l-15 4z"/>
<path class=e31 d="M1647 4655l15-4"/>
<path class=c32 d="M1747 4713l15-5l-115-53l-15 4z"/>
<path class=e31 d="M1632 4659l15-4"/>
<path class=c32 d="M1732 4717l15-4l-115-54l-15 4z"/>
<path class=e31 d="M1617 4663l15-4"/>
<path class=c32 d="M1717 4721l15-4l-115-54l-15 4z"/>
<path class=e31 d="M1602 4667l15-4"/>
<path class=c32 d="M1702 4725l15-4l-115-54l-15 4z"/>
<path class=e31 d="M1587 4671l15-4"/>
<path class=c32 d="M1687 4729l15-4l-115-54l-15 4z"/>
<path class=e31 d="M1572 4675l15-4"/>
<path class=c32 d="M1672 4733l15-4l-115-54l-15 5z"/>
<path class=e31 d="M1557 4680l15-5"/>
<path class=c32 d="M1657 4737l15-4l-115-53l-15 4z"/>
<path class=e31 d="M1542 4684l15-4"/>
<path class=c32 d="M1642 4741l15-4l-115-53l-15 4z"/>
<path class=e31 d="M1527 4688l15-4"/>
<path class=c32 d="M1627 4746l15-5l-115-53l-15 4z"/>
<path class=e31 d="M1512 4692l15-4"/>
<path class=c32 d="M1612 4750l15-4l-115-54l-15 4z"/>
<path class=e32 d="M1497 4696l15-4"/></g>
<text x="39.4" y="480.2" class="t" text-anchor="end">-0.01</text>
<text x="39.4" y="450.9" class="t" text-anchor="end">-0.005</text>
<text x="39.4" y="421.6" class="t" text-anchor="end">0</text>
<text x="39.4" y="392.3" class="t" text-anchor="end">0.005</text>
<text x="39.4" y="363" class="t" text-anchor="end">0.01</text>
<text x="168.2" y="544.9" class="t" text-anchor="start">0</text>
<text x="198.1" y="536.6" class="t" text-anchor="start">0.2</text>
<text x="228.1" y="528.4" class="t" text-anchor="start">0.4</text>
<text x="258" y="520.1" class="t" text-anchor="start">0.6</text>
<text x="287.9" y="511.9" class="t" text-anchor="start">0.8</text>
<text x="317.8" y="503.6" class="t" text-anchor="start">1</text>
<text x="154.4" y="544.2" class="t" text-anchor="end">0</text>
<text x="97" y="517.3" class="t" text-anchor="end">0.5</text>
<text x="39.6" y="490.4" class="t" text-anchor="end">1</text>
<path class="g" d="M553.9 525.2L437.2 471.5"/>
<path class="g" d="M584.4 516.9L467.6 463.3"/>
<path class="g" d="M614.8 508.7L498 455"/>
<path class="g" d="M645.2 500.5L528.5 446.8"/>
<path class="g" d="M675.7 492.2L558.9 438.5"/>
<path class="g" d="M465.1 506.6L617.3 465.4"/>
<path class="g" d="M406.7 479.7L558.9 438.5"/>
<path class="g" d="M437.2 471.5L437.2 354.3"/>
<path class="g" d="M467.6 463.3L467.6 346.1"/>
<path class="g" d="M498 455L498 337.8"/>
<path class="g" d="M528.5 446.8L528.5 329.6"/>
<path class="g" d="M558.9 438.5L558.9 321.4"/>
<path class="g" d="M406.7 479.7L558.9 438.5"/>
<path class="g" d="M558.9 438.5L675.7 492.2"/>
<path class="g" d="M406.7 460.2L558.9 419"/>
<path class="g" d="M558.9 419L675.7 472.7"/>
<path class="g" d="M406.7 440.7L558.9 399.5"/>
<path class="g" d="M558.9 399.5L675.7 453.2"/>
<path class="g" d="M406.7 421.1L558.9 380"/>
<path class="g" d="M558.9 380L675.7 433.6"/>
<path class="g" d="M406.7 401.6L558.9 360.4"/>
<path class="g" d="M558.9 360.4L675.7 414.1"/>
<path class="g" d="M406.7 382.1L558.9 340.9"/>
<path class="g" d="M558.9 340.9L675.7 394.6"/>
<path class="g" d="M406.7 362.6L558.9 321.4"/>
<path class="g" d="M558.9 321.4L675.7 375"/>
<path class="g" d="M675.7 492.2L675.7 375"/>
<path class="g" d="M617.3 465.4L617.3 348.2"/>
<path class="a" d="M523.5 533.4L675.7 492.2"/>
<path class="a" d="M523.5 533.4L406.7 479.7"/>
<path class="a" d="M406.7 479.7L406.7 362.6"/>
<path class="a" d="M523.5 533.4L526.8 534.9"/>
<path class="a" d="M553.9 525.2L557.2 526.7"/>
<path class="a" d="M584.4 516.9L587.6 518.4"/>
<path class="a" d="M614.8 508.7L618.1 510.2"/>
<path class="a" d="M645.2 500.5L648.5 502"/>
<path class="a" d="M675.7 492.2L678.9 493.7"/>
<path class="a" d="M523.5 533.4L519.2 534.6"/>
<path class="a" d="M465.1 506.6L460.9 507.7"/>
<path class="a" d="M406.7 479.7L402.5 480.9"/>
<path class="a" d="M406.7 479.7L402.9 478"/>
<path class="a" d="M406.7 460.2L402.9 458.4"/>
<path class="a" d="M406.7 440.7L402.9 438.9"/>
<path class="a" d="M406.7 421.1L402.9 419.4"/>
<path class="a" d="M406.7 401.6L402.9 399.8"/>
<path class="a" d="M406.7 382.1L402.9 380.3"/>
<path class="a" d="M406.7 362.6L402.9 360.8"/>
<g transform="scale(.1)"><path class=c0 d="M5691 4429l15 10l-117-54l-15-16z"/>
<path class=e1 d="M5574 4369l15 16"/>
<path class=c2 d="M5675 4410l16 19l-117-60l-15-30z"/>
<path class=e3 d="M5559 4339l15 30"/>
<path class=c3 d="M5660 4386l15 24l-116-71l-16-38z"/>
<path class=e5 d="M5543 4301l16 38"/>
<path class=c5 d="M5645 4359l15 27l-117-85l-15-42z"/>
<path class=e8 d="M5528 4259l15 42"/>
<path class=c0 d="M5807 4488l16 5l-117-54l-15-10z"/>
<path class=e0 d="M5691 4429l15 10"/>
<path class=c7 d="M5630 4329l15 30l-117-100l-15-46z"/>
<path class=e11 d="M5513 4213l15 46"/>
<path class=c1 d="M5792 4477l15 11l-116-59l-16-19z"/>
<path class=e2 d="M5675 4410l16 19"/>
<path class=c2 d="M5777 4463l15 14l-117-67l-15-24z"/>
<path class=e3 d="M5660 4386l15 24"/>
<path class=c9 d="M5615 4297l15 32l-117-116l-15-50z"/>
<path class=e14 d="M5498 4163l15 50"/>
<path class=c3 d="M5762 4447l15 16l-117-77l-15-27z"/>
<path class=e5 d="M5645 4359l15 27"/>
<path class=c4 d="M5746 4429l16 18l-117-88l-15-30z"/>
<path class=e7 d="M5630 4329l15 30"/>
<path class=c11 d="M5599 4263l16 34l-117-134l-15-51z"/>
<path class=e17 d="M5483 4112l15 51"/>
<path class=c0 d="M5924 4545l15 1l-116-53l-16-5z"/>
<path class=e0 d="M5807 4488l16 5"/>
<path class=c6 d="M5731 4409l15 20l-116-100l-15-32z"/>
<path class=e9 d="M5615 4297l15 32"/>
<path class=c0 d="M5909 4540l15 5l-117-57l-15-11z"/>
<path class=e1 d="M5792 4477l15 11"/>
<path class=c14 d="M5584 4229l15 34l-116-151l-16-53z"/>
<path class=e20 d="M5467 4059l16 53"/>
<path class=c1 d="M5894 4533l15 7l-117-63l-15-14z"/>
<path class=e2 d="M5777 4463l15 14"/>
<path class=c7 d="M5716 4389l15 20l-116-112l-16-34z"/>
<path class=e11 d="M5599 4263l16 34"/>
<path class=c2 d="M5878 4525l16 8l-117-70l-15-16z"/>
<path class=e3 d="M5762 4447l15 16"/>
<path class=c16 d="M5569 4194l15 35l-117-170l-15-54z"/>
<path class=e24 d="M5452 4005l15 54"/>
<path class=c3 d="M5863 4515l15 10l-116-78l-16-18z"/>
<path class=e4 d="M5746 4429l16 18"/>
<path class=c9 d="M5701 4368l15 21l-117-126l-15-34z"/>
<path class=e14 d="M5584 4229l15 34"/>
<path class=c3 d="M5848 4505l15 10l-117-86l-15-20z"/>
<path class=e6 d="M5731 4409l15 20"/>
<path class=c10 d="M5686 4347l15 21l-117-139l-15-35z"/>
<path class=e16 d="M5569 4194l15 35"/>
<path class=c0 d="M6041 4601l15-1l-117-54l-15-1z"/>
<path class=e0 d="M5924 4545l15 1"/>
<path class=c18 d="M5554 4159l15 35l-117-189l-15-53z"/>
<path class=e27 d="M5437 3952l15 53"/>
<path class=c4 d="M5833 4495l15 10l-117-96l-15-20z"/>
<path class=e7 d="M5716 4389l15 20"/>
<path class=c0 d="M6026 4600l15 1l-117-56l-15-5z"/>
<path class=e0 d="M5909 4540l15 5"/>
<path class=c12 d="M5670 4326l16 21l-117-153l-15-35z"/>
<path class=e18 d="M5554 4159l15 35"/>
<path class=c0 d="M6010 4598l16 2l-117-60l-15-7z"/>
<path class=e1 d="M5894 4533l15 7"/>
<path class=c5 d="M5818 4483l15 12l-117-106l-15-21z"/>
<path class=e9 d="M5701 4368l15 21"/>
<path class=c1 d="M5995 4595l15 3l-116-65l-16-8z"/>
<path class=e2 d="M5878 4525l16 8"/>
<path class=c21 d="M5538 4124l16 35l-117-207l-15-54z"/>
<path class=e31 d="M5422 3898l15 54"/>
<path class=c6 d="M5802 4472l16 11l-117-115l-15-21z"/>
<path class=e10 d="M5686 4347l15 21"/>
<path class=c13 d="M5655 4305l15 21l-116-167l-16-35z"/>
<path class=e21 d="M5538 4124l16 35"/>
<path class=c1 d="M5980 4592l15 3l-117-70l-15-10z"/>
<path class=e3 d="M5863 4515l15 10"/>
<path class=c7 d="M5787 4461l15 11l-116-125l-16-21z"/>
<path class=e12 d="M5670 4326l16 21"/>
<path class=c2 d="M5965 4588l15 4l-117-77l-15-10z"/>
<path class=e3 d="M5848 4505l15 10"/>
<path class=c23 d="M5523 4089l15 35l-116-226l-16-53z"/>
<path class=e34 d="M5406 3845l16 53"/>
<path class=c15 d="M5640 4284l15 21l-117-181l-15-35z"/>
<path class=e23 d="M5523 4089l15 35"/>
<path class=c2 d="M5950 4583l15 5l-117-83l-15-10z"/>
<path class=e4 d="M5833 4495l15 10"/>
<path class=c8 d="M5772 4449l15 12l-117-135l-15-21z"/>
<path class=e13 d="M5655 4305l15 21"/>
<path class=c0 d="M4945 4645l15-56l-117-78l-15 80z"/>
<path class=e0 d="M4828 4591l15-80"/>
<path class=c3 d="M5934 4579l16 4l-117-88l-15-12z"/>
<path class=e5 d="M5818 4483l15 12"/>
<path class=c0 d="M6158 4656l15-2l-117-54l-15 1z"/>
<path class=e0 d="M6041 4601l15-1"/>
<path class=c3 d="M4930 4597l15 48l-117-54l-15-72z"/>
<path class=e4 d="M4813 4519l15 72"/>
<path class=c16 d="M5625 4264l15 20l-117-195l-15-33z"/>
<path class=e25 d="M5508 4056l15 33"/>
<path class=c9 d="M5757 4438l15 11l-117-144l-15-21z"/>
<path class=e15 d="M5640 4284l15 21"/>
<path class=c0 d="M6142 4658l16-2l-117-55l-15-1z"/>
<path class=e0 d="M6026 4600l15 1"/>
<path class=c3 d="M5919 4574l15 5l-116-96l-16-11z"/>
<path class=e6 d="M5802 4472l16 11"/>
<path class=c25 d="M5508 4056l15 33l-117-244l-15-52z"/>
<path class=e37 d="M5391 3793l15 52"/>
<path class=c0 d="M6127 4659l15-1l-116-58l-16-2z"/>
<path class=e0 d="M6010 4598l16 2"/>
<path class=c4 d="M5904 4570l15 4l-117-102l-15-11z"/>
<path class=e7 d="M5787 4461l15 11"/>
<path class=c10 d="M5742 4428l15 10l-117-154l-15-20z"/>
<path class=e16 d="M5625 4264l15 20"/>
<path class=c3 d="M4960 4589l15-55l-116-103l-16 80z"/>
<path class=e4 d="M4843 4511l16-80"/>
<path class=c0 d="M6112 4659l15 0l-117-61l-15-3z"/>
<path class=e1 d="M5995 4595l15 3"/>
<path class=c17 d="M5610 4244l15 20l-117-208l-15-33z"/>
<path class=e27 d="M5493 4023l15 33"/>
<path class=c4 d="M5889 4565l15 5l-117-109l-15-12z"/>
<path class=e8 d="M5772 4449l15 12"/>
<path class=c0 d="M6097 4660l15-1l-117-64l-15-3z"/>
<path class=e1 d="M5980 4592l15 3"/>
<path class=c10 d="M5726 4417l16 11l-117-164l-15-20z"/>
<path class=e17 d="M5610 4244l15 20"/>
<path class=c27 d="M5493 4023l15 33l-117-263l-15-50z"/>
<path class=e40 d="M5376 3743l15 50"/>
<path class=c6 d="M4915 4550l15 47l-117-78l-15-72z"/>
<path class=e8 d="M4798 4447l15 72"/>
<path class=c1 d="M6082 4660l15 0l-117-68l-15-4z"/>
<path class=e2 d="M5965 4588l15 4"/>
<path class=c5 d="M5873 4560l16 5l-117-116l-15-11z"/>
<path class=e9 d="M5757 4438l15 11"/>
<path class=c19 d="M5594 4225l16 19l-117-221l-15-31z"/>
<path class=e29 d="M5478 3992l15 31"/>
<path class=c6 d="M4975 4534l16-55l-117-128l-15 80z"/>
<path class=e8 d="M4859 4431l15-80"/>
<path class=c1 d="M6066 4659l16 1l-117-72l-15-5z"/>
<path class=e2 d="M5950 4583l15 5"/>
<path class=c11 d="M5711 4407l15 10l-116-173l-16-19z"/>
<path class=e19 d="M5594 4225l16 19"/>
<path class=c5 d="M5858 4556l15 4l-116-122l-15-10z"/>
<path class=e10 d="M5742 4428l15 10"/>
<path class=c1 d="M6051 4659l15 0l-116-76l-16-4z"/>
<path class=e3 d="M5934 4579l16 4"/>
<path class=c20 d="M5579 4208l15 17l-116-233l-16-29z"/>
<path class=e31 d="M5462 3963l16 29"/>
<path class=c12 d="M5696 4398l15 9l-117-182l-15-17z"/>
<path class=e20 d="M5579 4208l15 17"/>
<path class=c29 d="M5478 3992l15 31l-117-280l-15-47z"/>
<path class=e43 d="M5361 3696l15 47"/>
<path class=c6 d="M5843 4552l15 4l-116-128l-16-11z"/>
<path class=e10 d="M5726 4417l16 11"/>
<path class=c1 d="M6036 4659l15 0l-117-80l-15-5z"/>
<path class=e3 d="M5919 4574l15 5"/>
<path class=c0 d="M5062 4699l15-38l-117-72l-15 56z"/>
<path class=e0 d="M4945 4645l15-56"/>
<path class=c8 d="M4991 4479l15-55l-117-151l-15 78z"/>
<path class=e13 d="M4874 4351l15-78"/>
<path class=c1 d="M5047 4669l15 30l-117-54l-15-48z"/>
<path class=e3 d="M4930 4597l15 48"/>
<path class=c8 d="M4899 4503l16 47l-117-103l-15-71z"/>
<path class=e13 d="M4783 4376l15 71"/>
<path class=c0 d="M6274 4711l16-4l-117-53l-15 2z"/>
<path class=e0 d="M6158 4656l15-2"/>
<path class=c2 d="M6021 4658l15 1l-117-85l-15-4z"/>
<path class=e4 d="M5904 4570l15 4"/>
<path class=c6 d="M5828 4548l15 4l-117-135l-15-10z"/>
<path class=e11 d="M5711 4407l15 10"/>
<path class=c13 d="M5681 4390l15 8l-117-190l-15-17z"/>
<path class=e21 d="M5564 4191l15 17"/>
<path class=c1 d="M5077 4661l15-37l-117-90l-15 55z"/>
<path class=e3 d="M4960 4589l15-55"/>
<path class=c21 d="M5564 4191l15 17l-117-245l-15-28z"/>
<path class=e33 d="M5447 3935l15 28"/>
<path class=c0 d="M6259 4714l15-3l-116-55l-16 2z"/>
<path class=e0 d="M6142 4658l16-2"/>
<path class=c2 d="M6005 4658l16 0l-117-88l-15-5z"/>
<path class=e4 d="M5889 4565l15 5"/>
<path class=c7 d="M5813 4545l15 3l-117-141l-15-9z"/>
<path class=e12 d="M5696 4398l15 9"/>
<path class=c0 d="M6244 4717l15-3l-117-56l-15 1z"/>
<path class=e0 d="M6127 4659l15-1"/>
<path class=c31 d="M5462 3963l16 29l-117-296l-15-46z"/>
<path class=e46 d="M5346 3650l15 46"/>
<path class=c13 d="M5665 4382l16 8l-117-199l-15-14z"/>
<path class=e22 d="M5549 4177l15 14"/>
<path class=c11 d="M5006 4424l15-53l-117-175l-15 77z"/>
<path class=e17 d="M4889 4273l15-77"/>
<path class=c2 d="M5990 4658l15 0l-116-93l-16-5z"/>
<path class=e5 d="M5873 4560l16 5"/>
<path class=c3 d="M5092 4624l15-37l-116-108l-16 55z"/>
<path class=e6 d="M4975 4534l16-55"/>
<path class=c0 d="M6229 4719l15-2l-117-58l-15 0z"/>
<path class=e0 d="M6112 4659l15 0"/>
<path class=c7 d="M5797 4542l16 3l-117-147l-15-8z"/>
<path class=e13 d="M5681 4390l15 8"/>
<path class=c3 d="M5031 4640l16 29l-117-72l-15-47z"/>
<path class=e6 d="M4915 4550l15 47"/>
<path class=c22 d="M5549 4177l15 14l-117-256l-15-25z"/>
<path class=e35 d="M5432 3910l15 25"/>
<path class=c2 d="M5975 4658l15 0l-117-98l-15-4z"/>
<path class=e5 d="M5858 4556l15 4"/>
<path class=c0 d="M6214 4722l15-3l-117-60l-15 1z"/>
<path class=e0 d="M6097 4660l15-1"/>
<path class=c14 d="M5650 4376l15 6l-116-205l-16-14z"/>
<path class=e23 d="M5533 4163l16 14"/>
<path class=c7 d="M5782 4540l15 2l-116-152l-16-8z"/>
<path class=e13 d="M5665 4382l16 8"/>
<path class=c11 d="M4884 4457l15 46l-116-127l-16-70z"/>
<path class=e17 d="M4767 4306l16 70"/>
<path class=c5 d="M5107 4587l16-37l-117-126l-15 55z"/>
<path class=e8 d="M4991 4479l15-55"/>
<path class=c0 d="M6198 4724l16-2l-117-62l-15 0z"/>
<path class=e1 d="M6082 4660l15 0"/>
<path class=c3 d="M5960 4658l15 0l-117-102l-15-4z"/>
<path class=e6 d="M5843 4552l15 4"/>
<path class=c14 d="M5021 4371l15-52l-116-197l-16 74z"/>
<path class=e21 d="M4904 4196l16-74"/>
<path class=c33 d="M5447 3935l15 28l-116-313l-16-42z"/>
<path class=e49 d="M5330 3608l16 42"/>
<path class=c23 d="M5533 4163l16 14l-117-267l-15-23z"/>
<path class=e36 d="M5417 3887l15 23"/>
<path class=c15 d="M5635 4370l15 6l-117-213l-15-12z"/>
<path class=e24 d="M5518 4151l15 12"/>
<path class=c0 d="M6183 4726l15-2l-116-64l-16-1z"/>
<path class=e1 d="M6066 4659l16 1"/>
<path class=c8 d="M5767 4538l15 2l-117-158l-15-6z"/>
<path class=e14 d="M5650 4376l15 6"/>
<path class=c3 d="M5945 4658l15 0l-117-106l-15-4z"/>
<path class=e6 d="M5828 4548l15 4"/>
<path class=c7 d="M5123 4550l15-36l-117-143l-15 53z"/>
<path class=e11 d="M5006 4424l15-53"/>
<path class=c5 d="M5016 4611l15 29l-116-90l-16-47z"/>
<path class=e8 d="M4899 4503l16 47"/>
<path class=c0 d="M6168 4728l15-2l-117-67l-15 0z"/>
<path class=e1 d="M6051 4659l15 0"/>
<path class=c15 d="M5620 4366l15 4l-117-219l-15-10z"/>
<path class=e25 d="M5503 4141l15 10"/>
<path class=c8 d="M5752 4536l15 2l-117-162l-15-6z"/>
<path class=e15 d="M5635 4370l15 6"/>
<path class=c3 d="M5929 4658l16 0l-117-110l-15-3z"/>
<path class=e7 d="M5813 4545l15 3"/>
<path class=c24 d="M5518 4151l15 12l-116-276l-16-21z"/>
<path class=e38 d="M5401 3866l16 21"/>
<path class=c0 d="M6153 4731l15-3l-117-69l-15 0z"/>
<path class=e1 d="M6036 4659l15 0"/>
<path class=c9 d="M5138 4514l15-35l-117-160l-15 52z"/>
<path class=e14 d="M5021 4371l15-52"/>
<path class=c17 d="M5036 4319l15-51l-116-219l-15 73z"/>
<path class=e25 d="M4920 4122l15-73"/>
<path class=c3 d="M5914 4659l15-1l-116-113l-16-3z"/>
<path class=e7 d="M5797 4542l16 3"/>
<path class=c8 d="M5737 4536l15 0l-117-166l-15-4z"/>
<path class=e15 d="M5620 4366l15 4"/>
<path class=c16 d="M5605 4362l15 4l-117-225l-15-8z"/>
<path class=e26 d="M5488 4133l15 8"/>
<path class=c35 d="M5432 3910l15 25l-117-327l-15-40z"/>
<path class=e51 d="M5315 3568l15 40"/>
<path class=c0 d="M5179 4752l15-24l-117-67l-15 38z"/>
<path class=e0 d="M5062 4699l15-38"/>
<path class=c0 d="M6137 4733l16-2l-117-72l-15-1z"/>
<path class=e2 d="M6021 4658l15 1"/>
<path class=c14 d="M4869 4412l15 45l-117-151l-15-68z"/>
<path class=e21 d="M4752 4238l15 68"/>
<path class=c4 d="M5899 4659l15 0l-117-117l-15-2z"/>
<path class=e7 d="M5782 4540l15 2"/>
<path class=c1 d="M5163 4736l16 16l-117-53l-15-30z"/>
<path class=e1 d="M5047 4669l15 30"/>
<path class=c9 d="M5721 4535l16 1l-117-170l-15-4z"/>
<path class=e16 d="M5605 4362l15 4"/>
<path class=c1 d="M5194 4728l15-25l-117-79l-15 37z"/>
<path class=e1 d="M5077 4661l15-37"/>
<path class=c1 d="M6122 4735l15-2l-116-75l-16 0z"/>
<path class=e2 d="M6005 4658l16 0"/>
<path class=c25 d="M5503 4141l15 10l-117-285l-15-17z"/>
<path class=e39 d="M5386 3849l15 17"/>
<path class=c11 d="M5153 4479l15-34l-117-177l-15 51z"/>
<path class=e17 d="M5036 4319l15-51"/>
<path class=c16 d="M5589 4360l16 2l-117-229l-15-6z"/>
<path class=e26 d="M5473 4127l15 6"/>
<path class=c7 d="M5001 4583l15 28l-117-108l-15-46z"/>
<path class=e11 d="M4884 4457l15 46"/>
<path class=c0 d="M6391 4765l15-4l-116-54l-16 4z"/>
<path class=e0 d="M6274 4711l16-4"/>
<path class=c2 d="M5209 4703l15-24l-117-92l-15 37z"/>
<path class=e3 d="M5092 4624l15-37"/>
<path class=c4 d="M5884 4660l15-1l-117-119l-15-2z"/>
<path class=e8 d="M5767 4538l15 2"/>
<path class=c1 d="M6107 4737l15-2l-117-77l-15 0z"/>
<path class=e2 d="M5990 4658l15 0"/>
<path class=c9 d="M5706 4536l15-1l-116-173l-16-2z"/>
<path class=e16 d="M5589 4360l16 2"/>
<path class=c20 d="M5051 4268l16-49l-117-240l-15 70z"/>
<path class=e29 d="M4935 4049l15-70"/>
<path class=c0 d="M6376 4769l15-4l-117-54l-15 3z"/>
<path class=e0 d="M6259 4714l15-3"/>
<path class=c16 d="M5574 4359l15 1l-116-233l-16-4z"/>
<path class=e27 d="M5457 4123l16 4"/>
<path class=c3 d="M5224 4679l15-24l-116-105l-16 37z"/>
<path class=e5 d="M5107 4587l16-37"/>
<path class=c13 d="M5168 4445l15-33l-116-193l-16 49z"/>
<path class=e20 d="M5051 4268l16-49"/>
<path class=c26 d="M5488 4133l15 8l-117-292l-15-15z"/>
<path class=e40 d="M5371 3834l15 15"/>
<path class=c36 d="M5417 3887l15 23l-117-342l-15-36z"/>
<path class=e54 d="M5300 3532l15 36"/>
<path class=c4 d="M5869 4662l15-2l-117-122l-15-2z"/>
<path class=e8 d="M5752 4536l15 2"/>
<path class=c1 d="M6092 4739l15-2l-117-79l-15 0z"/>
<path class=e2 d="M5975 4658l15 0"/>
<path class=c9 d="M5691 4537l15-1l-117-176l-15-1z"/>
<path class=e16 d="M5574 4359l15 1"/>
<path class=c2 d="M5148 4720l15 16l-116-67l-16-29z"/>
<path class=e3 d="M5031 4640l16 29"/>
<path class=c0 d="M6361 4772l15-3l-117-55l-15 3z"/>
<path class=e0 d="M6244 4717l15-3"/>
<path class=c4 d="M5239 4655l16-23l-117-118l-15 36z"/>
<path class=e7 d="M5123 4550l15-36"/>
<path class=c16 d="M5559 4360l15-1l-117-236l-15-2z"/>
<path class=e27 d="M5442 4121l15 2"/>
<path class=c1 d="M6077 4742l15-3l-117-81l-15 0z"/>
<path class=e3 d="M5960 4658l15 0"/>
<path class=c4 d="M5853 4663l16-1l-117-126l-15 0z"/>
<path class=e8 d="M5737 4536l15 0"/>
<path class=c9 d="M5676 4539l15-2l-117-178l-15 1z"/>
<path class=e16 d="M5559 4360l15-1"/>
<path class=c0 d="M6346 4776l15-4l-117-55l-15 2z"/>
<path class=e0 d="M6229 4719l15-2"/>
<path class=c14 d="M5183 4412l16-32l-117-208l-15 47z"/>
<path class=e22 d="M5067 4219l15-47"/>
<path class=c5 d="M5255 4632l15-23l-117-130l-15 35z"/>
<path class=e9 d="M5138 4514l15-35"/>
<path class=c26 d="M5473 4127l15 6l-117-299l-15-12z"/>
<path class=e41 d="M5356 3822l15 12"/>
<path class=c17 d="M5544 4361l15-1l-117-239l-15 0z"/>
<path class=e27 d="M5427 4121l15 0"/>
<path class=c9 d="M4986 4555l15 28l-117-126l-15-45z"/>
<path class=e14 d="M4869 4412l15 45"/>
<path class=c1 d="M6061 4744l16-2l-117-84l-15 0z"/>
<path class=e3 d="M5945 4658l15 0"/>
<path class=c4 d="M5838 4665l15-2l-116-127l-16-1z"/>
<path class=e9 d="M5721 4535l16 1"/>
<path class=c0 d="M6330 4780l16-4l-117-57l-15 3z"/>
<path class=e0 d="M6214 4722l15-3"/>
<path class=c22 d="M5067 4219l15-47l-117-261l-15 68z"/>
<path class=e33 d="M4950 3979l15-68"/>
<path class=c9 d="M5660 4542l16-3l-117-179l-15 1z"/>
<path class=e17 d="M5544 4361l15-1"/>
<path class=c6 d="M5270 4609l15-23l-117-141l-15 34z"/>
<path class=e11 d="M5153 4479l15-34"/>
<path class=c17 d="M4854 4368l15 44l-117-174l-15-67z"/>
<path class=e25 d="M4737 4171l15 67"/>
<path class=c17 d="M5528 4364l16-3l-117-240l-15 2z"/>
<path class=e28 d="M5412 4123l15-2"/>
<path class=c16 d="M5199 4380l15-30l-117-222l-15 44z"/>
<path class=e25 d="M5082 4172l15-44"/>
<path class=c38 d="M5401 3866l16 21l-117-355l-15-32z"/>
<path class=e56 d="M5285 3500l15 32"/>
<path class=c3 d="M5133 4704l15 16l-117-80l-15-29z"/>
<path class=e5 d="M5016 4611l15 29"/>
<path class=c0 d="M6315 4783l15-3l-116-58l-16 2z"/>
<path class=e0 d="M6198 4724l16-2"/>
<path class=c9 d="M5645 4546l15-4l-116-181l-16 3z"/>
<path class=e17 d="M5528 4364l16-3"/>
<path class=c1 d="M6046 4746l15-2l-116-86l-16 0z"/>
<path class=e3 d="M5929 4658l16 0"/>
<path class=c8 d="M5285 4586l15-22l-117-152l-15 33z"/>
<path class=e13 d="M5168 4445l15-33"/>
<path class=c4 d="M5823 4668l15-3l-117-130l-15 1z"/>
<path class=e9 d="M5706 4536l15-1"/>
<path class=c27 d="M5457 4123l16 4l-117-305l-15-9z"/>
<path class=e42 d="M5341 3813l15 9"/>
<path class=c17 d="M5513 4369l15-5l-116-241l-15 5z"/>
<path class=e28 d="M5397 4128l15-5"/>
<path class=c9 d="M5300 4564l15-21l-116-163l-16 32z"/>
<path class=e14 d="M5183 4412l16-32"/>
<path class=c9 d="M5630 4550l15-4l-117-182l-15 5z"/>
<path class=e17 d="M5513 4369l15-5"/>
<path class=c0 d="M6300 4786l15-3l-117-59l-15 2z"/>
<path class=e0 d="M6183 4726l15-2"/>
<path class=c1 d="M6031 4749l15-3l-117-88l-15 1z"/>
<path class=e3 d="M5914 4659l15-1"/>
<path class=c4 d="M5808 4670l15-2l-117-132l-15 1z"/>
<path class=e9 d="M5691 4537l15-1"/>
<path class=c17 d="M5214 4350l15-29l-117-236l-15 43z"/>
<path class=e27 d="M5097 4128l15-43"/>
<path class=c16 d="M5498 4375l15-6l-116-241l-16 7z"/>
<path class=e27 d="M5381 4135l16-7"/>
<path class=c10 d="M5315 4543l16-20l-117-173l-15 30z"/>
<path class=e16 d="M5199 4380l15-30"/>
<path class=c9 d="M5615 4555l15-5l-117-181l-15 6z"/>
<path class=e16 d="M5498 4375l15-6"/>
<path class=c27 d="M5442 4121l15 2l-116-310l-16-5z"/>
<path class=e42 d="M5325 3808l16 5"/>
<path class=c25 d="M5082 4172l15-44l-117-281l-15 64z"/>
<path class=e37 d="M4965 3911l15-64"/>
<path class=c0 d="M6285 4790l15-4l-117-60l-15 2z"/>
<path class=e0 d="M6168 4728l15-2"/>
<path class=c10 d="M5331 4523l15-19l-117-183l-15 29z"/>
<path class=e17 d="M5214 4350l15-29"/>
<path class=c16 d="M5483 4382l15-7l-117-240l-15 9z"/>
<path class=e27 d="M5366 4144l15-9"/>
<path class=c1 d="M6016 4752l15-3l-117-90l-15 0z"/>
<path class=e4 d="M5899 4659l15 0"/>
<path class=c4 d="M5792 4673l16-3l-117-133l-15 2z"/>
<path class=e9 d="M5676 4539l15-2"/>
<path class=c9 d="M5600 4561l15-6l-117-180l-15 7z"/>
<path class=e16 d="M5483 4382l15-7"/>
<path class=c11 d="M5346 4504l15-18l-117-193l-15 28z"/>
<path class=e19 d="M5229 4321l15-28"/>
<path class=c11 d="M4970 4528l16 27l-117-143l-15-44z"/>
<path class=e17 d="M4854 4368l15 44"/>
<path class=c19 d="M5229 4321l15-28l-116-248l-16 40z"/>
<path class=e30 d="M5112 4085l16-40"/>
<path class=c4 d="M5118 4688l15 16l-117-93l-15-28z"/>
<path class=e7 d="M5001 4583l15 28"/>
<path class=c16 d="M5468 4390l15-8l-117-238l-15 11z"/>
<path class=e27 d="M5351 4155l15-11"/>
<path class=c39 d="M5386 3849l15 17l-116-366l-15-28z"/>
<path class=e58 d="M5270 3472l15 28"/>
<path class=c0 d="M6269 4793l16-3l-117-62l-15 3z"/>
<path class=e0 d="M6153 4731l15-3"/>
<path class=c12 d="M5361 4486l15-18l-116-200l-16 25z"/>
<path class=e20 d="M5244 4293l16-25"/>
<path class=c16 d="M5452 4400l16-10l-117-235l-15 14z"/>
<path class=e26 d="M5336 4169l15-14"/>
<path class=c27 d="M5427 4121l15 0l-117-313l-15-2z"/>
<path class=e43 d="M5310 3806l15 2"/>
<path class=c4 d="M5777 4677l15-4l-116-134l-16 3z"/>
<path class=e9 d="M5660 4542l16-3"/>
<path class=c9 d="M5584 4567l16-6l-117-179l-15 8z"/>
<path class=e16 d="M5468 4390l15-8"/>
<path class=c1 d="M6000 4754l16-2l-117-93l-15 1z"/>
<path class=e4 d="M5884 4660l15-1"/>
<path class=c13 d="M5376 4468l16-16l-117-208l-15 24z"/>
<path class=e22 d="M5260 4268l15-24"/>
<path class=c15 d="M5437 4411l15-11l-116-231l-16 15z"/>
<path class=e25 d="M5320 4184l16-15"/>
<path class=c14 d="M5392 4452l15-15l-117-215l-15 22z"/>
<path class=e23 d="M5275 4244l15-22"/>
<path class=c15 d="M5422 4424l15-13l-117-227l-15 18z"/>
<path class=e25 d="M5305 4202l15-18"/>
<path class=c14 d="M5407 4437l15-13l-117-222l-15 20z"/>
<path class=e24 d="M5290 4222l15-20"/>
<path class=c20 d="M5244 4293l16-25l-117-260l-15 37z"/>
<path class=e32 d="M5128 4045l15-37"/>
<path class=c9 d="M5569 4575l15-8l-116-177l-16 10z"/>
<path class=e16 d="M5452 4400l16-10"/>
<path class=c0 d="M6254 4797l15-4l-116-62l-16 2z"/>
<path class=e0 d="M6137 4733l16-2"/>
<path class=c4 d="M5762 4681l15-4l-117-135l-15 4z"/>
<path class=e9 d="M5645 4546l15-4"/>
<path class=c1 d="M5985 4757l15-3l-116-94l-15 2z"/>
<path class=e4 d="M5869 4662l15-2"/>
<path class=c28 d="M5412 4123l15-2l-117-315l-15 1z"/>
<path class=e43 d="M5295 3807l15-1"/>
<path class=c8 d="M5554 4583l15-8l-117-175l-15 11z"/>
<path class=e15 d="M5437 4411l15-11"/>
<path class=c20 d="M4838 4326l16 42l-117-197l-15-65z"/>
<path class=e29 d="M4722 4106l15 65"/>
<path class=c27 d="M5097 4128l15-43l-116-299l-16 61z"/>
<path class=e41 d="M4980 3847l16-61"/>
<path class=c0 d="M5295 4806l15-16l-116-62l-15 24z"/>
<path class=e0 d="M5179 4752l15-24"/>
<path class=c22 d="M5260 4268l15-24l-117-271l-15 35z"/>
<path class=e34 d="M5143 4008l15-35"/>
<path class=c8 d="M5539 4592l15-9l-117-172l-15 13z"/>
<path class=e15 d="M5422 4424l15-13"/>
<path class=c0 d="M5310 4790l16-15l-117-72l-15 25z"/>
<path class=e1 d="M5194 4728l15-25"/>
<path class=c0 d="M6239 4800l15-3l-117-64l-15 2z"/>
<path class=e1 d="M6122 4735l15-2"/>
<path class=c4 d="M5747 4685l15-4l-117-135l-15 4z"/>
<path class=e9 d="M5630 4550l15-4"/>
<path class=c1 d="M5326 4775l15-16l-117-80l-15 24z"/>
<path class=e2 d="M5209 4703l15-24"/>
<path class=c8 d="M5524 4601l15-9l-117-168l-15 13z"/>
<path class=e14 d="M5407 4437l15-13"/>
<path class=c28 d="M5397 4128l15-5l-117-316l-15 5z"/>
<path class=e43 d="M5280 3812l15-5"/>
<path class=c1 d="M5970 4760l15-3l-116-95l-16 1z"/>
<path class=e4 d="M5853 4663l16-1"/>
<path class=c2 d="M5341 4759l15-15l-117-89l-15 24z"/>
<path class=e3 d="M5224 4679l15-24"/>
<path class=c5 d="M5102 4673l16 15l-117-105l-15-28z"/>
<path class=e9 d="M4986 4555l15 28"/>
<path class=c0 d="M5280 4799l15 7l-116-54l-16-16z"/>
<path class=e1 d="M5163 4736l16 16"/>
<path class=c7 d="M5508 4611l16-10l-117-164l-15 15z"/>
<path class=e14 d="M5392 4452l15-15"/>
<path class=c40 d="M5371 3834l15 15l-116-377l-16-24z"/>
<path class=e59 d="M5254 3448l16 24"/>
<path class=c2 d="M5356 4744l15-15l-116-97l-16 23z"/>
<path class=e4 d="M5239 4655l16-23"/>
<path class=c23 d="M5275 4244l15-22l-117-280l-15 31z"/>
<path class=e35 d="M5158 3973l15-31"/>
<path class=c3 d="M5371 4729l16-15l-117-105l-15 23z"/>
<path class=e5 d="M5255 4632l15-23"/>
<path class=c7 d="M5493 4622l15-11l-116-159l-16 16z"/>
<path class=e13 d="M5376 4468l16-16"/>
<path class=c3 d="M5387 4714l15-14l-117-114l-15 23z"/>
<path class=e6 d="M5270 4609l15-23"/>
<path class=c4 d="M5732 4689l15-4l-117-135l-15 5z"/>
<path class=e9 d="M5615 4555l15-5"/>
<path class=c0 d="M6224 4804l15-4l-117-65l-15 2z"/>
<path class=e1 d="M6107 4737l15-2"/>
<path class=c7 d="M5478 4634l15-12l-117-154l-15 18z"/>
<path class=e12 d="M5361 4486l15-18"/>
<path class=c4 d="M5402 4700l15-14l-117-122l-15 22z"/>
<path class=e8 d="M5285 4586l15-22"/>
<path class=c27 d="M5381 4135l16-7l-117-316l-15 8z"/>
<path class=e43 d="M5265 3820l15-8"/>
<path class=c6 d="M5463 4646l15-12l-117-148l-15 18z"/>
<path class=e11 d="M5346 4504l15-18"/>
<path class=c5 d="M5417 4686l15-14l-117-129l-15 21z"/>
<path class=e9 d="M5300 4564l15-21"/>
<path class=c6 d="M5447 4659l16-13l-117-142l-15 19z"/>
<path class=e10 d="M5331 4523l15-19"/>
<path class=c5 d="M5432 4672l15-13l-116-136l-16 20z"/>
<path class=e10 d="M5315 4543l16-20"/>
<path class=c24 d="M5290 4222l15-20l-117-289l-15 29z"/>
<path class=e37 d="M5173 3942l15-29"/>
<path class=c13 d="M4955 4503l15 25l-116-160l-16-42z"/>
<path class=e20 d="M4838 4326l16 42"/>
<path class=c2 d="M5955 4763l15-3l-117-97l-15 2z"/>
<path class=e4 d="M5838 4665l15-2"/>
<path class=c27 d="M5366 4144l15-9l-116-315l-16 12z"/>
<path class=e42 d="M5249 3832l16-12"/>
<path class=c25 d="M5305 4202l15-18l-116-296l-16 25z"/>
<path class=e38 d="M5188 3913l16-25"/>
<path class=c4 d="M5716 4694l16-5l-117-134l-15 6z"/>
<path class=e9 d="M5600 4561l15-6"/>
<path class=c0 d="M6508 4819l15-4l-117-54l-15 4z"/>
<path class=e0 d="M6391 4765l15-4"/>
<path class=c0 d="M6209 4807l15-3l-117-67l-15 2z"/>
<path class=e1 d="M6092 4739l15-2"/>
<path class=c27 d="M5351 4155l15-11l-117-312l-15 15z"/>
<path class=e41 d="M5234 3847l15-15"/>
<path class=c30 d="M5112 4085l16-40l-117-316l-15 57z"/>
<path class=e44 d="M4996 3786l15-57"/>
<path class=c25 d="M5320 4184l16-15l-117-303l-15 22z"/>
<path class=e40 d="M5204 3888l15-22"/>
<path class=c26 d="M5336 4169l15-14l-117-308l-15 19z"/>
<path class=e41 d="M5219 3866l15-19"/>
<path class=c2 d="M5940 4767l15-4l-117-98l-15 3z"/>
<path class=e4 d="M5823 4668l15-3"/>
<path class=c4 d="M5701 4700l15-6l-116-133l-16 6z"/>
<path class=e9 d="M5584 4567l16-6"/>
<path class=c1 d="M5265 4791l15 8l-117-63l-15-16z"/>
<path class=e2 d="M5148 4720l15 16"/>
<path class=c0 d="M6493 4823l15-4l-117-54l-15 4z"/>
<path class=e0 d="M6376 4769l15-4"/>
<path class=c0 d="M6193 4811l16-4l-117-68l-15 3z"/>
<path class=e1 d="M6077 4742l15-3"/>
<path class=c41 d="M5356 3822l15 12l-117-386l-15-19z"/>
<path class=e61 d="M5239 3429l15 19"/>
<path class=c6 d="M5087 4658l15 15l-116-118l-16-27z"/>
<path class=e11 d="M4970 4528l16 27"/>
<path class=c4 d="M5686 4705l15-5l-117-133l-15 8z"/>
<path class=e9 d="M5569 4575l15-8"/>
<path class=c2 d="M5924 4770l16-3l-117-99l-15 2z"/>
<path class=e4 d="M5808 4670l15-2"/>
<path class=c0 d="M6477 4827l16-4l-117-54l-15 3z"/>
<path class=e0 d="M6361 4772l15-3"/>
<path class=c0 d="M6178 4814l15-3l-116-69l-16 2z"/>
<path class=e1 d="M6061 4744l16-2"/>
<path class=c4 d="M5671 4712l15-7l-117-130l-15 8z"/>
<path class=e8 d="M5554 4583l15-8"/>
<path class=c32 d="M5128 4045l15-37l-117-332l-15 53z"/>
<path class=e47 d="M5011 3729l15-53"/>
<path class=c2 d="M5909 4774l15-4l-116-100l-16 3z"/>
<path class=e4 d="M5792 4673l16-3"/>
<path class=c22 d="M4823 4285l15 41l-116-220l-16-62z"/>
<path class=e33 d="M4706 4044l16 62"/>
<path class=c0 d="M6462 4831l15-4l-116-55l-15 4z"/>
<path class=e0 d="M6346 4776l15-4"/>
<path class=c2 d="M5250 4784l15 7l-117-71l-15-16z"/>
<path class=e3 d="M5133 4704l15 16"/>
<path class=c4 d="M5655 4718l16-6l-117-129l-15 9z"/>
<path class=e8 d="M5539 4592l15-9"/>
<path class=c0 d="M6163 4818l15-4l-117-70l-15 2z"/>
<path class=e1 d="M6046 4746l15-2"/>
<path class=c14 d="M4940 4478l15 25l-117-177l-15-41z"/>
<path class=e22 d="M4823 4285l15 41"/>
<path class=c42 d="M5341 3813l15 9l-117-393l-15-15z"/>
<path class=e62 d="M5224 3414l15 15"/>
<path class=c2 d="M5894 4778l15-4l-117-101l-15 4z"/>
<path class=e4 d="M5777 4677l15-4"/>
<path class=c4 d="M5640 4725l15-7l-116-126l-15 9z"/>
<path class=e8 d="M5524 4601l15-9"/>
<path class=c0 d="M6447 4835l15-4l-116-55l-16 4z"/>
<path class=e0 d="M6330 4780l16-4"/>
<path class=c4 d="M5625 4732l15-7l-116-124l-16 10z"/>
<path class=e7 d="M5508 4611l16-10"/>
<path class=c0 d="M6148 4821l15-3l-117-72l-15 3z"/>
<path class=e1 d="M6031 4749l15-3"/>
<path class=c8 d="M5072 4644l15 14l-117-130l-15-25z"/>
<path class=e13 d="M4955 4503l15 25"/>
<path class=c34 d="M5143 4008l15-35l-117-346l-15 49z"/>
<path class=e50 d="M5026 3676l15-49"/>
<path class=c2 d="M5879 4782l15-4l-117-101l-15 4z"/>
<path class=e4 d="M5762 4681l15-4"/>
<path class=c3 d="M5610 4740l15-8l-117-121l-15 11z"/>
<path class=e7 d="M5493 4622l15-11"/>
<path class=c0 d="M6432 4839l15-4l-117-55l-15 3z"/>
<path class=e0 d="M6315 4783l15-3"/>
<path class=c2 d="M5234 4777l16 7l-117-80l-15-16z"/>
<path class=e4 d="M5118 4688l15 16"/>
<path class=c0 d="M6132 4825l16-4l-117-72l-15 3z"/>
<path class=e1 d="M6016 4752l15-3"/>
<path class=c3 d="M5595 4748l15-8l-117-118l-15 12z"/>
<path class=e7 d="M5478 4634l15-12"/>
<path class=c2 d="M5864 4786l15-4l-117-101l-15 4z"/>
<path class=e4 d="M5747 4685l15-4"/>
<path class=c42 d="M5325 3808l16 5l-117-399l-15-10z"/>
<path class=e63 d="M5209 3404l15 10"/>
<path class=c0 d="M6417 4843l15-4l-117-56l-15 3z"/>
<path class=e0 d="M6300 4786l15-3"/>
<path class=c3 d="M5579 4756l16-8l-117-114l-15 12z"/>
<path class=e6 d="M5463 4646l15-12"/>
<path class=c0 d="M6117 4829l15-4l-116-73l-16 2z"/>
<path class=e1 d="M6000 4754l16-2"/>
<path class=c3 d="M5564 4764l15-8l-116-110l-16 13z"/>
<path class=e6 d="M5447 4659l16-13"/>
<path class=c35 d="M5158 3973l15-31l-117-360l-15 45z"/>
<path class=e52 d="M5041 3627l15-45"/>
<path class=c2 d="M5848 4790l16-4l-117-101l-15 4z"/>
<path class=e4 d="M5732 4689l15-4"/>
<path class=c2 d="M5549 4773l15-9l-117-105l-15 13z"/>
<path class=e5 d="M5432 4672l15-13"/>
<path class=c0 d="M6401 4847l16-4l-117-57l-15 4z"/>
<path class=e0 d="M6285 4790l15-4"/>
<path class=c16 d="M4925 4454l15 24l-117-193l-15-38z"/>
<path class=e25 d="M4808 4247l15 38"/>
<path class=c9 d="M5057 4630l15 14l-117-141l-15-25z"/>
<path class=e14 d="M4940 4478l15 25"/>
<path class=c2 d="M5534 4782l15-9l-117-101l-15 14z"/>
<path class=e5 d="M5417 4686l15-14"/>
<path class=c3 d="M5219 4770l15 7l-116-89l-16-15z"/>
<path class=e5 d="M5102 4673l16 15"/>
<path class=c43 d="M5310 3806l15 2l-116-404l-16-5z"/>
<path class=e63 d="M5193 3399l16 5"/>
<path class=c0 d="M6102 4832l15-3l-117-75l-15 3z"/>
<path class=e1 d="M5985 4757l15-3"/>
<path class=c2 d="M5833 4795l15-5l-116-101l-16 5z"/>
<path class=e4 d="M5716 4694l16-5"/>
<path class=c2 d="M5519 4791l15-9l-117-96l-15 14z"/>
<path class=e4 d="M5402 4700l15-14"/>
<path class=c0 d="M6386 4851l15-4l-116-57l-16 3z"/>
<path class=e0 d="M6269 4793l16-3"/>
<path class=c25 d="M4808 4247l15 38l-117-241l-15-59z"/>
<path class=e37 d="M4691 3985l15 59"/>
<path class=c37 d="M5173 3942l15-29l-116-371l-16 40z"/>
<path class=e55 d="M5056 3582l16-40"/>
<path class=c1 d="M5503 4801l16-10l-117-91l-15 14z"/>
<path class=e3 d="M5387 4714l15-14"/>
<path class=c0 d="M4184 4851l15-18l-116-61l-16 25z"/>
<path class=e0 d="M4067 4797l16-25"/>
<path class=c1 d="M5488 4810l15-9l-116-87l-16 15z"/>
<path class=e3 d="M5371 4729l16-15"/>
<path class=c2 d="M5818 4799l15-4l-117-101l-15 6z"/>
<path class=e4 d="M5701 4700l15-6"/>
<path class=c0 d="M6087 4836l15-4l-117-75l-15 3z"/>
<path class=e1 d="M5970 4760l15-3"/>
<path class=c1 d="M5473 4820l15-10l-117-81l-15 15z"/>
<path class=e2 d="M5356 4744l15-15"/>
<path class=c43 d="M5295 3807l15-1l-117-407l-15 0z"/>
<path class=e63 d="M5178 3399l15 0"/>
<path class=c0 d="M6371 4855l15-4l-117-58l-15 4z"/>
<path class=e0 d="M6254 4797l15-4"/>
<path class=c1 d="M5458 4830l15-10l-117-76l-15 15z"/>
<path class=e2 d="M5341 4759l15-15"/>
<path class=c0 d="M4199 4833l16-28l-117-71l-15 38z"/>
<path class=e1 d="M4083 4772l15-38"/>
<path class=c38 d="M5188 3913l16-25l-117-381l-15 35z"/>
<path class=e57 d="M5072 3542l15-35"/>
<path class=c2 d="M5803 4804l15-5l-117-99l-15 5z"/>
<path class=e4 d="M5686 4705l15-5"/>
<path class=c0 d="M5442 4840l16-10l-117-71l-15 16z"/>
<path class=e1 d="M5326 4775l15-16"/>
<path class=c3 d="M5204 4764l15 6l-117-97l-15-15z"/>
<path class=e6 d="M5087 4658l15 15"/>
<path class=c0 d="M6072 4840l15-4l-117-76l-15 3z"/>
<path class=e2 d="M5955 4763l15-3"/>
<path class=c0 d="M5427 4850l15-10l-116-65l-16 15z"/>
<path class=e0 d="M5310 4790l16-15"/>
<path class=c43 d="M5280 3812l15-5l-117-408l-15 6z"/>
<path class=e63 d="M5163 3405l15-6"/>
<path class=c0 d="M5412 4860l15-10l-117-60l-15 16z"/>
<path class=e0 d="M5295 4806l15-16"/>
<path class=c0 d="M6356 4859l15-4l-117-58l-15 3z"/>
<path class=e0 d="M6239 4800l15-3"/>
<path class=c10 d="M5042 4618l15 12l-117-152l-15-24z"/>
<path class=e16 d="M4925 4454l15 24"/>
<path class=c1 d="M5787 4809l16-5l-117-99l-15 7z"/>
<path class=e4 d="M5671 4712l15-7"/>
<path class=c40 d="M5204 3888l15-22l-117-390l-15 31z"/>
<path class=e59 d="M5087 3507l15-31"/>
<path class=c0 d="M6056 4844l16-4l-117-77l-15 4z"/>
<path class=e2 d="M5940 4767l15-4"/>
<path class=c2 d="M4215 4805l15-32l-117-84l-15 45z"/>
<path class=e3 d="M4098 4734l15-45"/>
<path class=c43 d="M5265 3820l15-8l-117-407l-15 10z"/>
<path class=e63 d="M5148 3415l15-10"/>
<path class=c41 d="M5219 3866l15-19l-117-396l-15 25z"/>
<path class=e60 d="M5102 3476l15-25"/>
<path class=c17 d="M4910 4432l15 22l-117-207l-15-37z"/>
<path class=e27 d="M4793 4210l15 37"/>
<path class=c0 d="M5397 4858l15 2l-117-54l-15-7z"/>
<path class=e0 d="M5280 4799l15 7"/>
<path class=c0 d="M6341 4863l15-4l-117-59l-15 4z"/>
<path class=e0 d="M6224 4804l15-4"/>
<path class=c42 d="M5249 3832l16-12l-117-405l-15 15z"/>
<path class=e62 d="M5133 3430l15-15"/>
<path class=c1 d="M5772 4814l15-5l-116-97l-16 6z"/>
<path class=e4 d="M5655 4718l16-6"/>
<path class=c41 d="M5234 3847l15-15l-116-402l-16 21z"/>
<path class=e61 d="M5117 3451l16-21"/>
<path class=c0 d="M6041 4848l15-4l-116-77l-16 3z"/>
<path class=e2 d="M5924 4770l16-3"/>
<path class=c4 d="M5189 4757l15 7l-117-106l-15-14z"/>
<path class=e8 d="M5072 4644l15 14"/>
<path class=c1 d="M5757 4820l15-6l-117-96l-15 7z"/>
<path class=e4 d="M5640 4725l15-7"/>
<path class=c0 d="M6325 4867l16-4l-117-59l-15 3z"/>
<path class=e0 d="M6209 4807l15-3"/>
<path class=c3 d="M4230 4773l15-35l-117-100l-15 51z"/>
<path class=e5 d="M4113 4689l15-51"/>
<path class=c0 d="M6026 4852l15-4l-117-78l-15 4z"/>
<path class=e2 d="M5909 4774l15-4"/>
<path class=c0 d="M5382 4856l15 2l-117-59l-15-8z"/>
<path class=e1 d="M5265 4791l15 8"/>
<path class=c0 d="M6625 4873l15-4l-117-54l-15 4z"/>
<path class=e0 d="M6508 4819l15-4"/>
<path class=c10 d="M5026 4606l16 12l-117-164l-15-22z"/>
<path class=e17 d="M4910 4432l15 22"/>
<path class=c1 d="M5742 4825l15-5l-117-95l-15 7z"/>
<path class=e4 d="M5625 4732l15-7"/>
<path class=c0 d="M6310 4871l15-4l-116-60l-16 4z"/>
<path class=e0 d="M6193 4811l16-4"/>
<path class=c27 d="M4793 4210l15 37l-117-262l-15-56z"/>
<path class=e41 d="M4676 3929l15 56"/>
<path class=c1 d="M5727 4831l15-6l-117-93l-15 8z"/>
<path class=e3 d="M5610 4740l15-8"/>
<path class=c0 d="M6011 4856l15-4l-117-78l-15 4z"/>
<path class=e2 d="M5894 4778l15-4"/>
<path class=c0 d="M6609 4877l16-4l-117-54l-15 4z"/>
<path class=e0 d="M6493 4823l15-4"/>
<path class=c5 d="M5174 4751l15 6l-117-113l-15-14z"/>
<path class=e9 d="M5057 4630l15 14"/>
<path class=c0 d="M6295 4875l15-4l-117-60l-15 3z"/>
<path class=e0 d="M6178 4814l15-3"/>
<path class=c1 d="M5366 4855l16 1l-117-65l-15-7z"/>
<path class=e2 d="M5250 4784l15 7"/>
<path class=c1 d="M5711 4837l16-6l-117-91l-15 8z"/>
<path class=e3 d="M5595 4748l15-8"/>
<path class=c19 d="M4894 4411l16 21l-117-222l-15-34z"/>
<path class=e30 d="M4778 4176l15 34"/>
<path class=c0 d="M5996 4860l15-4l-117-78l-15 4z"/>
<path class=e2 d="M5879 4782l15-4"/>
<path class=c0 d="M6594 4881l15-4l-116-54l-16 4z"/>
<path class=e0 d="M6477 4827l16-4"/>
<path class=c5 d="M4245 4738l15-39l-117-116l-15 55z"/>
<path class=e8 d="M4128 4638l15-55"/>
<path class=c0 d="M6280 4879l15-4l-117-61l-15 4z"/>
<path class=e0 d="M6163 4818l15-4"/>
<path class=c1 d="M5696 4842l15-5l-116-89l-16 8z"/>
<path class=e3 d="M5579 4756l16-8"/>
<path class=c11 d="M5011 4595l15 11l-116-174l-16-21z"/>
<path class=e19 d="M4894 4411l16 21"/>
<path class=c0 d="M5980 4864l16-4l-117-78l-15 4z"/>
<path class=e2 d="M5864 4786l15-4"/>
<path class=c0 d="M6579 4885l15-4l-117-54l-15 4z"/>
<path class=e0 d="M6462 4831l15-4"/>
<path class=c1 d="M5681 4849l15-7l-117-86l-15 8z"/>
<path class=e3 d="M5564 4764l15-8"/>
<path class=c5 d="M5158 4746l16 5l-117-121l-15-12z"/>
<path class=e10 d="M5042 4618l15 12"/>
<path class=c1 d="M5351 4853l15 2l-116-71l-16-7z"/>
<path class=e2 d="M5234 4777l16 7"/>
<path class=c0 d="M6264 4883l16-4l-117-61l-15 3z"/>
<path class=e0 d="M6148 4821l15-3"/>
<path class=c1 d="M5666 4855l15-6l-117-85l-15 9z"/>
<path class=e2 d="M5549 4773l15-9"/>
<path class=c0 d="M5965 4868l15-4l-116-78l-16 4z"/>
<path class=e2 d="M5848 4790l16-4"/>
<path class=c0 d="M6564 4889l15-4l-117-54l-15 4z"/>
<path class=e0 d="M6447 4835l15-4"/>
<path class=c0 d="M6249 4887l15-4l-116-62l-16 4z"/>
<path class=e0 d="M6132 4825l16-4"/>
<path class=c1 d="M5651 4861l15-6l-117-82l-15 9z"/>
<path class=e2 d="M5534 4782l15-9"/>
<path class=c7 d="M4260 4699l15-40l-116-133l-16 57z"/>
<path class=e11 d="M4143 4583l16-57"/>
<path class=c0 d="M5950 4872l15-4l-117-78l-15 5z"/>
<path class=e2 d="M5833 4795l15-5"/>
<path class=c1 d="M5336 4852l15 1l-117-76l-15-7z"/>
<path class=e3 d="M5219 4770l15 7"/>
<path class=c0 d="M6549 4893l15-4l-117-54l-15 4z"/>
<path class=e0 d="M6432 4839l15-4"/>
<path class=c6 d="M5143 4741l15 5l-116-128l-16-12z"/>
<path class=e10 d="M5026 4606l16 12"/>
<path class=c12 d="M4996 4585l15 10l-117-184l-15-19z"/>
<path class=e20 d="M4879 4392l15 19"/>
<path class=c20 d="M4879 4392l15 19l-116-235l-16-32z"/>
<path class=e32 d="M4762 4144l16 32"/>
<path class=c1 d="M5635 4867l16-6l-117-79l-15 9z"/>
<path class=e2 d="M5519 4791l15-9"/>
<path class=c30 d="M4778 4176l15 34l-117-281l-15-52z"/>
<path class=e44 d="M4661 3877l15 52"/>
<path class=c0 d="M6234 4891l15-4l-117-62l-15 4z"/>
<path class=e0 d="M6117 4829l15-4"/>
<path class=c0 d="M5935 4876l15-4l-117-77l-15 4z"/>
<path class=e2 d="M5818 4799l15-4"/>
<path class=c0 d="M6533 4897l16-4l-117-54l-15 4z"/>
<path class=e0 d="M6417 4843l15-4"/>
<path class=c0 d="M5620 4874l15-7l-116-76l-16 10z"/>
<path class=e1 d="M5503 4801l16-10"/>
<path class=c0 d="M6219 4895l15-4l-117-62l-15 3z"/>
<path class=e0 d="M6102 4832l15-3"/>
<path class=c1 d="M5321 4850l15 2l-117-82l-15-6z"/>
<path class=e3 d="M5204 4764l15 6"/>
<path class=c0 d="M5605 4880l15-6l-117-73l-15 9z"/>
<path class=e1 d="M5488 4810l15-9"/>
<path class=c0 d="M5919 4881l16-5l-117-77l-15 5z"/>
<path class=e2 d="M5803 4804l15-5"/>
<path class=c0 d="M6518 4901l15-4l-116-54l-16 4z"/>
<path class=e0 d="M6401 4847l16-4"/>
<path class=c6 d="M5128 4737l15 4l-117-135l-15-11z"/>
<path class=e11 d="M5011 4595l15 11"/>
<path class=c9 d="M4275 4659l16-42l-117-151l-15 60z"/>
<path class=e14 d="M4159 4526l15-60"/>
<path class=c0 d="M5590 4887l15-7l-117-70l-15 10z"/>
<path class=e1 d="M5473 4820l15-10"/>
<path class=c0 d="M6204 4899l15-4l-117-63l-15 4z"/>
<path class=e0 d="M6087 4836l15-4"/>
<path class=c13 d="M4981 4576l15 9l-117-193l-15-17z"/>
<path class=e22 d="M4864 4375l15 17"/>
<path class=c0 d="M5904 4885l15-4l-116-77l-16 5z"/>
<path class=e1 d="M5787 4809l16-5"/>
<path class=c0 d="M6503 4905l15-4l-117-54l-15 4z"/>
<path class=e0 d="M6386 4851l15-4"/>
<path class=c0 d="M5574 4893l16-6l-117-67l-15 10z"/>
<path class=e1 d="M5458 4830l15-10"/>
<path class=c0 d="M4301 4905l15-14l-117-58l-15 18z"/>
<path class=e0 d="M4184 4851l15-18"/>
<path class=c2 d="M5306 4849l15 1l-117-86l-15-7z"/>
<path class=e4 d="M5189 4757l15 7"/>
<path class=c0 d="M4316 4891l15-19l-116-67l-16 28z"/>
<path class=e0 d="M4199 4833l16-28"/>
<path class=c0 d="M6188 4903l16-4l-117-63l-15 4z"/>
<path class=e0 d="M6072 4840l15-4"/>
<path class=c22 d="M4864 4375l15 17l-117-248l-15-29z"/>
<path class=e34 d="M4747 4115l15 29"/>
<path class=c0 d="M5559 4900l15-7l-116-63l-16 10z"/>
<path class=e0 d="M5442 4840l16-10"/>
<path class=c0 d="M5889 4890l15-5l-117-76l-15 5z"/>
<path class=e1 d="M5772 4814l15-5"/>
<path class=c0 d="M6488 4910l15-5l-117-54l-15 4z"/>
<path class=e0 d="M6371 4855l15-4"/>
<path class=c7 d="M5113 4733l15 4l-117-142l-15-10z"/>
<path class=e12 d="M4996 4585l15 10"/>
<path class=c1 d="M4331 4872l16-22l-117-77l-15 32z"/>
<path class=e2 d="M4215 4805l15-32"/>
<path class=c0 d="M5544 4907l15-7l-117-60l-15 10z"/>
<path class=e0 d="M5427 4850l15-10"/>
<path class=c0 d="M6173 4907l15-4l-116-63l-16 4z"/>
<path class=e0 d="M6056 4844l16-4"/>
<path class=c0 d="M5874 4894l15-4l-117-76l-15 6z"/>
<path class=e1 d="M5757 4820l15-6"/>
<path class=c2 d="M5290 4848l16 1l-117-92l-15-6z"/>
<path class=e5 d="M5174 4751l15 6"/>
<path class=c14 d="M4965 4568l16 8l-117-201l-15-16z"/>
<path class=e23 d="M4849 4359l15 16"/>
<path class=c0 d="M6473 4914l15-4l-117-55l-15 4z"/>
<path class=e0 d="M6356 4859l15-4"/>
<path class=c0 d="M5529 4913l15-6l-117-57l-15 10z"/>
<path class=e0 d="M5412 4860l15-10"/>
<path class=c32 d="M4762 4144l16 32l-117-299l-15-49z"/>
<path class=e47 d="M4646 3828l15 49"/>
<path class=c2 d="M4347 4850l15-24l-117-88l-15 35z"/>
<path class=e3 d="M4230 4773l15-35"/>
<path class=c11 d="M4291 4617l15-42l-117-170l-15 61z"/>
<path class=e17 d="M4174 4466l15-61"/>
<path class=c0 d="M6158 4911l15-4l-117-63l-15 4z"/>
<path class=e0 d="M6041 4848l15-4"/>
<path class=c0 d="M5859 4899l15-5l-117-74l-15 5z"/>
<path class=e1 d="M5742 4825l15-5"/>
<path class=c7 d="M5097 4729l16 4l-117-148l-15-9z"/>
<path class=e13 d="M4981 4576l15 9"/>
<path class=c0 d="M6457 4918l16-4l-117-55l-15 4z"/>
<path class=e0 d="M6341 4863l15-4"/>
<path class=c0 d="M5514 4915l15-2l-117-53l-15-2z"/>
<path class=e0 d="M5397 4858l15 2"/>
<path class=c3 d="M4362 4826l15-27l-117-100l-15 39z"/>
<path class=e5 d="M4245 4738l15-39"/>
<path class=c2 d="M5275 4847l15 1l-116-97l-16-5z"/>
<path class=e5 d="M5158 4746l16 5"/>
<path class=c0 d="M5843 4904l16-5l-117-74l-15 6z"/>
<path class=e1 d="M5727 4831l15-6"/>
<path class=c0 d="M6143 4915l15-4l-117-63l-15 4z"/>
<path class=e0 d="M6026 4852l15-4"/>
<path class=c23 d="M4849 4359l15 16l-117-260l-15-27z"/>
<path class=e35 d="M4732 4088l15 27"/>
<path class=c0 d="M6442 4922l15-4l-116-55l-16 4z"/>
<path class=e0 d="M6325 4867l16-4"/>
<path class=c14 d="M4950 4561l15 7l-116-209l-16-13z"/>
<path class=e24 d="M4833 4346l16 13"/>
<path class=c0 d="M5498 4917l16-2l-117-57l-15-2z"/>
<path class=e0 d="M5382 4856l15 2"/>
<path class=c0 d="M5828 4908l15-4l-116-73l-16 6z"/>
<path class=e1 d="M5711 4837l16-6"/>
<path class=c0 d="M6128 4919l15-4l-117-63l-15 4z"/>
<path class=e0 d="M6011 4856l15-4"/>
<path class=c4 d="M4377 4799l15-27l-117-113l-15 40z"/>
<path class=e7 d="M4260 4699l15-40"/>
<path class=c7 d="M5082 4727l15 2l-116-153l-16-8z"/>
<path class=e14 d="M4965 4568l16 8"/>
<path class=c0 d="M6741 4926l16-4l-117-53l-15 4z"/>
<path class=e0 d="M6625 4873l15-4"/>
<path class=c0 d="M6427 4926l15-4l-117-55l-15 4z"/>
<path class=e0 d="M6310 4871l15-4"/>
<path class=c3 d="M5260 4847l15 0l-117-101l-15-5z"/>
<path class=e6 d="M5143 4741l15 5"/>
<path class=c14 d="M4306 4575l15-44l-117-188l-15 62z"/>
<path class=e20 d="M4189 4405l15-62"/>
<path class=c0 d="M5813 4913l15-5l-117-71l-15 5z"/>
<path class=e1 d="M5696 4842l15-5"/>
<path class=c0 d="M6112 4923l16-4l-117-63l-15 4z"/>
<path class=e0 d="M5996 4860l15-4"/>
<path class=c0 d="M5483 4918l15-1l-116-61l-16-1z"/>
<path class=e1 d="M5366 4855l16 1"/>
<path class=c0 d="M6726 4930l15-4l-116-53l-16 4z"/>
<path class=e0 d="M6609 4877l16-4"/>
<path class=c0 d="M6412 4930l15-4l-117-55l-15 4z"/>
<path class=e0 d="M6295 4875l15-4"/>
<path class=c6 d="M4392 4772l15-29l-116-126l-16 42z"/>
<path class=e9 d="M4275 4659l16-42"/>
<path class=c0 d="M5798 4918l15-5l-117-71l-15 7z"/>
<path class=e1 d="M5681 4849l15-7"/>
<path class=c15 d="M4935 4555l15 6l-117-215l-15-12z"/>
<path class=e25 d="M4818 4334l15 12"/>
<path class=c8 d="M5067 4725l15 2l-117-159l-15-7z"/>
<path class=e14 d="M4950 4561l15 7"/>
<path class=c34 d="M4747 4115l15 29l-116-316l-16-45z"/>
<path class=e50 d="M4630 3783l16 45"/>
<path class=c0 d="M6097 4927l15-4l-116-63l-16 4z"/>
<path class=e0 d="M5980 4864l16-4"/>
<path class=c24 d="M4833 4346l16 13l-117-271l-15-23z"/>
<path class=e37 d="M4717 4065l15 23"/>
<path class=c3 d="M5245 4847l15 0l-117-106l-15-4z"/>
<path class=e6 d="M5128 4737l15 4"/>
<path class=c0 d="M6711 4935l15-5l-117-53l-15 4z"/>
<path class=e0 d="M6594 4881l15-4"/>
<path class=c0 d="M6396 4934l16-4l-117-55l-15 4z"/>
<path class=e0 d="M6280 4879l15-4"/>
<path class=c0 d="M5468 4920l15-2l-117-63l-15-2z"/>
<path class=e1 d="M5351 4853l15 2"/>
<path class=c0 d="M5782 4923l16-5l-117-69l-15 6z"/>
<path class=e1 d="M5666 4855l15-6"/>
<path class=c0 d="M6082 4931l15-4l-117-63l-15 4z"/>
<path class=e0 d="M5965 4868l15-4"/>
<path class=c7 d="M4407 4743l16-29l-117-139l-15 42z"/>
<path class=e11 d="M4291 4617l15-42"/>
<path class=c16 d="M4321 4531l15-43l-116-207l-16 62z"/>
<path class=e24 d="M4204 4343l16-62"/>
<path class=c0 d="M6696 4939l15-4l-117-54l-15 4z"/>
<path class=e0 d="M6579 4885l15-4"/>
<path class=c0 d="M5767 4927l15-4l-116-68l-15 6z"/>
<path class=e1 d="M5651 4861l15-6"/>
<path class=c0 d="M6381 4938l15-4l-116-55l-16 4z"/>
<path class=e0 d="M6264 4883l16-4"/>
<path class=c3 d="M5229 4847l16 0l-117-110l-15-4z"/>
<path class=e7 d="M5113 4733l15 4"/>
<path class=c8 d="M5052 4723l15 2l-117-164l-15-6z"/>
<path class=e15 d="M4935 4555l15 6"/>
<path class=c15 d="M4920 4551l15 4l-117-221l-15-10z"/>
<path class=e25 d="M4803 4324l15 10"/>
<path class=c0 d="M5453 4921l15-1l-117-67l-15-1z"/>
<path class=e1 d="M5336 4852l15 1"/>
<path class=c0 d="M6067 4936l15-5l-117-63l-15 4z"/>
<path class=e0 d="M5950 4872l15-4"/>
<path class=c0 d="M5752 4932l15-5l-116-66l-16 6z"/>
<path class=e1 d="M5635 4867l16-6"/>
<path class=c0 d="M6681 4943l15-4l-117-54l-15 4z"/>
<path class=e0 d="M6564 4889l15-4"/>
<path class=c0 d="M6366 4942l15-4l-117-55l-15 4z"/>
<path class=e0 d="M6249 4887l15-4"/>
<path class=c9 d="M4423 4714l15-29l-117-154l-15 44z"/>
<path class=e14 d="M4306 4575l15-44"/>
<path class=c25 d="M4818 4334l15 12l-116-281l-15-20z"/>
<path class=e38 d="M4702 4045l15 20"/>
<path class=c0 d="M6051 4940l16-4l-117-64l-15 4z"/>
<path class=e0 d="M5935 4876l15-4"/>
<path class=c3 d="M5214 4847l15 0l-116-114l-16-4z"/>
<path class=e7 d="M5097 4729l16 4"/>
<path class=c0 d="M5437 4923l16-2l-117-69l-15-2z"/>
<path class=e1 d="M5321 4850l15 2"/>
<path class=c8 d="M5037 4723l15 0l-117-168l-15-4z"/>
<path class=e15 d="M4920 4551l15 4"/>
<path class=c0 d="M5737 4937l15-5l-117-65l-15 7z"/>
<path class=e0 d="M5620 4874l15-7"/>
<path class=c0 d="M6665 4947l16-4l-117-54l-15 4z"/>
<path class=e0 d="M6549 4893l15-4"/>
<path class=c0 d="M6351 4947l15-5l-117-55l-15 4z"/>
<path class=e0 d="M6234 4891l15-4"/>
<path class=c16 d="M4905 4548l15 3l-117-227l-15-7z"/>
<path class=e26 d="M4788 4317l15 7"/>
<path class=c0 d="M6036 4944l15-4l-116-64l-16 5z"/>
<path class=e0 d="M5919 4881l16-5"/>
<path class=c0 d="M5722 4942l15-5l-117-63l-15 6z"/>
<path class=e0 d="M5605 4880l15-6"/>
<path class=c35 d="M4732 4088l15 27l-117-332l-15-41z"/>
<path class=e52 d="M4615 3742l15 41"/>
<path class=c10 d="M4438 4685l15-30l-117-167l-15 43z"/>
<path class=e16 d="M4321 4531l15-43"/>
<path class=c18 d="M4336 4488l16-43l-117-226l-15 62z"/>
<path class=e27 d="M4220 4281l15-62"/>
<path class=c4 d="M5199 4848l15-1l-117-118l-15-2z"/>
<path class=e7 d="M5082 4727l15 2"/>
<path class=c0 d="M6650 4951l15-4l-116-54l-16 4z"/>
<path class=e0 d="M6533 4897l16-4"/>
<path class=c1 d="M5422 4925l15-2l-116-73l-15-1z"/>
<path class=e2 d="M5306 4849l15 1"/>
<path class=c0 d="M6336 4951l15-4l-117-56l-15 4z"/>
<path class=e0 d="M6219 4895l15-4"/>
<path class=c9 d="M5021 4723l16 0l-117-172l-15-3z"/>
<path class=e16 d="M4905 4548l15 3"/>
<path class=c0 d="M5706 4947l16-5l-117-62l-15 7z"/>
<path class=e0 d="M5590 4887l15-7"/>
<path class=c0 d="M6021 4948l15-4l-117-63l-15 4z"/>
<path class=e0 d="M5904 4885l15-4"/>
<path class=c16 d="M4889 4547l16 1l-117-231l-15-5z"/>
<path class=e27 d="M4773 4312l15 5"/>
<path class=c25 d="M4803 4324l15 10l-116-289l-16-17z"/>
<path class=e40 d="M4686 4028l16 17"/>
<path class=c0 d="M6635 4955l15-4l-117-54l-15 4z"/>
<path class=e0 d="M6518 4901l15-4"/>
<path class=c0 d="M6320 4955l16-4l-117-56l-15 4z"/>
<path class=e0 d="M6204 4899l15-4"/>
<path class=c1 d="M5407 4927l15-2l-116-76l-16-1z"/>
<path class=e2 d="M5290 4848l16 1"/>
<path class=c0 d="M5691 4952l15-5l-116-60l-16 6z"/>
<path class=e0 d="M5574 4893l16-6"/>
<path class=c4 d="M5184 4849l15-1l-117-121l-15-2z"/>
<path class=e8 d="M5067 4725l15 2"/>
<path class=c12 d="M4453 4655l15-29l-116-181l-16 43z"/>
<path class=e18 d="M4336 4488l16-43"/>
<path class=c0 d="M6006 4952l15-4l-117-63l-15 5z"/>
<path class=e0 d="M5889 4890l15-5"/>
<path class=c9 d="M5006 4724l15-1l-116-175l-16-1z"/>
<path class=e16 d="M4889 4547l16 1"/>
<path class=c0 d="M4433 4949l15-14l-117-63l-15 19z"/>
<path class=e0 d="M4316 4891l15-19"/>
<path class=c0 d="M4448 4935l15-15l-116-70l-16 22z"/>
<path class=e1 d="M4331 4872l16-22"/>
<path class=c0 d="M6620 4959l15-4l-117-54l-15 4z"/>
<path class=e0 d="M6503 4905l15-4"/>
<path class=c0 d="M4418 4958l15-9l-117-58l-15 14z"/>
<path class=e0 d="M4301 4905l15-14"/>
<path class=c0 d="M6305 4959l15-4l-116-56l-16 4z"/>
<path class=e0 d="M6188 4903l16-4"/>
<path class=c1 d="M4463 4920l16-16l-117-78l-15 24z"/>
<path class=e2 d="M4347 4850l15-24"/>
<path class=c0 d="M5676 4957l15-5l-117-59l-15 7z"/>
<path class=e0 d="M5559 4900l15-7"/>
<path class=c16 d="M4874 4546l15 1l-116-235l-16-3z"/>
<path class=e27 d="M4757 4309l16 3"/>
<path class=c0 d="M5991 4957l15-5l-117-62l-15 4z"/>
<path class=e0 d="M5874 4894l15-4"/>
<path class=c2 d="M4479 4904l15-18l-117-87l-15 27z"/>
<path class=e3 d="M4362 4826l15-27"/>
<path class=c1 d="M5392 4929l15-2l-117-79l-15-1z"/>
<path class=e2 d="M5275 4847l15 1"/>
<path class=c4 d="M5169 4850l15-1l-117-124l-15-2z"/>
<path class=e8 d="M5052 4723l15 2"/>
<path class=c21 d="M4352 4445l15-43l-117-244l-15 61z"/>
<path class=e31 d="M4235 4219l15-61"/>
<path class=c9 d="M4991 4725l15-1l-117-177l-15-1z"/>
<path class=e16 d="M4874 4546l15 1"/>
<path class=c0 d="M6604 4963l16-4l-117-54l-15 5z"/>
<path class=e0 d="M6488 4910l15-5"/>
<path class=c3 d="M4494 4886l15-18l-117-96l-15 27z"/>
<path class=e4 d="M4377 4799l15-27"/>
<path class=c13 d="M4468 4626l16-29l-117-195l-15 43z"/>
<path class=e21 d="M4352 4445l15-43"/>
<path class=c0 d="M6290 4963l15-4l-117-56l-15 4z"/>
<path class=e0 d="M6173 4907l15-4"/>
<path class=c0 d="M5661 4962l15-5l-117-57l-15 7z"/>
<path class=e0 d="M5544 4907l15-7"/>
<path class=c26 d="M4788 4317l15 7l-117-296l-15-14z"/>
<path class=e41 d="M4671 4014l15 14"/>
<path class=c0 d="M5975 4961l16-4l-117-63l-15 5z"/>
<path class=e0 d="M5859 4899l15-5"/>
<path class=c3 d="M4509 4868l15-19l-117-106l-15 29z"/>
<path class=e6 d="M4392 4772l15-29"/>
<path class=c37 d="M4717 4065l15 23l-117-346l-15-36z"/>
<path class=e55 d="M4600 3706l15 36"/>
<path class=c16 d="M4859 4548l15-2l-117-237l-15-1z"/>
<path class=e27 d="M4742 4308l15 1"/>
<path class=c1 d="M5377 4931l15-2l-117-82l-15 0z"/>
<path class=e3 d="M5260 4847l15 0"/>
<path class=c0 d="M5646 4967l15-5l-117-55l-15 6z"/>
<path class=e0 d="M5529 4913l15-6"/>
<path class=c0 d="M6589 4967l15-4l-116-53l-15 4z"/>
<path class=e0 d="M6473 4914l15-4"/>
<path class=c4 d="M5153 4852l16-2l-117-127l-15 0z"/>
<path class=e8 d="M5037 4723l15 0"/>
<path class=c0 d="M6275 4967l15-4l-117-56l-15 4z"/>
<path class=e0 d="M6158 4911l15-4"/>
<path class=c9 d="M4976 4728l15-3l-117-179l-15 2z"/>
<path class=e16 d="M4859 4548l15-2"/>
<path class=c4 d="M4524 4849l15-20l-116-115l-16 29z"/>
<path class=e7 d="M4407 4743l16-29"/>
<path class=c0 d="M5960 4965l15-4l-116-62l-16 5z"/>
<path class=e0 d="M5843 4904l16-5"/>
<path class=c15 d="M4484 4597l15-29l-117-208l-15 42z"/>
<path class=e23 d="M4367 4402l15-42"/>
<path class=c5 d="M4539 4829l16-19l-117-125l-15 29z"/>
<path class=e9 d="M4423 4714l15-29"/>
<path class=c17 d="M4844 4550l15-2l-117-240l-15 1z"/>
<path class=e28 d="M4727 4309l15-1"/>
<path class=c0 d="M5630 4970l16-3l-117-54l-15 2z"/>
<path class=e0 d="M5514 4915l15-2"/>
<path class=c0 d="M6574 4972l15-5l-116-53l-16 4z"/>
<path class=e0 d="M6457 4918l16-4"/>
<path class=c0 d="M6259 4971l16-4l-117-56l-15 4z"/>
<path class=e0 d="M6143 4915l15-4"/>
<path class=c1 d="M5361 4933l16-2l-117-84l-15 0z"/>
<path class=e3 d="M5245 4847l15 0"/>
<path class=c27 d="M4773 4312l15 5l-117-303l-15-10z"/>
<path class=e41 d="M4656 4004l15 10"/>
<path class=c9 d="M4960 4731l16-3l-117-180l-15 2z"/>
<path class=e17 d="M4844 4550l15-2"/>
<path class=c4 d="M5138 4854l15-2l-116-129l-16 0z"/>
<path class=e9 d="M5021 4723l16 0"/>
<path class=c0 d="M5945 4969l15-4l-117-61l-15 4z"/>
<path class=e0 d="M5828 4908l15-4"/>
<path class=c6 d="M4555 4810l15-20l-117-135l-15 30z"/>
<path class=e10 d="M4438 4685l15-30"/>
<path class=c23 d="M4367 4402l15-42l-117-262l-15 60z"/>
<path class=e34 d="M4250 4158l15-60"/>
<path class=c0 d="M6559 4976l15-4l-117-54l-15 4z"/>
<path class=e0 d="M6442 4922l15-4"/>
<path class=c17 d="M4829 4554l15-4l-117-241l-15 4z"/>
<path class=e28 d="M4712 4313l15-4"/>
<path class=c0 d="M6244 4975l15-4l-116-56l-15 4z"/>
<path class=e0 d="M6128 4919l15-4"/>
<path class=c16 d="M4499 4568l15-27l-117-221l-15 40z"/>
<path class=e25 d="M4382 4360l15-40"/>
<path class=c0 d="M5615 4974l15-4l-116-55l-16 2z"/>
<path class=e0 d="M5498 4917l16-2"/>
<path class=c7 d="M4570 4790l15-19l-117-145l-15 29z"/>
<path class=e12 d="M4453 4655l15-29"/>
<path class=c9 d="M4945 4735l15-4l-116-181l-15 4z"/>
<path class=e17 d="M4829 4554l15-4"/>
<path class=c0 d="M5930 4973l15-4l-117-61l-15 5z"/>
<path class=e0 d="M5813 4913l15-5"/>
<path class=c1 d="M5346 4935l15-2l-116-86l-16 0z"/>
<path class=e3 d="M5229 4847l16 0"/>
<path class=c4 d="M5123 4856l15-2l-117-131l-15 1z"/>
<path class=e9 d="M5006 4724l15-1"/>
<path class=c8 d="M4585 4771l15-20l-116-154l-16 29z"/>
<path class=e13 d="M4468 4626l16-29"/>
<path class=c0 d="M6544 4980l15-4l-117-54l-15 4z"/>
<path class=e0 d="M6427 4926l15-4"/>
<path class=c17 d="M4813 4559l16-5l-117-241l-15 6z"/>
<path class=e27 d="M4697 4319l15-6"/>
<path class=c27 d="M4757 4309l16 3l-117-308l-15-7z"/>
<path class=e42 d="M4641 3997l15 7"/>
<path class=c0 d="M6229 4979l15-4l-116-56l-16 4z"/>
<path class=e0 d="M6112 4923l16-4"/>
<path class=c38 d="M4702 4045l15 20l-117-359l-15-32z"/>
<path class=e57 d="M4585 3674l15 32"/>
<path class=c0 d="M5600 4977l15-3l-117-57l-15 1z"/>
<path class=e0 d="M5483 4918l15-1"/>
<path class=c9 d="M4930 4740l15-5l-116-181l-16 5z"/>
<path class=e17 d="M4813 4559l16-5"/>
<path class=c0 d="M5914 4978l16-5l-117-60l-15 5z"/>
<path class=e0 d="M5798 4918l15-5"/>
<path class=c9 d="M4600 4751l15-19l-116-164l-15 29z"/>
<path class=e15 d="M4484 4597l15-29"/>
<path class=c17 d="M4514 4541l15-27l-117-234l-15 40z"/>
<path class=e27 d="M4397 4320l15-40"/>
<path class=c1 d="M5331 4938l15-3l-117-88l-15 0z"/>
<path class=e3 d="M5214 4847l15 0"/>
<path class=c4 d="M5108 4859l15-3l-117-132l-15 1z"/>
<path class=e9 d="M4991 4725l15-1"/>
<path class=c16 d="M4798 4566l15-7l-116-240l-16 8z"/>
<path class=e27 d="M4681 4327l16-8"/>
<path class=c10 d="M4615 4732l16-18l-117-173l-15 27z"/>
<path class=e16 d="M4499 4568l15-27"/>
<path class=c0 d="M6528 4984l16-4l-117-54l-15 4z"/>
<path class=e0 d="M6412 4930l15-4"/>
<path class=c0 d="M6214 4984l15-5l-117-56l-15 4z"/>
<path class=e0 d="M6097 4927l15-4"/>
<path class=c9 d="M4915 4745l15-5l-117-181l-15 7z"/>
<path class=e16 d="M4798 4566l15-7"/>
<path class=c0 d="M5899 4982l15-4l-116-60l-16 5z"/>
<path class=e0 d="M5782 4923l16-5"/>
<path class=c25 d="M4382 4360l15-40l-117-280l-15 58z"/>
<path class=e37 d="M4265 4098l15-58"/>
<path class=c0 d="M5585 4980l15-3l-117-59l-15 2z"/>
<path class=e0 d="M5468 4920l15-2"/>
<path class=c10 d="M4631 4714l15-18l-117-182l-15 27z"/>
<path class=e17 d="M4514 4541l15-27"/>
<path class=c16 d="M4783 4574l15-8l-117-239l-15 10z"/>
<path class=e27 d="M4666 4337l15-10"/>
<path class=c27 d="M4742 4308l15 1l-116-312l-16-4z"/>
<path class=e43 d="M4625 3993l16 4"/>
<path class=c19 d="M4529 4514l15-26l-116-245l-16 37z"/>
<path class=e29 d="M4412 4280l16-37"/>
<path class=c1 d="M5316 4940l15-2l-117-91l-15 1z"/>
<path class=e4 d="M5199 4848l15-1"/>
<path class=c4 d="M5092 4862l16-3l-117-134l-15 3z"/>
<path class=e9 d="M4976 4728l15-3"/>
<path class=c11 d="M4646 4696l15-18l-117-190l-15 26z"/>
<path class=e19 d="M4529 4514l15-26"/>
<path class=c0 d="M6513 4988l15-4l-116-54l-16 4z"/>
<path class=e0 d="M6396 4934l16-4"/>
<path class=c9 d="M4900 4751l15-6l-117-179l-15 8z"/>
<path class=e16 d="M4783 4574l15-8"/>
<path class=c16 d="M4768 4583l15-9l-117-237l-15 13z"/>
<path class=e26 d="M4651 4350l15-13"/>
<path class=c0 d="M6199 4988l15-4l-117-57l-15 4z"/>
<path class=e0 d="M6082 4931l15-4"/>
<path class=c0 d="M5884 4986l15-4l-117-59l-15 4z"/>
<path class=e0 d="M5767 4927l15-4"/>
<path class=c12 d="M4661 4678l15-16l-116-199l-16 25z"/>
<path class=e20 d="M4544 4488l16-25"/>
<path class=c16 d="M4752 4593l16-10l-117-233l-15 14z"/>
<path class=e26 d="M4636 4364l15-14"/>
<path class=c0 d="M5569 4983l16-3l-117-60l-15 1z"/>
<path class=e0 d="M5453 4921l15-1"/>
<path class=c13 d="M4676 4662l16-16l-117-206l-15 23z"/>
<path class=e21 d="M4560 4463l15-23"/>
<path class=c15 d="M4737 4605l15-12l-116-229l-16 16z"/>
<path class=e25 d="M4620 4380l16-16"/>
<path class=c9 d="M4884 4758l16-7l-117-177l-15 9z"/>
<path class=e16 d="M4768 4583l15-9"/>
<path class=c13 d="M4692 4646l15-15l-117-213l-15 22z"/>
<path class=e22 d="M4575 4440l15-22"/>
<path class=c15 d="M4722 4617l15-12l-117-225l-15 18z"/>
<path class=e24 d="M4605 4398l15-18"/>
<path class=c14 d="M4707 4631l15-14l-117-219l-15 20z"/>
<path class=e23 d="M4590 4418l15-20"/>
<path class=c4 d="M5077 4866l15-4l-116-134l-16 3z"/>
<path class=e9 d="M4960 4731l16-3"/>
<path class=c20 d="M4544 4488l16-25l-117-256l-15 36z"/>
<path class=e31 d="M4428 4243l15-36"/>
<path class=c0 d="M6498 4992l15-4l-117-54l-15 4z"/>
<path class=e0 d="M6381 4938l15-4"/>
<path class=c1 d="M5301 4943l15-3l-117-92l-15 1z"/>
<path class=e4 d="M5184 4849l15-1"/>
<path class=c28 d="M4727 4309l15-1l-117-315l-15 0z"/>
<path class=e43 d="M4610 3993l15 0"/>
<path class=c0 d="M6183 4992l16-4l-117-57l-15 5z"/>
<path class=e0 d="M6067 4936l15-5"/>
<path class=c0 d="M5869 4991l15-5l-117-59l-15 5z"/>
<path class=e0 d="M5752 4932l15-5"/>
<path class=c9 d="M4869 4766l15-8l-116-175l-16 10z"/>
<path class=e16 d="M4752 4593l16-10"/>
<path class=c40 d="M4686 4028l16 17l-117-371l-15-27z"/>
<path class=e59 d="M4570 3647l15 27"/>
<path class=c0 d="M5554 4987l15-4l-116-62l-16 2z"/>
<path class=e0 d="M5437 4923l16-2"/>
<path class=c4 d="M5062 4870l15-4l-117-135l-15 4z"/>
<path class=e9 d="M4945 4735l15-4"/>
<path class=c27 d="M4397 4320l15-40l-116-296l-16 56z"/>
<path class=e40 d="M4280 4040l16-56"/>
<path class=c8 d="M4854 4774l15-8l-117-173l-15 12z"/>
<path class=e15 d="M4737 4605l15-12"/>
<path class=c21 d="M4560 4463l15-23l-117-267l-15 34z"/>
<path class=e33 d="M4443 4207l15-34"/>
<path class=c0 d="M6483 4996l15-4l-117-54l-15 4z"/>
<path class=e0 d="M6366 4942l15-4"/>
<path class=c0 d="M6168 4996l15-4l-116-56l-16 4z"/>
<path class=e0 d="M6051 4940l16-4"/>
<path class=c1 d="M5285 4946l16-3l-117-94l-15 1z"/>
<path class=e4 d="M5169 4850l15-1"/>
<path class=c0 d="M5854 4995l15-4l-117-59l-15 5z"/>
<path class=e0 d="M5737 4937l15-5"/>
<path class=c28 d="M4712 4313l15-4l-117-316l-15 4z"/>
<path class=e43 d="M4595 3997l15-4"/>
<path class=c8 d="M4839 4783l15-9l-117-169l-15 12z"/>
<path class=e15 d="M4722 4617l15-12"/>
<path class=c0 d="M5539 4990l15-3l-117-64l-15 2z"/>
<path class=e1 d="M5422 4925l15-2"/>
<path class=c22 d="M4575 4440l15-22l-117-276l-15 31z"/>
<path class=e35 d="M4458 4173l15-31"/>
<path class=c8 d="M4824 4793l15-10l-117-166l-15 14z"/>
<path class=e14 d="M4707 4631l15-14"/>
<path class=c4 d="M5047 4874l15-4l-117-135l-15 5z"/>
<path class=e9 d="M4930 4740l15-5"/>
<path class=c0 d="M6468 5000l15-4l-117-54l-15 5z"/>
<path class=e0 d="M6351 4947l15-5"/>
<path class=c0 d="M6153 5000l15-4l-117-56l-15 4z"/>
<path class=e0 d="M6036 4944l15-4"/>
<path class=c27 d="M4697 4319l15-6l-117-316l-15 7z"/>
<path class=e43 d="M4580 4004l15-7"/>
<path class=c0 d="M5838 4999l16-4l-117-58l-15 5z"/>
<path class=e0 d="M5722 4942l15-5"/>
<path class=c7 d="M4808 4803l16-10l-117-162l-15 15z"/>
<path class=e13 d="M4692 4646l15-15"/>
<path class=c1 d="M5270 4949l15-3l-116-96l-16 2z"/>
<path class=e4 d="M5153 4852l16-2"/>
<path class=c7 d="M4793 4814l15-11l-116-157l-16 16z"/>
<path class=e13 d="M4676 4662l16-16"/>
<path class=c23 d="M4590 4418l15-20l-117-285l-15 29z"/>
<path class=e36 d="M4473 4142l15-29"/>
<path class=c7 d="M4778 4825l15-11l-117-152l-15 16z"/>
<path class=e12 d="M4661 4678l15-16"/>
<path class=c27 d="M4681 4327l16-8l-117-315l-15 10z"/>
<path class=e42 d="M4565 4014l15-10"/>
<path class=c4 d="M5032 4879l15-5l-117-134l-15 5z"/>
<path class=e9 d="M4915 4745l15-5"/>
<path class=c0 d="M5524 4993l15-3l-117-65l-15 2z"/>
<path class=e1 d="M5407 4927l15-2"/>
<path class=c6 d="M4763 4837l15-12l-117-147l-15 18z"/>
<path class=e11 d="M4646 4696l15-18"/>
<path class=c0 d="M6452 5005l16-5l-117-53l-15 4z"/>
<path class=e0 d="M6336 4951l15-4"/>
<path class=c0 d="M6138 5004l15-4l-117-56l-15 4z"/>
<path class=e0 d="M6021 4948l15-4"/>
<path class=c6 d="M4747 4849l16-12l-117-141l-15 18z"/>
<path class=e10 d="M4631 4714l15-18"/>
<path class=c0 d="M5823 5003l15-4l-116-57l-16 5z"/>
<path class=e0 d="M5706 4947l16-5"/>
<path class=c24 d="M4605 4398l15-18l-116-293l-16 26z"/>
<path class=e38 d="M4488 4113l16-26"/>
<path class=c5 d="M4732 4861l15-12l-116-135l-16 18z"/>
<path class=e10 d="M4615 4732l16-18"/>
<path class=c5 d="M4717 4873l15-12l-117-129l-15 19z"/>
<path class=e9 d="M4600 4751l15-19"/>
<path class=c4 d="M4702 4886l15-13l-117-122l-15 20z"/>
<path class=e8 d="M4585 4771l15-20"/>
<path class=c4 d="M4687 4899l15-13l-117-115l-15 19z"/>
<path class=e7 d="M4570 4790l15-19"/>
<path class=c27 d="M4666 4337l15-10l-116-313l-16 14z"/>
<path class=e42 d="M4549 4028l16-14"/>
<path class=c3 d="M4671 4912l16-13l-117-109l-15 20z"/>
<path class=e6 d="M4555 4810l15-20"/>
<path class=c3 d="M4656 4925l15-13l-116-102l-16 19z"/>
<path class=e5 d="M4539 4829l16-19"/>
<path class=c2 d="M4641 4937l15-12l-117-96l-15 20z"/>
<path class=e4 d="M4524 4849l15-20"/>
<path class=c29 d="M4412 4280l16-37l-117-313l-15 54z"/>
<path class=e43 d="M4296 3984l15-54"/>
<path class=c2 d="M4626 4950l15-13l-117-88l-15 19z"/>
<path class=e3 d="M4509 4868l15-19"/>
<path class=c2 d="M5255 4952l15-3l-117-97l-15 2z"/>
<path class=e4 d="M5138 4854l15-2"/>
<path class=c41 d="M4671 4014l15 14l-116-381l-16-23z"/>
<path class=e60 d="M4554 3624l16 23"/>
<path class=c25 d="M4620 4380l16-16l-117-300l-15 23z"/>
<path class=e39 d="M4504 4087l15-23"/>
<path class=c1 d="M4611 4962l15-12l-117-82l-15 18z"/>
<path class=e3 d="M4494 4886l15-18"/>
<path class=c26 d="M4651 4350l15-13l-117-309l-15 16z"/>
<path class=e41 d="M4534 4044l15-16"/>
<path class=c1 d="M4595 4974l16-12l-117-76l-15 18z"/>
<path class=e2 d="M4479 4904l15-18"/>
<path class=c26 d="M4636 4364l15-14l-117-306l-15 20z"/>
<path class=e40 d="M4519 4064l15-20"/>
<path class=c4 d="M5016 4884l16-5l-117-134l-15 6z"/>
<path class=e9 d="M4900 4751l15-6"/>
<path class=c0 d="M4580 4985l15-11l-116-70l-16 16z"/>
<path class=e1 d="M4463 4920l16-16"/>
<path class=c0 d="M6437 5009l15-4l-116-54l-16 4z"/>
<path class=e0 d="M6320 4955l16-4"/>
<path class=c0 d="M5509 4997l15-4l-117-66l-15 2z"/>
<path class=e1 d="M5392 4929l15-2"/>
<path class=c0 d="M6123 5008l15-4l-117-56l-15 4z"/>
<path class=e0 d="M6006 4952l15-4"/>
<path class=c0 d="M5808 5008l15-5l-117-56l-15 5z"/>
<path class=e0 d="M5691 4952l15-5"/>
<path class=c0 d="M4565 4995l15-10l-117-65l-15 15z"/>
<path class=e0 d="M4448 4935l15-15"/>
<path class=c0 d="M4550 5005l15-10l-117-60l-15 14z"/>
<path class=e0 d="M4433 4949l15-14"/>
<path class=c2 d="M5240 4956l15-4l-117-98l-15 2z"/>
<path class=e4 d="M5123 4856l15-2"/>
<path class=c4 d="M5001 4890l15-6l-116-133l-16 7z"/>
<path class=e9 d="M4884 4758l16-7"/>
<path class=c0 d="M4534 5012l16-7l-117-56l-15 9z"/>
<path class=e0 d="M4418 4958l15-9"/>
<path class=c0 d="M6422 5013l15-4l-117-54l-15 4z"/>
<path class=e0 d="M6305 4959l15-4"/>
<path class=c0 d="M5793 5012l15-4l-117-56l-15 5z"/>
<path class=e0 d="M5676 4957l15-5"/>
<path class=c0 d="M6107 5012l16-4l-117-56l-15 5z"/>
<path class=e0 d="M5991 4957l15-5"/>
<path class=c0 d="M5493 5000l16-3l-117-68l-15 2z"/>
<path class=e1 d="M5377 4931l15-2"/>
<path class=c4 d="M4986 4896l15-6l-117-132l-15 8z"/>
<path class=e9 d="M4869 4766l15-8"/>
<path class=c2 d="M5224 4959l16-3l-117-100l-15 3z"/>
<path class=e4 d="M5108 4859l15-3"/>
<path class=c31 d="M4428 4243l15-36l-117-328l-15 51z"/>
<path class=e46 d="M4311 3930l15-51"/>
<path class=c0 d="M5778 5016l15-4l-117-55l-15 5z"/>
<path class=e0 d="M5661 4962l15-5"/>
<path class=c0 d="M6407 5017l15-4l-117-54l-15 4z"/>
<path class=e0 d="M6290 4963l15-4"/>
<path class=c0 d="M6092 5017l15-5l-116-55l-16 4z"/>
<path class=e0 d="M5975 4961l16-4"/>
<path class=c41 d="M4656 4004l15 10l-117-390l-15-17z"/>
<path class=e61 d="M4539 3607l15 17"/>
<path class=c4 d="M4971 4902l15-6l-117-130l-15 8z"/>
<path class=e8 d="M4854 4774l15-8"/>
<path class=c0 d="M5478 5004l15-4l-116-69l-16 2z"/>
<path class=e1 d="M5361 4933l16-2"/>
<path class=c2 d="M5209 4963l15-4l-116-100l-16 3z"/>
<path class=e4 d="M5092 4862l16-3"/>
<path class=c4 d="M4956 4909l15-7l-117-128l-15 9z"/>
<path class=e8 d="M4839 4783l15-9"/>
<path class=c0 d="M5762 5021l16-5l-117-54l-15 5z"/>
<path class=e0 d="M5646 4967l15-5"/>
<path class=c0 d="M6391 5021l16-4l-117-54l-15 4z"/>
<path class=e0 d="M6275 4967l15-4"/>
<path class=c0 d="M6077 5021l15-4l-117-56l-15 4z"/>
<path class=e0 d="M5960 4965l15-4"/>
<path class=c0 d="M5463 5007l15-3l-117-71l-15 2z"/>
<path class=e1 d="M5346 4935l15-2"/>
<path class=c4 d="M4940 4916l16-7l-117-126l-15 10z"/>
<path class=e8 d="M4824 4793l15-10"/>
<path class=c33 d="M4443 4207l15-34l-117-341l-15 47z"/>
<path class=e49 d="M4326 3879l15-47"/>
<path class=c2 d="M5194 4967l15-4l-117-101l-15 4z"/>
<path class=e4 d="M5077 4866l15-4"/>
<path class=c0 d="M5747 5025l15-4l-116-54l-16 3z"/>
<path class=e0 d="M5630 4970l16-3"/>
<path class=c0 d="M6376 5025l15-4l-116-54l-16 4z"/>
<path class=e0 d="M6259 4971l16-4"/>
<path class=c0 d="M6062 5025l15-4l-117-56l-15 4z"/>
<path class=e0 d="M5945 4969l15-4"/>
<path class=c4 d="M4925 4923l15-7l-116-123l-16 10z"/>
<path class=e7 d="M4808 4803l16-10"/>
<path class=c42 d="M4641 3997l15 7l-117-397l-15-12z"/>
<path class=e62 d="M4524 3595l15 12"/>
<path class=c0 d="M5448 5011l15-4l-117-72l-15 3z"/>
<path class=e1 d="M5331 4938l15-3"/>
<path class=c2 d="M5179 4971l15-4l-117-101l-15 4z"/>
<path class=e4 d="M5062 4870l15-4"/>
<path class=c3 d="M4910 4930l15-7l-117-120l-15 11z"/>
<path class=e7 d="M4793 4814l15-11"/>
<path class=c0 d="M5732 5029l15-4l-117-55l-15 4z"/>
<path class=e0 d="M5615 4974l15-4"/>
<path class=c0 d="M6361 5029l15-4l-117-54l-15 4z"/>
<path class=e0 d="M6244 4975l15-4"/>
<path class=c0 d="M6046 5029l16-4l-117-56l-15 4z"/>
<path class=e0 d="M5930 4973l15-4"/>
<path class=c3 d="M4895 4938l15-8l-117-116l-15 11z"/>
<path class=e7 d="M4778 4825l15-11"/>
<path class=c0 d="M5433 5014l15-3l-117-73l-15 2z"/>
<path class=e1 d="M5316 4940l15-2"/>
<path class=c35 d="M4458 4173l15-31l-116-354l-16 44z"/>
<path class=e51 d="M4341 3832l16-44"/>
<path class=c2 d="M5164 4975l15-4l-117-101l-15 4z"/>
<path class=e4 d="M5047 4874l15-4"/>
<path class=c3 d="M4879 4946l16-8l-117-113l-15 12z"/>
<path class=e6 d="M4763 4837l15-12"/>
<path class=c0 d="M6346 5033l15-4l-117-54l-15 4z"/>
<path class=e0 d="M6229 4979l15-4"/>
<path class=c0 d="M5717 5033l15-4l-117-55l-15 3z"/>
<path class=e0 d="M5600 4977l15-3"/>
<path class=c0 d="M6031 5033l15-4l-116-56l-16 5z"/>
<path class=e0 d="M5914 4978l16-5"/>
<path class=c43 d="M4625 3993l16 4l-117-402l-15-7z"/>
<path class=e63 d="M4509 3588l15 7"/>
<path class=c3 d="M4864 4954l15-8l-116-109l-16 12z"/>
<path class=e6 d="M4747 4849l16-12"/>
<path class=c0 d="M5417 5018l16-4l-117-74l-15 3z"/>
<path class=e1 d="M5301 4943l15-3"/>
<path class=c2 d="M5148 4980l16-5l-117-101l-15 5z"/>
<path class=e4 d="M5032 4879l15-5"/>
<path class=c0 d="M6331 5037l15-4l-117-54l-15 5z"/>
<path class=e0 d="M6214 4984l15-5"/>
<path class=c0 d="M6016 5037l15-4l-117-55l-15 4z"/>
<path class=e0 d="M5899 4982l15-4"/>
<path class=c2 d="M4849 4962l15-8l-117-105l-15 12z"/>
<path class=e5 d="M4732 4861l15-12"/>
<path class=c0 d="M5701 5036l16-3l-117-56l-15 3z"/>
<path class=e0 d="M5585 4980l15-3"/>
<path class=c36 d="M4473 4142l15-29l-116-366l-15 41z"/>
<path class=e54 d="M4357 3788l15-41"/>
<path class=c2 d="M4834 4971l15-9l-117-101l-15 12z"/>
<path class=e5 d="M4717 4873l15-12"/>
<path class=c0 d="M5402 5022l15-4l-116-75l-16 3z"/>
<path class=e1 d="M5285 4946l16-3"/>
<path class=c2 d="M5133 4984l15-4l-116-101l-16 5z"/>
<path class=e4 d="M5016 4884l16-5"/>
<path class=c43 d="M4610 3993l15 0l-116-405l-16-2z"/>
<path class=e63 d="M4493 3586l16 2"/>
<path class=c0 d="M6315 5042l16-5l-117-53l-15 4z"/>
<path class=e0 d="M6199 4988l15-4"/>
<path class=c2 d="M4819 4979l15-8l-117-98l-15 13z"/>
<path class=e4 d="M4702 4886l15-13"/>
<path class=c0 d="M6001 5041l15-4l-117-55l-15 4z"/>
<path class=e0 d="M5884 4986l15-4"/>
<path class=c0 d="M5686 5040l15-4l-116-56l-16 3z"/>
<path class=e0 d="M5569 4983l16-3"/>
<path class=c38 d="M4488 4113l16-26l-117-376l-15 36z"/>
<path class=e56 d="M4372 3747l15-36"/>
<path class=c2 d="M4803 4988l16-9l-117-93l-15 13z"/>
<path class=e4 d="M4687 4899l15-13"/>
<path class=c2 d="M5118 4989l15-5l-117-100l-15 6z"/>
<path class=e4 d="M5001 4890l15-6"/>
<path class=c0 d="M5387 5025l15-3l-117-76l-15 3z"/>
<path class=e1 d="M5270 4949l15-3"/>
<path class=c1 d="M4788 4996l15-8l-116-89l-16 13z"/>
<path class=e3 d="M4671 4912l16-13"/>
<path class=c0 d="M6300 5046l15-4l-116-54l-16 4z"/>
<path class=e0 d="M6183 4992l16-4"/>
<path class=c0 d="M5986 5045l15-4l-117-55l-15 5z"/>
<path class=e0 d="M5869 4991l15-5"/>
<path class=c43 d="M4595 3997l15-4l-117-407l-15 3z"/>
<path class=e63 d="M4478 3589l15-3"/>
<path class=c0 d="M5671 5044l15-4l-117-57l-15 4z"/>
<path class=e0 d="M5554 4987l15-4"/>
<path class=c1 d="M4773 5005l15-9l-117-84l-15 13z"/>
<path class=e3 d="M4656 4925l15-13"/>
<path class=c39 d="M4504 4087l15-23l-117-385l-15 32z"/>
<path class=e58 d="M4387 3711l15-32"/>
<path class=c2 d="M5103 4994l15-5l-117-99l-15 6z"/>
<path class=e4 d="M4986 4896l15-6"/>
<path class=c0 d="M5372 5029l15-4l-117-76l-15 3z"/>
<path class=e2 d="M5255 4952l15-3"/>
<path class=c1 d="M4758 5014l15-9l-117-80l-15 12z"/>
<path class=e2 d="M4641 4937l15-12"/>
<path class=c0 d="M6285 5050l15-4l-117-54l-15 4z"/>
<path class=e0 d="M6168 4996l15-4"/>
<path class=c0 d="M5970 5050l16-5l-117-54l-15 4z"/>
<path class=e0 d="M5854 4995l15-4"/>
<path class=c43 d="M4580 4004l15-7l-117-408l-15 8z"/>
<path class=e63 d="M4463 3597l15-8"/>
<path class=c0 d="M5656 5048l15-4l-117-57l-15 3z"/>
<path class=e0 d="M5539 4990l15-3"/>
<path class=c40 d="M4519 4064l15-20l-117-393l-15 28z"/>
<path class=e59 d="M4402 3679l15-28"/>
<path class=c1 d="M4742 5022l16-8l-117-77l-15 13z"/>
<path class=e2 d="M4626 4950l15-13"/>
<path class=c1 d="M5088 4999l15-5l-117-98l-15 6z"/>
<path class=e4 d="M4971 4902l15-6"/>
<path class=c42 d="M4565 4014l15-10l-117-407l-15 13z"/>
<path class=e63 d="M4448 3610l15-13"/>
<path class=c41 d="M4534 4044l15-16l-116-400l-16 23z"/>
<path class=e61 d="M4417 3651l16-23"/>
<path class=c42 d="M4549 4028l16-14l-117-404l-15 18z"/>
<path class=e62 d="M4433 3628l15-18"/>
<path class=c0 d="M5356 5033l16-4l-117-77l-15 4z"/>
<path class=e2 d="M5240 4956l15-4"/>
<path class=c0 d="M4727 5030l15-8l-116-72l-15 12z"/>
<path class=e1 d="M4611 4962l15-12"/>
<path class=c0 d="M6270 5054l15-4l-117-54l-15 4z"/>
<path class=e0 d="M6153 5000l15-4"/>
<path class=c0 d="M5955 5054l15-4l-116-55l-16 4z"/>
<path class=e0 d="M5838 4999l16-4"/>
<path class=c0 d="M5641 5052l15-4l-117-58l-15 3z"/>
<path class=e0 d="M5524 4993l15-3"/>
<path class=c1 d="M5072 5004l16-5l-117-97l-15 7z"/>
<path class=e4 d="M4956 4909l15-7"/>
<path class=c0 d="M4712 5038l15-8l-116-68l-16 12z"/>
<path class=e1 d="M4595 4974l16-12"/>
<path class=c0 d="M5341 5037l15-4l-116-77l-16 3z"/>
<path class=e2 d="M5224 4959l16-3"/>
<path class=c0 d="M4697 5046l15-8l-117-64l-15 11z"/>
<path class=e0 d="M4580 4985l15-11"/>
<path class=c0 d="M5940 5058l15-4l-117-55l-15 4z"/>
<path class=e0 d="M5823 5003l15-4"/>
<path class=c0 d="M6255 5058l15-4l-117-54l-15 4z"/>
<path class=e0 d="M6138 5004l15-4"/>
<path class=c1 d="M5057 5010l15-6l-116-95l-16 7z"/>
<path class=e4 d="M4940 4916l16-7"/>
<path class=c0 d="M5625 5056l16-4l-117-59l-15 4z"/>
<path class=e0 d="M5509 4997l15-4"/>
<path class=c0 d="M4682 5053l15-7l-117-61l-15 10z"/>
<path class=e0 d="M4565 4995l15-10"/>
<path class=c0 d="M5326 5041l15-4l-117-78l-15 4z"/>
<path class=e2 d="M5209 4963l15-4"/>
<path class=c1 d="M5042 5015l15-5l-117-94l-15 7z"/>
<path class=e4 d="M4925 4923l15-7"/>
<path class=c0 d="M5925 5062l15-4l-117-55l-15 5z"/>
<path class=e0 d="M5808 5008l15-5"/>
<path class=c0 d="M6239 5062l16-4l-117-54l-15 4z"/>
<path class=e0 d="M6123 5008l15-4"/>
<path class=c0 d="M4666 5060l16-7l-117-58l-15 10z"/>
<path class=e0 d="M4550 5005l15-10"/>
<path class=c0 d="M5610 5060l15-4l-116-59l-16 3z"/>
<path class=e0 d="M5493 5000l16-3"/>
<path class=c1 d="M5027 5021l15-6l-117-92l-15 7z"/>
<path class=e3 d="M4910 4930l15-7"/>
<path class=c0 d="M5311 5045l15-4l-117-78l-15 4z"/>
<path class=e2 d="M5194 4967l15-4"/>
<path class=c0 d="M4651 5066l15-6l-116-55l-16 7z"/>
<path class=e0 d="M4534 5012l16-7"/>
<path class=c0 d="M5909 5066l16-4l-117-54l-15 4z"/>
<path class=e0 d="M5793 5012l15-4"/>
<path class=c0 d="M6224 5066l15-4l-116-54l-16 4z"/>
<path class=e0 d="M6107 5012l16-4"/>
<path class=c0 d="M5595 5064l15-4l-117-60l-15 4z"/>
<path class=e0 d="M5478 5004l15-4"/>
<path class=c1 d="M5011 5026l16-5l-117-91l-15 8z"/>
<path class=e3 d="M4895 4938l15-8"/>
<path class=c0 d="M5296 5049l15-4l-117-78l-15 4z"/>
<path class=e2 d="M5179 4971l15-4"/>
<path class=c0 d="M5894 5070l15-4l-116-54l-15 4z"/>
<path class=e0 d="M5778 5016l15-4"/>
<path class=c0 d="M6209 5070l15-4l-117-54l-15 5z"/>
<path class=e0 d="M6092 5017l15-5"/>
<path class=c1 d="M4996 5032l15-6l-116-88l-16 8z"/>
<path class=e3 d="M4879 4946l16-8"/>
<path class=c0 d="M5580 5068l15-4l-117-60l-15 3z"/>
<path class=e0 d="M5463 5007l15-3"/>
<path class=c0 d="M5280 5053l16-4l-117-78l-15 4z"/>
<path class=e2 d="M5164 4975l15-4"/>
<path class=c0 d="M5879 5074l15-4l-116-54l-16 5z"/>
<path class=e0 d="M5762 5021l16-5"/>
<path class=c0 d="M6194 5075l15-5l-117-53l-15 4z"/>
<path class=e0 d="M6077 5021l15-4"/>
<path class=c1 d="M4981 5038l15-6l-117-86l-15 8z"/>
<path class=e3 d="M4864 4954l15-8"/>
<path class=c0 d="M5564 5072l16-4l-117-61l-15 4z"/>
<path class=e0 d="M5448 5011l15-4"/>
<path class=c1 d="M4966 5044l15-6l-117-84l-15 8z"/>
<path class=e2 d="M4849 4962l15-8"/>
<path class=c0 d="M5265 5057l15-4l-116-78l-16 5z"/>
<path class=e2 d="M5148 4980l16-5"/>
<path class=c0 d="M5864 5079l15-5l-117-53l-15 4z"/>
<path class=e0 d="M5747 5025l15-4"/>
<path class=c0 d="M6178 5079l16-4l-117-54l-15 4z"/>
<path class=e0 d="M6062 5025l15-4"/>
<path class=c0 d="M5549 5076l15-4l-116-61l-15 3z"/>
<path class=e0 d="M5433 5014l15-3"/>
<path class=c1 d="M4951 5050l15-6l-117-82l-15 9z"/>
<path class=e2 d="M4834 4971l15-9"/>
<path class=c0 d="M5250 5062l15-5l-117-77l-15 4z"/>
<path class=e2 d="M5133 4984l15-4"/>
<path class=c0 d="M5849 5083l15-4l-117-54l-15 4z"/>
<path class=e0 d="M5732 5029l15-4"/>
<path class=c0 d="M6163 5083l15-4l-116-54l-16 4z"/>
<path class=e0 d="M6046 5029l16-4"/>
<path class=c1 d="M4935 5056l16-6l-117-79l-15 8z"/>
<path class=e2 d="M4819 4979l15-8"/>
<path class=c0 d="M5534 5080l15-4l-116-62l-16 4z"/>
<path class=e0 d="M5417 5018l16-4"/>
<path class=c0 d="M5235 5066l15-4l-117-78l-15 5z"/>
<path class=e2 d="M5118 4989l15-5"/>
<path class=c0 d="M5833 5087l16-4l-117-54l-15 4z"/>
<path class=e0 d="M5717 5033l15-4"/>
<path class=c0 d="M6148 5087l15-4l-117-54l-15 4z"/>
<path class=e0 d="M6031 5033l15-4"/>
<path class=c0 d="M4920 5062l15-6l-116-77l-16 9z"/>
<path class=e2 d="M4803 4988l16-9"/>
<path class=c0 d="M5519 5084l15-4l-117-62l-15 4z"/>
<path class=e0 d="M5402 5022l15-4"/>
<path class=c0 d="M5219 5070l16-4l-117-77l-15 5z"/>
<path class=e2 d="M5103 4994l15-5"/>
<path class=c0 d="M4905 5068l15-6l-117-74l-15 8z"/>
<path class=e1 d="M4788 4996l15-8"/>
<path class=c0 d="M5818 5091l15-4l-116-54l-16 3z"/>
<path class=e0 d="M5701 5036l16-3"/>
<path class=c0 d="M6133 5091l15-4l-117-54l-15 4z"/>
<path class=e0 d="M6016 5037l15-4"/>
<path class=c0 d="M5504 5088l15-4l-117-62l-15 3z"/>
<path class=e0 d="M5387 5025l15-3"/>
<path class=c0 d="M4890 5074l15-6l-117-72l-15 9z"/>
<path class=e1 d="M4773 5005l15-9"/>
<path class=c0 d="M5204 5075l15-5l-116-76l-15 5z"/>
<path class=e1 d="M5088 4999l15-5"/>
<path class=c0 d="M6118 5095l15-4l-117-54l-15 4z"/>
<path class=e0 d="M6001 5041l15-4"/>
<path class=c0 d="M5803 5095l15-4l-117-55l-15 4z"/>
<path class=e0 d="M5686 5040l15-4"/>
<path class=c0 d="M4874 5080l16-6l-117-69l-15 9z"/>
<path class=e1 d="M4758 5014l15-9"/>
<path class=c0 d="M5488 5092l16-4l-117-63l-15 4z"/>
<path class=e0 d="M5372 5029l15-4"/>
<path class=c0 d="M5189 5079l15-4l-116-76l-16 5z"/>
<path class=e1 d="M5072 5004l16-5"/>
<path class=c0 d="M6102 5099l16-4l-117-54l-15 4z"/>
<path class=e0 d="M5986 5045l15-4"/>
<path class=c0 d="M5788 5099l15-4l-117-55l-15 4z"/>
<path class=e0 d="M5671 5044l15-4"/>
<path class=c0 d="M4859 5086l15-6l-116-66l-16 8z"/>
<path class=e1 d="M4742 5022l16-8"/>
<path class=c0 d="M5473 5096l15-4l-116-63l-16 4z"/>
<path class=e0 d="M5356 5033l16-4"/>
<path class=c0 d="M5174 5084l15-5l-117-75l-15 6z"/>
<path class=e1 d="M5057 5010l15-6"/>
<path class=c0 d="M4844 5092l15-6l-117-64l-15 8z"/>
<path class=e0 d="M4727 5030l15-8"/>
<path class=c0 d="M6087 5103l15-4l-116-54l-16 5z"/>
<path class=e0 d="M5970 5050l16-5"/>
<path class=c0 d="M5773 5103l15-4l-117-55l-15 4z"/>
<path class=e0 d="M5656 5048l15-4"/>
<path class=c0 d="M5458 5100l15-4l-117-63l-15 4z"/>
<path class=e0 d="M5341 5037l15-4"/>
<path class=c0 d="M5159 5088l15-4l-117-74l-15 5z"/>
<path class=e1 d="M5042 5015l15-5"/>
<path class=c0 d="M4829 5098l15-6l-117-62l-15 8z"/>
<path class=e0 d="M4712 5038l15-8"/>
<path class=c0 d="M6072 5107l15-4l-117-53l-15 4z"/>
<path class=e0 d="M5955 5054l15-4"/>
<path class=c0 d="M5757 5107l16-4l-117-55l-15 4z"/>
<path class=e0 d="M5641 5052l15-4"/>
<path class=c0 d="M4814 5104l15-6l-117-60l-15 8z"/>
<path class=e0 d="M4697 5046l15-8"/>
<path class=c0 d="M5143 5093l16-5l-117-73l-15 6z"/>
<path class=e1 d="M5027 5021l15-6"/>
<path class=c0 d="M5443 5104l15-4l-117-63l-15 4z"/>
<path class=e0 d="M5326 5041l15-4"/>
<path class=c0 d="M6057 5112l15-5l-117-53l-15 4z"/>
<path class=e0 d="M5940 5058l15-4"/>
<path class=c0 d="M5742 5111l15-4l-116-55l-16 4z"/>
<path class=e0 d="M5625 5056l16-4"/>
<path class=c0 d="M4798 5109l16-5l-117-58l-15 7z"/>
<path class=e0 d="M4682 5053l15-7"/>
<path class=c0 d="M5128 5098l15-5l-116-72l-16 5z"/>
<path class=e1 d="M5011 5026l16-5"/>
<path class=c0 d="M5428 5109l15-5l-117-63l-15 4z"/>
<path class=e0 d="M5311 5045l15-4"/>
<path class=c0 d="M6041 5116l16-4l-117-54l-15 4z"/>
<path class=e0 d="M5925 5062l15-4"/>
<path class=c0 d="M4783 5114l15-5l-116-56l-16 7z"/>
<path class=e0 d="M4666 5060l16-7"/>
<path class=c0 d="M5727 5115l15-4l-117-55l-15 4z"/>
<path class=e0 d="M5610 5060l15-4"/>
<path class=c0 d="M5113 5102l15-4l-117-72l-15 6z"/>
<path class=e1 d="M4996 5032l15-6"/>
<path class=c0 d="M5412 5113l16-4l-117-64l-15 4z"/>
<path class=e0 d="M5296 5049l15-4"/>
<path class=c0 d="M4768 5119l15-5l-117-54l-15 6z"/>
<path class=e0 d="M4651 5066l15-6"/>
<path class=c0 d="M6026 5120l15-4l-116-54l-16 4z"/>
<path class=e0 d="M5909 5066l16-4"/>
<path class=c0 d="M5712 5120l15-5l-117-55l-15 4z"/>
<path class=e0 d="M5595 5064l15-4"/>
<path class=c0 d="M5098 5107l15-5l-117-70l-15 6z"/>
<path class=e1 d="M4981 5038l15-6"/>
<path class=c0 d="M5397 5117l15-4l-116-64l-16 4z"/>
<path class=e0 d="M5280 5053l16-4"/>
<path class=c0 d="M6011 5124l15-4l-117-54l-15 4z"/>
<path class=e0 d="M5894 5070l15-4"/>
<path class=c0 d="M5696 5124l16-4l-117-56l-15 4z"/>
<path class=e0 d="M5580 5068l15-4"/>
<path class=c0 d="M5083 5112l15-5l-117-69l-15 6z"/>
<path class=e1 d="M4966 5044l15-6"/>
<path class=c0 d="M5382 5121l15-4l-117-64l-15 4z"/>
<path class=e0 d="M5265 5057l15-4"/>
<path class=c0 d="M5996 5128l15-4l-117-54l-15 4z"/>
<path class=e0 d="M5879 5074l15-4"/>
<path class=c0 d="M5067 5117l16-5l-117-68l-15 6z"/>
<path class=e1 d="M4951 5050l15-6"/>
<path class=c0 d="M5681 5128l15-4l-116-56l-16 4z"/>
<path class=e0 d="M5564 5072l16-4"/>
<path class=c0 d="M5367 5125l15-4l-117-64l-15 5z"/>
<path class=e0 d="M5250 5062l15-5"/>
<path class=c0 d="M5052 5121l15-4l-116-67l-16 6z"/>
<path class=e1 d="M4935 5056l16-6"/>
<path class=c0 d="M5981 5132l15-4l-117-54l-15 5z"/>
<path class=e0 d="M5864 5079l15-5"/>
<path class=c0 d="M5666 5132l15-4l-117-56l-15 4z"/>
<path class=e0 d="M5549 5076l15-4"/>
<path class=c0 d="M5351 5129l16-4l-117-63l-15 4z"/>
<path class=e0 d="M5235 5066l15-4"/>
<path class=c0 d="M5037 5126l15-5l-117-65l-15 6z"/>
<path class=e0 d="M4920 5062l15-6"/>
<path class=c0 d="M5965 5136l16-4l-117-53l-15 4z"/>
<path class=e0 d="M5849 5083l15-4"/>
<path class=c0 d="M5651 5136l15-4l-117-56l-15 4z"/>
<path class=e0 d="M5534 5080l15-4"/>
<path class=c0 d="M5336 5133l15-4l-116-63l-16 4z"/>
<path class=e0 d="M5219 5070l16-4"/>
<path class=c0 d="M5022 5131l15-5l-117-64l-15 6z"/>
<path class=e0 d="M4905 5068l15-6"/>
<path class=c0 d="M5950 5140l15-4l-116-53l-16 4z"/>
<path class=e0 d="M5833 5087l16-4"/>
<path class=c0 d="M5636 5140l15-4l-117-56l-15 4z"/>
<path class=e0 d="M5519 5084l15-4"/>
<path class=c0 d="M5321 5138l15-5l-117-63l-15 5z"/>
<path class=e0 d="M5204 5075l15-5"/>
<path class=c0 d="M5006 5136l16-5l-117-63l-15 6z"/>
<path class=e0 d="M4890 5074l15-6"/>
<path class=c0 d="M5935 5145l15-5l-117-53l-15 4z"/>
<path class=e0 d="M5818 5091l15-4"/>
<path class=c0 d="M5620 5144l16-4l-117-56l-15 4z"/>
<path class=e0 d="M5504 5088l15-4"/>
<path class=c0 d="M5306 5142l15-4l-117-63l-15 4z"/>
<path class=e0 d="M5189 5079l15-4"/>
<path class=c0 d="M4991 5141l15-5l-116-62l-16 6z"/>
<path class=e0 d="M4874 5080l16-6"/>
<path class=c0 d="M5920 5149l15-4l-117-54l-15 4z"/>
<path class=e0 d="M5803 5095l15-4"/>
<path class=c0 d="M5605 5148l15-4l-116-56l-16 4z"/>
<path class=e0 d="M5488 5092l16-4"/>
<path class=c0 d="M4976 5145l15-4l-117-61l-15 6z"/>
<path class=e0 d="M4859 5086l15-6"/>
<path class=c0 d="M5291 5146l15-4l-117-63l-15 5z"/>
<path class=e0 d="M5174 5084l15-5"/>
<path class=c0 d="M5905 5153l15-4l-117-54l-15 4z"/>
<path class=e0 d="M5788 5099l15-4"/>
<path class=c0 d="M5590 5152l15-4l-117-56l-15 4z"/>
<path class=e0 d="M5473 5096l15-4"/>
<path class=c0 d="M4961 5150l15-5l-117-59l-15 6z"/>
<path class=e0 d="M4844 5092l15-6"/>
<path class=c0 d="M5275 5150l16-4l-117-62l-15 4z"/>
<path class=e0 d="M5159 5088l15-4"/>
<path class=c0 d="M5889 5157l16-4l-117-54l-15 4z"/>
<path class=e0 d="M5773 5103l15-4"/>
<path class=c0 d="M5575 5157l15-5l-117-56l-15 4z"/>
<path class=e0 d="M5458 5100l15-4"/>
<path class=c0 d="M4946 5155l15-5l-117-58l-15 6z"/>
<path class=e0 d="M4829 5098l15-6"/>
<path class=c0 d="M5260 5154l15-4l-116-62l-16 5z"/>
<path class=e0 d="M5143 5093l16-5"/>
<path class=c0 d="M5874 5161l15-4l-116-54l-16 4z"/>
<path class=e0 d="M5757 5107l16-4"/>
<path class=c0 d="M5560 5161l15-4l-117-57l-15 4z"/>
<path class=e0 d="M5443 5104l15-4"/>
<path class=c0 d="M4930 5160l16-5l-117-57l-15 6z"/>
<path class=e0 d="M4814 5104l15-6"/>
<path class=c0 d="M5245 5159l15-5l-117-61l-15 5z"/>
<path class=e0 d="M5128 5098l15-5"/>
<path class=c0 d="M5859 5165l15-4l-117-54l-15 4z"/>
<path class=e0 d="M5742 5111l15-4"/>
<path class=c0 d="M4915 5164l15-4l-116-56l-16 5z"/>
<path class=e0 d="M4798 5109l16-5"/>
<path class=c0 d="M5544 5165l16-4l-117-57l-15 5z"/>
<path class=e0 d="M5428 5109l15-5"/>
<path class=c0 d="M5230 5163l15-4l-117-61l-15 4z"/>
<path class=e0 d="M5113 5102l15-4"/>
<path class=c0 d="M4900 5169l15-5l-117-55l-15 5z"/>
<path class=e0 d="M4783 5114l15-5"/>
<path class=c0 d="M5844 5169l15-4l-117-54l-15 4z"/>
<path class=e0 d="M5727 5115l15-4"/>
<path class=c0 d="M5529 5169l15-4l-116-56l-16 4z"/>
<path class=e0 d="M5412 5113l16-4"/>
<path class=c0 d="M5215 5167l15-4l-117-61l-15 5z"/>
<path class=e0 d="M5098 5107l15-5"/>
<path class=c0 d="M4885 5173l15-4l-117-55l-15 5z"/>
<path class=e0 d="M4768 5119l15-5"/>
<path class=c0 d="M5828 5173l16-4l-117-54l-15 5z"/>
<path class=e0 d="M5712 5120l15-5"/>
<path class=c0 d="M5514 5173l15-4l-117-56l-15 4z"/>
<path class=e0 d="M5397 5117l15-4"/>
<path class=c0 d="M5199 5171l16-4l-117-60l-15 5z"/>
<path class=e0 d="M5083 5112l15-5"/>
<path class=c0 d="M5813 5178l15-5l-116-53l-16 4z"/>
<path class=e0 d="M5696 5124l16-4"/>
<path class=c0 d="M5499 5177l15-4l-117-56l-15 4z"/>
<path class=e0 d="M5382 5121l15-4"/>
<path class=c0 d="M5184 5176l15-5l-116-59l-16 5z"/>
<path class=e0 d="M5067 5117l16-5"/>
<path class=c0 d="M5798 5182l15-4l-117-54l-15 4z"/>
<path class=e0 d="M5681 5128l15-4"/>
<path class=c0 d="M5483 5181l16-4l-117-56l-15 4z"/>
<path class=e0 d="M5367 5125l15-4"/>
<path class=c0 d="M5169 5180l15-4l-117-59l-15 4z"/>
<path class=e0 d="M5052 5121l15-4"/>
<path class=c0 d="M5783 5186l15-4l-117-54l-15 4z"/>
<path class=e0 d="M5666 5132l15-4"/>
<path class=c0 d="M5468 5185l15-4l-116-56l-16 4z"/>
<path class=e0 d="M5351 5129l16-4"/>
<path class=c0 d="M5154 5184l15-4l-117-59l-15 5z"/>
<path class=e0 d="M5037 5126l15-5"/>
<path class=c0 d="M5768 5190l15-4l-117-54l-15 4z"/>
<path class=e0 d="M5651 5136l15-4"/>
<path class=c0 d="M5453 5190l15-5l-117-56l-15 4z"/>
<path class=e0 d="M5336 5133l15-4"/>
<path class=c0 d="M5138 5189l16-5l-117-58l-15 5z"/>
<path class=e0 d="M5022 5131l15-5"/>
<path class=c0 d="M5752 5194l16-4l-117-54l-15 4z"/>
<path class=e0 d="M5636 5140l15-4"/>
<path class=c0 d="M5438 5194l15-4l-117-57l-15 5z"/>
<path class=e0 d="M5321 5138l15-5"/>
<path class=c0 d="M5123 5193l15-4l-116-58l-16 5z"/>
<path class=e0 d="M5006 5136l16-5"/>
<path class=c0 d="M5737 5198l15-4l-116-54l-16 4z"/>
<path class=e0 d="M5620 5144l16-4"/>
<path class=c0 d="M5423 5198l15-4l-117-56l-15 4z"/>
<path class=e0 d="M5306 5142l15-4"/>
<path class=c0 d="M5108 5197l15-4l-117-57l-15 5z"/>
<path class=e0 d="M4991 5141l15-5"/>
<path class=c0 d="M5722 5202l15-4l-117-54l-15 4z"/>
<path class=e0 d="M5605 5148l15-4"/>
<path class=c0 d="M5407 5202l16-4l-117-56l-15 4z"/>
<path class=e0 d="M5291 5146l15-4"/>
<path class=c0 d="M5093 5201l15-4l-117-56l-15 4z"/>
<path class=e0 d="M4976 5145l15-4"/>
<path class=c0 d="M5707 5206l15-4l-117-54l-15 4z"/>
<path class=e0 d="M5590 5152l15-4"/>
<path class=c0 d="M5078 5206l15-5l-117-56l-15 5z"/>
<path class=e0 d="M4961 5150l15-5"/>
<path class=c0 d="M5392 5206l15-4l-116-56l-16 4z"/>
<path class=e0 d="M5275 5150l16-4"/>
<path class=c0 d="M5691 5210l16-4l-117-54l-15 5z"/>
<path class=e0 d="M5575 5157l15-5"/>
<path class=c0 d="M5062 5210l16-4l-117-56l-15 5z"/>
<path class=e0 d="M4946 5155l15-5"/>
<path class=c0 d="M5377 5210l15-4l-117-56l-15 4z"/>
<path class=e0 d="M5260 5154l15-4"/>
<path class=c0 d="M5047 5214l15-4l-116-55l-16 5z"/>
<path class=e0 d="M4930 5160l16-5"/>
<path class=c0 d="M5676 5215l15-5l-116-53l-15 4z"/>
<path class=e0 d="M5560 5161l15-4"/>
<path class=c0 d="M5362 5214l15-4l-117-56l-15 5z"/>
<path class=e0 d="M5245 5159l15-5"/>
<path class=c0 d="M5032 5218l15-4l-117-54l-15 4z"/>
<path class=e0 d="M4915 5164l15-4"/>
<path class=c0 d="M5661 5219l15-4l-116-54l-16 4z"/>
<path class=e0 d="M5544 5165l16-4"/>
<path class=c0 d="M5346 5218l16-4l-117-55l-15 4z"/>
<path class=e0 d="M5230 5163l15-4"/>
<path class=c0 d="M5017 5222l15-4l-117-54l-15 5z"/>
<path class=e0 d="M4900 5169l15-5"/>
<path class=c0 d="M5646 5223l15-4l-117-54l-15 4z"/>
<path class=e0 d="M5529 5169l15-4"/>
<path class=c0 d="M5331 5223l15-5l-116-55l-15 4z"/>
<path class=e0 d="M5215 5167l15-4"/>
<path class=c0 d="M5001 5227l16-5l-117-53l-15 4z"/>
<path class=e0 d="M4885 5173l15-4"/>
<path class=c0 d="M5631 5227l15-4l-117-54l-15 4z"/>
<path class=e0 d="M5514 5173l15-4"/>
<path class=c0 d="M5316 5227l15-4l-116-56l-16 4z"/>
<path class=e0 d="M5199 5171l16-4"/>
<path class=c0 d="M5615 5231l16-4l-117-54l-15 4z"/>
<path class=e0 d="M5499 5177l15-4"/>
<path class=c0 d="M5301 5231l15-4l-117-56l-15 5z"/>
<path class=e0 d="M5184 5176l15-5"/>
<path class=c0 d="M5600 5235l15-4l-116-54l-16 4z"/>
<path class=e0 d="M5483 5181l16-4"/>
<path class=c0 d="M5286 5235l15-4l-117-55l-15 4z"/>
<path class=e0 d="M5169 5180l15-4"/>
<path class=c0 d="M5585 5239l15-4l-117-54l-15 4z"/>
<path class=e0 d="M5468 5185l15-4"/>
<path class=c0 d="M5270 5239l16-4l-117-55l-15 4z"/>
<path class=e0 d="M5154 5184l15-4"/>
<path class=c0 d="M5570 5243l15-4l-117-54l-15 5z"/>
<path class=e0 d="M5453 5190l15-5"/>
<path class=c0 d="M5255 5243l15-4l-116-55l-16 5z"/>
<path class=e0 d="M5138 5189l16-5"/>
<path class=c0 d="M5555 5248l15-5l-117-53l-15 4z"/>
<path class=e0 d="M5438 5194l15-4"/>
<path class=c0 d="M5240 5247l15-4l-117-54l-15 4z"/>
<path class=e0 d="M5123 5193l15-4"/>
<path class=c0 d="M5225 5251l15-4l-117-54l-15 4z"/>
<path class=e0 d="M5108 5197l15-4"/>
<path class=c0 d="M5539 5252l16-4l-117-54l-15 4z"/>
<path class=e0 d="M5423 5198l15-4"/>
<path class=c0 d="M5210 5256l15-5l-117-54l-15 4z"/>
<path class=e0 d="M5093 5201l15-4"/>
<path class=c0 d="M5524 5256l15-4l-116-54l-16 4z"/>
<path class=e0 d="M5407 5202l16-4"/>
<path class=c0 d="M5194 5260l16-4l-117-55l-15 5z"/>
<path class=e0 d="M5078 5206l15-5"/>
<path class=c0 d="M5509 5260l15-4l-117-54l-15 4z"/>
<path class=e0 d="M5392 5206l15-4"/>
<path class=c0 d="M5179 5264l15-4l-116-54l-16 4z"/>
<path class=e0 d="M5062 5210l16-4"/>
<path class=c0 d="M5494 5264l15-4l-117-54l-15 4z"/>
<path class=e0 d="M5377 5210l15-4"/>
<path class=c0 d="M5164 5268l15-4l-117-54l-15 4z"/>
<path class=e0 d="M5047 5214l15-4"/>
<path class=c0 d="M5478 5268l16-4l-117-54l-15 4z"/>
<path class=e0 d="M5362 5214l15-4"/>
<path class=c0 d="M5149 5272l15-4l-117-54l-15 4z"/>
<path class=e0 d="M5032 5218l15-4"/>
<path class=c0 d="M5463 5272l15-4l-116-54l-16 4z"/>
<path class=e0 d="M5346 5218l16-4"/>
<path class=c0 d="M5133 5276l16-4l-117-54l-15 4z"/>
<path class=e0 d="M5017 5222l15-4"/>
<path class=c0 d="M5448 5276l15-4l-117-54l-15 5z"/>
<path class=e0 d="M5331 5223l15-5"/>
<path class=c0 d="M5118 5280l15-4l-116-54l-16 5z"/>
<path class=e0 d="M5001 5227l16-5"/>
<path class=c0 d="M5433 5280l15-4l-117-53l-15 4z"/>
<path class=e0 d="M5316 5227l15-4"/>
<path class=c0 d="M5418 5285l15-5l-117-53l-15 4z"/>
<path class=e0 d="M5301 5231l15-4"/>
<path class=c0 d="M5402 5289l16-4l-117-54l-15 4z"/>
<path class=e0 d="M5286 5235l15-4"/>
<path class=c0 d="M5387 5293l15-4l-116-54l-16 4z"/>
<path class=e0 d="M5270 5239l16-4"/>
<path class=c0 d="M5372 5297l15-4l-117-54l-15 4z"/>
<path class=e0 d="M5255 5243l15-4"/>
<path class=c0 d="M5357 5301l15-4l-117-54l-15 4z"/>
<path class=e0 d="M5240 5247l15-4"/>
<path class=c0 d="M5342 5305l15-4l-117-54l-15 4z"/>
<path class=e0 d="M5225 5251l15-4"/>
<path class=c0 d="M5326 5309l16-4l-117-54l-15 5z"/>
<path class=e0 d="M5210 5256l15-5"/>
<path class=c0 d="M5311 5313l15-4l-116-53l-16 4z"/>
<path class=e0 d="M5194 5260l16-4"/>
<path class=c0 d="M5296 5318l15-5l-117-53l-15 4z"/>
<path class=e0 d="M5179 5264l15-4"/>
<path class=c0 d="M5281 5322l15-4l-117-54l-15 4z"/>
<path class=e0 d="M5164 5268l15-4"/>
<path class=c0 d="M5265 5326l16-4l-117-54l-15 4z"/>
<path class=e0 d="M5149 5272l15-4"/>
<path class=c0 d="M5250 5330l15-4l-116-54l-16 4z"/>
<path class=e0 d="M5133 5276l16-4"/>
<path class=c0 d="M5235 5334l15-4l-117-54l-15 4z"/>
<path class=e0 d="M5118 5280l15-4"/></g>
<text x="400" y="480.1" class="t" text-anchor="end">0</text>
<text x="400" y="460.6" class="t" text-anchor="end">0.5</text>
<text x="400" y="441" class="t" text-anchor="end">1</text>
<text x="400" y="421.5" class="t" text-anchor="end">1.5</text>
<text x="400" y="402" class="t" text-anchor="end">2</text>
<text x="400" y="382.4" class="t" text-anchor="end">2.5</text>
<text x="400" y="362.9" class="t" text-anchor="end">3</text>
<text x="530.5" y="545.7" class="t" text-anchor="start">0</text>
<text x="560.9" y="537.4" class="t" text-anchor="start">0.2</text>
<text x="591.4" y="529.2" class="t" text-anchor="start">0.4</text>
<text x="621.8" y="521" class="t" text-anchor="start">0.6</text>
<text x="652.2" y="512.7" class="t" text-anchor="start">0.8</text>
<text x="682.7" y="504.5" class="t" text-anchor="start">1</text>
<text x="516.7" y="544" class="t" text-anchor="end">0</text>
<text x="458.3" y="517.1" class="t" text-anchor="end">0.5</text>
<text x="399.9" y="490.3" class="t" text-anchor="end">1</text>
<text x="176.6" y="9.2" class="ti" text-anchor="middle">Source term f(x,t)</text>
<text x="543.7" y="9.2" class="ti" text-anchor="middle">Exact solution u(x,t)</text>
<text x="179.3" y="314.2" class="ti" text-anchor="middle">Approximate solution u<tspan class="tsub" dy="3.5">approx</tspan><tspan dy="-3.5">(x,t)</tspan></text>
<text x="541.1" y="318" class="ti" text-anchor="middle">Absolute error</text>
<text x="102.5" y="236.1" class="l" text-anchor="middle">t</text>
<text x="224" y="239.6" class="l" text-anchor="middle">x</text>
<text x="469.5" y="236.1" class="l" text-anchor="middle">t</text>
<text x="589.5" y="239.6" class="l" text-anchor="middle">x</text>
<text x="105.5" y="544.3" class="l" text-anchor="middle">t</text>
<text x="225" y="547.8" class="l" text-anchor="middle">x</text>
<text x="467" y="544.3" class="l" text-anchor="middle">t</text>
<text x="588" y="547.8" class="l" text-anchor="middle">x</text>
<text class="l" text-anchor="middle" transform="translate(17.7,112.85) rotate(-90)">f(x,t)</text>
<text class="l" text-anchor="middle" transform="translate(371.2,112.85) rotate(-90)">u<tspan class="lsub" dy="4.3">exact</tspan><tspan dy="-4.3">(x,t)</tspan></text>
<text class="l" text-anchor="middle" transform="translate(7.0,420.9) rotate(-90)">u<tspan class="lsub" dy="4.2">approx</tspan><tspan dy="-4.2">(x,t)</tspan></text>
<text class="l" text-anchor="middle" transform="translate(378.7,421.4) rotate(-90)">|u<tspan class="lsub" dy="4.1">approx</tspan><tspan dy="-4.1"> - u</tspan><tspan class="lsub" dy="4.1">exact</tspan><tspan dy="-4.1">|</tspan></text>
<text x="378.3" y="349.2" class="t">&#215;</text><text x="385.2" y="348.8" class="t">10</text><text x="394.3" y="344.9" class="sup">-13</text>
<text x="96.3" y="274.9" class="cap" textLength="148.1" lengthAdjust="spacingAndGlyphs">(a) Exact solution <tspan class="it">u</tspan>(<tspan class="it">x, t</tspan>)</text>
<text x="422.1" y="274.9" class="cap" textLength="225" lengthAdjust="spacingAndGlyphs">(b) Approximate solution <tspan class="it">u</tspan><tspan class="csub" dy="2">approx</tspan><tspan dy="-2">(</tspan><tspan class="it">x, t</tspan>)</text>
<text x="66.0" y="583.6" class="cap" textLength="208.4" lengthAdjust="spacingAndGlyphs">(c) Absolute error |<tspan class="it">u</tspan><tspan class="csub" dy="2">approx</tspan><tspan dy="-2"> &#8722; </tspan><tspan class="it">u</tspan><tspan class="csub" dy="2">exact</tspan><tspan dy="-2">|</tspan></text>
<text x="466.6" y="583.6" class="cap" textLength="135.7" lengthAdjust="spacingAndGlyphs">(d) Source term <tspan class="it">f</tspan>(<tspan class="it">x, t</tspan>)</text>
</svg>
</body></html>
